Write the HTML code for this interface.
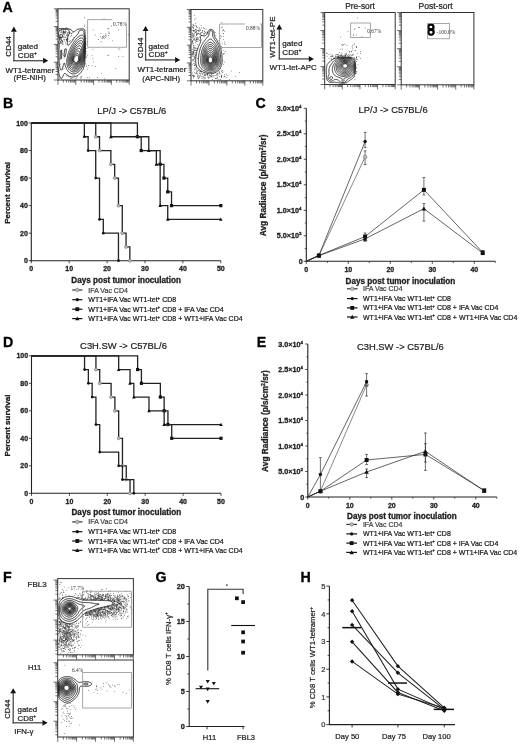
<!DOCTYPE html>
<html><head><meta charset="utf-8"><style>
html,body{margin:0;padding:0;background:#fff;}
svg{display:block;font-family:"Liberation Sans",sans-serif;filter:grayscale(1);}
</style></head><body>
<svg width="520" height="744" viewBox="0 0 520 744">
<rect width="520" height="744" fill="#fff"/>
<text x="2.60" y="12.30" font-size="14.2" font-weight="bold" text-anchor="start" fill="#000" stroke="#000" stroke-width="0.3">A</text>
<text x="3.10" y="108.10" font-size="14.2" font-weight="bold" text-anchor="start" fill="#000" stroke="#000" stroke-width="0.3">B</text>
<text x="255.40" y="108.10" font-size="14.2" font-weight="bold" text-anchor="start" fill="#000" stroke="#000" stroke-width="0.3">C</text>
<text x="2.90" y="346.60" font-size="14.2" font-weight="bold" text-anchor="start" fill="#000" stroke="#000" stroke-width="0.3">D</text>
<text x="256.80" y="347.00" font-size="14.2" font-weight="bold" text-anchor="start" fill="#000" stroke="#000" stroke-width="0.3">E</text>
<text x="3.00" y="582.40" font-size="14.2" font-weight="bold" text-anchor="start" fill="#000" stroke="#000" stroke-width="0.3">F</text>
<text x="155.60" y="581.90" font-size="14.2" font-weight="bold" text-anchor="start" fill="#000" stroke="#000" stroke-width="0.3">G</text>
<text x="300.60" y="582.20" font-size="14.2" font-weight="bold" text-anchor="start" fill="#000" stroke="#000" stroke-width="0.3">H</text>
<line x1="13.90" y1="61.35" x2="13.90" y2="31.40" stroke="#4a4a4a" stroke-width="1.3"/>
<path d="M11.00,31.70 L13.90,26.60 L16.80,31.70 Z" fill="#111"/>
<line x1="13.25" y1="60.70" x2="43.40" y2="60.70" stroke="#4a4a4a" stroke-width="1.3"/>
<path d="M43.10,57.80 L48.20,60.70 L43.10,63.60 Z" fill="#111"/>
<text x="11.00" y="46.40" font-size="8.0" text-anchor="middle" transform="rotate(-90 11.00 46.40)" fill="#1e1e1e" stroke="#1e1e1e" stroke-width="0.22">CD44</text>
<text x="17.80" y="48.80" font-size="8.1" text-anchor="start" fill="#1e1e1e" stroke="#1e1e1e" stroke-width="0.22">gated</text>
<text x="17.80" y="57.80" font-size="8.1" text-anchor="start" fill="#1e1e1e" stroke="#1e1e1e" stroke-width="0.22">CD8<tspan font-size="5" dy="-3">+</tspan></text>
<text x="5.40" y="72.80" font-size="7.95" text-anchor="start" fill="#1e1e1e" stroke="#1e1e1e" stroke-width="0.22">WT1-tetramer</text>
<text x="13.60" y="80.40" font-size="7.95" text-anchor="start" fill="#1e1e1e" stroke="#1e1e1e" stroke-width="0.22">(PE-NIH)</text>
<line x1="145.60" y1="60.55" x2="145.60" y2="30.80" stroke="#4a4a4a" stroke-width="1.3"/>
<path d="M142.70,31.10 L145.60,26.00 L148.50,31.10 Z" fill="#111"/>
<line x1="144.95" y1="59.90" x2="175.40" y2="59.90" stroke="#4a4a4a" stroke-width="1.3"/>
<path d="M175.10,57.00 L180.20,59.90 L175.10,62.80 Z" fill="#111"/>
<text x="143.40" y="47.90" font-size="8.0" text-anchor="middle" transform="rotate(-90 143.40 47.90)" fill="#1e1e1e" stroke="#1e1e1e" stroke-width="0.22">CD44</text>
<text x="148.60" y="48.80" font-size="8.1" text-anchor="start" fill="#1e1e1e" stroke="#1e1e1e" stroke-width="0.22">gated</text>
<text x="148.60" y="57.30" font-size="8.1" text-anchor="start" fill="#1e1e1e" stroke="#1e1e1e" stroke-width="0.22">CD8<tspan font-size="5" dy="-3">+</tspan></text>
<text x="137.40" y="72.40" font-size="7.95" text-anchor="start" fill="#1e1e1e" stroke="#1e1e1e" stroke-width="0.22">WT1-tetramer</text>
<text x="142.30" y="81.00" font-size="7.95" text-anchor="start" fill="#1e1e1e" stroke="#1e1e1e" stroke-width="0.22">(APC-NIH)</text>
<line x1="279.30" y1="59.55" x2="279.30" y2="29.10" stroke="#4a4a4a" stroke-width="1.3"/>
<path d="M276.40,29.40 L279.30,24.30 L282.20,29.40 Z" fill="#111"/>
<line x1="278.65" y1="58.90" x2="309.10" y2="58.90" stroke="#4a4a4a" stroke-width="1.3"/>
<path d="M308.80,56.00 L313.90,58.90 L308.80,61.80 Z" fill="#111"/>
<text x="274.80" y="37.20" font-size="7.9" text-anchor="middle" transform="rotate(-90 274.80 37.20)" fill="#1e1e1e" stroke="#1e1e1e" stroke-width="0.22">WT1-tet-PE</text>
<text x="282.30" y="45.50" font-size="8.1" text-anchor="start" fill="#1e1e1e" stroke="#1e1e1e" stroke-width="0.22">gated</text>
<text x="282.30" y="54.50" font-size="8.1" text-anchor="start" fill="#1e1e1e" stroke="#1e1e1e" stroke-width="0.22">CD8<tspan font-size="5" dy="-3">+</tspan></text>
<text x="269.60" y="70.00" font-size="7.95" text-anchor="start" fill="#1e1e1e" stroke="#1e1e1e" stroke-width="0.22">WT1-tet-APC</text>
<text x="360.00" y="9.00" font-size="8.3" text-anchor="middle" fill="#1e1e1e" stroke="#1e1e1e" stroke-width="0.22">Pre-sort</text>
<text x="435.60" y="9.00" font-size="8.5" text-anchor="middle" fill="#1e1e1e" stroke="#1e1e1e" stroke-width="0.22">Post-sort</text>
<rect x="65.92" y="34.10" width="0.70" height="0.70" fill="#333"/>
<rect x="74.84" y="78.42" width="0.70" height="0.70" fill="#333"/>
<rect x="103.99" y="78.52" width="0.70" height="0.70" fill="#333"/>
<rect x="58.62" y="36.18" width="0.70" height="0.70" fill="#333"/>
<rect x="67.24" y="32.11" width="0.70" height="0.70" fill="#333"/>
<rect x="60.46" y="31.65" width="0.70" height="0.70" fill="#333"/>
<rect x="59.03" y="70.28" width="0.70" height="0.70" fill="#333"/>
<rect x="61.11" y="58.06" width="0.70" height="0.70" fill="#333"/>
<rect x="91.79" y="65.12" width="0.70" height="0.70" fill="#333"/>
<rect x="82.60" y="56.96" width="0.70" height="0.70" fill="#333"/>
<rect x="85.34" y="63.39" width="0.70" height="0.70" fill="#333"/>
<rect x="87.34" y="68.78" width="0.70" height="0.70" fill="#333"/>
<rect x="61.08" y="28.14" width="0.70" height="0.70" fill="#333"/>
<rect x="107.52" y="54.80" width="0.70" height="0.70" fill="#333"/>
<rect x="66.89" y="39.12" width="0.70" height="0.70" fill="#333"/>
<rect x="72.41" y="38.87" width="0.70" height="0.70" fill="#333"/>
<rect x="62.69" y="31.63" width="0.70" height="0.70" fill="#333"/>
<rect x="67.76" y="34.96" width="0.70" height="0.70" fill="#333"/>
<rect x="59.77" y="36.68" width="0.70" height="0.70" fill="#333"/>
<rect x="86.37" y="43.78" width="0.70" height="0.70" fill="#333"/>
<rect x="66.99" y="40.39" width="0.70" height="0.70" fill="#333"/>
<rect x="71.27" y="35.28" width="0.70" height="0.70" fill="#333"/>
<rect x="65.96" y="38.87" width="0.70" height="0.70" fill="#333"/>
<rect x="59.52" y="37.27" width="0.70" height="0.70" fill="#333"/>
<rect x="60.50" y="32.69" width="0.70" height="0.70" fill="#333"/>
<rect x="66.11" y="34.91" width="0.70" height="0.70" fill="#333"/>
<rect x="63.99" y="34.57" width="0.70" height="0.70" fill="#333"/>
<rect x="71.06" y="33.00" width="0.70" height="0.70" fill="#333"/>
<rect x="93.07" y="61.64" width="0.70" height="0.70" fill="#333"/>
<rect x="94.98" y="66.15" width="0.70" height="0.70" fill="#333"/>
<rect x="67.92" y="38.77" width="0.70" height="0.70" fill="#333"/>
<rect x="67.04" y="38.10" width="0.70" height="0.70" fill="#333"/>
<rect x="61.59" y="37.12" width="0.70" height="0.70" fill="#333"/>
<rect x="66.80" y="74.99" width="0.70" height="0.70" fill="#333"/>
<rect x="60.50" y="38.26" width="0.70" height="0.70" fill="#333"/>
<rect x="71.05" y="33.13" width="0.70" height="0.70" fill="#333"/>
<rect x="62.81" y="31.76" width="0.70" height="0.70" fill="#333"/>
<rect x="63.40" y="55.34" width="0.70" height="0.70" fill="#333"/>
<rect x="103.68" y="18.62" width="0.70" height="0.70" fill="#333"/>
<rect x="101.31" y="72.92" width="0.70" height="0.70" fill="#333"/>
<rect x="108.19" y="54.92" width="0.70" height="0.70" fill="#333"/>
<rect x="64.02" y="49.06" width="0.70" height="0.70" fill="#333"/>
<rect x="65.33" y="32.20" width="0.70" height="0.70" fill="#333"/>
<rect x="72.08" y="32.41" width="0.70" height="0.70" fill="#333"/>
<rect x="62.09" y="40.65" width="0.70" height="0.70" fill="#333"/>
<rect x="84.24" y="17.43" width="0.70" height="0.70" fill="#333"/>
<rect x="74.35" y="75.19" width="0.70" height="0.70" fill="#333"/>
<rect x="58.96" y="36.95" width="0.70" height="0.70" fill="#333"/>
<rect x="65.52" y="31.62" width="0.70" height="0.70" fill="#333"/>
<rect x="63.27" y="31.09" width="0.70" height="0.70" fill="#333"/>
<rect x="69.93" y="40.33" width="0.70" height="0.70" fill="#333"/>
<rect x="62.04" y="43.94" width="0.70" height="0.70" fill="#333"/>
<rect x="85.63" y="38.28" width="0.70" height="0.70" fill="#333"/>
<rect x="83.33" y="33.55" width="0.70" height="0.70" fill="#333"/>
<rect x="59.23" y="28.18" width="0.70" height="0.70" fill="#333"/>
<rect x="118.15" y="56.23" width="0.70" height="0.70" fill="#333"/>
<rect x="108.58" y="33.25" width="0.70" height="0.70" fill="#333"/>
<rect x="62.57" y="41.56" width="0.70" height="0.70" fill="#333"/>
<rect x="73.46" y="37.08" width="0.70" height="0.70" fill="#333"/>
<rect x="86.60" y="27.53" width="0.70" height="0.70" fill="#333"/>
<rect x="59.94" y="63.78" width="0.70" height="0.70" fill="#333"/>
<rect x="61.12" y="39.48" width="0.70" height="0.70" fill="#333"/>
<rect x="62.91" y="30.55" width="0.70" height="0.70" fill="#333"/>
<rect x="63.51" y="39.12" width="0.70" height="0.70" fill="#333"/>
<rect x="62.90" y="37.35" width="0.70" height="0.70" fill="#333"/>
<rect x="71.65" y="78.06" width="0.70" height="0.70" fill="#333"/>
<rect x="59.34" y="42.89" width="0.70" height="0.70" fill="#333"/>
<rect x="59.45" y="77.99" width="0.70" height="0.70" fill="#333"/>
<rect x="127.79" y="34.38" width="0.70" height="0.70" fill="#333"/>
<rect x="61.51" y="38.73" width="0.70" height="0.70" fill="#333"/>
<rect x="63.77" y="33.06" width="0.70" height="0.70" fill="#333"/>
<rect x="92.80" y="29.71" width="0.70" height="0.70" fill="#333"/>
<rect x="69.10" y="32.35" width="0.70" height="0.70" fill="#333"/>
<rect x="118.22" y="29.63" width="0.70" height="0.70" fill="#333"/>
<rect x="88.21" y="65.27" width="0.70" height="0.70" fill="#333"/>
<rect x="84.38" y="47.39" width="0.70" height="0.70" fill="#333"/>
<rect x="59.62" y="55.60" width="0.70" height="0.70" fill="#333"/>
<rect x="81.65" y="49.66" width="0.70" height="0.70" fill="#333"/>
<rect x="67.08" y="33.21" width="0.70" height="0.70" fill="#333"/>
<rect x="85.19" y="43.47" width="0.70" height="0.70" fill="#333"/>
<rect x="67.88" y="35.59" width="0.70" height="0.70" fill="#333"/>
<rect x="89.00" y="77.35" width="0.70" height="0.70" fill="#333"/>
<rect x="62.55" y="69.00" width="0.70" height="0.70" fill="#333"/>
<rect x="66.02" y="40.08" width="0.70" height="0.70" fill="#333"/>
<rect x="68.27" y="33.60" width="0.70" height="0.70" fill="#333"/>
<rect x="61.58" y="53.40" width="0.70" height="0.70" fill="#333"/>
<rect x="115.42" y="67.99" width="0.70" height="0.70" fill="#333"/>
<rect x="62.53" y="53.65" width="0.70" height="0.70" fill="#333"/>
<rect x="91.64" y="55.43" width="0.70" height="0.70" fill="#333"/>
<rect x="64.03" y="38.92" width="0.70" height="0.70" fill="#333"/>
<rect x="62.78" y="33.74" width="0.70" height="0.70" fill="#333"/>
<rect x="66.86" y="35.31" width="0.70" height="0.70" fill="#333"/>
<rect x="59.79" y="38.95" width="0.70" height="0.70" fill="#333"/>
<rect x="58.89" y="28.35" width="0.70" height="0.70" fill="#333"/>
<rect x="85.54" y="29.81" width="0.70" height="0.70" fill="#333"/>
<rect x="65.67" y="31.53" width="0.70" height="0.70" fill="#333"/>
<rect x="83.65" y="56.54" width="0.70" height="0.70" fill="#333"/>
<rect x="61.32" y="31.27" width="0.70" height="0.70" fill="#333"/>
<rect x="60.49" y="43.33" width="0.70" height="0.70" fill="#333"/>
<rect x="58.48" y="58.31" width="0.70" height="0.70" fill="#333"/>
<rect x="68.74" y="41.31" width="0.70" height="0.70" fill="#333"/>
<rect x="65.68" y="27.33" width="0.70" height="0.70" fill="#333"/>
<rect x="61.39" y="32.05" width="0.70" height="0.70" fill="#333"/>
<rect x="85.89" y="56.68" width="0.70" height="0.70" fill="#333"/>
<rect x="63.04" y="31.61" width="0.70" height="0.70" fill="#333"/>
<rect x="70.92" y="33.59" width="0.70" height="0.70" fill="#333"/>
<rect x="59.48" y="76.34" width="0.70" height="0.70" fill="#333"/>
<rect x="65.19" y="30.94" width="0.70" height="0.70" fill="#333"/>
<rect x="82.81" y="66.55" width="0.70" height="0.70" fill="#333"/>
<rect x="86.93" y="77.16" width="0.70" height="0.70" fill="#333"/>
<rect x="65.16" y="36.67" width="0.70" height="0.70" fill="#333"/>
<rect x="80.93" y="76.76" width="0.70" height="0.70" fill="#333"/>
<rect x="62.62" y="31.83" width="0.70" height="0.70" fill="#333"/>
<rect x="68.44" y="36.70" width="0.70" height="0.70" fill="#333"/>
<rect x="59.51" y="59.22" width="0.70" height="0.70" fill="#333"/>
<rect x="68.08" y="76.42" width="0.70" height="0.70" fill="#333"/>
<rect x="83.96" y="24.73" width="0.70" height="0.70" fill="#333"/>
<rect x="62.59" y="33.12" width="0.70" height="0.70" fill="#333"/>
<rect x="87.36" y="55.32" width="0.70" height="0.70" fill="#333"/>
<rect x="65.10" y="42.55" width="0.70" height="0.70" fill="#333"/>
<rect x="62.61" y="28.67" width="0.70" height="0.70" fill="#333"/>
<rect x="64.16" y="40.67" width="0.70" height="0.70" fill="#333"/>
<rect x="86.98" y="42.50" width="0.70" height="0.70" fill="#333"/>
<rect x="84.82" y="35.60" width="0.70" height="0.70" fill="#333"/>
<rect x="86.64" y="48.12" width="0.70" height="0.70" fill="#333"/>
<rect x="79.93" y="76.72" width="0.70" height="0.70" fill="#333"/>
<rect x="60.05" y="38.37" width="0.70" height="0.70" fill="#333"/>
<rect x="59.90" y="50.85" width="0.70" height="0.70" fill="#333"/>
<rect x="97.19" y="77.08" width="0.70" height="0.70" fill="#333"/>
<rect x="60.73" y="37.23" width="0.70" height="0.70" fill="#333"/>
<rect x="66.50" y="39.03" width="0.70" height="0.70" fill="#333"/>
<rect x="86.30" y="66.23" width="0.70" height="0.70" fill="#333"/>
<rect x="76.92" y="75.94" width="0.70" height="0.70" fill="#333"/>
<rect x="59.78" y="41.22" width="0.70" height="0.70" fill="#333"/>
<rect x="59.66" y="37.51" width="0.70" height="0.70" fill="#333"/>
<rect x="68.42" y="32.16" width="0.70" height="0.70" fill="#333"/>
<rect x="80.92" y="76.00" width="0.70" height="0.70" fill="#333"/>
<rect x="69.66" y="32.78" width="0.70" height="0.70" fill="#333"/>
<rect x="64.74" y="37.07" width="0.70" height="0.70" fill="#333"/>
<rect x="86.77" y="41.12" width="0.70" height="0.70" fill="#333"/>
<rect x="60.98" y="29.11" width="0.70" height="0.70" fill="#333"/>
<rect x="68.49" y="31.64" width="0.70" height="0.70" fill="#333"/>
<rect x="66.41" y="75.66" width="0.70" height="0.70" fill="#333"/>
<rect x="62.34" y="36.50" width="0.70" height="0.70" fill="#333"/>
<rect x="63.77" y="68.33" width="0.70" height="0.70" fill="#333"/>
<rect x="67.09" y="38.14" width="0.70" height="0.70" fill="#333"/>
<rect x="59.75" y="57.72" width="0.70" height="0.70" fill="#333"/>
<rect x="65.67" y="39.09" width="0.70" height="0.70" fill="#333"/>
<rect x="119.47" y="48.87" width="0.70" height="0.70" fill="#333"/>
<rect x="65.25" y="29.56" width="0.70" height="0.70" fill="#333"/>
<rect x="65.55" y="44.49" width="0.70" height="0.70" fill="#333"/>
<rect x="61.80" y="49.74" width="0.70" height="0.70" fill="#333"/>
<rect x="86.11" y="56.77" width="0.70" height="0.70" fill="#333"/>
<rect x="63.22" y="36.37" width="0.70" height="0.70" fill="#333"/>
<rect x="59.59" y="34.73" width="0.70" height="0.70" fill="#333"/>
<rect x="100.58" y="33.11" width="0.70" height="0.70" fill="#333"/>
<rect x="58.93" y="30.16" width="0.70" height="0.70" fill="#333"/>
<rect x="80.53" y="78.37" width="0.70" height="0.70" fill="#333"/>
<rect x="69.05" y="40.95" width="0.70" height="0.70" fill="#333"/>
<rect x="69.66" y="29.24" width="0.70" height="0.70" fill="#333"/>
<rect x="60.13" y="58.51" width="0.70" height="0.70" fill="#333"/>
<rect x="118.07" y="48.44" width="0.70" height="0.70" fill="#333"/>
<rect x="62.43" y="40.86" width="0.70" height="0.70" fill="#333"/>
<rect x="64.44" y="36.71" width="0.70" height="0.70" fill="#333"/>
<rect x="122.50" y="56.22" width="0.70" height="0.70" fill="#333"/>
<rect x="63.87" y="31.97" width="0.70" height="0.70" fill="#333"/>
<rect x="64.14" y="51.26" width="0.70" height="0.70" fill="#333"/>
<rect x="92.56" y="58.53" width="0.70" height="0.70" fill="#333"/>
<rect x="62.56" y="43.04" width="0.70" height="0.70" fill="#333"/>
<rect x="63.69" y="57.79" width="0.70" height="0.70" fill="#333"/>
<rect x="69.95" y="76.59" width="0.70" height="0.70" fill="#333"/>
<rect x="62.54" y="28.05" width="0.70" height="0.70" fill="#333"/>
<rect x="67.39" y="33.91" width="0.70" height="0.70" fill="#333"/>
<rect x="111.93" y="40.47" width="0.70" height="0.70" fill="#333"/>
<rect x="92.73" y="48.85" width="0.70" height="0.70" fill="#333"/>
<rect x="84.34" y="36.14" width="0.70" height="0.70" fill="#333"/>
<rect x="81.95" y="42.23" width="0.70" height="0.70" fill="#333"/>
<rect x="76.24" y="77.66" width="0.70" height="0.70" fill="#333"/>
<rect x="85.84" y="51.41" width="0.70" height="0.70" fill="#333"/>
<rect x="86.61" y="53.58" width="0.70" height="0.70" fill="#333"/>
<rect x="67.70" y="29.05" width="0.70" height="0.70" fill="#333"/>
<rect x="62.64" y="33.62" width="0.70" height="0.70" fill="#333"/>
<rect x="58.58" y="43.41" width="0.70" height="0.70" fill="#333"/>
<rect x="59.51" y="38.72" width="0.70" height="0.70" fill="#333"/>
<rect x="60.04" y="35.74" width="0.70" height="0.70" fill="#333"/>
<rect x="72.51" y="75.11" width="0.70" height="0.70" fill="#333"/>
<rect x="83.17" y="51.05" width="0.70" height="0.70" fill="#333"/>
<rect x="60.64" y="37.24" width="0.70" height="0.70" fill="#333"/>
<rect x="94.93" y="34.73" width="0.70" height="0.70" fill="#333"/>
<rect x="84.29" y="26.26" width="0.70" height="0.70" fill="#333"/>
<rect x="60.65" y="37.18" width="0.70" height="0.70" fill="#333"/>
<rect x="85.78" y="64.55" width="0.70" height="0.70" fill="#333"/>
<rect x="62.06" y="34.83" width="0.70" height="0.70" fill="#333"/>
<rect x="63.42" y="34.11" width="0.70" height="0.70" fill="#333"/>
<rect x="67.20" y="41.02" width="0.70" height="0.70" fill="#333"/>
<rect x="70.69" y="78.31" width="0.70" height="0.70" fill="#333"/>
<rect x="58.88" y="64.66" width="0.70" height="0.70" fill="#333"/>
<rect x="65.39" y="33.10" width="0.70" height="0.70" fill="#333"/>
<rect x="70.37" y="36.12" width="0.70" height="0.70" fill="#333"/>
<rect x="62.66" y="43.67" width="0.70" height="0.70" fill="#333"/>
<path d="M58.0,29.8 L58.4,29.4 L59.0,29.1 L59.4,29.0 L60.1,28.8 L60.7,28.8 L61.1,28.7 L61.9,28.7 L62.5,28.6 L63.2,28.6 L64.0,28.6 L64.7,28.6 L65.3,28.6 L66.0,28.5 L66.8,28.5 L67.5,28.6 L68.2,28.7 L68.6,28.8 L69.2,28.9 L69.7,29.1 L70.2,29.3 L70.6,29.5 L71.1,29.8 L71.5,30.1 L71.8,30.5 L72.2,30.8 L72.5,31.2 L72.9,31.6 L73.4,31.9 L74.1,31.8 L74.6,31.6 L75.0,31.2 L75.4,30.8 L75.8,30.5 L76.2,30.1 L76.5,29.9 L76.9,29.7 L77.4,29.4 L78.0,29.3 L78.7,29.1 L79.0,29.1 L79.7,29.0 L80.4,28.9 L81.1,28.8 L81.8,28.8 L82.5,28.8 L83.2,28.9 L83.9,29.0 L84.2,29.2 L84.6,29.8 L84.7,30.1 L84.8,30.8 L84.9,31.6 L85.0,32.0 L85.0,32.6 L85.1,33.3 L85.1,34.0 L85.2,34.7 L85.2,35.4 L85.3,36.1 L85.3,36.8 L85.3,37.1 L85.4,37.8 L85.4,38.5 L85.4,39.2 L85.5,40.0 L85.5,40.6 L85.5,41.3 L85.5,42.0 L85.5,42.8 L85.5,43.5 L85.5,44.1 L85.5,44.8 L85.5,45.5 L85.5,46.2 L85.5,47.0 L85.5,47.6 L85.5,48.3 L85.5,49.0 L85.5,49.8 L85.5,50.5 L85.5,51.1 L85.4,51.8 L85.4,52.5 L85.4,53.2 L85.4,54.0 L85.3,54.6 L85.3,55.0 L85.3,55.7 L85.2,56.4 L85.2,57.1 L85.2,57.8 L85.1,58.5 L85.1,59.2 L85.0,59.9 L85.0,60.6 L84.9,61.0 L84.9,61.6 L84.8,62.3 L84.7,63.0 L84.6,63.8 L84.6,64.1 L84.5,64.8 L84.4,65.5 L84.2,66.0 L84.1,66.5 L83.9,67.2 L83.8,67.6 L83.5,68.3 L83.4,68.6 L83.2,69.1 L82.9,69.7 L82.7,70.0 L82.4,70.4 L82.2,70.8 L81.8,71.3 L81.5,71.8 L81.1,72.1 L80.8,72.5 L80.5,72.8 L80.2,73.2 L79.9,73.5 L79.5,73.9 L79.1,74.2 L78.7,74.6 L78.3,74.9 L78.0,75.2 L77.6,75.4 L77.2,75.6 L76.6,76.0 L76.2,76.2 L75.8,76.3 L75.2,76.6 L74.8,76.7 L74.1,76.9 L73.4,77.0 L72.9,77.0 L72.3,77.1 L72.0,77.0 L71.3,77.0 L70.6,76.8 L70.2,76.7 L69.5,76.4 L69.2,76.3 L68.7,76.0 L68.2,75.7 L67.8,75.4 L67.5,75.2 L67.1,74.9 L66.7,74.6 L66.3,74.2 L65.9,73.9 L65.4,73.5 L65.0,73.4 L64.4,73.5 L64.1,73.9 L63.8,74.2 L63.6,74.7 L63.3,75.3 L63.2,75.6 L62.9,76.3 L62.7,76.7 L62.5,77.0 L62.2,77.6 L61.9,78.1 L61.5,78.4 L61.1,78.5 L60.8,78.4 L60.5,78.0 L60.1,77.5 L59.9,77.0 L59.8,76.6 L59.5,76.0 L59.4,75.5 L59.3,74.9 L59.1,74.2 L59.0,73.9 L58.9,73.2 L58.7,72.5 L58.7,72.1 L58.6,71.5 L58.5,70.8 L58.4,70.0 L58.3,69.7 L58.2,69.0 L58.1,68.3 L58.1,67.6 L58.0,66.9" fill="none" stroke="#0a0a0a" stroke-width="0.8"/>
<path d="M73.8,73.9 L73.0,73.9 L72.7,73.9 L72.0,73.7 L71.4,73.5 L71.0,73.4 L70.6,73.2 L70.0,72.8 L69.5,72.6 L69.2,72.3 L68.8,72.0 L68.5,71.7 L68.2,71.3 L67.8,70.9 L67.5,70.4 L67.2,70.0 L67.0,69.7 L66.8,69.2 L66.5,68.6 L66.3,68.3 L66.0,67.7 L65.8,67.2 L65.7,66.8 L65.5,66.2 L65.3,65.8 L65.1,65.1 L65.0,64.7 L64.8,64.1 L64.7,63.5 L64.3,63.0 L64.2,63.0 L64.0,63.4 L63.7,64.1 L63.6,64.5 L63.4,65.1 L63.2,65.7 L63.1,66.2 L62.9,66.9 L62.8,67.2 L62.6,68.0 L62.4,68.3 L62.2,68.9 L62.0,69.3 L61.8,69.7 L61.5,70.1 L60.9,70.0 L60.6,69.7 L60.4,69.3 L60.2,68.6 L60.1,68.3 L59.9,67.6 L59.8,66.9 L59.7,66.5 L59.6,65.8 L59.5,65.1 L59.4,64.5 L59.4,64.1 L59.3,63.4 L59.2,62.7 L59.2,62.0 L59.1,61.3 L59.1,60.6 L59.1,59.9 L59.0,59.5 L59.0,58.8 L59.0,58.1 L59.0,57.5 L59.0,56.8 L59.0,56.0 L58.9,55.3 L58.9,54.6 L59.0,54.0 L59.0,53.2 L59.0,52.5 L59.0,51.8 L59.0,51.1 L59.0,50.5 L59.0,49.9 L59.1,49.4 L59.1,48.7 L59.1,48.0 L59.2,47.3 L59.2,46.6 L59.3,45.9 L59.3,45.2 L59.3,44.5 L59.1,43.8 L59.0,43.5 L58.7,42.9 L58.6,42.4 L58.6,41.7 L58.8,41.3 L59.0,40.9 L59.4,40.4 L59.6,40.0 L59.7,39.2 L59.5,38.5 L59.3,38.2 L59.0,37.8 L58.7,37.1 L58.6,36.8 L58.4,36.1 L58.5,35.4 L58.6,34.7 L58.6,34.0 L58.6,33.3 L58.6,32.6 L58.7,32.0 L58.8,31.6 L59.0,31.2 L59.4,30.8 L59.8,30.5 L60.5,30.2 L60.8,30.1 L61.5,30.0 L62.2,29.9 L62.6,29.8 L63.2,29.7 L64.0,29.7 L64.7,29.6 L65.2,29.4 L65.7,29.4 L66.4,29.3 L67.1,29.3 L67.8,29.4 L68.2,29.7 L68.5,30.0 L68.8,30.5 L69.1,30.8 L69.3,31.2 L69.5,31.6 L69.8,32.2 L69.8,33.0 L69.5,33.6 L69.3,34.0 L69.0,34.3 L68.7,34.7 L68.4,35.0 L68.1,35.4 L67.8,35.8 L67.6,36.5 L67.5,36.9 L67.3,37.5 L67.2,38.2 L67.2,38.9 L67.2,39.6 L67.2,40.3 L67.2,41.0 L67.3,41.7 L67.3,42.4 L67.3,43.1 L67.4,43.8 L67.5,44.2 L67.6,44.8 L67.9,45.2 L68.3,45.2 L68.8,44.9 L69.2,44.6 L69.5,44.2 L69.9,43.9 L70.2,43.5 L70.5,43.1 L70.8,42.8 L71.1,42.4 L71.4,42.0 L71.7,41.7 L72.0,41.2 L72.3,40.7 L72.6,40.3 L72.9,40.0 L73.1,39.6 L73.4,39.2 L73.8,38.8 L74.1,38.3 L74.4,37.8 L74.7,37.5 L75.0,37.1 L75.3,36.8 L75.6,36.5 L75.9,36.1 L76.2,35.8 L76.6,35.4 L76.9,35.0 L77.3,34.7 L77.6,34.3 L78.0,33.9 L78.3,33.4 L78.5,33.0 L78.7,32.4 L78.7,31.9 L79.0,31.2 L79.3,30.8 L79.7,30.6 L80.0,30.4 L80.8,30.2 L81.2,30.1 L81.7,30.1 L82.2,30.2 L82.8,30.4 L83.2,30.7 L83.5,31.1 L83.7,31.6 L83.9,32.2 L84.0,32.6 L84.1,33.3 L84.2,33.9 L84.3,34.3 L84.4,35.0 L84.5,35.8 L84.6,36.2 L84.7,36.8 L84.7,37.5 L84.8,38.2 L84.8,38.9 L84.9,39.6 L84.9,40.3 L84.9,41.0 L85.0,41.3 L85.0,42.0 L85.0,42.8 L85.0,43.5 L85.0,44.1 L85.0,44.8 L85.0,45.5 L85.0,46.2 L85.0,47.0 L85.0,47.6 L85.0,48.3 L85.0,49.0 L85.0,49.8 L85.0,50.5 L85.0,51.1 L85.0,51.5 L84.9,52.2 L84.9,52.9 L84.9,53.6 L84.8,54.3 L84.8,55.0 L84.8,55.7 L84.7,56.4 L84.7,57.1 L84.6,57.8 L84.6,58.1 L84.5,58.8 L84.4,59.5 L84.4,60.2 L84.3,61.0 L84.2,61.3 L84.1,62.0 L84.0,62.7 L83.9,63.1 L83.8,63.8 L83.6,64.5 L83.4,64.8 L83.2,65.4 L83.0,65.8 L82.8,66.2 L82.5,66.9 L82.3,67.2 L82.1,67.6 L81.8,68.1 L81.5,68.6 L81.2,69.0 L80.9,69.3 L80.7,69.7 L80.4,70.0 L80.0,70.4 L79.7,70.8 L79.3,71.1 L79.0,71.5 L78.6,71.8 L78.1,72.1 L77.6,72.5 L77.2,72.8 L76.9,73.0 L76.4,73.2 L75.8,73.4 L75.5,73.6 L74.8,73.8 L74.1,73.9 L73.8,73.9" fill="none" stroke="#0a0a0a" stroke-width="0.8"/>
<path d="M64.7,57.1 L65.0,56.6 L65.2,56.0 L65.3,55.5 L65.5,55.0 L65.7,54.3 L65.7,54.0 L65.9,53.2 L66.0,52.5 L66.1,52.2 L66.2,51.5 L66.2,50.8 L66.3,50.1 L66.3,49.4 L66.1,48.7 L65.7,48.6 L65.3,48.9 L65.0,49.4 L64.9,49.8 L64.7,50.3 L64.5,50.8 L64.4,51.5 L64.3,52.2 L64.3,52.5 L64.2,53.2 L64.2,54.0 L64.2,54.6 L64.2,55.3 L64.3,56.0 L64.3,56.4 L64.6,57.1 L64.7,57.1" fill="none" stroke="#0a0a0a" stroke-width="0.8"/>
<path d="M64.3,32.6 L63.8,32.6 L63.5,32.2 L63.6,31.8 L64.3,31.6 L64.7,31.9 L64.7,32.3 L64.3,32.6" fill="none" stroke="#0a0a0a" stroke-width="0.8"/>
<path d="M61.9,37.6 L61.1,37.8 L60.5,37.6 L60.1,37.3 L59.8,36.8 L59.7,36.5 L59.6,35.8 L59.8,35.4 L60.1,34.8 L60.5,34.5 L61.1,34.5 L61.7,34.7 L62.1,35.0 L62.3,35.4 L62.4,36.1 L62.3,36.8 L62.2,37.1 L61.9,37.6" fill="none" stroke="#0a0a0a" stroke-width="0.8"/>
<path d="M75.2,71.8 L74.5,71.9 L73.8,72.0 L73.0,71.9 L72.6,71.8 L72.0,71.6 L71.6,71.5 L71.0,71.1 L70.6,70.8 L70.2,70.6 L69.9,70.3 L69.5,69.9 L69.2,69.5 L68.8,69.1 L68.6,68.6 L68.4,68.3 L68.2,67.9 L67.8,67.2 L67.7,66.9 L67.5,66.2 L67.3,65.8 L67.1,65.1 L67.1,64.8 L66.9,64.1 L66.8,63.4 L66.8,62.7 L66.8,62.0 L66.7,61.6 L66.8,61.0 L66.8,60.6 L66.8,59.9 L66.9,59.2 L67.0,58.5 L67.1,57.9 L67.2,57.5 L67.3,56.8 L67.5,56.4 L67.6,55.7 L67.8,55.1 L67.9,54.6 L68.1,54.0 L68.2,53.6 L68.5,52.9 L68.6,52.5 L68.8,51.8 L68.9,51.5 L69.2,50.8 L69.3,50.5 L69.5,50.0 L69.8,49.4 L69.9,49.0 L70.2,48.4 L70.4,48.0 L70.6,47.6 L70.9,47.0 L71.1,46.6 L71.3,46.2 L71.7,45.6 L71.9,45.2 L72.1,44.8 L72.3,44.4 L72.7,43.8 L72.9,43.5 L73.1,43.1 L73.4,42.7 L73.8,42.2 L74.1,41.7 L74.3,41.3 L74.5,41.0 L74.8,40.6 L75.2,40.2 L75.5,39.7 L75.8,39.3 L76.2,38.9 L76.5,38.5 L76.8,38.2 L77.2,37.8 L77.5,37.5 L77.9,37.1 L78.3,36.8 L78.7,36.6 L79.0,36.3 L79.3,36.1 L79.9,35.8 L80.4,35.5 L80.8,35.4 L81.5,35.2 L82.2,35.1 L82.8,35.3 L83.2,35.6 L83.5,36.1 L83.7,36.5 L83.9,37.0 L84.0,37.5 L84.2,38.2 L84.2,38.8 L84.3,39.2 L84.4,40.0 L84.4,40.6 L84.5,41.3 L84.5,42.0 L84.6,42.8 L84.6,43.5 L84.6,44.0 L84.6,44.5 L84.6,45.2 L84.6,45.9 L84.6,46.6 L84.6,47.3 L84.6,48.0 L84.6,48.7 L84.6,49.4 L84.6,49.8 L84.6,50.5 L84.6,51.1 L84.5,51.8 L84.5,52.5 L84.5,53.2 L84.4,54.0 L84.4,54.6 L84.3,55.3 L84.3,56.0 L84.2,56.4 L84.1,57.1 L84.1,57.8 L84.0,58.5 L83.9,59.0 L83.8,59.5 L83.7,60.2 L83.6,61.0 L83.5,61.3 L83.3,62.0 L83.2,62.5 L83.0,63.0 L82.8,63.5 L82.6,64.1 L82.5,64.5 L82.2,65.1 L82.0,65.5 L81.8,65.8 L81.5,66.4 L81.2,66.9 L80.9,67.2 L80.7,67.6 L80.4,68.0 L80.0,68.4 L79.7,68.8 L79.3,69.2 L79.0,69.5 L78.7,69.9 L78.3,70.2 L78.0,70.4 L77.5,70.8 L76.9,71.1 L76.5,71.3 L76.2,71.5 L75.5,71.7 L75.2,71.8" fill="none" stroke="#0a0a0a" stroke-width="0.8"/>
<path d="M61.5,42.9 L60.8,42.9 L60.4,42.8 L59.9,42.4 L60.1,41.7 L60.5,41.4 L60.8,41.0 L61.1,40.6 L61.5,40.3 L61.9,40.3 L62.1,40.6 L62.3,41.0 L62.3,41.7 L62.2,42.0 L61.9,42.6 L61.5,42.9" fill="none" stroke="#0a0a0a" stroke-width="0.8"/>
<path d="M61.1,58.6 L61.0,58.1 L60.8,57.5 L60.8,57.1 L60.7,56.4 L60.7,55.7 L60.7,55.0 L60.7,54.3 L60.7,53.6 L60.7,52.9 L60.8,52.2 L60.8,51.8 L60.9,51.1 L61.0,50.5 L61.1,49.9 L61.5,50.2 L61.6,50.8 L61.6,51.5 L61.6,52.2 L61.7,52.9 L61.7,53.6 L61.7,54.3 L61.7,55.0 L61.6,55.7 L61.6,56.4 L61.6,57.1 L61.5,57.7 L61.4,58.1 L61.1,58.6" fill="none" stroke="#0a0a0a" stroke-width="0.8"/>
<path d="M75.8,70.1 L75.2,70.3 L74.5,70.4 L73.8,70.4 L73.0,70.2 L72.5,70.0 L72.0,69.8 L71.7,69.6 L71.3,69.3 L70.8,69.0 L70.5,68.6 L70.2,68.3 L69.9,68.0 L69.5,67.4 L69.2,66.9 L69.1,66.5 L68.8,66.0 L68.6,65.5 L68.5,65.0 L68.3,64.5 L68.2,63.8 L68.2,63.4 L68.1,62.7 L68.0,62.0 L68.0,61.3 L68.0,60.6 L68.1,59.9 L68.2,59.3 L68.2,58.8 L68.3,58.1 L68.5,57.5 L68.6,57.1 L68.8,56.4 L68.9,56.0 L69.1,55.3 L69.2,55.0 L69.4,54.3 L69.5,53.9 L69.8,53.2 L69.9,52.9 L70.2,52.2 L70.3,51.8 L70.6,51.1 L70.7,50.8 L71.0,50.3 L71.2,49.8 L71.3,49.4 L71.7,48.7 L71.8,48.3 L72.0,48.0 L72.3,47.3 L72.6,47.0 L72.7,46.6 L73.0,46.0 L73.3,45.5 L73.5,45.2 L73.8,44.8 L74.1,44.3 L74.4,43.8 L74.7,43.5 L74.9,43.1 L75.2,42.8 L75.5,42.3 L75.8,41.8 L76.2,41.4 L76.5,41.0 L76.9,40.6 L77.2,40.3 L77.6,40.0 L78.0,39.6 L78.3,39.3 L78.7,39.1 L79.0,38.8 L79.5,38.5 L80.0,38.3 L80.4,38.1 L81.1,38.0 L81.8,38.0 L82.4,38.2 L82.8,38.5 L83.1,38.9 L83.3,39.2 L83.5,39.9 L83.7,40.3 L83.8,41.0 L83.9,41.6 L84.0,42.0 L84.0,42.8 L84.1,43.5 L84.1,44.1 L84.2,44.8 L84.2,45.5 L84.2,46.2 L84.2,47.0 L84.2,47.6 L84.2,48.3 L84.2,49.0 L84.2,49.8 L84.1,50.5 L84.1,51.1 L84.1,51.8 L84.0,52.5 L84.0,53.2 L83.9,54.0 L83.9,54.3 L83.8,55.0 L83.7,55.7 L83.7,56.4 L83.5,57.1 L83.5,57.5 L83.4,58.1 L83.2,58.8 L83.2,59.2 L83.0,59.9 L82.9,60.6 L82.8,61.0 L82.6,61.6 L82.5,62.0 L82.2,62.7 L82.1,63.0 L81.8,63.8 L81.6,64.1 L81.5,64.5 L81.1,65.1 L80.9,65.5 L80.7,65.8 L80.4,66.2 L80.0,66.7 L79.7,67.2 L79.3,67.6 L79.0,68.0 L78.7,68.3 L78.3,68.6 L78.0,68.9 L77.6,69.2 L77.2,69.4 L76.7,69.7 L76.2,70.0 L75.8,70.1" fill="none" stroke="#0a0a0a" stroke-width="0.8"/>
<path d="M75.8,68.7 L75.2,68.9 L74.5,69.0 L73.8,68.9 L73.0,68.7 L72.7,68.5 L72.3,68.3 L71.8,68.0 L71.4,67.6 L71.0,67.2 L70.8,66.9 L70.5,66.5 L70.2,66.1 L69.9,65.5 L69.8,65.1 L69.6,64.5 L69.5,64.1 L69.3,63.4 L69.2,62.8 L69.1,62.3 L69.1,61.6 L69.1,61.0 L69.1,60.2 L69.2,59.5 L69.2,59.2 L69.3,58.5 L69.5,57.8 L69.6,57.5 L69.8,56.8 L69.9,56.4 L70.1,55.7 L70.2,55.3 L70.5,54.6 L70.6,54.2 L70.8,53.6 L71.0,53.2 L71.2,52.5 L71.4,52.2 L71.7,51.5 L71.8,51.1 L72.0,50.7 L72.3,50.1 L72.5,49.8 L72.7,49.3 L73.0,48.7 L73.2,48.3 L73.4,47.9 L73.7,47.3 L73.9,47.0 L74.2,46.6 L74.5,46.1 L74.8,45.6 L75.1,45.2 L75.3,44.8 L75.6,44.5 L75.8,44.1 L76.2,43.7 L76.5,43.3 L76.9,42.9 L77.2,42.5 L77.6,42.2 L78.0,41.9 L78.3,41.6 L78.7,41.3 L79.3,41.0 L79.7,40.8 L80.3,40.6 L80.8,40.6 L81.3,40.6 L81.8,40.8 L82.2,41.1 L82.5,41.4 L82.8,42.0 L83.0,42.4 L83.2,43.1 L83.3,43.5 L83.4,44.1 L83.5,44.8 L83.5,45.5 L83.6,45.9 L83.6,46.6 L83.6,47.3 L83.6,48.0 L83.6,48.7 L83.6,49.4 L83.6,50.1 L83.6,50.8 L83.5,51.4 L83.5,51.8 L83.5,52.5 L83.4,53.2 L83.3,54.0 L83.2,54.6 L83.2,55.0 L83.1,55.7 L83.0,56.4 L82.8,57.0 L82.8,57.5 L82.6,58.1 L82.5,58.8 L82.4,59.2 L82.3,59.9 L82.2,60.3 L82.0,61.0 L81.8,61.6 L81.7,62.0 L81.5,62.5 L81.2,63.0 L81.1,63.4 L80.8,64.0 L80.5,64.5 L80.3,64.8 L80.0,65.2 L79.7,65.7 L79.3,66.1 L79.0,66.5 L78.7,66.9 L78.3,67.2 L78.0,67.5 L77.6,67.8 L77.2,68.1 L76.8,68.3 L76.2,68.6 L75.8,68.7" fill="none" stroke="#0a0a0a" stroke-width="0.8"/>
<path d="M75.2,67.6 L74.5,67.6 L74.1,67.6 L73.4,67.4 L73.0,67.2 L72.6,66.9 L72.2,66.5 L71.8,66.2 L71.5,65.8 L71.3,65.5 L71.0,64.9 L70.7,64.5 L70.6,64.1 L70.4,63.4 L70.2,62.8 L70.2,62.3 L70.1,61.6 L70.1,61.0 L70.1,60.2 L70.1,59.5 L70.2,58.8 L70.3,58.5 L70.5,57.8 L70.6,57.3 L70.8,56.8 L71.0,56.2 L71.1,55.7 L71.3,55.2 L71.5,54.6 L71.7,54.2 L71.9,53.6 L72.0,53.2 L72.3,52.5 L72.5,52.2 L72.7,51.7 L73.0,51.1 L73.1,50.8 L73.4,50.3 L73.7,49.8 L73.9,49.4 L74.1,49.0 L74.5,48.4 L74.7,48.0 L74.9,47.6 L75.2,47.3 L75.5,46.8 L75.8,46.3 L76.2,45.9 L76.4,45.5 L76.8,45.2 L77.1,44.8 L77.5,44.5 L77.9,44.1 L78.3,43.8 L78.7,43.6 L79.0,43.4 L79.7,43.2 L80.4,43.1 L81.1,43.3 L81.5,43.6 L81.8,44.0 L82.1,44.5 L82.2,44.8 L82.5,45.5 L82.5,45.9 L82.7,46.6 L82.8,47.3 L82.8,48.0 L82.8,48.7 L82.9,49.0 L82.9,49.8 L82.8,50.2 L82.8,50.8 L82.8,51.5 L82.7,52.2 L82.7,52.9 L82.6,53.6 L82.5,54.3 L82.5,54.6 L82.4,55.3 L82.3,56.0 L82.2,56.6 L82.1,57.1 L81.9,57.8 L81.8,58.5 L81.7,58.8 L81.6,59.5 L81.5,60.1 L81.3,60.6 L81.1,61.3 L81.0,61.6 L80.8,62.3 L80.6,62.7 L80.4,63.1 L80.0,63.7 L79.8,64.1 L79.6,64.5 L79.3,64.8 L79.0,65.2 L78.7,65.6 L78.3,65.9 L78.0,66.3 L77.6,66.5 L77.1,66.9 L76.5,67.2 L76.2,67.4 L75.5,67.6 L75.2,67.6" fill="none" stroke="#0a0a0a" stroke-width="0.8"/>
<path d="M75.8,66.2 L75.2,66.4 L74.5,66.3 L74.1,66.2 L73.4,65.9 L73.0,65.6 L72.7,65.3 L72.3,64.9 L72.0,64.5 L71.8,64.1 L71.6,63.8 L71.4,63.0 L71.3,62.7 L71.1,62.0 L71.0,61.3 L71.0,60.6 L71.0,59.9 L71.1,59.2 L71.2,58.5 L71.3,58.1 L71.5,57.5 L71.7,56.8 L71.8,56.4 L72.0,55.8 L72.2,55.3 L72.3,55.0 L72.6,54.3 L72.8,54.0 L73.0,53.4 L73.3,52.9 L73.4,52.5 L73.8,51.9 L74.0,51.5 L74.2,51.1 L74.5,50.6 L74.8,50.1 L75.0,49.8 L75.2,49.4 L75.5,49.0 L75.8,48.5 L76.2,48.0 L76.5,47.6 L76.8,47.3 L77.2,47.0 L77.6,46.6 L78.0,46.3 L78.3,46.1 L78.7,45.9 L79.3,45.7 L80.0,45.8 L80.4,45.9 L80.8,46.2 L81.1,46.7 L81.4,47.3 L81.5,47.6 L81.6,48.3 L81.8,49.0 L81.8,49.5 L81.8,50.1 L81.9,50.8 L81.9,51.5 L81.8,52.2 L81.8,52.6 L81.8,53.2 L81.7,54.0 L81.6,54.6 L81.5,55.3 L81.5,56.0 L81.4,56.4 L81.3,57.1 L81.2,57.8 L81.1,58.4 L81.0,58.8 L80.9,59.5 L80.8,60.1 L80.6,60.6 L80.4,61.3 L80.3,61.6 L80.0,62.2 L79.8,62.7 L79.6,63.0 L79.3,63.4 L79.0,63.9 L78.7,64.3 L78.3,64.7 L78.0,65.1 L77.6,65.3 L77.2,65.6 L76.8,65.8 L76.2,66.1 L75.8,66.2" fill="none" stroke="#0a0a0a" stroke-width="0.8"/>
<path d="M75.8,65.2 L75.2,65.2 L74.7,65.1 L74.1,64.9 L73.8,64.7 L73.4,64.5 L73.0,64.1 L72.7,63.6 L72.4,63.0 L72.2,62.7 L72.0,62.0 L71.9,61.6 L71.8,61.0 L71.8,60.2 L71.8,59.5 L71.9,58.8 L72.0,58.3 L72.1,57.8 L72.3,57.1 L72.5,56.8 L72.7,56.2 L72.9,55.7 L73.1,55.3 L73.4,54.6 L73.6,54.3 L73.8,54.0 L74.1,53.3 L74.3,52.9 L74.6,52.5 L74.8,52.1 L75.2,51.6 L75.4,51.1 L75.7,50.8 L75.9,50.5 L76.2,50.1 L76.5,49.7 L76.9,49.3 L77.2,49.0 L77.7,48.7 L78.3,48.4 L78.7,48.3 L79.3,48.3 L79.7,48.4 L80.0,48.8 L80.4,49.4 L80.5,49.8 L80.7,50.5 L80.8,51.0 L80.8,51.5 L80.8,52.2 L80.8,52.9 L80.8,53.6 L80.8,54.3 L80.8,55.0 L80.7,55.3 L80.7,56.0 L80.6,56.8 L80.6,57.5 L80.5,58.1 L80.4,58.7 L80.3,59.2 L80.2,59.9 L80.0,60.4 L79.9,61.0 L79.7,61.4 L79.4,62.0 L79.3,62.3 L79.0,62.8 L78.7,63.2 L78.3,63.7 L78.0,64.0 L77.6,64.3 L77.2,64.6 L76.8,64.8 L76.2,65.1 L75.8,65.2" fill="none" stroke="#0a0a0a" stroke-width="0.8"/>
<path d="M76.2,64.1 L75.5,64.2 L74.8,64.1 L74.5,63.9 L74.1,63.7 L73.7,63.4 L73.4,63.0 L73.0,62.5 L72.8,62.0 L72.7,61.6 L72.6,61.0 L72.5,60.2 L72.5,59.5 L72.6,58.8 L72.7,58.3 L72.8,57.8 L73.0,57.2 L73.2,56.8 L73.4,56.3 L73.7,55.7 L73.9,55.3 L74.1,55.0 L74.5,54.5 L74.8,54.0 L75.1,53.6 L75.3,53.2 L75.6,52.9 L75.9,52.5 L76.2,52.2 L76.5,51.8 L76.9,51.5 L77.4,51.1 L78.0,50.9 L78.7,50.9 L79.0,51.1 L79.3,51.6 L79.6,52.2 L79.7,52.8 L79.8,53.2 L79.8,54.0 L79.9,54.6 L79.9,55.3 L79.9,56.0 L79.9,56.8 L79.9,57.5 L79.9,58.1 L79.8,58.8 L79.7,59.4 L79.6,59.9 L79.4,60.6 L79.3,61.0 L79.0,61.6 L78.8,62.0 L78.5,62.3 L78.3,62.7 L78.0,63.1 L77.6,63.4 L77.1,63.8 L76.5,64.0 L76.2,64.1" fill="none" stroke="#0a0a0a" stroke-width="0.8"/>
<path d="M76.5,63.2 L75.8,63.3 L75.2,63.2 L74.7,63.0 L74.3,62.7 L73.9,62.3 L73.7,62.0 L73.4,61.4 L73.3,61.0 L73.2,60.2 L73.1,59.5 L73.2,58.8 L73.4,58.1 L73.5,57.8 L73.8,57.1 L73.9,56.8 L74.1,56.4 L74.5,55.9 L74.8,55.4 L75.1,55.0 L75.5,54.6 L75.8,54.3 L76.2,54.0 L76.5,53.8 L76.9,53.6 L77.6,53.5 L78.0,53.6 L78.4,54.0 L78.7,54.3 L78.9,55.0 L79.0,55.4 L79.1,56.0 L79.2,56.8 L79.3,57.5 L79.3,58.1 L79.2,58.8 L79.1,59.5 L79.0,60.1 L78.8,60.6 L78.7,61.1 L78.3,61.6 L78.1,62.0 L77.8,62.3 L77.4,62.7 L76.9,63.0 L76.5,63.2" fill="none" stroke="#0a0a0a" stroke-width="0.8"/>
<path d="M76.5,62.4 L75.8,62.5 L75.3,62.3 L74.8,62.1 L74.5,61.7 L74.2,61.3 L74.0,61.0 L73.8,60.2 L73.8,59.5 L73.8,58.8 L74.0,58.1 L74.1,57.8 L74.5,57.2 L74.7,56.8 L75.0,56.4 L75.3,56.0 L75.7,55.7 L76.2,55.4 L76.5,55.3 L77.2,55.3 L77.6,55.4 L78.0,55.7 L78.3,56.3 L78.4,56.8 L78.6,57.5 L78.7,57.8 L78.7,58.5 L78.7,58.9 L78.6,59.5 L78.4,60.2 L78.3,60.6 L78.0,61.2 L77.6,61.6 L77.2,62.0 L76.9,62.2 L76.5,62.4" fill="none" stroke="#0a0a0a" stroke-width="0.8"/>
<rect x="100.23" y="36.41" width="0.8" height="0.8" fill="#444"/>
<rect x="105.80" y="35.67" width="0.8" height="0.8" fill="#444"/>
<rect x="108.37" y="28.36" width="0.8" height="0.8" fill="#444"/>
<rect x="103.16" y="37.08" width="0.8" height="0.8" fill="#444"/>
<rect x="108.89" y="32.79" width="0.8" height="0.8" fill="#444"/>
<rect x="101.89" y="37.50" width="0.8" height="0.8" fill="#444"/>
<rect x="112.38" y="22.99" width="0.8" height="0.8" fill="#444"/>
<rect x="108.36" y="31.61" width="0.8" height="0.8" fill="#444"/>
<rect x="107.96" y="35.27" width="0.8" height="0.8" fill="#444"/>
<rect x="105.11" y="37.05" width="0.8" height="0.8" fill="#444"/>
<rect x="101.63" y="38.10" width="0.8" height="0.8" fill="#444"/>
<rect x="105.50" y="33.57" width="0.8" height="0.8" fill="#444"/>
<rect x="103.75" y="38.40" width="0.8" height="0.8" fill="#444"/>
<rect x="102.06" y="36.20" width="0.8" height="0.8" fill="#444"/>
<rect x="113.88" y="24.72" width="0.8" height="0.8" fill="#444"/>
<rect x="107.44" y="28.14" width="0.8" height="0.8" fill="#444"/>
<rect x="97.91" y="39.12" width="0.8" height="0.8" fill="#444"/>
<rect x="103.82" y="36.32" width="0.8" height="0.8" fill="#444"/>
<rect x="103.39" y="35.52" width="0.8" height="0.8" fill="#444"/>
<rect x="105.29" y="34.77" width="0.8" height="0.8" fill="#444"/>
<rect x="100.70" y="41.34" width="0.8" height="0.8" fill="#444"/>
<rect x="110.99" y="25.75" width="0.8" height="0.8" fill="#444"/>
<rect x="192.54" y="35.92" width="0.70" height="0.70" fill="#333"/>
<rect x="195.95" y="25.61" width="0.70" height="0.70" fill="#333"/>
<rect x="215.13" y="78.24" width="0.70" height="0.70" fill="#333"/>
<rect x="225.08" y="51.23" width="0.70" height="0.70" fill="#333"/>
<rect x="202.64" y="76.59" width="0.70" height="0.70" fill="#333"/>
<rect x="193.99" y="76.08" width="0.70" height="0.70" fill="#333"/>
<rect x="220.11" y="79.09" width="0.70" height="0.70" fill="#333"/>
<rect x="224.09" y="41.49" width="0.70" height="0.70" fill="#333"/>
<rect x="195.49" y="49.84" width="0.70" height="0.70" fill="#333"/>
<rect x="203.68" y="78.71" width="0.70" height="0.70" fill="#333"/>
<rect x="212.60" y="76.73" width="0.70" height="0.70" fill="#333"/>
<rect x="216.28" y="78.31" width="0.70" height="0.70" fill="#333"/>
<rect x="193.17" y="45.58" width="0.70" height="0.70" fill="#333"/>
<rect x="213.60" y="75.85" width="0.70" height="0.70" fill="#333"/>
<rect x="218.74" y="73.45" width="0.70" height="0.70" fill="#333"/>
<rect x="199.79" y="36.85" width="0.70" height="0.70" fill="#333"/>
<rect x="210.84" y="76.24" width="0.70" height="0.70" fill="#333"/>
<rect x="193.92" y="50.21" width="0.70" height="0.70" fill="#333"/>
<rect x="204.34" y="77.33" width="0.70" height="0.70" fill="#333"/>
<rect x="205.78" y="29.28" width="0.70" height="0.70" fill="#333"/>
<rect x="197.92" y="32.79" width="0.70" height="0.70" fill="#333"/>
<rect x="193.75" y="34.62" width="0.70" height="0.70" fill="#333"/>
<rect x="193.22" y="31.12" width="0.70" height="0.70" fill="#333"/>
<rect x="221.23" y="46.29" width="0.70" height="0.70" fill="#333"/>
<rect x="193.36" y="48.65" width="0.70" height="0.70" fill="#333"/>
<rect x="219.66" y="45.90" width="0.70" height="0.70" fill="#333"/>
<rect x="193.12" y="33.62" width="0.70" height="0.70" fill="#333"/>
<rect x="221.05" y="71.41" width="0.70" height="0.70" fill="#333"/>
<rect x="191.89" y="26.57" width="0.70" height="0.70" fill="#333"/>
<rect x="194.43" y="69.04" width="0.70" height="0.70" fill="#333"/>
<rect x="200.32" y="71.01" width="0.70" height="0.70" fill="#333"/>
<rect x="211.00" y="73.96" width="0.70" height="0.70" fill="#333"/>
<rect x="193.55" y="54.27" width="0.70" height="0.70" fill="#333"/>
<rect x="194.45" y="55.72" width="0.70" height="0.70" fill="#333"/>
<rect x="223.18" y="35.95" width="0.70" height="0.70" fill="#333"/>
<rect x="195.72" y="29.28" width="0.70" height="0.70" fill="#333"/>
<rect x="191.84" y="64.46" width="0.70" height="0.70" fill="#333"/>
<rect x="212.10" y="79.30" width="0.70" height="0.70" fill="#333"/>
<rect x="218.69" y="70.97" width="0.70" height="0.70" fill="#333"/>
<rect x="193.19" y="52.44" width="0.70" height="0.70" fill="#333"/>
<rect x="194.07" y="65.11" width="0.70" height="0.70" fill="#333"/>
<rect x="203.03" y="72.59" width="0.70" height="0.70" fill="#333"/>
<rect x="196.76" y="74.48" width="0.70" height="0.70" fill="#333"/>
<rect x="192.02" y="54.24" width="0.70" height="0.70" fill="#333"/>
<rect x="197.83" y="75.07" width="0.70" height="0.70" fill="#333"/>
<rect x="239.10" y="72.25" width="0.70" height="0.70" fill="#333"/>
<rect x="226.42" y="77.36" width="0.70" height="0.70" fill="#333"/>
<rect x="217.51" y="74.97" width="0.70" height="0.70" fill="#333"/>
<rect x="193.94" y="30.46" width="0.70" height="0.70" fill="#333"/>
<rect x="194.74" y="57.48" width="0.70" height="0.70" fill="#333"/>
<rect x="195.63" y="17.91" width="0.70" height="0.70" fill="#333"/>
<rect x="193.95" y="15.27" width="0.70" height="0.70" fill="#333"/>
<rect x="191.73" y="43.08" width="0.70" height="0.70" fill="#333"/>
<rect x="221.87" y="43.07" width="0.70" height="0.70" fill="#333"/>
<rect x="196.04" y="34.71" width="0.70" height="0.70" fill="#333"/>
<rect x="203.39" y="27.33" width="0.70" height="0.70" fill="#333"/>
<rect x="221.39" y="47.97" width="0.70" height="0.70" fill="#333"/>
<rect x="220.92" y="76.05" width="0.70" height="0.70" fill="#333"/>
<rect x="197.83" y="77.51" width="0.70" height="0.70" fill="#333"/>
<rect x="196.02" y="65.64" width="0.70" height="0.70" fill="#333"/>
<rect x="211.17" y="74.65" width="0.70" height="0.70" fill="#333"/>
<rect x="219.99" y="43.87" width="0.70" height="0.70" fill="#333"/>
<rect x="194.75" y="31.91" width="0.70" height="0.70" fill="#333"/>
<rect x="196.75" y="33.26" width="0.70" height="0.70" fill="#333"/>
<rect x="196.24" y="26.40" width="0.70" height="0.70" fill="#333"/>
<rect x="191.57" y="44.05" width="0.70" height="0.70" fill="#333"/>
<rect x="192.84" y="52.95" width="0.70" height="0.70" fill="#333"/>
<rect x="222.63" y="60.36" width="0.70" height="0.70" fill="#333"/>
<rect x="193.58" y="52.80" width="0.70" height="0.70" fill="#333"/>
<rect x="195.73" y="67.49" width="0.70" height="0.70" fill="#333"/>
<rect x="191.99" y="41.09" width="0.70" height="0.70" fill="#333"/>
<rect x="194.66" y="57.50" width="0.70" height="0.70" fill="#333"/>
<rect x="199.75" y="29.16" width="0.70" height="0.70" fill="#333"/>
<rect x="213.11" y="73.16" width="0.70" height="0.70" fill="#333"/>
<rect x="199.54" y="72.86" width="0.70" height="0.70" fill="#333"/>
<rect x="204.26" y="31.11" width="0.70" height="0.70" fill="#333"/>
<rect x="195.37" y="47.89" width="0.70" height="0.70" fill="#333"/>
<rect x="193.77" y="37.76" width="0.70" height="0.70" fill="#333"/>
<rect x="197.05" y="38.93" width="0.70" height="0.70" fill="#333"/>
<rect x="207.11" y="74.54" width="0.70" height="0.70" fill="#333"/>
<rect x="192.45" y="30.34" width="0.70" height="0.70" fill="#333"/>
<rect x="192.30" y="37.61" width="0.70" height="0.70" fill="#333"/>
<rect x="196.26" y="35.31" width="0.70" height="0.70" fill="#333"/>
<rect x="195.73" y="47.89" width="0.70" height="0.70" fill="#333"/>
<rect x="204.78" y="74.38" width="0.70" height="0.70" fill="#333"/>
<rect x="227.59" y="75.37" width="0.70" height="0.70" fill="#333"/>
<rect x="197.66" y="38.61" width="0.70" height="0.70" fill="#333"/>
<rect x="194.72" y="60.77" width="0.70" height="0.70" fill="#333"/>
<rect x="208.80" y="77.28" width="0.70" height="0.70" fill="#333"/>
<rect x="199.67" y="72.80" width="0.70" height="0.70" fill="#333"/>
<rect x="200.27" y="33.73" width="0.70" height="0.70" fill="#333"/>
<rect x="222.91" y="53.00" width="0.70" height="0.70" fill="#333"/>
<rect x="218.97" y="72.08" width="0.70" height="0.70" fill="#333"/>
<rect x="192.17" y="60.53" width="0.70" height="0.70" fill="#333"/>
<rect x="198.21" y="29.96" width="0.70" height="0.70" fill="#333"/>
<rect x="194.00" y="58.32" width="0.70" height="0.70" fill="#333"/>
<rect x="201.03" y="34.98" width="0.70" height="0.70" fill="#333"/>
<rect x="201.44" y="35.10" width="0.70" height="0.70" fill="#333"/>
<rect x="192.90" y="25.26" width="0.70" height="0.70" fill="#333"/>
<rect x="196.03" y="72.37" width="0.70" height="0.70" fill="#333"/>
<rect x="197.92" y="76.48" width="0.70" height="0.70" fill="#333"/>
<rect x="199.52" y="71.08" width="0.70" height="0.70" fill="#333"/>
<rect x="201.88" y="74.11" width="0.70" height="0.70" fill="#333"/>
<rect x="193.21" y="36.04" width="0.70" height="0.70" fill="#333"/>
<rect x="198.19" y="78.35" width="0.70" height="0.70" fill="#333"/>
<rect x="192.66" y="75.66" width="0.70" height="0.70" fill="#333"/>
<rect x="193.73" y="47.29" width="0.70" height="0.70" fill="#333"/>
<rect x="215.18" y="78.00" width="0.70" height="0.70" fill="#333"/>
<rect x="192.19" y="51.77" width="0.70" height="0.70" fill="#333"/>
<rect x="206.97" y="32.17" width="0.70" height="0.70" fill="#333"/>
<rect x="192.78" y="40.16" width="0.70" height="0.70" fill="#333"/>
<rect x="223.01" y="54.32" width="0.70" height="0.70" fill="#333"/>
<rect x="220.58" y="73.84" width="0.70" height="0.70" fill="#333"/>
<rect x="194.87" y="25.37" width="0.70" height="0.70" fill="#333"/>
<rect x="223.39" y="39.24" width="0.70" height="0.70" fill="#333"/>
<rect x="219.92" y="67.91" width="0.70" height="0.70" fill="#333"/>
<rect x="211.81" y="75.36" width="0.70" height="0.70" fill="#333"/>
<rect x="192.07" y="52.95" width="0.70" height="0.70" fill="#333"/>
<rect x="196.24" y="71.57" width="0.70" height="0.70" fill="#333"/>
<rect x="218.73" y="40.27" width="0.70" height="0.70" fill="#333"/>
<rect x="204.22" y="73.64" width="0.70" height="0.70" fill="#333"/>
<rect x="195.72" y="50.30" width="0.70" height="0.70" fill="#333"/>
<rect x="192.87" y="56.00" width="0.70" height="0.70" fill="#333"/>
<rect x="192.92" y="45.34" width="0.70" height="0.70" fill="#333"/>
<rect x="199.28" y="33.96" width="0.70" height="0.70" fill="#333"/>
<rect x="223.76" y="76.30" width="0.70" height="0.70" fill="#333"/>
<rect x="201.74" y="32.24" width="0.70" height="0.70" fill="#333"/>
<rect x="204.66" y="75.31" width="0.70" height="0.70" fill="#333"/>
<rect x="201.33" y="32.56" width="0.70" height="0.70" fill="#333"/>
<rect x="194.41" y="50.45" width="0.70" height="0.70" fill="#333"/>
<rect x="196.30" y="73.22" width="0.70" height="0.70" fill="#333"/>
<rect x="229.34" y="78.93" width="0.70" height="0.70" fill="#333"/>
<rect x="219.53" y="69.47" width="0.70" height="0.70" fill="#333"/>
<rect x="220.22" y="35.66" width="0.70" height="0.70" fill="#333"/>
<rect x="192.64" y="36.87" width="0.70" height="0.70" fill="#333"/>
<rect x="194.13" y="19.00" width="0.70" height="0.70" fill="#333"/>
<rect x="221.06" y="75.29" width="0.70" height="0.70" fill="#333"/>
<rect x="193.11" y="55.55" width="0.70" height="0.70" fill="#333"/>
<rect x="221.36" y="75.42" width="0.70" height="0.70" fill="#333"/>
<rect x="214.52" y="75.07" width="0.70" height="0.70" fill="#333"/>
<rect x="193.43" y="50.50" width="0.70" height="0.70" fill="#333"/>
<rect x="195.90" y="37.00" width="0.70" height="0.70" fill="#333"/>
<rect x="208.33" y="76.68" width="0.70" height="0.70" fill="#333"/>
<rect x="192.05" y="32.62" width="0.70" height="0.70" fill="#333"/>
<rect x="200.21" y="29.95" width="0.70" height="0.70" fill="#333"/>
<rect x="201.32" y="27.56" width="0.70" height="0.70" fill="#333"/>
<rect x="207.71" y="75.80" width="0.70" height="0.70" fill="#333"/>
<rect x="198.68" y="29.93" width="0.70" height="0.70" fill="#333"/>
<rect x="204.91" y="74.89" width="0.70" height="0.70" fill="#333"/>
<rect x="200.26" y="73.71" width="0.70" height="0.70" fill="#333"/>
<rect x="197.45" y="47.97" width="0.70" height="0.70" fill="#333"/>
<rect x="224.34" y="76.14" width="0.70" height="0.70" fill="#333"/>
<rect x="191.66" y="51.13" width="0.70" height="0.70" fill="#333"/>
<rect x="194.58" y="40.54" width="0.70" height="0.70" fill="#333"/>
<rect x="222.88" y="33.36" width="0.70" height="0.70" fill="#333"/>
<rect x="209.46" y="32.72" width="0.70" height="0.70" fill="#333"/>
<rect x="224.06" y="74.45" width="0.70" height="0.70" fill="#333"/>
<rect x="193.23" y="42.83" width="0.70" height="0.70" fill="#333"/>
<rect x="198.52" y="31.16" width="0.70" height="0.70" fill="#333"/>
<rect x="192.77" y="24.24" width="0.70" height="0.70" fill="#333"/>
<rect x="197.29" y="27.13" width="0.70" height="0.70" fill="#333"/>
<rect x="195.48" y="73.44" width="0.70" height="0.70" fill="#333"/>
<rect x="222.33" y="26.83" width="0.70" height="0.70" fill="#333"/>
<rect x="214.80" y="72.39" width="0.70" height="0.70" fill="#333"/>
<rect x="218.62" y="71.62" width="0.70" height="0.70" fill="#333"/>
<rect x="223.11" y="63.92" width="0.70" height="0.70" fill="#333"/>
<rect x="191.74" y="59.48" width="0.70" height="0.70" fill="#333"/>
<rect x="197.02" y="33.46" width="0.70" height="0.70" fill="#333"/>
<rect x="193.83" y="38.68" width="0.70" height="0.70" fill="#333"/>
<rect x="192.86" y="27.25" width="0.70" height="0.70" fill="#333"/>
<rect x="201.95" y="30.26" width="0.70" height="0.70" fill="#333"/>
<rect x="196.14" y="69.48" width="0.70" height="0.70" fill="#333"/>
<rect x="203.87" y="75.19" width="0.70" height="0.70" fill="#333"/>
<rect x="198.67" y="33.08" width="0.70" height="0.70" fill="#333"/>
<rect x="199.14" y="76.82" width="0.70" height="0.70" fill="#333"/>
<rect x="196.99" y="72.83" width="0.70" height="0.70" fill="#333"/>
<rect x="192.80" y="24.72" width="0.70" height="0.70" fill="#333"/>
<rect x="206.86" y="73.67" width="0.70" height="0.70" fill="#333"/>
<rect x="204.00" y="30.73" width="0.70" height="0.70" fill="#333"/>
<rect x="199.29" y="28.41" width="0.70" height="0.70" fill="#333"/>
<rect x="191.81" y="41.08" width="0.70" height="0.70" fill="#333"/>
<rect x="195.91" y="54.27" width="0.70" height="0.70" fill="#333"/>
<rect x="222.75" y="50.16" width="0.70" height="0.70" fill="#333"/>
<rect x="191.67" y="52.84" width="0.70" height="0.70" fill="#333"/>
<rect x="197.22" y="37.31" width="0.70" height="0.70" fill="#333"/>
<rect x="224.76" y="76.48" width="0.70" height="0.70" fill="#333"/>
<rect x="191.56" y="28.98" width="0.70" height="0.70" fill="#333"/>
<rect x="198.75" y="70.07" width="0.70" height="0.70" fill="#333"/>
<rect x="194.92" y="28.94" width="0.70" height="0.70" fill="#333"/>
<rect x="198.70" y="39.59" width="0.70" height="0.70" fill="#333"/>
<rect x="193.46" y="46.86" width="0.70" height="0.70" fill="#333"/>
<rect x="204.90" y="32.00" width="0.70" height="0.70" fill="#333"/>
<rect x="198.84" y="72.71" width="0.70" height="0.70" fill="#333"/>
<rect x="196.21" y="27.53" width="0.70" height="0.70" fill="#333"/>
<rect x="193.28" y="59.75" width="0.70" height="0.70" fill="#333"/>
<rect x="194.32" y="48.75" width="0.70" height="0.70" fill="#333"/>
<rect x="196.16" y="30.82" width="0.70" height="0.70" fill="#333"/>
<rect x="196.85" y="38.57" width="0.70" height="0.70" fill="#333"/>
<rect x="209.35" y="75.07" width="0.70" height="0.70" fill="#333"/>
<rect x="209.92" y="75.74" width="0.70" height="0.70" fill="#333"/>
<rect x="206.95" y="74.39" width="0.70" height="0.70" fill="#333"/>
<rect x="216.84" y="78.63" width="0.70" height="0.70" fill="#333"/>
<rect x="217.11" y="74.04" width="0.70" height="0.70" fill="#333"/>
<rect x="205.73" y="33.08" width="0.70" height="0.70" fill="#333"/>
<rect x="200.30" y="33.07" width="0.70" height="0.70" fill="#333"/>
<rect x="207.59" y="76.90" width="0.70" height="0.70" fill="#333"/>
<rect x="198.24" y="29.85" width="0.70" height="0.70" fill="#333"/>
<rect x="194.68" y="67.71" width="0.70" height="0.70" fill="#333"/>
<rect x="221.44" y="69.75" width="0.70" height="0.70" fill="#333"/>
<rect x="194.95" y="55.58" width="0.70" height="0.70" fill="#333"/>
<rect x="194.01" y="33.44" width="0.70" height="0.70" fill="#333"/>
<rect x="194.94" y="68.53" width="0.70" height="0.70" fill="#333"/>
<rect x="217.20" y="72.94" width="0.70" height="0.70" fill="#333"/>
<rect x="200.30" y="75.16" width="0.70" height="0.70" fill="#333"/>
<rect x="196.28" y="39.09" width="0.70" height="0.70" fill="#333"/>
<rect x="210.09" y="75.57" width="0.70" height="0.70" fill="#333"/>
<rect x="193.45" y="51.83" width="0.70" height="0.70" fill="#333"/>
<rect x="195.47" y="39.44" width="0.70" height="0.70" fill="#333"/>
<rect x="193.28" y="30.16" width="0.70" height="0.70" fill="#333"/>
<rect x="194.09" y="63.52" width="0.70" height="0.70" fill="#333"/>
<rect x="203.96" y="33.66" width="0.70" height="0.70" fill="#333"/>
<rect x="196.08" y="30.80" width="0.70" height="0.70" fill="#333"/>
<rect x="207.35" y="73.83" width="0.70" height="0.70" fill="#333"/>
<rect x="196.22" y="39.05" width="0.70" height="0.70" fill="#333"/>
<rect x="197.17" y="75.56" width="0.70" height="0.70" fill="#333"/>
<rect x="192.75" y="59.01" width="0.70" height="0.70" fill="#333"/>
<rect x="222.59" y="71.62" width="0.70" height="0.70" fill="#333"/>
<rect x="220.99" y="76.15" width="0.70" height="0.70" fill="#333"/>
<rect x="215.70" y="75.13" width="0.70" height="0.70" fill="#333"/>
<rect x="193.79" y="30.50" width="0.70" height="0.70" fill="#333"/>
<rect x="198.01" y="78.18" width="0.70" height="0.70" fill="#333"/>
<rect x="202.24" y="30.06" width="0.70" height="0.70" fill="#333"/>
<rect x="223.31" y="28.91" width="0.70" height="0.70" fill="#333"/>
<rect x="220.87" y="36.10" width="0.70" height="0.70" fill="#333"/>
<rect x="205.64" y="31.86" width="0.70" height="0.70" fill="#333"/>
<rect x="191.86" y="41.85" width="0.70" height="0.70" fill="#333"/>
<rect x="195.40" y="55.29" width="0.70" height="0.70" fill="#333"/>
<rect x="223.14" y="30.04" width="0.70" height="0.70" fill="#333"/>
<rect x="193.81" y="47.30" width="0.70" height="0.70" fill="#333"/>
<rect x="201.97" y="31.50" width="0.70" height="0.70" fill="#333"/>
<rect x="205.90" y="73.62" width="0.70" height="0.70" fill="#333"/>
<rect x="197.18" y="58.28" width="0.70" height="0.70" fill="#333"/>
<rect x="194.43" y="64.85" width="0.70" height="0.70" fill="#333"/>
<rect x="192.96" y="39.20" width="0.70" height="0.70" fill="#333"/>
<rect x="191.72" y="55.79" width="0.70" height="0.70" fill="#333"/>
<rect x="199.40" y="40.34" width="0.70" height="0.70" fill="#333"/>
<rect x="193.99" y="72.41" width="0.70" height="0.70" fill="#333"/>
<rect x="194.63" y="29.83" width="0.70" height="0.70" fill="#333"/>
<rect x="192.94" y="74.93" width="0.70" height="0.70" fill="#333"/>
<rect x="218.55" y="79.08" width="0.70" height="0.70" fill="#333"/>
<rect x="192.49" y="74.92" width="0.70" height="0.70" fill="#333"/>
<rect x="201.47" y="75.99" width="0.70" height="0.70" fill="#333"/>
<rect x="206.84" y="74.95" width="0.70" height="0.70" fill="#333"/>
<rect x="221.99" y="72.40" width="0.70" height="0.70" fill="#333"/>
<rect x="221.08" y="76.74" width="0.70" height="0.70" fill="#333"/>
<rect x="192.27" y="42.22" width="0.70" height="0.70" fill="#333"/>
<rect x="210.64" y="77.22" width="0.70" height="0.70" fill="#333"/>
<rect x="194.58" y="36.31" width="0.70" height="0.70" fill="#333"/>
<rect x="204.57" y="77.84" width="0.70" height="0.70" fill="#333"/>
<rect x="193.18" y="34.48" width="0.70" height="0.70" fill="#333"/>
<rect x="196.38" y="40.88" width="0.70" height="0.70" fill="#333"/>
<rect x="192.64" y="50.96" width="0.70" height="0.70" fill="#333"/>
<rect x="191.92" y="33.44" width="0.70" height="0.70" fill="#333"/>
<rect x="193.77" y="25.67" width="0.70" height="0.70" fill="#333"/>
<rect x="193.26" y="30.18" width="0.70" height="0.70" fill="#333"/>
<rect x="196.40" y="34.08" width="0.70" height="0.70" fill="#333"/>
<rect x="197.86" y="69.97" width="0.70" height="0.70" fill="#333"/>
<rect x="205.20" y="74.68" width="0.70" height="0.70" fill="#333"/>
<rect x="192.93" y="51.23" width="0.70" height="0.70" fill="#333"/>
<rect x="224.15" y="52.96" width="0.70" height="0.70" fill="#333"/>
<rect x="219.25" y="76.14" width="0.70" height="0.70" fill="#333"/>
<rect x="214.78" y="32.18" width="0.70" height="0.70" fill="#333"/>
<rect x="193.90" y="58.60" width="0.70" height="0.70" fill="#333"/>
<rect x="203.51" y="32.93" width="0.70" height="0.70" fill="#333"/>
<rect x="192.26" y="34.68" width="0.70" height="0.70" fill="#333"/>
<rect x="194.07" y="49.80" width="0.70" height="0.70" fill="#333"/>
<rect x="192.99" y="48.57" width="0.70" height="0.70" fill="#333"/>
<rect x="199.65" y="76.63" width="0.70" height="0.70" fill="#333"/>
<rect x="195.64" y="39.89" width="0.70" height="0.70" fill="#333"/>
<rect x="221.60" y="76.65" width="0.70" height="0.70" fill="#333"/>
<rect x="194.82" y="47.74" width="0.70" height="0.70" fill="#333"/>
<rect x="193.08" y="27.96" width="0.70" height="0.70" fill="#333"/>
<rect x="191.90" y="26.72" width="0.70" height="0.70" fill="#333"/>
<rect x="194.46" y="61.43" width="0.70" height="0.70" fill="#333"/>
<rect x="194.99" y="42.37" width="0.70" height="0.70" fill="#333"/>
<rect x="193.93" y="65.38" width="0.70" height="0.70" fill="#333"/>
<rect x="224.03" y="43.45" width="0.70" height="0.70" fill="#333"/>
<rect x="191.97" y="72.66" width="0.70" height="0.70" fill="#333"/>
<rect x="216.82" y="76.83" width="0.70" height="0.70" fill="#333"/>
<rect x="193.14" y="77.58" width="0.70" height="0.70" fill="#333"/>
<rect x="197.94" y="33.07" width="0.70" height="0.70" fill="#333"/>
<rect x="196.13" y="33.65" width="0.70" height="0.70" fill="#333"/>
<rect x="193.76" y="38.83" width="0.70" height="0.70" fill="#333"/>
<rect x="223.07" y="33.31" width="0.70" height="0.70" fill="#333"/>
<rect x="216.92" y="77.28" width="0.70" height="0.70" fill="#333"/>
<rect x="195.01" y="32.01" width="0.70" height="0.70" fill="#333"/>
<rect x="192.36" y="53.88" width="0.70" height="0.70" fill="#333"/>
<rect x="193.35" y="75.99" width="0.70" height="0.70" fill="#333"/>
<rect x="196.50" y="32.70" width="0.70" height="0.70" fill="#333"/>
<rect x="195.07" y="64.54" width="0.70" height="0.70" fill="#333"/>
<rect x="192.97" y="52.32" width="0.70" height="0.70" fill="#333"/>
<rect x="211.04" y="75.98" width="0.70" height="0.70" fill="#333"/>
<rect x="203.74" y="28.44" width="0.70" height="0.70" fill="#333"/>
<rect x="208.04" y="77.97" width="0.70" height="0.70" fill="#333"/>
<rect x="205.33" y="77.79" width="0.70" height="0.70" fill="#333"/>
<rect x="221.08" y="77.21" width="0.70" height="0.70" fill="#333"/>
<rect x="193.74" y="75.09" width="0.70" height="0.70" fill="#333"/>
<rect x="212.66" y="75.27" width="0.70" height="0.70" fill="#333"/>
<rect x="191.77" y="54.78" width="0.70" height="0.70" fill="#333"/>
<rect x="203.61" y="76.47" width="0.70" height="0.70" fill="#333"/>
<rect x="224.95" y="44.09" width="0.70" height="0.70" fill="#333"/>
<rect x="226.06" y="73.88" width="0.70" height="0.70" fill="#333"/>
<rect x="203.53" y="34.49" width="0.70" height="0.70" fill="#333"/>
<rect x="193.27" y="52.32" width="0.70" height="0.70" fill="#333"/>
<rect x="199.44" y="27.48" width="0.70" height="0.70" fill="#333"/>
<rect x="197.12" y="30.08" width="0.70" height="0.70" fill="#333"/>
<rect x="201.17" y="71.14" width="0.70" height="0.70" fill="#333"/>
<rect x="195.10" y="52.42" width="0.70" height="0.70" fill="#333"/>
<rect x="195.97" y="37.97" width="0.70" height="0.70" fill="#333"/>
<rect x="215.74" y="72.71" width="0.70" height="0.70" fill="#333"/>
<rect x="196.88" y="48.84" width="0.70" height="0.70" fill="#333"/>
<rect x="196.38" y="31.70" width="0.70" height="0.70" fill="#333"/>
<rect x="198.30" y="38.66" width="0.70" height="0.70" fill="#333"/>
<rect x="195.58" y="50.32" width="0.70" height="0.70" fill="#333"/>
<rect x="231.25" y="70.69" width="0.70" height="0.70" fill="#333"/>
<rect x="191.91" y="35.23" width="0.70" height="0.70" fill="#333"/>
<rect x="221.53" y="22.02" width="0.70" height="0.70" fill="#333"/>
<rect x="193.41" y="53.36" width="0.70" height="0.70" fill="#333"/>
<rect x="203.82" y="74.14" width="0.70" height="0.70" fill="#333"/>
<rect x="219.45" y="73.38" width="0.70" height="0.70" fill="#333"/>
<rect x="201.15" y="72.68" width="0.70" height="0.70" fill="#333"/>
<rect x="195.08" y="31.71" width="0.70" height="0.70" fill="#333"/>
<rect x="197.12" y="44.07" width="0.70" height="0.70" fill="#333"/>
<rect x="197.34" y="71.04" width="0.70" height="0.70" fill="#333"/>
<rect x="223.97" y="61.71" width="0.70" height="0.70" fill="#333"/>
<rect x="192.90" y="62.92" width="0.70" height="0.70" fill="#333"/>
<rect x="199.28" y="75.63" width="0.70" height="0.70" fill="#333"/>
<rect x="194.63" y="53.67" width="0.70" height="0.70" fill="#333"/>
<rect x="191.55" y="54.17" width="0.70" height="0.70" fill="#333"/>
<rect x="217.27" y="72.91" width="0.70" height="0.70" fill="#333"/>
<rect x="235.39" y="76.12" width="0.70" height="0.70" fill="#333"/>
<rect x="200.13" y="34.39" width="0.70" height="0.70" fill="#333"/>
<rect x="196.92" y="76.65" width="0.70" height="0.70" fill="#333"/>
<rect x="193.21" y="35.51" width="0.70" height="0.70" fill="#333"/>
<rect x="220.16" y="55.49" width="0.70" height="0.70" fill="#333"/>
<rect x="199.32" y="30.65" width="0.70" height="0.70" fill="#333"/>
<rect x="194.62" y="30.63" width="0.70" height="0.70" fill="#333"/>
<rect x="193.50" y="76.37" width="0.70" height="0.70" fill="#333"/>
<rect x="194.54" y="45.47" width="0.70" height="0.70" fill="#333"/>
<rect x="192.42" y="74.83" width="0.70" height="0.70" fill="#333"/>
<rect x="201.64" y="78.25" width="0.70" height="0.70" fill="#333"/>
<rect x="196.88" y="34.19" width="0.70" height="0.70" fill="#333"/>
<rect x="192.08" y="49.08" width="0.70" height="0.70" fill="#333"/>
<rect x="197.54" y="41.05" width="0.70" height="0.70" fill="#333"/>
<rect x="193.05" y="27.29" width="0.70" height="0.70" fill="#333"/>
<rect x="222.15" y="30.50" width="0.70" height="0.70" fill="#333"/>
<rect x="200.46" y="71.07" width="0.70" height="0.70" fill="#333"/>
<rect x="221.21" y="27.37" width="0.70" height="0.70" fill="#333"/>
<rect x="194.25" y="38.58" width="0.70" height="0.70" fill="#333"/>
<rect x="224.22" y="30.79" width="0.70" height="0.70" fill="#333"/>
<rect x="209.44" y="74.83" width="0.70" height="0.70" fill="#333"/>
<rect x="215.46" y="35.28" width="0.70" height="0.70" fill="#333"/>
<rect x="193.16" y="59.44" width="0.70" height="0.70" fill="#333"/>
<rect x="200.57" y="32.28" width="0.70" height="0.70" fill="#333"/>
<rect x="196.52" y="69.92" width="0.70" height="0.70" fill="#333"/>
<rect x="195.57" y="40.65" width="0.70" height="0.70" fill="#333"/>
<rect x="202.80" y="76.96" width="0.70" height="0.70" fill="#333"/>
<rect x="222.05" y="70.16" width="0.70" height="0.70" fill="#333"/>
<rect x="216.09" y="74.49" width="0.70" height="0.70" fill="#333"/>
<rect x="219.69" y="38.34" width="0.70" height="0.70" fill="#333"/>
<rect x="195.43" y="29.39" width="0.70" height="0.70" fill="#333"/>
<rect x="196.60" y="40.55" width="0.70" height="0.70" fill="#333"/>
<rect x="192.07" y="40.50" width="0.70" height="0.70" fill="#333"/>
<rect x="202.08" y="73.32" width="0.70" height="0.70" fill="#333"/>
<rect x="195.39" y="23.15" width="0.70" height="0.70" fill="#333"/>
<rect x="200.83" y="24.97" width="0.70" height="0.70" fill="#333"/>
<rect x="204.26" y="32.79" width="0.70" height="0.70" fill="#333"/>
<rect x="194.21" y="56.79" width="0.70" height="0.70" fill="#333"/>
<rect x="203.69" y="28.25" width="0.70" height="0.70" fill="#333"/>
<rect x="197.45" y="37.43" width="0.70" height="0.70" fill="#333"/>
<path d="M211.7,73.6 L210.9,73.6 L210.2,73.7 L209.6,73.7 L208.8,73.6 L208.2,73.6 L207.8,73.5 L207.1,73.4 L206.4,73.2 L206.1,73.1 L205.3,72.9 L205.0,72.8 L204.3,72.5 L203.9,72.4 L203.4,72.2 L202.9,71.9 L202.6,71.8 L202.0,71.4 L201.5,71.2 L201.2,71.0 L200.8,70.8 L200.2,70.4 L199.8,70.1 L199.4,69.8 L199.1,69.5 L198.7,69.2 L198.3,68.8 L198.0,68.5 L197.7,68.0 L197.3,67.6 L197.1,67.2 L196.9,66.9 L196.6,66.3 L196.4,65.8 L196.2,65.4 L196.1,64.8 L195.9,64.1 L195.9,63.8 L195.8,63.0 L195.7,62.3 L195.7,61.6 L195.7,60.9 L195.7,60.2 L195.7,59.5 L195.8,58.8 L195.8,58.1 L195.9,57.4 L195.9,57.1 L196.0,56.4 L196.1,55.7 L196.1,55.0 L196.2,54.4 L196.3,53.9 L196.4,53.2 L196.6,52.5 L196.7,52.2 L196.8,51.5 L196.9,51.0 L197.1,50.4 L197.3,49.8 L197.4,49.4 L197.6,48.7 L197.8,48.3 L198.0,47.7 L198.2,47.3 L198.3,46.9 L198.6,46.2 L198.8,45.9 L199.1,45.3 L199.3,44.8 L199.5,44.5 L199.8,43.9 L200.0,43.4 L200.1,43.1 L200.4,42.4 L200.5,42.0 L200.7,41.3 L200.8,41.0 L200.8,40.3 L200.8,39.8 L200.7,39.2 L200.5,38.5 L200.4,38.2 L200.2,37.5 L200.2,36.8 L200.4,36.1 L200.7,35.8 L201.2,35.5 L201.8,35.4 L202.6,35.6 L203.1,35.8 L203.6,35.9 L204.3,36.0 L205.0,35.9 L205.3,35.7 L205.9,35.4 L206.3,35.0 L206.6,34.7 L206.9,34.3 L207.1,33.9 L207.3,33.3 L207.4,32.9 L207.7,32.2 L207.8,31.9 L208.1,31.2 L208.3,30.8 L208.6,30.5 L209.0,30.1 L209.5,29.8 L209.9,29.6 L210.4,29.4 L210.9,29.4 L211.5,29.4 L212.0,29.6 L212.4,29.8 L212.9,30.1 L213.2,30.5 L213.5,30.8 L213.8,31.4 L213.9,31.9 L214.0,32.6 L214.1,33.3 L214.1,34.0 L214.1,34.3 L214.2,35.0 L214.4,35.8 L214.5,36.1 L214.8,36.7 L215.0,37.1 L215.2,37.5 L215.5,38.0 L215.8,38.5 L216.1,38.9 L216.3,39.2 L216.6,39.7 L216.9,40.2 L217.2,40.6 L217.4,41.0 L217.6,41.3 L217.9,41.9 L218.2,42.4 L218.4,42.8 L218.7,43.2 L218.9,43.8 L219.1,44.1 L219.3,44.7 L219.6,45.2 L219.7,45.6 L220.0,46.2 L220.1,46.6 L220.3,47.3 L220.4,47.7 L220.6,48.3 L220.8,48.9 L220.9,49.4 L221.0,50.1 L221.1,50.4 L221.3,51.1 L221.4,51.8 L221.5,52.2 L221.6,52.9 L221.7,53.6 L221.8,54.3 L221.8,54.6 L221.9,55.3 L222.0,56.0 L222.0,56.8 L222.1,57.4 L222.1,58.1 L222.1,58.8 L222.1,59.5 L222.2,59.9 L222.2,60.6 L222.1,60.9 L222.1,61.6 L222.1,62.3 L222.0,63.0 L221.9,63.8 L221.8,64.1 L221.6,64.8 L221.4,65.4 L221.3,65.8 L221.1,66.4 L220.9,66.9 L220.7,67.2 L220.4,67.8 L220.1,68.3 L219.8,68.7 L219.6,69.0 L219.3,69.3 L219.0,69.7 L218.6,70.0 L218.3,70.4 L217.9,70.8 L217.5,71.1 L217.0,71.4 L216.6,71.7 L216.2,72.0 L215.8,72.2 L215.2,72.5 L214.8,72.7 L214.4,72.8 L213.8,73.1 L213.3,73.2 L212.7,73.4 L212.0,73.5 L211.7,73.6" fill="none" stroke="#0a0a0a" stroke-width="0.8"/>
<path d="M212.3,72.2 L211.7,72.3 L210.9,72.4 L210.2,72.4 L209.6,72.4 L208.8,72.4 L208.2,72.3 L207.6,72.2 L207.1,72.0 L206.4,71.8 L206.1,71.7 L205.5,71.4 L205.0,71.3 L204.7,71.1 L204.0,70.8 L203.6,70.5 L203.2,70.3 L202.9,70.0 L202.4,69.7 L202.0,69.3 L201.6,69.0 L201.2,68.7 L200.8,68.3 L200.5,67.9 L200.3,67.6 L200.0,67.2 L199.8,66.9 L199.4,66.2 L199.2,65.8 L199.1,65.4 L198.8,64.8 L198.7,64.3 L198.6,63.8 L198.5,63.0 L198.4,62.3 L198.4,61.6 L198.4,60.9 L198.4,60.2 L198.4,59.5 L198.5,58.8 L198.5,58.1 L198.6,57.4 L198.6,56.8 L198.7,56.0 L198.7,55.7 L198.8,55.0 L198.9,54.3 L199.0,53.6 L199.1,53.2 L199.2,52.5 L199.4,51.8 L199.4,51.5 L199.6,50.8 L199.8,50.3 L199.9,49.8 L200.1,49.1 L200.2,48.7 L200.4,48.0 L200.6,47.6 L200.8,47.1 L201.0,46.6 L201.2,46.2 L201.5,45.6 L201.7,45.2 L201.9,44.8 L202.2,44.3 L202.5,43.8 L202.7,43.4 L202.9,43.1 L203.2,42.5 L203.6,42.0 L203.8,41.7 L204.1,41.3 L204.3,41.0 L204.7,40.6 L205.0,40.2 L205.3,39.7 L205.7,39.3 L206.1,38.9 L206.3,38.5 L206.6,38.2 L206.9,37.8 L207.2,37.5 L207.5,37.1 L207.8,36.8 L208.2,36.3 L208.5,35.8 L208.7,35.4 L208.8,34.7 L208.9,34.3 L208.9,33.6 L209.0,33.0 L209.1,32.2 L209.2,31.9 L209.6,31.4 L209.9,31.0 L210.2,30.8 L210.9,30.7 L211.7,30.8 L212.0,31.0 L212.3,31.4 L212.6,31.9 L212.7,32.2 L212.8,33.0 L212.7,33.6 L212.6,34.0 L212.5,34.7 L212.5,35.4 L212.7,36.1 L212.8,36.5 L213.1,36.9 L213.4,37.5 L213.6,37.8 L213.8,38.2 L214.1,38.7 L214.4,39.2 L214.6,39.6 L214.9,40.0 L215.2,40.4 L215.5,40.9 L215.8,41.3 L216.0,41.7 L216.3,42.0 L216.6,42.5 L216.9,43.1 L217.1,43.4 L217.3,43.8 L217.6,44.4 L217.8,44.8 L218.0,45.2 L218.3,45.9 L218.4,46.2 L218.7,46.9 L218.8,47.3 L219.0,47.9 L219.1,48.3 L219.3,49.0 L219.4,49.4 L219.6,50.1 L219.7,50.5 L219.8,51.1 L220.0,51.8 L220.1,52.3 L220.2,52.9 L220.3,53.6 L220.4,54.3 L220.4,54.6 L220.5,55.3 L220.6,56.0 L220.6,56.8 L220.7,57.4 L220.7,58.1 L220.7,58.8 L220.8,59.4 L220.8,59.9 L220.8,60.6 L220.8,61.0 L220.7,61.6 L220.6,62.3 L220.5,63.0 L220.4,63.8 L220.3,64.1 L220.1,64.8 L220.0,65.2 L219.8,65.8 L219.6,66.2 L219.3,66.7 L219.1,67.2 L218.8,67.6 L218.6,67.9 L218.3,68.4 L217.9,68.8 L217.6,69.2 L217.2,69.5 L216.9,69.8 L216.6,70.1 L216.2,70.4 L215.7,70.8 L215.2,71.1 L214.8,71.3 L214.4,71.4 L213.8,71.7 L213.4,71.9 L212.7,72.1 L212.3,72.2" fill="none" stroke="#0a0a0a" stroke-width="0.8"/>
<path d="M212.0,70.8 L211.3,70.9 L210.6,71.0 L209.9,71.0 L209.2,70.9 L208.5,70.8 L208.1,70.8 L207.4,70.6 L207.0,70.4 L206.4,70.2 L206.1,70.0 L205.5,69.7 L205.0,69.4 L204.7,69.2 L204.3,68.9 L203.9,68.6 L203.6,68.3 L203.2,67.9 L202.9,67.5 L202.6,67.1 L202.2,66.6 L202.0,66.2 L201.8,65.8 L201.5,65.2 L201.3,64.8 L201.2,64.2 L201.0,63.8 L200.9,63.0 L200.8,62.4 L200.8,62.0 L200.7,61.3 L200.7,60.6 L200.7,59.9 L200.7,59.2 L200.8,58.5 L200.8,58.1 L200.8,57.4 L200.9,56.8 L201.0,56.0 L201.0,55.3 L201.1,54.6 L201.2,54.3 L201.3,53.6 L201.4,52.9 L201.5,52.4 L201.6,51.8 L201.8,51.1 L201.9,50.8 L202.1,50.1 L202.2,49.6 L202.4,49.0 L202.6,48.6 L202.8,48.0 L202.9,47.6 L203.2,46.9 L203.4,46.6 L203.6,46.1 L203.9,45.5 L204.1,45.2 L204.3,44.8 L204.7,44.3 L205.0,43.8 L205.3,43.4 L205.6,43.1 L205.9,42.8 L206.2,42.4 L206.5,42.0 L206.8,41.7 L207.2,41.3 L207.5,41.0 L207.9,40.6 L208.2,40.3 L208.6,40.0 L209.1,39.6 L209.6,39.3 L209.9,39.1 L210.6,39.1 L211.2,39.2 L211.7,39.5 L212.0,39.8 L212.3,40.2 L212.7,40.6 L213.1,40.9 L213.4,41.3 L213.7,41.7 L214.0,42.0 L214.3,42.4 L214.5,42.8 L214.8,43.1 L215.2,43.6 L215.5,44.1 L215.8,44.5 L216.0,44.8 L216.2,45.3 L216.5,45.9 L216.7,46.2 L216.9,46.7 L217.2,47.3 L217.3,47.6 L217.6,48.3 L217.7,48.7 L217.9,49.4 L218.0,49.8 L218.2,50.4 L218.3,50.9 L218.4,51.5 L218.6,52.2 L218.7,52.5 L218.8,53.2 L218.9,53.9 L219.0,54.6 L219.1,55.0 L219.1,55.7 L219.2,56.4 L219.3,57.1 L219.3,57.8 L219.3,58.5 L219.4,58.8 L219.4,59.5 L219.4,60.2 L219.4,60.9 L219.3,61.3 L219.3,62.0 L219.2,62.7 L219.0,63.4 L218.9,63.8 L218.7,64.4 L218.6,64.8 L218.3,65.5 L218.2,65.8 L217.9,66.2 L217.6,66.8 L217.3,67.2 L217.0,67.6 L216.8,67.9 L216.4,68.3 L216.1,68.7 L215.7,69.0 L215.2,69.3 L214.8,69.6 L214.4,69.8 L214.0,70.0 L213.4,70.3 L213.1,70.5 L212.3,70.7 L212.0,70.8" fill="none" stroke="#0a0a0a" stroke-width="0.8"/>
<path d="M210.9,69.7 L210.2,69.8 L209.6,69.8 L209.1,69.7 L208.5,69.6 L207.8,69.4 L207.4,69.3 L206.9,69.0 L206.4,68.7 L206.1,68.5 L205.7,68.3 L205.3,67.9 L204.9,67.6 L204.5,67.2 L204.2,66.9 L203.9,66.5 L203.6,66.0 L203.3,65.5 L203.1,65.2 L202.9,64.6 L202.7,64.1 L202.6,63.6 L202.4,63.0 L202.3,62.3 L202.2,61.6 L202.2,61.3 L202.2,60.6 L202.2,59.9 L202.2,59.2 L202.2,58.8 L202.2,58.1 L202.3,57.4 L202.3,56.8 L202.4,56.0 L202.5,55.3 L202.6,55.0 L202.6,54.3 L202.8,53.6 L202.9,52.9 L203.0,52.5 L203.1,51.8 L203.2,51.4 L203.4,50.8 L203.6,50.2 L203.7,49.8 L203.9,49.1 L204.1,48.7 L204.3,48.3 L204.6,47.6 L204.8,47.3 L205.0,46.8 L205.3,46.3 L205.6,45.9 L205.8,45.5 L206.1,45.2 L206.4,44.8 L206.8,44.4 L207.1,44.1 L207.4,43.7 L207.8,43.4 L208.3,43.1 L208.8,42.8 L209.2,42.6 L209.8,42.4 L210.2,42.3 L210.9,42.4 L211.3,42.5 L211.8,42.8 L212.3,43.1 L212.7,43.4 L213.1,43.7 L213.4,44.0 L213.8,44.4 L214.1,44.8 L214.4,45.2 L214.7,45.5 L214.9,45.9 L215.2,46.3 L215.5,46.9 L215.7,47.3 L215.9,47.6 L216.2,48.3 L216.3,48.7 L216.6,49.2 L216.7,49.8 L216.9,50.3 L217.1,50.8 L217.2,51.5 L217.3,51.8 L217.5,52.5 L217.6,53.0 L217.7,53.6 L217.8,54.3 L217.9,55.0 L218.0,55.3 L218.1,56.0 L218.1,56.8 L218.2,57.4 L218.2,58.1 L218.3,58.8 L218.3,59.5 L218.3,59.9 L218.3,60.6 L218.3,60.9 L218.2,61.6 L218.1,62.3 L218.0,63.0 L217.9,63.4 L217.7,64.1 L217.5,64.4 L217.2,65.1 L217.1,65.5 L216.9,65.8 L216.6,66.3 L216.2,66.8 L215.8,67.2 L215.5,67.6 L215.2,67.9 L214.8,68.2 L214.4,68.4 L214.1,68.7 L213.5,69.0 L213.1,69.2 L212.7,69.3 L212.0,69.6 L211.3,69.7 L210.9,69.7" fill="none" stroke="#0a0a0a" stroke-width="0.8"/>
<path d="M210.9,68.7 L210.2,68.7 L209.6,68.7 L209.2,68.6 L208.5,68.4 L208.1,68.3 L207.4,68.0 L207.1,67.9 L206.7,67.6 L206.2,67.2 L205.8,66.9 L205.5,66.5 L205.2,66.2 L204.9,65.8 L204.7,65.5 L204.3,64.9 L204.1,64.4 L203.9,64.1 L203.7,63.4 L203.6,63.0 L203.4,62.3 L203.3,61.6 L203.3,60.9 L203.3,60.2 L203.3,59.5 L203.3,58.8 L203.3,58.1 L203.4,57.4 L203.5,56.8 L203.5,56.0 L203.6,55.6 L203.7,55.0 L203.8,54.3 L203.9,53.6 L204.0,53.2 L204.2,52.5 L204.3,52.1 L204.5,51.5 L204.7,50.9 L204.8,50.4 L205.0,49.9 L205.2,49.4 L205.4,49.0 L205.7,48.4 L205.9,48.0 L206.1,47.6 L206.4,47.2 L206.8,46.8 L207.1,46.3 L207.4,46.0 L207.8,45.6 L208.2,45.4 L208.5,45.1 L209.1,44.8 L209.6,44.7 L210.2,44.6 L210.9,44.6 L211.6,44.8 L212.0,45.1 L212.3,45.3 L212.7,45.5 L213.1,45.9 L213.4,46.2 L213.8,46.6 L214.1,47.1 L214.4,47.6 L214.7,48.0 L214.9,48.3 L215.2,48.9 L215.4,49.4 L215.5,49.8 L215.8,50.4 L215.9,50.8 L216.2,51.5 L216.3,51.8 L216.5,52.5 L216.6,52.9 L216.7,53.6 L216.8,54.3 L216.9,54.6 L217.0,55.3 L217.1,56.0 L217.2,56.8 L217.2,57.3 L217.3,57.8 L217.3,58.5 L217.4,59.2 L217.4,59.9 L217.4,60.6 L217.3,61.3 L217.2,61.9 L217.2,62.3 L217.0,63.0 L216.9,63.4 L216.6,64.1 L216.5,64.4 L216.2,65.0 L215.9,65.5 L215.7,65.8 L215.4,66.2 L215.1,66.5 L214.7,66.9 L214.3,67.2 L213.8,67.6 L213.4,67.9 L213.1,68.1 L212.5,68.3 L212.0,68.5 L211.3,68.6 L210.9,68.7" fill="none" stroke="#0a0a0a" stroke-width="0.8"/>
<path d="M210.9,67.7 L210.2,67.7 L209.6,67.6 L209.2,67.6 L208.5,67.4 L208.2,67.2 L207.5,66.9 L207.1,66.6 L206.8,66.4 L206.4,66.0 L206.1,65.7 L205.7,65.2 L205.4,64.8 L205.2,64.4 L205.0,64.0 L204.7,63.4 L204.6,63.0 L204.4,62.3 L204.3,61.6 L204.3,61.3 L204.2,60.6 L204.2,59.9 L204.2,59.2 L204.3,58.5 L204.3,58.1 L204.4,57.4 L204.4,56.8 L204.5,56.0 L204.6,55.3 L204.7,55.0 L204.8,54.3 L205.0,53.6 L205.1,53.2 L205.3,52.5 L205.4,52.2 L205.6,51.5 L205.8,51.1 L206.0,50.4 L206.2,50.1 L206.4,49.7 L206.8,49.1 L207.0,48.7 L207.3,48.3 L207.6,48.0 L207.9,47.6 L208.3,47.3 L208.8,46.9 L209.2,46.7 L209.6,46.6 L210.2,46.5 L210.9,46.6 L211.3,46.7 L211.9,46.9 L212.3,47.3 L212.7,47.6 L213.1,47.9 L213.4,48.3 L213.7,48.7 L213.9,49.0 L214.1,49.4 L214.4,50.0 L214.7,50.4 L214.8,50.8 L215.1,51.5 L215.2,51.8 L215.5,52.5 L215.6,52.9 L215.7,53.6 L215.8,54.0 L216.0,54.6 L216.1,55.3 L216.2,55.9 L216.3,56.4 L216.4,57.1 L216.4,57.8 L216.5,58.5 L216.5,59.2 L216.5,59.9 L216.5,60.6 L216.5,61.3 L216.4,62.0 L216.2,62.7 L216.1,63.0 L215.8,63.7 L215.7,64.1 L215.5,64.4 L215.2,65.0 L214.8,65.5 L214.5,65.8 L214.1,66.2 L213.8,66.5 L213.4,66.7 L213.1,67.0 L212.4,67.2 L212.0,67.4 L211.3,67.6 L210.9,67.7" fill="none" stroke="#0a0a0a" stroke-width="0.8"/>
<path d="M211.3,66.6 L210.6,66.7 L209.9,66.7 L209.2,66.6 L208.8,66.5 L208.2,66.2 L207.8,66.0 L207.4,65.7 L207.1,65.4 L206.8,65.1 L206.4,64.6 L206.1,64.1 L205.9,63.8 L205.7,63.4 L205.4,62.7 L205.3,62.3 L205.2,61.6 L205.1,60.9 L205.1,60.2 L205.1,59.5 L205.1,58.8 L205.2,58.1 L205.2,57.4 L205.3,56.8 L205.4,56.4 L205.5,55.7 L205.7,55.0 L205.7,54.6 L205.9,53.9 L206.1,53.5 L206.2,52.9 L206.4,52.5 L206.7,51.8 L206.8,51.5 L207.1,50.9 L207.4,50.4 L207.6,50.1 L207.9,49.8 L208.2,49.4 L208.6,49.0 L209.1,48.7 L209.6,48.5 L210.2,48.4 L210.9,48.4 L211.6,48.7 L212.0,48.9 L212.3,49.2 L212.7,49.6 L213.1,50.0 L213.4,50.4 L213.6,50.8 L213.8,51.1 L214.1,51.8 L214.3,52.2 L214.4,52.6 L214.7,53.2 L214.8,53.7 L215.0,54.3 L215.1,55.0 L215.2,55.3 L215.4,56.0 L215.5,56.8 L215.5,57.1 L215.6,57.8 L215.7,58.5 L215.7,59.2 L215.8,59.9 L215.7,60.6 L215.7,61.3 L215.6,62.0 L215.5,62.3 L215.2,63.0 L215.1,63.4 L214.8,63.9 L214.5,64.4 L214.2,64.8 L213.9,65.2 L213.5,65.5 L213.1,65.8 L212.7,66.1 L212.3,66.3 L211.7,66.5 L211.3,66.6" fill="none" stroke="#0a0a0a" stroke-width="0.8"/>
<path d="M211.7,65.6 L210.9,65.8 L210.2,65.8 L209.6,65.7 L208.9,65.5 L208.5,65.3 L208.2,65.1 L207.8,64.8 L207.4,64.4 L207.1,64.1 L206.8,63.6 L206.5,63.0 L206.3,62.7 L206.1,62.0 L206.0,61.6 L205.9,60.9 L205.9,60.2 L205.9,59.5 L205.9,58.8 L206.0,58.1 L206.1,57.8 L206.2,57.1 L206.3,56.4 L206.4,55.9 L206.5,55.3 L206.7,54.6 L206.9,54.3 L207.1,53.6 L207.3,53.2 L207.4,52.8 L207.8,52.2 L208.0,51.8 L208.3,51.5 L208.6,51.1 L209.0,50.8 L209.5,50.4 L209.9,50.3 L210.6,50.3 L211.2,50.4 L211.7,50.7 L212.0,51.0 L212.3,51.3 L212.7,51.7 L213.0,52.2 L213.2,52.5 L213.4,52.9 L213.7,53.6 L213.8,53.9 L214.1,54.6 L214.2,55.0 L214.4,55.7 L214.5,56.0 L214.6,56.8 L214.8,57.4 L214.8,57.8 L214.9,58.5 L215.0,59.2 L215.0,59.9 L215.0,60.6 L214.9,61.3 L214.8,61.9 L214.7,62.3 L214.4,62.9 L214.2,63.4 L214.0,63.8 L213.7,64.1 L213.4,64.5 L213.0,64.8 L212.5,65.2 L212.0,65.4 L211.7,65.6" fill="none" stroke="#0a0a0a" stroke-width="0.8"/>
<path d="M211.3,64.9 L210.6,65.0 L209.9,64.9 L209.3,64.8 L208.8,64.6 L208.5,64.4 L208.1,64.1 L207.8,63.8 L207.4,63.3 L207.1,62.7 L206.9,62.3 L206.8,61.8 L206.6,61.3 L206.6,60.6 L206.5,59.9 L206.6,59.2 L206.7,58.5 L206.8,58.0 L206.9,57.4 L207.0,56.8 L207.1,56.4 L207.3,55.7 L207.5,55.3 L207.8,54.6 L207.9,54.3 L208.2,53.9 L208.5,53.3 L208.8,52.9 L209.2,52.6 L209.6,52.3 L209.9,52.2 L210.6,52.1 L210.9,52.2 L211.5,52.5 L211.9,52.9 L212.3,53.2 L212.5,53.6 L212.7,53.9 L213.1,54.6 L213.2,55.0 L213.4,55.4 L213.6,56.0 L213.8,56.4 L213.9,57.1 L214.1,57.8 L214.2,58.1 L214.3,58.8 L214.3,59.5 L214.3,60.2 L214.3,60.9 L214.2,61.6 L214.1,62.0 L213.8,62.7 L213.6,63.0 L213.3,63.4 L213.1,63.8 L212.7,64.1 L212.2,64.4 L211.7,64.7 L211.3,64.9" fill="none" stroke="#0a0a0a" stroke-width="0.8"/>
<path d="M210.9,64.2 L210.2,64.2 L209.6,64.1 L209.2,64.0 L208.8,63.8 L208.4,63.4 L208.1,63.0 L207.8,62.6 L207.5,62.0 L207.4,61.6 L207.2,60.9 L207.2,60.2 L207.2,59.5 L207.3,58.8 L207.4,58.1 L207.5,57.8 L207.7,57.1 L207.8,56.8 L208.1,56.0 L208.3,55.7 L208.5,55.3 L208.8,54.9 L209.2,54.5 L209.6,54.2 L210.2,54.0 L210.9,54.0 L211.4,54.3 L211.8,54.6 L212.1,55.0 L212.4,55.3 L212.7,55.9 L212.9,56.4 L213.1,56.8 L213.3,57.4 L213.4,57.8 L213.6,58.5 L213.7,59.2 L213.7,59.9 L213.8,60.2 L213.7,60.6 L213.6,61.3 L213.4,62.0 L213.2,62.3 L213.0,62.7 L212.7,63.2 L212.3,63.5 L212.0,63.8 L211.3,64.1 L210.9,64.2" fill="none" stroke="#0a0a0a" stroke-width="0.8"/>
<path d="M210.9,63.5 L210.2,63.5 L209.7,63.4 L209.2,63.2 L208.8,62.9 L208.5,62.5 L208.2,62.0 L208.0,61.6 L207.8,61.0 L207.8,60.6 L207.7,59.9 L207.8,59.3 L207.9,58.8 L208.1,58.1 L208.2,57.8 L208.5,57.1 L208.7,56.8 L209.0,56.4 L209.3,56.0 L209.8,55.7 L210.2,55.5 L210.9,55.6 L211.3,55.8 L211.7,56.1 L212.0,56.5 L212.3,57.0 L212.6,57.4 L212.7,57.8 L213.0,58.5 L213.1,58.9 L213.2,59.5 L213.2,60.2 L213.1,60.9 L213.0,61.3 L212.8,62.0 L212.5,62.3 L212.3,62.7 L211.9,63.0 L211.3,63.4 L210.9,63.5" fill="none" stroke="#0a0a0a" stroke-width="0.8"/>
<path d="M210.9,62.8 L210.2,62.8 L209.8,62.7 L209.2,62.4 L208.9,62.0 L208.7,61.6 L208.5,61.3 L208.3,60.6 L208.3,59.9 L208.4,59.2 L208.5,58.8 L208.8,58.1 L209.0,57.8 L209.2,57.4 L209.6,57.1 L210.2,56.8 L210.9,56.9 L211.3,57.1 L211.7,57.4 L212.0,57.9 L212.3,58.5 L212.4,58.8 L212.6,59.5 L212.6,60.2 L212.5,60.9 L212.3,61.5 L212.0,62.0 L211.7,62.3 L211.3,62.6 L210.9,62.8" fill="none" stroke="#0a0a0a" stroke-width="0.8"/>
<rect x="335.95" y="54.42" width="0.70" height="0.70" fill="#333"/>
<rect x="348.42" y="56.77" width="0.70" height="0.70" fill="#333"/>
<rect x="345.62" y="54.09" width="0.70" height="0.70" fill="#333"/>
<rect x="332.03" y="55.70" width="0.70" height="0.70" fill="#333"/>
<rect x="337.78" y="57.04" width="0.70" height="0.70" fill="#333"/>
<rect x="359.99" y="52.99" width="0.70" height="0.70" fill="#333"/>
<rect x="339.20" y="55.14" width="0.70" height="0.70" fill="#333"/>
<rect x="342.39" y="56.36" width="0.70" height="0.70" fill="#333"/>
<rect x="348.84" y="55.56" width="0.70" height="0.70" fill="#333"/>
<rect x="358.55" y="56.30" width="0.70" height="0.70" fill="#333"/>
<rect x="338.31" y="57.10" width="0.70" height="0.70" fill="#333"/>
<rect x="338.63" y="55.91" width="0.70" height="0.70" fill="#333"/>
<rect x="355.91" y="66.82" width="0.70" height="0.70" fill="#333"/>
<rect x="334.83" y="56.91" width="0.70" height="0.70" fill="#333"/>
<rect x="338.93" y="51.99" width="0.70" height="0.70" fill="#333"/>
<rect x="354.26" y="29.02" width="0.70" height="0.70" fill="#333"/>
<rect x="337.80" y="54.14" width="0.70" height="0.70" fill="#333"/>
<rect x="344.69" y="54.68" width="0.70" height="0.70" fill="#333"/>
<rect x="344.92" y="54.94" width="0.70" height="0.70" fill="#333"/>
<rect x="342.10" y="55.82" width="0.70" height="0.70" fill="#333"/>
<rect x="356.52" y="67.79" width="0.70" height="0.70" fill="#333"/>
<rect x="340.07" y="58.66" width="0.70" height="0.70" fill="#333"/>
<rect x="340.29" y="36.73" width="0.70" height="0.70" fill="#333"/>
<rect x="347.57" y="55.87" width="0.70" height="0.70" fill="#333"/>
<rect x="341.51" y="52.68" width="0.70" height="0.70" fill="#333"/>
<rect x="341.70" y="56.89" width="0.70" height="0.70" fill="#333"/>
<rect x="326.92" y="53.13" width="0.70" height="0.70" fill="#333"/>
<rect x="356.11" y="34.62" width="0.70" height="0.70" fill="#333"/>
<rect x="344.73" y="53.34" width="0.70" height="0.70" fill="#333"/>
<rect x="355.35" y="72.93" width="0.70" height="0.70" fill="#333"/>
<rect x="337.83" y="55.64" width="0.70" height="0.70" fill="#333"/>
<rect x="352.46" y="47.82" width="0.70" height="0.70" fill="#333"/>
<rect x="345.60" y="55.61" width="0.70" height="0.70" fill="#333"/>
<rect x="340.43" y="48.92" width="0.70" height="0.70" fill="#333"/>
<rect x="355.39" y="70.44" width="0.70" height="0.70" fill="#333"/>
<rect x="337.27" y="54.12" width="0.70" height="0.70" fill="#333"/>
<rect x="347.18" y="55.42" width="0.70" height="0.70" fill="#333"/>
<rect x="330.51" y="53.79" width="0.70" height="0.70" fill="#333"/>
<rect x="358.13" y="27.39" width="0.70" height="0.70" fill="#333"/>
<rect x="351.69" y="54.80" width="0.70" height="0.70" fill="#333"/>
<rect x="357.06" y="59.55" width="0.70" height="0.70" fill="#333"/>
<rect x="355.93" y="46.35" width="0.70" height="0.70" fill="#333"/>
<rect x="335.44" y="60.53" width="0.70" height="0.70" fill="#333"/>
<rect x="331.03" y="56.05" width="0.70" height="0.70" fill="#333"/>
<rect x="340.12" y="55.74" width="0.70" height="0.70" fill="#333"/>
<rect x="353.51" y="53.84" width="0.70" height="0.70" fill="#333"/>
<rect x="349.61" y="57.04" width="0.70" height="0.70" fill="#333"/>
<rect x="342.11" y="58.25" width="0.70" height="0.70" fill="#333"/>
<rect x="355.31" y="49.88" width="0.70" height="0.70" fill="#333"/>
<rect x="348.85" y="55.61" width="0.70" height="0.70" fill="#333"/>
<rect x="355.91" y="71.37" width="0.70" height="0.70" fill="#333"/>
<rect x="344.57" y="55.51" width="0.70" height="0.70" fill="#333"/>
<rect x="349.74" y="53.96" width="0.70" height="0.70" fill="#333"/>
<rect x="330.14" y="55.93" width="0.70" height="0.70" fill="#333"/>
<rect x="336.87" y="54.30" width="0.70" height="0.70" fill="#333"/>
<rect x="347.67" y="31.14" width="0.70" height="0.70" fill="#333"/>
<rect x="340.96" y="55.07" width="0.70" height="0.70" fill="#333"/>
<rect x="353.76" y="57.57" width="0.70" height="0.70" fill="#333"/>
<rect x="350.36" y="55.70" width="0.70" height="0.70" fill="#333"/>
<rect x="352.08" y="53.90" width="0.70" height="0.70" fill="#333"/>
<rect x="341.49" y="44.13" width="0.70" height="0.70" fill="#333"/>
<rect x="337.61" y="55.70" width="0.70" height="0.70" fill="#333"/>
<rect x="336.63" y="57.87" width="0.70" height="0.70" fill="#333"/>
<rect x="343.15" y="55.62" width="0.70" height="0.70" fill="#333"/>
<rect x="341.10" y="61.44" width="0.70" height="0.70" fill="#333"/>
<rect x="354.22" y="57.77" width="0.70" height="0.70" fill="#333"/>
<rect x="352.10" y="45.40" width="0.70" height="0.70" fill="#333"/>
<rect x="351.71" y="46.66" width="0.70" height="0.70" fill="#333"/>
<rect x="354.74" y="50.31" width="0.70" height="0.70" fill="#333"/>
<rect x="350.17" y="58.29" width="0.70" height="0.70" fill="#333"/>
<rect x="333.52" y="57.35" width="0.70" height="0.70" fill="#333"/>
<rect x="355.63" y="58.89" width="0.70" height="0.70" fill="#333"/>
<rect x="334.39" y="57.76" width="0.70" height="0.70" fill="#333"/>
<rect x="354.62" y="79.08" width="0.70" height="0.70" fill="#333"/>
<rect x="348.25" y="54.48" width="0.70" height="0.70" fill="#333"/>
<rect x="354.61" y="27.92" width="0.70" height="0.70" fill="#333"/>
<rect x="332.51" y="54.76" width="0.70" height="0.70" fill="#333"/>
<rect x="351.13" y="50.95" width="0.70" height="0.70" fill="#333"/>
<rect x="352.63" y="55.29" width="0.70" height="0.70" fill="#333"/>
<rect x="357.30" y="17.54" width="0.70" height="0.70" fill="#333"/>
<rect x="343.86" y="60.72" width="0.70" height="0.70" fill="#333"/>
<rect x="335.77" y="56.23" width="0.70" height="0.70" fill="#333"/>
<rect x="349.82" y="57.93" width="0.70" height="0.70" fill="#333"/>
<rect x="369.53" y="33.66" width="0.70" height="0.70" fill="#333"/>
<rect x="346.38" y="52.85" width="0.70" height="0.70" fill="#333"/>
<rect x="342.43" y="45.27" width="0.70" height="0.70" fill="#333"/>
<rect x="356.15" y="56.68" width="0.70" height="0.70" fill="#333"/>
<rect x="331.39" y="59.08" width="0.70" height="0.70" fill="#333"/>
<rect x="353.06" y="35.08" width="0.70" height="0.70" fill="#333"/>
<rect x="335.19" y="56.27" width="0.70" height="0.70" fill="#333"/>
<rect x="334.41" y="58.28" width="0.70" height="0.70" fill="#333"/>
<rect x="355.13" y="71.90" width="0.70" height="0.70" fill="#333"/>
<rect x="340.85" y="54.11" width="0.70" height="0.70" fill="#333"/>
<rect x="332.65" y="55.93" width="0.70" height="0.70" fill="#333"/>
<rect x="347.92" y="56.63" width="0.70" height="0.70" fill="#333"/>
<rect x="337.47" y="56.93" width="0.70" height="0.70" fill="#333"/>
<rect x="331.59" y="56.39" width="0.70" height="0.70" fill="#333"/>
<rect x="340.12" y="55.92" width="0.70" height="0.70" fill="#333"/>
<rect x="349.41" y="51.59" width="0.70" height="0.70" fill="#333"/>
<rect x="355.81" y="71.33" width="0.70" height="0.70" fill="#333"/>
<rect x="344.42" y="55.55" width="0.70" height="0.70" fill="#333"/>
<rect x="335.20" y="54.69" width="0.70" height="0.70" fill="#333"/>
<rect x="348.09" y="55.96" width="0.70" height="0.70" fill="#333"/>
<rect x="355.26" y="72.96" width="0.70" height="0.70" fill="#333"/>
<rect x="340.19" y="55.01" width="0.70" height="0.70" fill="#333"/>
<rect x="356.19" y="57.23" width="0.70" height="0.70" fill="#333"/>
<rect x="352.53" y="75.63" width="0.70" height="0.70" fill="#333"/>
<rect x="356.28" y="57.40" width="0.70" height="0.70" fill="#333"/>
<rect x="345.02" y="55.12" width="0.70" height="0.70" fill="#333"/>
<rect x="328.56" y="54.16" width="0.70" height="0.70" fill="#333"/>
<rect x="343.56" y="60.19" width="0.70" height="0.70" fill="#333"/>
<rect x="356.34" y="47.10" width="0.70" height="0.70" fill="#333"/>
<rect x="326.75" y="55.83" width="0.70" height="0.70" fill="#333"/>
<rect x="338.33" y="55.88" width="0.70" height="0.70" fill="#333"/>
<rect x="354.24" y="43.56" width="0.70" height="0.70" fill="#333"/>
<rect x="349.75" y="56.93" width="0.70" height="0.70" fill="#333"/>
<rect x="339.37" y="57.08" width="0.70" height="0.70" fill="#333"/>
<rect x="342.02" y="48.76" width="0.70" height="0.70" fill="#333"/>
<rect x="355.68" y="45.82" width="0.70" height="0.70" fill="#333"/>
<rect x="345.52" y="55.23" width="0.70" height="0.70" fill="#333"/>
<rect x="360.23" y="51.01" width="0.70" height="0.70" fill="#333"/>
<rect x="326.31" y="52.83" width="0.70" height="0.70" fill="#333"/>
<rect x="331.16" y="58.42" width="0.70" height="0.70" fill="#333"/>
<rect x="356.43" y="59.28" width="0.70" height="0.70" fill="#333"/>
<rect x="340.99" y="57.38" width="0.70" height="0.70" fill="#333"/>
<rect x="360.05" y="57.95" width="0.70" height="0.70" fill="#333"/>
<rect x="338.65" y="56.07" width="0.70" height="0.70" fill="#333"/>
<rect x="353.37" y="33.76" width="0.70" height="0.70" fill="#333"/>
<rect x="357.44" y="52.89" width="0.70" height="0.70" fill="#333"/>
<rect x="333.23" y="58.17" width="0.70" height="0.70" fill="#333"/>
<rect x="331.79" y="55.47" width="0.70" height="0.70" fill="#333"/>
<rect x="356.12" y="56.71" width="0.70" height="0.70" fill="#333"/>
<rect x="341.91" y="54.73" width="0.70" height="0.70" fill="#333"/>
<rect x="351.34" y="56.98" width="0.70" height="0.70" fill="#333"/>
<rect x="343.87" y="56.41" width="0.70" height="0.70" fill="#333"/>
<rect x="351.02" y="55.55" width="0.70" height="0.70" fill="#333"/>
<rect x="355.34" y="68.58" width="0.70" height="0.70" fill="#333"/>
<rect x="361.63" y="36.40" width="0.70" height="0.70" fill="#333"/>
<rect x="346.10" y="54.19" width="0.70" height="0.70" fill="#333"/>
<rect x="359.02" y="27.27" width="0.70" height="0.70" fill="#333"/>
<rect x="348.86" y="51.14" width="0.70" height="0.70" fill="#333"/>
<rect x="365.20" y="27.66" width="0.70" height="0.70" fill="#333"/>
<rect x="343.06" y="57.86" width="0.70" height="0.70" fill="#333"/>
<rect x="356.22" y="47.17" width="0.70" height="0.70" fill="#333"/>
<rect x="357.65" y="64.55" width="0.70" height="0.70" fill="#333"/>
<rect x="337.81" y="56.99" width="0.70" height="0.70" fill="#333"/>
<rect x="337.96" y="57.24" width="0.70" height="0.70" fill="#333"/>
<rect x="331.86" y="61.37" width="0.70" height="0.70" fill="#333"/>
<rect x="344.54" y="43.79" width="0.70" height="0.70" fill="#333"/>
<rect x="337.56" y="56.37" width="0.70" height="0.70" fill="#333"/>
<rect x="338.00" y="56.08" width="0.70" height="0.70" fill="#333"/>
<rect x="340.66" y="54.59" width="0.70" height="0.70" fill="#333"/>
<rect x="351.04" y="51.46" width="0.70" height="0.70" fill="#333"/>
<rect x="342.50" y="44.79" width="0.70" height="0.70" fill="#333"/>
<rect x="344.96" y="56.10" width="0.70" height="0.70" fill="#333"/>
<rect x="336.62" y="56.24" width="0.70" height="0.70" fill="#333"/>
<rect x="349.49" y="51.67" width="0.70" height="0.70" fill="#333"/>
<rect x="346.59" y="45.04" width="0.70" height="0.70" fill="#333"/>
<rect x="343.43" y="55.84" width="0.70" height="0.70" fill="#333"/>
<rect x="328.85" y="58.07" width="0.70" height="0.70" fill="#333"/>
<rect x="355.76" y="58.15" width="0.70" height="0.70" fill="#333"/>
<rect x="341.27" y="55.66" width="0.70" height="0.70" fill="#333"/>
<rect x="353.63" y="44.42" width="0.70" height="0.70" fill="#333"/>
<rect x="355.41" y="64.96" width="0.70" height="0.70" fill="#333"/>
<rect x="345.53" y="56.39" width="0.70" height="0.70" fill="#333"/>
<rect x="341.02" y="55.76" width="0.70" height="0.70" fill="#333"/>
<rect x="356.00" y="72.70" width="0.70" height="0.70" fill="#333"/>
<rect x="356.16" y="61.21" width="0.70" height="0.70" fill="#333"/>
<rect x="343.42" y="44.15" width="0.70" height="0.70" fill="#333"/>
<rect x="352.49" y="49.63" width="0.70" height="0.70" fill="#333"/>
<path d="M343.9,83.2 L343.2,83.3 L342.6,83.3 L341.8,83.2 L341.5,83.2 L340.8,83.1 L340.1,83.0 L339.4,82.9 L339.1,82.8 L338.3,82.7 L337.6,82.5 L337.3,82.5 L336.6,82.4 L335.9,82.3 L335.2,82.2 L334.5,82.2 L333.8,82.2 L333.1,82.3 L332.4,82.4 L331.7,82.4 L331.0,82.4 L330.3,82.3 L329.7,82.1 L329.2,82.0 L328.9,81.8 L328.3,81.4 L327.9,81.1 L327.6,80.8 L327.4,80.4 L327.1,80.0 L326.9,79.3 L326.8,79.0 L326.7,78.3 L326.6,77.6 L326.6,76.9 L326.5,76.2 L326.5,75.5 L326.5,74.8 L326.4,74.4 L326.4,73.8 L326.4,73.0 L326.3,72.3 L326.3,71.7 L326.3,70.9 L326.3,70.2 L326.3,69.5 L326.4,68.8 L326.4,68.2 L326.5,67.8 L326.6,67.1 L326.7,66.4 L326.8,65.8 L327.0,65.3 L327.1,64.9 L327.4,64.3 L327.7,63.9 L327.9,63.6 L328.2,63.2 L328.6,62.9 L328.9,62.5 L329.2,62.2 L329.6,61.8 L330.0,61.5 L330.4,61.1 L330.8,60.8 L331.2,60.4 L331.7,60.1 L332.1,59.9 L332.4,59.6 L332.8,59.4 L333.4,59.0 L333.8,58.9 L334.2,58.7 L334.8,58.5 L335.2,58.3 L335.9,58.2 L336.6,58.0 L336.9,57.9 L337.6,57.8 L338.3,57.7 L338.8,57.6 L339.4,57.6 L340.1,57.5 L340.8,57.4 L341.5,57.4 L342.2,57.3 L342.9,57.3 L343.6,57.3 L343.9,57.3 L344.6,57.3 L345.3,57.3 L345.7,57.3 L346.4,57.3 L347.1,57.3 L347.8,57.4 L348.5,57.4 L349.2,57.5 L349.9,57.5 L350.6,57.6 L350.9,57.7 L351.6,57.8 L352.3,57.9 L352.7,58.0 L353.4,58.3 L353.8,58.5 L354.1,58.7 L354.4,59.2 L354.7,59.8 L354.8,60.1 L355.0,60.8 L355.1,61.4 L355.2,61.8 L355.3,62.5 L355.4,63.2 L355.5,63.9 L355.5,64.7 L355.5,65.0 L355.5,65.7 L355.5,66.4 L355.5,67.1 L355.5,67.4 L355.5,68.2 L355.5,68.8 L355.4,69.5 L355.4,70.2 L355.3,70.9 L355.2,71.7 L355.1,72.3 L355.1,72.7 L355.0,73.4 L354.9,74.1 L354.8,74.4 L354.6,75.2 L354.4,75.7 L354.3,76.2 L354.1,76.6 L353.8,77.2 L353.4,77.6 L353.1,78.0 L352.7,78.3 L352.3,78.6 L352.0,78.9 L351.6,79.1 L351.3,79.3 L350.7,79.7 L350.2,80.0 L349.9,80.2 L349.6,80.4 L349.1,80.8 L348.6,81.1 L348.2,81.4 L347.8,81.8 L347.4,82.0 L347.1,82.3 L346.8,82.5 L346.1,82.8 L345.7,82.9 L345.0,83.1 L344.3,83.2 L343.9,83.2" fill="none" stroke="#0a0a0a" stroke-width="0.75"/>
<path d="M343.6,82.5 L342.9,82.6 L342.2,82.5 L341.8,82.4 L341.1,82.2 L340.8,82.1 L340.3,81.8 L339.9,81.4 L339.5,81.1 L339.1,80.8 L338.7,80.4 L338.3,80.1 L338.0,80.0 L337.3,79.7 L336.9,79.6 L336.2,79.4 L335.6,79.4 L334.8,79.5 L334.4,79.7 L333.8,80.0 L333.4,80.3 L333.1,80.5 L332.5,80.8 L332.1,80.9 L331.3,81.0 L330.6,81.0 L329.9,80.8 L329.6,80.7 L329.2,80.4 L328.8,80.0 L328.5,79.7 L328.2,79.0 L328.1,78.6 L328.0,78.0 L328.1,77.2 L328.2,76.6 L328.3,76.2 L328.6,75.7 L328.8,75.2 L328.9,74.8 L329.1,74.1 L329.1,73.4 L329.0,72.7 L329.0,72.0 L328.9,71.4 L328.9,70.9 L328.9,70.2 L328.9,69.9 L329.0,69.2 L329.2,68.5 L329.3,68.2 L329.5,67.4 L329.7,67.1 L329.9,66.4 L330.1,66.0 L330.3,65.7 L330.6,65.1 L330.9,64.7 L331.2,64.3 L331.4,63.9 L331.7,63.5 L332.1,63.1 L332.4,62.7 L332.8,62.3 L333.1,61.9 L333.4,61.5 L333.8,61.2 L334.1,60.9 L334.5,60.6 L334.8,60.3 L335.2,60.0 L335.6,59.8 L336.2,59.4 L336.6,59.2 L336.9,59.0 L337.6,58.7 L338.0,58.6 L338.7,58.4 L339.1,58.3 L339.8,58.2 L340.4,58.1 L340.9,58.0 L341.5,57.9 L342.2,57.9 L342.9,57.8 L343.6,57.8 L344.3,57.8 L345.0,57.8 L345.7,57.8 L346.4,57.8 L347.1,57.8 L347.8,57.9 L348.5,58.0 L348.8,58.0 L349.6,58.1 L350.2,58.2 L350.8,58.3 L351.3,58.5 L351.9,58.7 L352.3,58.9 L352.7,59.0 L353.3,59.4 L353.7,59.8 L353.9,60.1 L354.2,60.4 L354.4,61.1 L354.6,61.5 L354.8,62.2 L354.8,62.5 L354.9,63.2 L355.0,63.9 L355.1,64.7 L355.1,65.3 L355.1,66.0 L355.1,66.8 L355.1,67.4 L355.0,68.2 L355.0,68.8 L354.9,69.5 L354.9,70.2 L354.8,70.9 L354.7,71.3 L354.6,72.0 L354.5,72.7 L354.4,73.0 L354.2,73.8 L354.0,74.1 L353.8,74.6 L353.4,75.2 L353.1,75.5 L352.8,75.8 L352.4,76.2 L352.0,76.5 L351.6,76.8 L351.3,77.1 L350.9,77.3 L350.5,77.6 L349.9,77.9 L349.6,78.1 L349.2,78.3 L348.6,78.6 L348.1,78.9 L347.8,79.1 L347.4,79.3 L347.1,79.7 L346.8,80.2 L346.4,80.8 L346.2,81.1 L345.9,81.4 L345.6,81.8 L345.0,82.1 L344.6,82.3 L343.9,82.5 L343.6,82.5" fill="none" stroke="#0a0a0a" stroke-width="0.75"/>
<path d="M343.6,81.1 L342.9,81.2 L342.5,81.1 L342.1,80.8 L341.9,80.0 L342.2,79.4 L342.3,79.0 L342.1,78.6 L341.5,78.3 L341.1,78.2 L340.5,78.0 L340.1,77.8 L339.4,77.6 L339.1,77.5 L338.4,77.2 L338.0,77.1 L337.5,76.9 L336.9,76.6 L336.6,76.5 L336.1,76.2 L335.6,75.9 L335.2,75.6 L334.8,75.4 L334.5,75.1 L334.1,74.8 L333.8,74.3 L333.4,73.8 L333.2,73.4 L333.1,73.0 L332.8,72.3 L332.7,72.0 L332.5,71.3 L332.4,70.6 L332.4,70.2 L332.4,69.5 L332.4,68.8 L332.4,68.5 L332.5,67.8 L332.7,67.1 L332.8,66.8 L333.0,66.0 L333.1,65.7 L333.4,65.0 L333.6,64.7 L333.8,64.2 L334.1,63.6 L334.4,63.2 L334.6,62.9 L334.9,62.5 L335.2,62.2 L335.6,61.8 L335.9,61.4 L336.2,61.1 L336.6,60.8 L337.1,60.4 L337.6,60.1 L338.0,59.9 L338.3,59.7 L338.9,59.4 L339.4,59.2 L339.8,59.0 L340.4,58.8 L341.0,58.7 L341.5,58.6 L342.2,58.5 L342.9,58.4 L343.6,58.4 L343.9,58.3 L344.6,58.3 L345.3,58.3 L345.9,58.3 L346.4,58.4 L347.1,58.4 L347.8,58.5 L348.5,58.6 L348.8,58.7 L349.6,58.9 L350.1,59.0 L350.6,59.2 L351.0,59.4 L351.6,59.7 L352.0,59.9 L352.3,60.1 L352.8,60.4 L353.2,60.8 L353.5,61.1 L353.8,61.5 L354.1,62.2 L354.2,62.5 L354.4,63.2 L354.4,63.6 L354.5,64.3 L354.6,65.0 L354.6,65.7 L354.6,66.4 L354.6,67.1 L354.6,67.8 L354.5,68.5 L354.4,69.2 L354.4,69.5 L354.3,70.2 L354.1,70.9 L354.0,71.3 L353.8,72.0 L353.6,72.3 L353.4,72.8 L353.1,73.3 L352.7,73.8 L352.4,74.1 L352.1,74.4 L351.7,74.8 L351.3,75.1 L350.9,75.4 L350.6,75.6 L350.2,75.9 L349.7,76.2 L349.2,76.5 L348.8,76.7 L348.3,76.9 L347.8,77.1 L347.4,77.2 L346.8,77.5 L346.4,77.6 L345.7,77.9 L345.3,78.0 L344.6,78.2 L344.3,78.4 L343.9,78.6 L343.8,79.3 L344.0,79.7 L344.2,80.4 L343.9,80.9 L343.6,81.1" fill="none" stroke="#0a0a0a" stroke-width="0.75"/>
<path d="M331.3,79.4 L330.6,79.4 L330.3,79.2 L329.9,78.9 L329.7,78.3 L329.8,77.6 L330.0,77.2 L330.3,76.9 L331.0,76.6 L331.3,76.5 L331.7,76.6 L332.2,76.9 L332.5,77.2 L332.5,78.0 L332.4,78.4 L332.1,78.9 L331.7,79.2 L331.3,79.4" fill="none" stroke="#0a0a0a" stroke-width="0.75"/>
<path d="M345.7,76.2 L345.0,76.4 L344.3,76.4 L343.6,76.5 L342.9,76.4 L342.2,76.4 L341.5,76.2 L341.1,76.2 L340.4,76.0 L340.1,75.8 L339.4,75.5 L339.1,75.4 L338.6,75.2 L338.1,74.8 L337.6,74.5 L337.3,74.2 L336.9,73.9 L336.6,73.6 L336.2,73.2 L335.9,72.7 L335.7,72.3 L335.5,72.0 L335.2,71.4 L335.0,70.9 L334.8,70.3 L334.8,69.9 L334.7,69.2 L334.6,68.5 L334.7,67.8 L334.7,67.1 L334.8,66.4 L334.9,66.0 L335.1,65.3 L335.2,65.0 L335.5,64.3 L335.7,63.9 L335.9,63.5 L336.2,63.0 L336.6,62.6 L336.9,62.2 L337.2,61.8 L337.6,61.5 L338.0,61.2 L338.3,60.9 L338.7,60.7 L339.1,60.4 L339.7,60.1 L340.1,59.9 L340.5,59.8 L341.1,59.5 L341.6,59.4 L342.2,59.3 L342.9,59.1 L343.5,59.0 L343.9,59.0 L344.6,59.0 L345.3,59.0 L346.1,59.0 L346.4,59.1 L347.1,59.1 L347.8,59.3 L348.4,59.4 L348.8,59.5 L349.5,59.8 L349.9,59.9 L350.3,60.1 L350.9,60.4 L351.3,60.6 L351.6,60.9 L352.0,61.1 L352.4,61.5 L352.8,61.8 L353.1,62.2 L353.4,62.7 L353.6,63.2 L353.8,63.6 L353.9,64.3 L354.0,65.0 L354.1,65.7 L354.1,66.4 L354.0,67.1 L354.0,67.8 L353.9,68.5 L353.8,69.2 L353.7,69.5 L353.5,70.2 L353.3,70.6 L353.1,71.2 L352.8,71.7 L352.5,72.0 L352.3,72.3 L352.0,72.7 L351.6,73.1 L351.3,73.4 L350.9,73.8 L350.5,74.1 L350.0,74.4 L349.6,74.7 L349.2,75.0 L348.8,75.2 L348.1,75.5 L347.8,75.6 L347.2,75.8 L346.8,76.0 L346.1,76.2 L345.7,76.2" fill="none" stroke="#0a0a0a" stroke-width="0.75"/>
<path d="M346.1,74.9 L345.3,75.0 L344.6,75.1 L343.9,75.1 L343.2,75.1 L342.6,75.0 L341.8,74.8 L341.5,74.7 L340.8,74.5 L340.4,74.3 L340.1,74.1 L339.5,73.8 L339.1,73.4 L338.7,73.2 L338.3,72.8 L338.0,72.4 L337.6,72.0 L337.4,71.7 L337.2,71.3 L336.9,70.8 L336.7,70.2 L336.6,69.9 L336.4,69.2 L336.3,68.5 L336.3,67.8 L336.2,67.4 L336.3,67.1 L336.3,66.4 L336.4,65.7 L336.6,65.0 L336.7,64.7 L336.9,64.2 L337.3,63.6 L337.5,63.2 L337.8,62.9 L338.1,62.5 L338.4,62.2 L338.8,61.8 L339.2,61.5 L339.8,61.2 L340.1,60.9 L340.4,60.8 L341.1,60.4 L341.5,60.3 L342.2,60.1 L342.6,60.0 L343.2,59.9 L343.9,59.8 L344.3,59.7 L345.0,59.7 L345.6,59.8 L346.1,59.8 L346.8,59.9 L347.4,60.0 L347.9,60.1 L348.5,60.3 L348.9,60.4 L349.6,60.7 L349.9,60.9 L350.4,61.1 L350.9,61.5 L351.3,61.8 L351.6,62.1 L352.0,62.5 L352.3,62.9 L352.6,63.2 L352.8,63.6 L353.1,64.2 L353.2,64.7 L353.3,65.3 L353.3,66.0 L353.3,66.8 L353.2,67.4 L353.1,68.2 L353.0,68.5 L352.8,69.2 L352.6,69.5 L352.3,70.2 L352.1,70.6 L351.9,70.9 L351.6,71.3 L351.3,71.7 L350.9,72.1 L350.6,72.5 L350.2,72.8 L349.9,73.1 L349.4,73.4 L348.9,73.8 L348.5,74.0 L348.1,74.1 L347.4,74.4 L347.1,74.6 L346.4,74.8 L346.1,74.9" fill="none" stroke="#0a0a0a" stroke-width="0.75"/>
<path d="M345.3,73.8 L344.6,73.9 L343.9,73.8 L343.2,73.8 L342.9,73.7 L342.2,73.5 L341.8,73.4 L341.1,73.1 L340.8,72.9 L340.4,72.7 L340.0,72.3 L339.6,72.0 L339.3,71.7 L339.0,71.3 L338.7,70.9 L338.3,70.3 L338.1,69.9 L338.0,69.5 L337.8,68.8 L337.7,68.2 L337.6,67.8 L337.6,67.1 L337.6,66.4 L337.6,65.9 L337.8,65.3 L338.0,64.7 L338.1,64.3 L338.3,63.9 L338.7,63.4 L339.1,63.0 L339.4,62.6 L339.8,62.3 L340.1,62.0 L340.4,61.8 L340.9,61.5 L341.5,61.2 L341.8,61.1 L342.6,60.8 L342.9,60.7 L343.6,60.6 L344.3,60.5 L345.0,60.5 L345.7,60.5 L346.4,60.6 L347.1,60.7 L347.4,60.8 L348.1,61.0 L348.5,61.2 L349.2,61.5 L349.6,61.7 L349.9,61.9 L350.3,62.2 L350.8,62.5 L351.1,62.9 L351.4,63.2 L351.6,63.6 L352.0,64.3 L352.1,64.7 L352.3,65.3 L352.3,66.0 L352.3,66.8 L352.2,67.4 L352.0,68.2 L351.9,68.5 L351.6,69.1 L351.5,69.5 L351.3,69.9 L350.9,70.4 L350.6,70.8 L350.2,71.2 L349.9,71.6 L349.6,71.9 L349.2,72.2 L348.8,72.4 L348.4,72.7 L347.8,73.0 L347.4,73.2 L346.9,73.4 L346.4,73.6 L345.7,73.7 L345.3,73.8" fill="none" stroke="#0a0a0a" stroke-width="0.75"/>
<path d="M346.1,72.4 L345.3,72.6 L344.6,72.6 L343.9,72.6 L343.2,72.5 L342.7,72.3 L342.2,72.2 L341.8,72.0 L341.3,71.7 L340.8,71.3 L340.5,70.9 L340.1,70.6 L339.9,70.2 L339.6,69.9 L339.4,69.4 L339.1,68.8 L339.0,68.5 L338.9,67.8 L338.8,67.1 L338.8,66.4 L338.9,65.7 L339.0,65.0 L339.2,64.7 L339.4,64.2 L339.8,63.6 L340.1,63.2 L340.4,62.9 L340.8,62.6 L341.1,62.4 L341.5,62.1 L342.1,61.8 L342.6,61.7 L343.0,61.5 L343.6,61.4 L344.3,61.3 L345.0,61.2 L345.7,61.3 L346.4,61.3 L347.1,61.5 L347.4,61.6 L348.1,61.8 L348.5,62.0 L348.8,62.2 L349.3,62.5 L349.8,62.9 L350.1,63.2 L350.4,63.6 L350.7,63.9 L350.9,64.5 L351.1,65.0 L351.3,65.7 L351.2,66.4 L351.2,67.1 L351.0,67.8 L350.9,68.2 L350.6,68.8 L350.4,69.2 L350.2,69.5 L349.9,69.9 L349.6,70.4 L349.2,70.7 L348.8,71.0 L348.5,71.3 L348.0,71.7 L347.4,71.9 L347.1,72.1 L346.4,72.3 L346.1,72.4" fill="none" stroke="#0a0a0a" stroke-width="0.75"/>
<path d="M345.3,71.3 L344.6,71.4 L343.9,71.3 L343.6,71.3 L342.9,71.0 L342.6,70.9 L342.1,70.6 L341.6,70.2 L341.3,69.9 L341.0,69.5 L340.7,69.2 L340.4,68.7 L340.2,68.2 L340.1,67.7 L340.0,67.1 L339.9,66.4 L340.0,65.7 L340.1,65.2 L340.3,64.7 L340.5,64.3 L340.8,63.9 L341.1,63.5 L341.5,63.2 L341.8,62.9 L342.4,62.5 L342.9,62.3 L343.3,62.2 L343.9,62.0 L344.6,61.9 L345.3,61.9 L346.1,62.0 L346.8,62.2 L347.1,62.3 L347.7,62.5 L348.1,62.8 L348.5,63.0 L348.8,63.3 L349.2,63.6 L349.6,64.0 L349.9,64.6 L350.0,65.0 L350.2,65.7 L350.1,66.4 L350.0,67.1 L349.9,67.6 L349.7,68.2 L349.5,68.5 L349.2,69.0 L348.8,69.4 L348.5,69.8 L348.1,70.1 L347.8,70.4 L347.4,70.6 L346.8,70.9 L346.4,71.1 L345.7,71.3 L345.3,71.3" fill="none" stroke="#0a0a0a" stroke-width="0.75"/>
<path d="M346.1,70.0 L345.3,70.1 L344.6,70.2 L343.9,70.1 L343.4,69.9 L342.9,69.7 L342.6,69.4 L342.2,69.1 L341.8,68.7 L341.5,68.2 L341.3,67.8 L341.1,67.3 L341.0,66.8 L341.0,66.0 L341.1,65.3 L341.2,65.0 L341.5,64.4 L341.8,63.9 L342.2,63.6 L342.6,63.3 L342.9,63.1 L343.4,62.9 L343.9,62.7 L344.6,62.6 L345.3,62.6 L346.1,62.7 L346.8,62.9 L347.1,63.0 L347.6,63.2 L348.1,63.6 L348.4,63.9 L348.7,64.3 L348.9,64.7 L349.1,65.3 L349.2,66.0 L349.1,66.8 L348.9,67.4 L348.7,67.8 L348.5,68.2 L348.1,68.6 L347.8,69.0 L347.4,69.3 L347.0,69.5 L346.4,69.9 L346.1,70.0" fill="none" stroke="#0a0a0a" stroke-width="0.75"/>
<path d="M346.1,68.9 L345.3,69.0 L344.6,69.0 L343.9,68.9 L343.6,68.8 L343.2,68.5 L342.8,68.2 L342.5,67.8 L342.2,67.3 L342.0,66.8 L341.9,66.0 L341.9,65.3 L342.2,64.7 L342.5,64.3 L342.9,63.9 L343.2,63.7 L343.6,63.5 L344.3,63.3 L344.6,63.2 L345.3,63.2 L345.9,63.2 L346.4,63.4 L346.9,63.6 L347.4,63.9 L347.7,64.3 L348.0,64.7 L348.2,65.0 L348.3,65.7 L348.2,66.4 L348.1,66.8 L347.8,67.4 L347.6,67.8 L347.2,68.2 L346.8,68.5 L346.4,68.7 L346.1,68.9" fill="none" stroke="#0a0a0a" stroke-width="0.75"/>
<path d="M346.1,67.8 L345.3,68.0 L344.6,68.0 L343.9,67.8 L343.6,67.6 L343.2,67.2 L342.9,66.8 L342.8,66.4 L342.7,65.7 L342.9,65.1 L343.2,64.7 L343.5,64.3 L343.9,64.0 L344.3,63.9 L345.0,63.8 L345.7,63.8 L346.1,63.9 L346.7,64.3 L347.1,64.7 L347.3,65.0 L347.4,65.4 L347.5,66.0 L347.4,66.4 L347.1,67.0 L346.8,67.4 L346.4,67.6 L346.1,67.8" fill="none" stroke="#0a0a0a" stroke-width="0.75"/>
<ellipse cx="430.9" cy="26.9" rx="2.5" ry="2.3" fill="none" stroke="#000" stroke-width="2.1"/>
<ellipse cx="431.0" cy="32.3" rx="2.6" ry="2.4" fill="none" stroke="#000" stroke-width="2.1"/>
<path d="M428.2,25.5 C428.5,23.6 433.5,23.4 433.9,25.6 L434.2,33 C434.1,35.6 428.2,35.7 427.9,33 Z" fill="none" stroke="#111" stroke-width="0.7"/>
<rect x="94.12" y="593.49" width="0.68" height="0.68" fill="#333"/>
<rect x="61.35" y="620.80" width="0.68" height="0.68" fill="#333"/>
<rect x="63.89" y="627.24" width="0.68" height="0.68" fill="#333"/>
<rect x="58.37" y="643.09" width="0.68" height="0.68" fill="#333"/>
<rect x="96.01" y="617.77" width="0.68" height="0.68" fill="#333"/>
<rect x="71.14" y="642.87" width="0.68" height="0.68" fill="#333"/>
<rect x="71.10" y="644.91" width="0.68" height="0.68" fill="#333"/>
<rect x="96.84" y="598.73" width="0.68" height="0.68" fill="#333"/>
<rect x="111.76" y="609.03" width="0.68" height="0.68" fill="#333"/>
<rect x="65.53" y="629.62" width="0.68" height="0.68" fill="#333"/>
<rect x="114.55" y="600.78" width="0.68" height="0.68" fill="#333"/>
<rect x="110.68" y="595.11" width="0.68" height="0.68" fill="#333"/>
<rect x="63.87" y="633.65" width="0.68" height="0.68" fill="#333"/>
<rect x="70.78" y="637.56" width="0.68" height="0.68" fill="#333"/>
<rect x="99.27" y="596.19" width="0.68" height="0.68" fill="#333"/>
<rect x="111.02" y="612.50" width="0.68" height="0.68" fill="#333"/>
<rect x="60.21" y="631.51" width="0.68" height="0.68" fill="#333"/>
<rect x="90.24" y="598.01" width="0.68" height="0.68" fill="#333"/>
<rect x="68.72" y="632.41" width="0.68" height="0.68" fill="#333"/>
<rect x="94.78" y="593.92" width="0.68" height="0.68" fill="#333"/>
<rect x="90.93" y="590.75" width="0.68" height="0.68" fill="#333"/>
<rect x="87.21" y="614.44" width="0.68" height="0.68" fill="#333"/>
<rect x="61.44" y="621.80" width="0.68" height="0.68" fill="#333"/>
<rect x="94.82" y="610.44" width="0.68" height="0.68" fill="#333"/>
<rect x="116.15" y="609.02" width="0.68" height="0.68" fill="#333"/>
<rect x="109.80" y="608.00" width="0.68" height="0.68" fill="#333"/>
<rect x="105.34" y="610.21" width="0.68" height="0.68" fill="#333"/>
<rect x="101.22" y="618.73" width="0.68" height="0.68" fill="#333"/>
<rect x="97.83" y="615.78" width="0.68" height="0.68" fill="#333"/>
<rect x="60.35" y="631.30" width="0.68" height="0.68" fill="#333"/>
<rect x="61.82" y="597.38" width="0.68" height="0.68" fill="#333"/>
<rect x="62.71" y="640.25" width="0.68" height="0.68" fill="#333"/>
<rect x="114.28" y="606.51" width="0.68" height="0.68" fill="#333"/>
<rect x="112.06" y="607.61" width="0.68" height="0.68" fill="#333"/>
<rect x="97.14" y="611.75" width="0.68" height="0.68" fill="#333"/>
<rect x="91.11" y="610.73" width="0.68" height="0.68" fill="#333"/>
<rect x="111.29" y="615.42" width="0.68" height="0.68" fill="#333"/>
<rect x="95.12" y="595.81" width="0.68" height="0.68" fill="#333"/>
<rect x="63.55" y="626.66" width="0.68" height="0.68" fill="#333"/>
<rect x="59.54" y="598.89" width="0.68" height="0.68" fill="#333"/>
<rect x="91.15" y="598.97" width="0.68" height="0.68" fill="#333"/>
<rect x="123.21" y="606.00" width="0.68" height="0.68" fill="#333"/>
<rect x="86.77" y="591.33" width="0.68" height="0.68" fill="#333"/>
<rect x="120.73" y="614.82" width="0.68" height="0.68" fill="#333"/>
<rect x="125.97" y="608.54" width="0.68" height="0.68" fill="#333"/>
<rect x="68.71" y="632.24" width="0.68" height="0.68" fill="#333"/>
<rect x="65.56" y="638.22" width="0.68" height="0.68" fill="#333"/>
<rect x="96.49" y="609.42" width="0.68" height="0.68" fill="#333"/>
<rect x="86.95" y="621.16" width="0.68" height="0.68" fill="#333"/>
<rect x="109.18" y="597.61" width="0.68" height="0.68" fill="#333"/>
<rect x="61.44" y="639.52" width="0.68" height="0.68" fill="#333"/>
<rect x="100.80" y="609.23" width="0.68" height="0.68" fill="#333"/>
<rect x="122.34" y="596.19" width="0.68" height="0.68" fill="#333"/>
<rect x="73.82" y="631.46" width="0.68" height="0.68" fill="#333"/>
<rect x="83.87" y="599.15" width="0.68" height="0.68" fill="#333"/>
<rect x="58.65" y="640.02" width="0.68" height="0.68" fill="#333"/>
<rect x="109.21" y="595.06" width="0.68" height="0.68" fill="#333"/>
<rect x="98.62" y="613.10" width="0.68" height="0.68" fill="#333"/>
<rect x="66.72" y="637.58" width="0.68" height="0.68" fill="#333"/>
<rect x="65.32" y="632.89" width="0.68" height="0.68" fill="#333"/>
<rect x="62.86" y="636.61" width="0.68" height="0.68" fill="#333"/>
<rect x="60.04" y="623.73" width="0.68" height="0.68" fill="#333"/>
<rect x="82.71" y="614.61" width="0.68" height="0.68" fill="#333"/>
<rect x="62.58" y="642.27" width="0.68" height="0.68" fill="#333"/>
<rect x="65.27" y="638.85" width="0.68" height="0.68" fill="#333"/>
<rect x="74.59" y="646.84" width="0.68" height="0.68" fill="#333"/>
<rect x="111.91" y="606.51" width="0.68" height="0.68" fill="#333"/>
<rect x="64.11" y="630.74" width="0.68" height="0.68" fill="#333"/>
<rect x="94.84" y="597.61" width="0.68" height="0.68" fill="#333"/>
<rect x="75.74" y="594.23" width="0.68" height="0.68" fill="#333"/>
<rect x="113.92" y="605.67" width="0.68" height="0.68" fill="#333"/>
<rect x="61.40" y="630.79" width="0.68" height="0.68" fill="#333"/>
<rect x="73.04" y="633.60" width="0.68" height="0.68" fill="#333"/>
<rect x="105.52" y="617.23" width="0.68" height="0.68" fill="#333"/>
<rect x="105.11" y="595.92" width="0.68" height="0.68" fill="#333"/>
<rect x="76.54" y="641.42" width="0.68" height="0.68" fill="#333"/>
<rect x="67.08" y="645.68" width="0.68" height="0.68" fill="#333"/>
<rect x="58.74" y="621.57" width="0.68" height="0.68" fill="#333"/>
<rect x="99.49" y="596.35" width="0.68" height="0.68" fill="#333"/>
<rect x="117.96" y="611.21" width="0.68" height="0.68" fill="#333"/>
<rect x="85.20" y="598.23" width="0.68" height="0.68" fill="#333"/>
<rect x="116.71" y="612.29" width="0.68" height="0.68" fill="#333"/>
<rect x="95.42" y="614.56" width="0.68" height="0.68" fill="#333"/>
<rect x="62.44" y="594.97" width="0.68" height="0.68" fill="#333"/>
<rect x="97.51" y="597.82" width="0.68" height="0.68" fill="#333"/>
<rect x="92.73" y="599.23" width="0.68" height="0.68" fill="#333"/>
<rect x="77.02" y="597.28" width="0.68" height="0.68" fill="#333"/>
<rect x="111.97" y="608.59" width="0.68" height="0.68" fill="#333"/>
<rect x="59.47" y="584.03" width="0.68" height="0.68" fill="#333"/>
<rect x="114.05" y="607.70" width="0.68" height="0.68" fill="#333"/>
<rect x="65.25" y="640.05" width="0.68" height="0.68" fill="#333"/>
<rect x="114.82" y="619.69" width="0.68" height="0.68" fill="#333"/>
<rect x="100.08" y="613.01" width="0.68" height="0.68" fill="#333"/>
<rect x="120.59" y="610.13" width="0.68" height="0.68" fill="#333"/>
<rect x="61.92" y="651.58" width="0.68" height="0.68" fill="#333"/>
<rect x="119.09" y="612.84" width="0.68" height="0.68" fill="#333"/>
<rect x="107.44" y="595.09" width="0.68" height="0.68" fill="#333"/>
<rect x="112.13" y="608.01" width="0.68" height="0.68" fill="#333"/>
<rect x="125.41" y="612.53" width="0.68" height="0.68" fill="#333"/>
<rect x="107.79" y="607.60" width="0.68" height="0.68" fill="#333"/>
<rect x="97.66" y="597.11" width="0.68" height="0.68" fill="#333"/>
<rect x="60.23" y="622.90" width="0.68" height="0.68" fill="#333"/>
<rect x="89.97" y="614.67" width="0.68" height="0.68" fill="#333"/>
<rect x="72.14" y="634.41" width="0.68" height="0.68" fill="#333"/>
<rect x="112.20" y="608.41" width="0.68" height="0.68" fill="#333"/>
<rect x="110.45" y="607.95" width="0.68" height="0.68" fill="#333"/>
<rect x="89.36" y="611.62" width="0.68" height="0.68" fill="#333"/>
<rect x="65.01" y="644.11" width="0.68" height="0.68" fill="#333"/>
<rect x="117.52" y="596.13" width="0.68" height="0.68" fill="#333"/>
<rect x="129.79" y="606.29" width="0.68" height="0.68" fill="#333"/>
<rect x="60.92" y="598.79" width="0.68" height="0.68" fill="#333"/>
<rect x="107.79" y="605.74" width="0.68" height="0.68" fill="#333"/>
<rect x="62.31" y="639.23" width="0.68" height="0.68" fill="#333"/>
<rect x="98.32" y="595.20" width="0.68" height="0.68" fill="#333"/>
<rect x="67.41" y="635.95" width="0.68" height="0.68" fill="#333"/>
<rect x="101.27" y="609.12" width="0.68" height="0.68" fill="#333"/>
<rect x="68.65" y="636.02" width="0.68" height="0.68" fill="#333"/>
<rect x="106.91" y="606.88" width="0.68" height="0.68" fill="#333"/>
<rect x="118.99" y="597.43" width="0.68" height="0.68" fill="#333"/>
<rect x="74.11" y="634.81" width="0.68" height="0.68" fill="#333"/>
<rect x="101.43" y="597.12" width="0.68" height="0.68" fill="#333"/>
<rect x="83.32" y="599.46" width="0.68" height="0.68" fill="#333"/>
<rect x="95.80" y="596.58" width="0.68" height="0.68" fill="#333"/>
<rect x="119.44" y="611.55" width="0.68" height="0.68" fill="#333"/>
<rect x="67.32" y="625.78" width="0.68" height="0.68" fill="#333"/>
<rect x="122.73" y="607.72" width="0.68" height="0.68" fill="#333"/>
<rect x="61.87" y="633.72" width="0.68" height="0.68" fill="#333"/>
<rect x="117.92" y="611.38" width="0.68" height="0.68" fill="#333"/>
<rect x="108.15" y="616.90" width="0.68" height="0.68" fill="#333"/>
<rect x="84.85" y="618.98" width="0.68" height="0.68" fill="#333"/>
<rect x="58.30" y="618.51" width="0.68" height="0.68" fill="#333"/>
<rect x="101.04" y="609.62" width="0.68" height="0.68" fill="#333"/>
<rect x="104.42" y="598.11" width="0.68" height="0.68" fill="#333"/>
<rect x="76.79" y="632.53" width="0.68" height="0.68" fill="#333"/>
<rect x="113.06" y="605.32" width="0.68" height="0.68" fill="#333"/>
<rect x="94.38" y="598.58" width="0.68" height="0.68" fill="#333"/>
<rect x="60.99" y="631.57" width="0.68" height="0.68" fill="#333"/>
<rect x="62.89" y="651.02" width="0.68" height="0.68" fill="#333"/>
<rect x="61.06" y="624.95" width="0.68" height="0.68" fill="#333"/>
<rect x="82.81" y="616.68" width="0.68" height="0.68" fill="#333"/>
<rect x="120.29" y="601.93" width="0.68" height="0.68" fill="#333"/>
<rect x="109.32" y="595.76" width="0.68" height="0.68" fill="#333"/>
<rect x="103.38" y="609.08" width="0.68" height="0.68" fill="#333"/>
<rect x="68.45" y="651.62" width="0.68" height="0.68" fill="#333"/>
<rect x="110.36" y="612.88" width="0.68" height="0.68" fill="#333"/>
<rect x="92.85" y="615.14" width="0.68" height="0.68" fill="#333"/>
<rect x="77.32" y="595.58" width="0.68" height="0.68" fill="#333"/>
<rect x="66.40" y="643.95" width="0.68" height="0.68" fill="#333"/>
<rect x="81.99" y="592.26" width="0.68" height="0.68" fill="#333"/>
<rect x="88.82" y="615.84" width="0.68" height="0.68" fill="#333"/>
<rect x="95.32" y="615.85" width="0.68" height="0.68" fill="#333"/>
<rect x="102.27" y="612.26" width="0.68" height="0.68" fill="#333"/>
<rect x="103.96" y="607.43" width="0.68" height="0.68" fill="#333"/>
<rect x="61.91" y="632.24" width="0.68" height="0.68" fill="#333"/>
<rect x="100.49" y="607.78" width="0.68" height="0.68" fill="#333"/>
<rect x="114.26" y="602.92" width="0.68" height="0.68" fill="#333"/>
<rect x="104.50" y="613.67" width="0.68" height="0.68" fill="#333"/>
<rect x="78.23" y="595.44" width="0.68" height="0.68" fill="#333"/>
<rect x="70.83" y="630.85" width="0.68" height="0.68" fill="#333"/>
<rect x="60.68" y="644.74" width="0.68" height="0.68" fill="#333"/>
<rect x="114.84" y="611.85" width="0.68" height="0.68" fill="#333"/>
<rect x="92.86" y="597.89" width="0.68" height="0.68" fill="#333"/>
<rect x="96.43" y="593.79" width="0.68" height="0.68" fill="#333"/>
<rect x="68.47" y="629.94" width="0.68" height="0.68" fill="#333"/>
<rect x="68.12" y="643.64" width="0.68" height="0.68" fill="#333"/>
<rect x="115.30" y="608.29" width="0.68" height="0.68" fill="#333"/>
<rect x="63.84" y="635.09" width="0.68" height="0.68" fill="#333"/>
<rect x="98.58" y="613.84" width="0.68" height="0.68" fill="#333"/>
<rect x="103.08" y="609.33" width="0.68" height="0.68" fill="#333"/>
<rect x="116.02" y="598.17" width="0.68" height="0.68" fill="#333"/>
<rect x="108.26" y="593.65" width="0.68" height="0.68" fill="#333"/>
<rect x="113.75" y="609.57" width="0.68" height="0.68" fill="#333"/>
<rect x="96.91" y="595.25" width="0.68" height="0.68" fill="#333"/>
<rect x="63.16" y="591.87" width="0.68" height="0.68" fill="#333"/>
<rect x="102.78" y="597.94" width="0.68" height="0.68" fill="#333"/>
<rect x="105.26" y="610.20" width="0.68" height="0.68" fill="#333"/>
<rect x="114.21" y="597.53" width="0.68" height="0.68" fill="#333"/>
<rect x="104.32" y="612.61" width="0.68" height="0.68" fill="#333"/>
<rect x="108.21" y="591.15" width="0.68" height="0.68" fill="#333"/>
<rect x="73.95" y="639.29" width="0.68" height="0.68" fill="#333"/>
<rect x="58.43" y="643.27" width="0.68" height="0.68" fill="#333"/>
<rect x="78.37" y="597.09" width="0.68" height="0.68" fill="#333"/>
<rect x="127.74" y="616.71" width="0.68" height="0.68" fill="#333"/>
<rect x="64.59" y="647.88" width="0.68" height="0.68" fill="#333"/>
<rect x="104.95" y="610.78" width="0.68" height="0.68" fill="#333"/>
<rect x="100.53" y="596.59" width="0.68" height="0.68" fill="#333"/>
<rect x="116.96" y="604.80" width="0.68" height="0.68" fill="#333"/>
<rect x="106.59" y="596.26" width="0.68" height="0.68" fill="#333"/>
<rect x="102.82" y="612.95" width="0.68" height="0.68" fill="#333"/>
<rect x="98.04" y="596.30" width="0.68" height="0.68" fill="#333"/>
<rect x="71.16" y="631.01" width="0.68" height="0.68" fill="#333"/>
<rect x="99.81" y="608.62" width="0.68" height="0.68" fill="#333"/>
<rect x="99.98" y="599.03" width="0.68" height="0.68" fill="#333"/>
<rect x="96.31" y="614.58" width="0.68" height="0.68" fill="#333"/>
<rect x="75.28" y="625.92" width="0.68" height="0.68" fill="#333"/>
<rect x="105.48" y="597.12" width="0.68" height="0.68" fill="#333"/>
<rect x="125.37" y="597.96" width="0.68" height="0.68" fill="#333"/>
<rect x="82.60" y="598.40" width="0.68" height="0.68" fill="#333"/>
<rect x="116.54" y="609.45" width="0.68" height="0.68" fill="#333"/>
<rect x="93.60" y="598.73" width="0.68" height="0.68" fill="#333"/>
<rect x="67.88" y="646.81" width="0.68" height="0.68" fill="#333"/>
<rect x="67.75" y="629.92" width="0.68" height="0.68" fill="#333"/>
<rect x="118.66" y="607.23" width="0.68" height="0.68" fill="#333"/>
<rect x="95.73" y="609.84" width="0.68" height="0.68" fill="#333"/>
<rect x="78.07" y="640.19" width="0.68" height="0.68" fill="#333"/>
<rect x="119.03" y="604.03" width="0.68" height="0.68" fill="#333"/>
<rect x="92.60" y="614.73" width="0.68" height="0.68" fill="#333"/>
<rect x="117.75" y="608.79" width="0.68" height="0.68" fill="#333"/>
<rect x="93.74" y="595.42" width="0.68" height="0.68" fill="#333"/>
<rect x="110.71" y="615.33" width="0.68" height="0.68" fill="#333"/>
<rect x="64.53" y="626.87" width="0.68" height="0.68" fill="#333"/>
<rect x="104.85" y="612.13" width="0.68" height="0.68" fill="#333"/>
<rect x="119.92" y="596.61" width="0.68" height="0.68" fill="#333"/>
<rect x="97.47" y="614.90" width="0.68" height="0.68" fill="#333"/>
<rect x="90.38" y="611.86" width="0.68" height="0.68" fill="#333"/>
<rect x="114.53" y="600.32" width="0.68" height="0.68" fill="#333"/>
<rect x="100.89" y="588.95" width="0.68" height="0.68" fill="#333"/>
<rect x="69.07" y="636.51" width="0.68" height="0.68" fill="#333"/>
<rect x="66.76" y="625.96" width="0.68" height="0.68" fill="#333"/>
<rect x="91.95" y="596.54" width="0.68" height="0.68" fill="#333"/>
<rect x="102.05" y="597.26" width="0.68" height="0.68" fill="#333"/>
<rect x="108.01" y="596.63" width="0.68" height="0.68" fill="#333"/>
<rect x="104.37" y="607.95" width="0.68" height="0.68" fill="#333"/>
<rect x="78.16" y="632.21" width="0.68" height="0.68" fill="#333"/>
<rect x="95.13" y="598.54" width="0.68" height="0.68" fill="#333"/>
<rect x="91.01" y="611.22" width="0.68" height="0.68" fill="#333"/>
<rect x="102.66" y="611.17" width="0.68" height="0.68" fill="#333"/>
<rect x="66.24" y="645.13" width="0.68" height="0.68" fill="#333"/>
<rect x="83.32" y="599.26" width="0.68" height="0.68" fill="#333"/>
<rect x="107.79" y="611.27" width="0.68" height="0.68" fill="#333"/>
<rect x="100.04" y="608.78" width="0.68" height="0.68" fill="#333"/>
<rect x="85.38" y="596.96" width="0.68" height="0.68" fill="#333"/>
<rect x="62.40" y="625.99" width="0.68" height="0.68" fill="#333"/>
<rect x="125.50" y="602.13" width="0.68" height="0.68" fill="#333"/>
<rect x="66.46" y="623.03" width="0.68" height="0.68" fill="#333"/>
<rect x="67.24" y="639.33" width="0.68" height="0.68" fill="#333"/>
<rect x="96.06" y="614.16" width="0.68" height="0.68" fill="#333"/>
<rect x="96.07" y="613.82" width="0.68" height="0.68" fill="#333"/>
<rect x="68.04" y="627.12" width="0.68" height="0.68" fill="#333"/>
<rect x="122.16" y="606.17" width="0.68" height="0.68" fill="#333"/>
<rect x="120.77" y="609.61" width="0.68" height="0.68" fill="#333"/>
<rect x="120.52" y="602.00" width="0.68" height="0.68" fill="#333"/>
<rect x="89.53" y="610.65" width="0.68" height="0.68" fill="#333"/>
<rect x="108.53" y="609.23" width="0.68" height="0.68" fill="#333"/>
<rect x="125.15" y="599.78" width="0.68" height="0.68" fill="#333"/>
<rect x="77.99" y="622.97" width="0.68" height="0.68" fill="#333"/>
<rect x="69.45" y="633.43" width="0.68" height="0.68" fill="#333"/>
<rect x="68.39" y="625.69" width="0.68" height="0.68" fill="#333"/>
<rect x="60.48" y="648.54" width="0.68" height="0.68" fill="#333"/>
<rect x="98.41" y="593.87" width="0.68" height="0.68" fill="#333"/>
<rect x="60.89" y="622.31" width="0.68" height="0.68" fill="#333"/>
<rect x="93.27" y="610.15" width="0.68" height="0.68" fill="#333"/>
<rect x="69.38" y="626.82" width="0.68" height="0.68" fill="#333"/>
<rect x="123.76" y="607.93" width="0.68" height="0.68" fill="#333"/>
<rect x="64.79" y="624.90" width="0.68" height="0.68" fill="#333"/>
<rect x="97.43" y="611.39" width="0.68" height="0.68" fill="#333"/>
<rect x="121.27" y="604.73" width="0.68" height="0.68" fill="#333"/>
<rect x="64.06" y="644.11" width="0.68" height="0.68" fill="#333"/>
<rect x="103.30" y="614.55" width="0.68" height="0.68" fill="#333"/>
<rect x="102.31" y="612.25" width="0.68" height="0.68" fill="#333"/>
<rect x="58.98" y="631.31" width="0.68" height="0.68" fill="#333"/>
<rect x="58.42" y="630.81" width="0.68" height="0.68" fill="#333"/>
<rect x="118.40" y="598.88" width="0.68" height="0.68" fill="#333"/>
<rect x="99.61" y="614.97" width="0.68" height="0.68" fill="#333"/>
<rect x="59.56" y="637.70" width="0.68" height="0.68" fill="#333"/>
<rect x="72.63" y="639.55" width="0.68" height="0.68" fill="#333"/>
<rect x="101.59" y="599.14" width="0.68" height="0.68" fill="#333"/>
<rect x="100.04" y="609.25" width="0.68" height="0.68" fill="#333"/>
<rect x="99.46" y="609.96" width="0.68" height="0.68" fill="#333"/>
<rect x="62.73" y="622.92" width="0.68" height="0.68" fill="#333"/>
<rect x="71.77" y="633.71" width="0.68" height="0.68" fill="#333"/>
<rect x="114.58" y="601.04" width="0.68" height="0.68" fill="#333"/>
<rect x="100.08" y="608.94" width="0.68" height="0.68" fill="#333"/>
<rect x="110.86" y="609.01" width="0.68" height="0.68" fill="#333"/>
<rect x="58.76" y="633.52" width="0.68" height="0.68" fill="#333"/>
<rect x="70.85" y="637.96" width="0.68" height="0.68" fill="#333"/>
<rect x="96.91" y="599.19" width="0.68" height="0.68" fill="#333"/>
<rect x="70.52" y="641.70" width="0.68" height="0.68" fill="#333"/>
<rect x="91.69" y="599.08" width="0.68" height="0.68" fill="#333"/>
<rect x="96.78" y="612.79" width="0.68" height="0.68" fill="#333"/>
<rect x="60.16" y="634.12" width="0.68" height="0.68" fill="#333"/>
<rect x="89.63" y="594.05" width="0.68" height="0.68" fill="#333"/>
<rect x="104.23" y="612.43" width="0.68" height="0.68" fill="#333"/>
<rect x="73.52" y="640.14" width="0.68" height="0.68" fill="#333"/>
<rect x="66.64" y="624.99" width="0.68" height="0.68" fill="#333"/>
<rect x="67.80" y="640.62" width="0.68" height="0.68" fill="#333"/>
<rect x="72.16" y="640.61" width="0.68" height="0.68" fill="#333"/>
<rect x="68.42" y="634.33" width="0.68" height="0.68" fill="#333"/>
<rect x="108.85" y="594.41" width="0.68" height="0.68" fill="#333"/>
<rect x="118.69" y="606.10" width="0.68" height="0.68" fill="#333"/>
<rect x="119.30" y="610.52" width="0.68" height="0.68" fill="#333"/>
<rect x="119.03" y="600.41" width="0.68" height="0.68" fill="#333"/>
<rect x="71.88" y="639.44" width="0.68" height="0.68" fill="#333"/>
<rect x="89.14" y="613.82" width="0.68" height="0.68" fill="#333"/>
<rect x="89.27" y="613.85" width="0.68" height="0.68" fill="#333"/>
<rect x="67.75" y="638.86" width="0.68" height="0.68" fill="#333"/>
<rect x="94.87" y="612.83" width="0.68" height="0.68" fill="#333"/>
<rect x="91.68" y="595.00" width="0.68" height="0.68" fill="#333"/>
<rect x="79.54" y="597.15" width="0.68" height="0.68" fill="#333"/>
<rect x="66.04" y="630.20" width="0.68" height="0.68" fill="#333"/>
<rect x="114.81" y="614.26" width="0.68" height="0.68" fill="#333"/>
<rect x="67.54" y="645.53" width="0.68" height="0.68" fill="#333"/>
<rect x="91.58" y="611.80" width="0.68" height="0.68" fill="#333"/>
<rect x="99.03" y="610.28" width="0.68" height="0.68" fill="#333"/>
<rect x="63.08" y="634.84" width="0.68" height="0.68" fill="#333"/>
<rect x="113.29" y="613.17" width="0.68" height="0.68" fill="#333"/>
<rect x="96.00" y="608.73" width="0.68" height="0.68" fill="#333"/>
<rect x="66.72" y="639.01" width="0.68" height="0.68" fill="#333"/>
<rect x="102.09" y="617.44" width="0.68" height="0.68" fill="#333"/>
<rect x="59.52" y="636.65" width="0.68" height="0.68" fill="#333"/>
<rect x="63.03" y="625.88" width="0.68" height="0.68" fill="#333"/>
<rect x="105.45" y="598.29" width="0.68" height="0.68" fill="#333"/>
<rect x="59.21" y="621.69" width="0.68" height="0.68" fill="#333"/>
<rect x="68.46" y="643.72" width="0.68" height="0.68" fill="#333"/>
<rect x="60.25" y="636.37" width="0.68" height="0.68" fill="#333"/>
<rect x="86.02" y="612.09" width="0.68" height="0.68" fill="#333"/>
<rect x="122.97" y="610.48" width="0.68" height="0.68" fill="#333"/>
<rect x="66.79" y="646.39" width="0.68" height="0.68" fill="#333"/>
<rect x="93.51" y="611.22" width="0.68" height="0.68" fill="#333"/>
<rect x="97.91" y="616.48" width="0.68" height="0.68" fill="#333"/>
<rect x="64.80" y="595.66" width="0.68" height="0.68" fill="#333"/>
<rect x="62.43" y="638.11" width="0.68" height="0.68" fill="#333"/>
<rect x="76.11" y="631.67" width="0.68" height="0.68" fill="#333"/>
<rect x="116.12" y="612.11" width="0.68" height="0.68" fill="#333"/>
<rect x="104.56" y="596.14" width="0.68" height="0.68" fill="#333"/>
<rect x="116.42" y="614.62" width="0.68" height="0.68" fill="#333"/>
<rect x="104.03" y="613.37" width="0.68" height="0.68" fill="#333"/>
<rect x="125.87" y="600.51" width="0.68" height="0.68" fill="#333"/>
<rect x="97.74" y="612.45" width="0.68" height="0.68" fill="#333"/>
<rect x="73.70" y="635.77" width="0.68" height="0.68" fill="#333"/>
<rect x="76.18" y="638.72" width="0.68" height="0.68" fill="#333"/>
<rect x="105.33" y="598.12" width="0.68" height="0.68" fill="#333"/>
<rect x="114.84" y="615.72" width="0.68" height="0.68" fill="#333"/>
<rect x="64.28" y="648.48" width="0.68" height="0.68" fill="#333"/>
<rect x="117.07" y="606.71" width="0.68" height="0.68" fill="#333"/>
<rect x="108.38" y="611.18" width="0.68" height="0.68" fill="#333"/>
<rect x="97.96" y="595.49" width="0.68" height="0.68" fill="#333"/>
<rect x="93.72" y="615.75" width="0.68" height="0.68" fill="#333"/>
<rect x="62.71" y="640.17" width="0.68" height="0.68" fill="#333"/>
<rect x="81.51" y="598.35" width="0.68" height="0.68" fill="#333"/>
<rect x="112.45" y="598.90" width="0.68" height="0.68" fill="#333"/>
<rect x="71.32" y="625.71" width="0.68" height="0.68" fill="#333"/>
<rect x="68.60" y="638.55" width="0.68" height="0.68" fill="#333"/>
<rect x="63.98" y="641.42" width="0.68" height="0.68" fill="#333"/>
<rect x="81.24" y="595.44" width="0.68" height="0.68" fill="#333"/>
<rect x="98.61" y="598.59" width="0.68" height="0.68" fill="#333"/>
<rect x="99.91" y="615.61" width="0.68" height="0.68" fill="#333"/>
<rect x="60.44" y="638.44" width="0.68" height="0.68" fill="#333"/>
<rect x="65.64" y="630.96" width="0.68" height="0.68" fill="#333"/>
<rect x="64.22" y="633.79" width="0.68" height="0.68" fill="#333"/>
<rect x="100.76" y="597.54" width="0.68" height="0.68" fill="#333"/>
<rect x="110.24" y="598.76" width="0.68" height="0.68" fill="#333"/>
<rect x="116.59" y="608.56" width="0.68" height="0.68" fill="#333"/>
<rect x="123.27" y="607.88" width="0.68" height="0.68" fill="#333"/>
<rect x="91.74" y="611.86" width="0.68" height="0.68" fill="#333"/>
<rect x="124.51" y="596.83" width="0.68" height="0.68" fill="#333"/>
<rect x="67.71" y="623.92" width="0.68" height="0.68" fill="#333"/>
<rect x="86.75" y="599.17" width="0.68" height="0.68" fill="#333"/>
<rect x="101.17" y="614.23" width="0.68" height="0.68" fill="#333"/>
<rect x="64.98" y="642.50" width="0.68" height="0.68" fill="#333"/>
<rect x="90.57" y="597.88" width="0.68" height="0.68" fill="#333"/>
<rect x="72.90" y="635.66" width="0.68" height="0.68" fill="#333"/>
<rect x="62.21" y="623.89" width="0.68" height="0.68" fill="#333"/>
<rect x="63.29" y="625.26" width="0.68" height="0.68" fill="#333"/>
<rect x="94.17" y="615.99" width="0.68" height="0.68" fill="#333"/>
<rect x="114.71" y="603.44" width="0.68" height="0.68" fill="#333"/>
<rect x="65.35" y="645.36" width="0.68" height="0.68" fill="#333"/>
<rect x="63.28" y="650.19" width="0.68" height="0.68" fill="#333"/>
<rect x="96.67" y="593.74" width="0.68" height="0.68" fill="#333"/>
<rect x="66.48" y="632.27" width="0.68" height="0.68" fill="#333"/>
<rect x="74.55" y="629.91" width="0.68" height="0.68" fill="#333"/>
<rect x="114.25" y="607.92" width="0.68" height="0.68" fill="#333"/>
<rect x="97.71" y="610.47" width="0.68" height="0.68" fill="#333"/>
<rect x="69.87" y="639.09" width="0.68" height="0.68" fill="#333"/>
<rect x="107.00" y="599.50" width="0.68" height="0.68" fill="#333"/>
<rect x="59.80" y="621.79" width="0.68" height="0.68" fill="#333"/>
<rect x="123.50" y="608.00" width="0.68" height="0.68" fill="#333"/>
<rect x="113.13" y="608.42" width="0.68" height="0.68" fill="#333"/>
<rect x="72.54" y="652.22" width="0.68" height="0.68" fill="#333"/>
<rect x="62.93" y="630.48" width="0.68" height="0.68" fill="#333"/>
<rect x="69.11" y="624.55" width="0.68" height="0.68" fill="#333"/>
<rect x="67.21" y="632.60" width="0.68" height="0.68" fill="#333"/>
<rect x="65.92" y="641.04" width="0.68" height="0.68" fill="#333"/>
<rect x="60.81" y="638.34" width="0.68" height="0.68" fill="#333"/>
<rect x="96.47" y="614.12" width="0.68" height="0.68" fill="#333"/>
<rect x="113.17" y="604.53" width="0.68" height="0.68" fill="#333"/>
<rect x="101.19" y="614.86" width="0.68" height="0.68" fill="#333"/>
<rect x="92.03" y="611.36" width="0.68" height="0.68" fill="#333"/>
<rect x="65.82" y="644.41" width="0.68" height="0.68" fill="#333"/>
<rect x="61.68" y="628.92" width="0.68" height="0.68" fill="#333"/>
<rect x="71.16" y="625.32" width="0.68" height="0.68" fill="#333"/>
<rect x="63.71" y="630.83" width="0.68" height="0.68" fill="#333"/>
<rect x="108.69" y="599.73" width="0.68" height="0.68" fill="#333"/>
<rect x="114.94" y="597.09" width="0.68" height="0.68" fill="#333"/>
<rect x="68.71" y="644.35" width="0.68" height="0.68" fill="#333"/>
<rect x="127.17" y="594.47" width="0.68" height="0.68" fill="#333"/>
<rect x="98.63" y="596.37" width="0.68" height="0.68" fill="#333"/>
<rect x="73.20" y="631.74" width="0.68" height="0.68" fill="#333"/>
<rect x="85.93" y="613.95" width="0.68" height="0.68" fill="#333"/>
<rect x="94.61" y="611.92" width="0.68" height="0.68" fill="#333"/>
<rect x="69.45" y="634.91" width="0.68" height="0.68" fill="#333"/>
<rect x="95.21" y="597.06" width="0.68" height="0.68" fill="#333"/>
<rect x="58.64" y="629.93" width="0.68" height="0.68" fill="#333"/>
<rect x="123.02" y="611.47" width="0.68" height="0.68" fill="#333"/>
<rect x="92.04" y="595.59" width="0.68" height="0.68" fill="#333"/>
<rect x="123.79" y="613.67" width="0.68" height="0.68" fill="#333"/>
<rect x="66.07" y="641.17" width="0.68" height="0.68" fill="#333"/>
<rect x="89.90" y="595.65" width="0.68" height="0.68" fill="#333"/>
<rect x="117.17" y="596.31" width="0.68" height="0.68" fill="#333"/>
<rect x="105.41" y="595.81" width="0.68" height="0.68" fill="#333"/>
<rect x="63.47" y="630.09" width="0.68" height="0.68" fill="#333"/>
<rect x="76.40" y="626.51" width="0.68" height="0.68" fill="#333"/>
<rect x="63.35" y="630.80" width="0.68" height="0.68" fill="#333"/>
<rect x="116.02" y="604.94" width="0.68" height="0.68" fill="#333"/>
<rect x="65.78" y="628.70" width="0.68" height="0.68" fill="#333"/>
<rect x="63.20" y="644.79" width="0.68" height="0.68" fill="#333"/>
<rect x="68.33" y="635.57" width="0.68" height="0.68" fill="#333"/>
<rect x="91.01" y="597.89" width="0.68" height="0.68" fill="#333"/>
<rect x="116.94" y="599.89" width="0.68" height="0.68" fill="#333"/>
<rect x="101.87" y="607.63" width="0.68" height="0.68" fill="#333"/>
<rect x="98.39" y="608.29" width="0.68" height="0.68" fill="#333"/>
<rect x="114.26" y="611.89" width="0.68" height="0.68" fill="#333"/>
<rect x="96.35" y="597.87" width="0.68" height="0.68" fill="#333"/>
<rect x="117.28" y="599.56" width="0.68" height="0.68" fill="#333"/>
<rect x="107.52" y="612.58" width="0.68" height="0.68" fill="#333"/>
<rect x="60.23" y="623.48" width="0.68" height="0.68" fill="#333"/>
<rect x="116.31" y="612.86" width="0.68" height="0.68" fill="#333"/>
<rect x="105.29" y="609.07" width="0.68" height="0.68" fill="#333"/>
<rect x="105.16" y="613.69" width="0.68" height="0.68" fill="#333"/>
<rect x="92.86" y="599.10" width="0.68" height="0.68" fill="#333"/>
<rect x="95.06" y="599.73" width="0.68" height="0.68" fill="#333"/>
<rect x="113.80" y="610.48" width="0.68" height="0.68" fill="#333"/>
<rect x="115.97" y="604.95" width="0.68" height="0.68" fill="#333"/>
<rect x="87.92" y="593.43" width="0.68" height="0.68" fill="#333"/>
<rect x="90.20" y="591.84" width="0.68" height="0.68" fill="#333"/>
<rect x="130.22" y="607.53" width="0.68" height="0.68" fill="#333"/>
<rect x="66.89" y="636.96" width="0.68" height="0.68" fill="#333"/>
<rect x="122.81" y="615.87" width="0.68" height="0.68" fill="#333"/>
<rect x="107.08" y="593.18" width="0.68" height="0.68" fill="#333"/>
<rect x="111.51" y="608.74" width="0.68" height="0.68" fill="#333"/>
<rect x="121.24" y="614.81" width="0.68" height="0.68" fill="#333"/>
<rect x="116.78" y="603.75" width="0.68" height="0.68" fill="#333"/>
<rect x="65.05" y="638.72" width="0.68" height="0.68" fill="#333"/>
<rect x="77.89" y="629.43" width="0.68" height="0.68" fill="#333"/>
<rect x="97.51" y="611.47" width="0.68" height="0.68" fill="#333"/>
<rect x="115.23" y="604.65" width="0.68" height="0.68" fill="#333"/>
<rect x="117.12" y="602.04" width="0.68" height="0.68" fill="#333"/>
<rect x="128.62" y="600.68" width="0.68" height="0.68" fill="#333"/>
<rect x="70.53" y="632.04" width="0.68" height="0.68" fill="#333"/>
<rect x="70.67" y="635.47" width="0.68" height="0.68" fill="#333"/>
<rect x="118.63" y="600.88" width="0.68" height="0.68" fill="#333"/>
<rect x="68.76" y="627.94" width="0.68" height="0.68" fill="#333"/>
<rect x="104.75" y="610.97" width="0.68" height="0.68" fill="#333"/>
<rect x="97.30" y="609.40" width="0.68" height="0.68" fill="#333"/>
<rect x="72.23" y="648.02" width="0.68" height="0.68" fill="#333"/>
<rect x="127.98" y="596.22" width="0.68" height="0.68" fill="#333"/>
<rect x="58.52" y="620.94" width="0.68" height="0.68" fill="#333"/>
<rect x="85.61" y="613.45" width="0.68" height="0.68" fill="#333"/>
<rect x="62.59" y="643.17" width="0.68" height="0.68" fill="#333"/>
<rect x="118.26" y="610.53" width="0.68" height="0.68" fill="#333"/>
<rect x="69.75" y="633.96" width="0.68" height="0.68" fill="#333"/>
<rect x="95.49" y="594.25" width="0.68" height="0.68" fill="#333"/>
<rect x="110.21" y="596.40" width="0.68" height="0.68" fill="#333"/>
<rect x="86.88" y="598.92" width="0.68" height="0.68" fill="#333"/>
<rect x="114.83" y="617.19" width="0.68" height="0.68" fill="#333"/>
<rect x="68.72" y="626.17" width="0.68" height="0.68" fill="#333"/>
<rect x="91.22" y="617.77" width="0.68" height="0.68" fill="#333"/>
<rect x="103.60" y="609.03" width="0.68" height="0.68" fill="#333"/>
<rect x="114.81" y="610.00" width="0.68" height="0.68" fill="#333"/>
<rect x="61.28" y="636.70" width="0.68" height="0.68" fill="#333"/>
<rect x="104.43" y="609.11" width="0.68" height="0.68" fill="#333"/>
<rect x="63.89" y="640.08" width="0.68" height="0.68" fill="#333"/>
<rect x="123.36" y="606.99" width="0.68" height="0.68" fill="#333"/>
<rect x="109.07" y="610.98" width="0.68" height="0.68" fill="#333"/>
<rect x="119.00" y="603.23" width="0.68" height="0.68" fill="#333"/>
<rect x="67.18" y="633.05" width="0.68" height="0.68" fill="#333"/>
<rect x="102.88" y="594.30" width="0.68" height="0.68" fill="#333"/>
<rect x="115.72" y="611.22" width="0.68" height="0.68" fill="#333"/>
<rect x="98.32" y="610.62" width="0.68" height="0.68" fill="#333"/>
<rect x="116.78" y="598.59" width="0.68" height="0.68" fill="#333"/>
<rect x="108.17" y="606.65" width="0.68" height="0.68" fill="#333"/>
<rect x="69.29" y="640.25" width="0.68" height="0.68" fill="#333"/>
<rect x="76.78" y="627.30" width="0.68" height="0.68" fill="#333"/>
<rect x="91.05" y="595.58" width="0.68" height="0.68" fill="#333"/>
<rect x="81.62" y="594.70" width="0.68" height="0.68" fill="#333"/>
<rect x="87.86" y="614.73" width="0.68" height="0.68" fill="#333"/>
<rect x="92.82" y="616.82" width="0.68" height="0.68" fill="#333"/>
<rect x="61.94" y="646.72" width="0.68" height="0.68" fill="#333"/>
<rect x="97.09" y="613.63" width="0.68" height="0.68" fill="#333"/>
<rect x="111.90" y="606.97" width="0.68" height="0.68" fill="#333"/>
<rect x="107.03" y="609.92" width="0.68" height="0.68" fill="#333"/>
<rect x="86.35" y="591.50" width="0.68" height="0.68" fill="#333"/>
<rect x="99.71" y="608.58" width="0.68" height="0.68" fill="#333"/>
<rect x="115.74" y="605.30" width="0.68" height="0.68" fill="#333"/>
<rect x="64.35" y="645.87" width="0.68" height="0.68" fill="#333"/>
<rect x="126.03" y="598.51" width="0.68" height="0.68" fill="#333"/>
<rect x="69.83" y="648.69" width="0.68" height="0.68" fill="#333"/>
<rect x="115.71" y="600.81" width="0.68" height="0.68" fill="#333"/>
<rect x="122.12" y="601.13" width="0.68" height="0.68" fill="#333"/>
<rect x="66.51" y="641.18" width="0.68" height="0.68" fill="#333"/>
<rect x="105.11" y="621.60" width="0.68" height="0.68" fill="#333"/>
<rect x="111.57" y="612.66" width="0.68" height="0.68" fill="#333"/>
<rect x="95.95" y="598.74" width="0.68" height="0.68" fill="#333"/>
<rect x="107.03" y="615.53" width="0.68" height="0.68" fill="#333"/>
<rect x="73.65" y="631.46" width="0.68" height="0.68" fill="#333"/>
<rect x="66.13" y="632.51" width="0.68" height="0.68" fill="#333"/>
<rect x="110.71" y="611.98" width="0.68" height="0.68" fill="#333"/>
<rect x="95.72" y="616.46" width="0.68" height="0.68" fill="#333"/>
<rect x="85.47" y="615.23" width="0.68" height="0.68" fill="#333"/>
<rect x="62.32" y="634.08" width="0.68" height="0.68" fill="#333"/>
<rect x="112.61" y="605.02" width="0.68" height="0.68" fill="#333"/>
<rect x="108.74" y="613.92" width="0.68" height="0.68" fill="#333"/>
<rect x="64.10" y="640.33" width="0.68" height="0.68" fill="#333"/>
<rect x="102.75" y="613.19" width="0.68" height="0.68" fill="#333"/>
<rect x="118.91" y="605.87" width="0.68" height="0.68" fill="#333"/>
<rect x="71.00" y="628.78" width="0.68" height="0.68" fill="#333"/>
<rect x="112.04" y="608.06" width="0.68" height="0.68" fill="#333"/>
<rect x="90.22" y="594.65" width="0.68" height="0.68" fill="#333"/>
<rect x="97.70" y="597.55" width="0.68" height="0.68" fill="#333"/>
<rect x="109.46" y="610.85" width="0.68" height="0.68" fill="#333"/>
<rect x="77.52" y="634.85" width="0.68" height="0.68" fill="#333"/>
<rect x="89.05" y="613.00" width="0.68" height="0.68" fill="#333"/>
<rect x="118.52" y="598.87" width="0.68" height="0.68" fill="#333"/>
<rect x="86.79" y="598.58" width="0.68" height="0.68" fill="#333"/>
<rect x="109.67" y="598.69" width="0.68" height="0.68" fill="#333"/>
<rect x="95.19" y="612.08" width="0.68" height="0.68" fill="#333"/>
<rect x="113.03" y="602.37" width="0.68" height="0.68" fill="#333"/>
<rect x="59.17" y="624.45" width="0.68" height="0.68" fill="#333"/>
<rect x="65.69" y="627.91" width="0.68" height="0.68" fill="#333"/>
<rect x="99.15" y="594.83" width="0.68" height="0.68" fill="#333"/>
<rect x="109.92" y="597.94" width="0.68" height="0.68" fill="#333"/>
<rect x="113.57" y="605.03" width="0.68" height="0.68" fill="#333"/>
<rect x="89.52" y="594.52" width="0.68" height="0.68" fill="#333"/>
<rect x="69.60" y="624.28" width="0.68" height="0.68" fill="#333"/>
<rect x="66.33" y="643.29" width="0.68" height="0.68" fill="#333"/>
<rect x="112.91" y="595.01" width="0.68" height="0.68" fill="#333"/>
<rect x="108.56" y="600.42" width="0.68" height="0.68" fill="#333"/>
<rect x="123.67" y="598.26" width="0.68" height="0.68" fill="#333"/>
<rect x="76.03" y="623.05" width="0.68" height="0.68" fill="#333"/>
<rect x="74.67" y="633.41" width="0.68" height="0.68" fill="#333"/>
<rect x="104.75" y="595.00" width="0.68" height="0.68" fill="#333"/>
<rect x="111.19" y="595.40" width="0.68" height="0.68" fill="#333"/>
<rect x="62.34" y="627.75" width="0.68" height="0.68" fill="#333"/>
<rect x="90.30" y="610.82" width="0.68" height="0.68" fill="#333"/>
<rect x="79.07" y="640.32" width="0.68" height="0.68" fill="#333"/>
<rect x="114.09" y="596.41" width="0.68" height="0.68" fill="#333"/>
<rect x="109.11" y="607.72" width="0.68" height="0.68" fill="#333"/>
<rect x="107.27" y="593.92" width="0.68" height="0.68" fill="#333"/>
<rect x="71.93" y="640.80" width="0.68" height="0.68" fill="#333"/>
<rect x="74.45" y="642.67" width="0.68" height="0.68" fill="#333"/>
<rect x="112.46" y="614.24" width="0.68" height="0.68" fill="#333"/>
<rect x="103.36" y="593.81" width="0.68" height="0.68" fill="#333"/>
<rect x="65.77" y="636.08" width="0.68" height="0.68" fill="#333"/>
<rect x="70.33" y="645.56" width="0.68" height="0.68" fill="#333"/>
<rect x="116.40" y="603.89" width="0.68" height="0.68" fill="#333"/>
<rect x="65.56" y="642.16" width="0.68" height="0.68" fill="#333"/>
<rect x="112.81" y="613.51" width="0.68" height="0.68" fill="#333"/>
<rect x="131.05" y="612.54" width="0.68" height="0.68" fill="#333"/>
<rect x="117.31" y="611.89" width="0.68" height="0.68" fill="#333"/>
<rect x="85.55" y="615.03" width="0.68" height="0.68" fill="#333"/>
<rect x="116.81" y="601.14" width="0.68" height="0.68" fill="#333"/>
<rect x="82.82" y="594.17" width="0.68" height="0.68" fill="#333"/>
<rect x="58.82" y="626.61" width="0.68" height="0.68" fill="#333"/>
<rect x="114.67" y="600.88" width="0.68" height="0.68" fill="#333"/>
<rect x="66.04" y="626.49" width="0.68" height="0.68" fill="#333"/>
<rect x="111.39" y="606.81" width="0.68" height="0.68" fill="#333"/>
<rect x="97.24" y="615.96" width="0.68" height="0.68" fill="#333"/>
<rect x="63.70" y="632.21" width="0.68" height="0.68" fill="#333"/>
<rect x="116.35" y="604.63" width="0.68" height="0.68" fill="#333"/>
<rect x="101.92" y="595.85" width="0.68" height="0.68" fill="#333"/>
<rect x="104.84" y="612.73" width="0.68" height="0.68" fill="#333"/>
<rect x="126.71" y="609.48" width="0.68" height="0.68" fill="#333"/>
<rect x="88.23" y="612.86" width="0.68" height="0.68" fill="#333"/>
<rect x="120.96" y="602.96" width="0.68" height="0.68" fill="#333"/>
<rect x="93.96" y="614.97" width="0.68" height="0.68" fill="#333"/>
<rect x="60.19" y="619.63" width="0.68" height="0.68" fill="#333"/>
<rect x="65.68" y="594.03" width="0.68" height="0.68" fill="#333"/>
<rect x="98.36" y="612.53" width="0.68" height="0.68" fill="#333"/>
<rect x="102.89" y="609.34" width="0.68" height="0.68" fill="#333"/>
<rect x="74.49" y="627.68" width="0.68" height="0.68" fill="#333"/>
<rect x="62.54" y="627.23" width="0.68" height="0.68" fill="#333"/>
<rect x="61.53" y="640.03" width="0.68" height="0.68" fill="#333"/>
<rect x="61.63" y="635.88" width="0.68" height="0.68" fill="#333"/>
<rect x="103.98" y="598.71" width="0.68" height="0.68" fill="#333"/>
<rect x="94.67" y="619.18" width="0.68" height="0.68" fill="#333"/>
<rect x="61.24" y="640.51" width="0.68" height="0.68" fill="#333"/>
<rect x="59.95" y="634.89" width="0.68" height="0.68" fill="#333"/>
<rect x="77.80" y="632.59" width="0.68" height="0.68" fill="#333"/>
<rect x="121.38" y="618.56" width="0.68" height="0.68" fill="#333"/>
<rect x="85.89" y="623.60" width="0.68" height="0.68" fill="#333"/>
<rect x="71.59" y="635.13" width="0.68" height="0.68" fill="#333"/>
<rect x="63.32" y="636.77" width="0.68" height="0.68" fill="#333"/>
<rect x="111.43" y="615.23" width="0.68" height="0.68" fill="#333"/>
<rect x="122.31" y="595.01" width="0.68" height="0.68" fill="#333"/>
<rect x="58.26" y="633.16" width="0.68" height="0.68" fill="#333"/>
<rect x="100.28" y="591.30" width="0.68" height="0.68" fill="#333"/>
<rect x="59.42" y="622.75" width="0.68" height="0.68" fill="#333"/>
<rect x="87.46" y="597.58" width="0.68" height="0.68" fill="#333"/>
<rect x="89.83" y="599.37" width="0.68" height="0.68" fill="#333"/>
<rect x="110.27" y="593.40" width="0.68" height="0.68" fill="#333"/>
<rect x="91.34" y="599.76" width="0.68" height="0.68" fill="#333"/>
<rect x="111.71" y="614.56" width="0.68" height="0.68" fill="#333"/>
<rect x="129.57" y="593.30" width="0.68" height="0.68" fill="#333"/>
<rect x="102.04" y="598.73" width="0.68" height="0.68" fill="#333"/>
<rect x="60.30" y="630.11" width="0.68" height="0.68" fill="#333"/>
<rect x="118.50" y="602.86" width="0.68" height="0.68" fill="#333"/>
<rect x="120.31" y="600.80" width="0.68" height="0.68" fill="#333"/>
<rect x="63.13" y="622.11" width="0.68" height="0.68" fill="#333"/>
<rect x="88.62" y="613.08" width="0.68" height="0.68" fill="#333"/>
<rect x="76.03" y="638.27" width="0.68" height="0.68" fill="#333"/>
<rect x="123.98" y="606.89" width="0.68" height="0.68" fill="#333"/>
<rect x="90.14" y="596.85" width="0.68" height="0.68" fill="#333"/>
<rect x="107.30" y="612.79" width="0.68" height="0.68" fill="#333"/>
<rect x="113.77" y="599.78" width="0.68" height="0.68" fill="#333"/>
<rect x="119.28" y="607.08" width="0.68" height="0.68" fill="#333"/>
<rect x="77.59" y="643.61" width="0.68" height="0.68" fill="#333"/>
<rect x="59.62" y="621.16" width="0.68" height="0.68" fill="#333"/>
<rect x="63.19" y="642.25" width="0.68" height="0.68" fill="#333"/>
<rect x="96.25" y="612.42" width="0.68" height="0.68" fill="#333"/>
<rect x="98.04" y="598.45" width="0.68" height="0.68" fill="#333"/>
<rect x="121.18" y="595.57" width="0.68" height="0.68" fill="#333"/>
<rect x="111.90" y="599.58" width="0.68" height="0.68" fill="#333"/>
<rect x="117.97" y="609.03" width="0.68" height="0.68" fill="#333"/>
<rect x="117.28" y="594.73" width="0.68" height="0.68" fill="#333"/>
<rect x="106.99" y="606.10" width="0.68" height="0.68" fill="#333"/>
<rect x="117.89" y="607.67" width="0.68" height="0.68" fill="#333"/>
<rect x="106.36" y="609.95" width="0.68" height="0.68" fill="#333"/>
<rect x="96.71" y="614.77" width="0.68" height="0.68" fill="#333"/>
<rect x="77.30" y="640.96" width="0.68" height="0.68" fill="#333"/>
<rect x="95.91" y="616.02" width="0.68" height="0.68" fill="#333"/>
<rect x="92.77" y="611.39" width="0.68" height="0.68" fill="#333"/>
<rect x="104.62" y="616.59" width="0.68" height="0.68" fill="#333"/>
<rect x="111.39" y="609.17" width="0.68" height="0.68" fill="#333"/>
<rect x="103.81" y="613.39" width="0.68" height="0.68" fill="#333"/>
<rect x="76.86" y="633.43" width="0.68" height="0.68" fill="#333"/>
<rect x="98.49" y="608.36" width="0.68" height="0.68" fill="#333"/>
<rect x="109.17" y="618.33" width="0.68" height="0.68" fill="#333"/>
<rect x="76.55" y="625.69" width="0.68" height="0.68" fill="#333"/>
<rect x="108.22" y="597.15" width="0.68" height="0.68" fill="#333"/>
<rect x="119.35" y="600.71" width="0.68" height="0.68" fill="#333"/>
<rect x="60.26" y="652.89" width="0.68" height="0.68" fill="#333"/>
<rect x="84.14" y="599.25" width="0.68" height="0.68" fill="#333"/>
<rect x="97.09" y="613.80" width="0.68" height="0.68" fill="#333"/>
<rect x="94.68" y="595.69" width="0.68" height="0.68" fill="#333"/>
<rect x="104.13" y="607.44" width="0.68" height="0.68" fill="#333"/>
<rect x="96.26" y="610.68" width="0.68" height="0.68" fill="#333"/>
<rect x="68.77" y="642.00" width="0.68" height="0.68" fill="#333"/>
<rect x="65.49" y="646.80" width="0.68" height="0.68" fill="#333"/>
<rect x="78.24" y="645.16" width="0.68" height="0.68" fill="#333"/>
<rect x="116.82" y="599.71" width="0.68" height="0.68" fill="#333"/>
<rect x="64.42" y="643.77" width="0.68" height="0.68" fill="#333"/>
<rect x="68.41" y="633.45" width="0.68" height="0.68" fill="#333"/>
<rect x="71.13" y="634.85" width="0.68" height="0.68" fill="#333"/>
<rect x="59.92" y="639.36" width="0.68" height="0.68" fill="#333"/>
<rect x="91.30" y="611.73" width="0.68" height="0.68" fill="#333"/>
<rect x="107.48" y="596.66" width="0.68" height="0.68" fill="#333"/>
<rect x="110.75" y="613.56" width="0.68" height="0.68" fill="#333"/>
<rect x="97.13" y="614.67" width="0.68" height="0.68" fill="#333"/>
<rect x="83.51" y="594.58" width="0.68" height="0.68" fill="#333"/>
<rect x="124.26" y="598.50" width="0.68" height="0.68" fill="#333"/>
<rect x="126.01" y="606.32" width="0.68" height="0.68" fill="#333"/>
<rect x="109.09" y="600.30" width="0.68" height="0.68" fill="#333"/>
<rect x="76.97" y="630.63" width="0.68" height="0.68" fill="#333"/>
<rect x="118.70" y="603.23" width="0.68" height="0.68" fill="#333"/>
<rect x="78.53" y="636.73" width="0.68" height="0.68" fill="#333"/>
<rect x="77.53" y="641.61" width="0.68" height="0.68" fill="#333"/>
<rect x="97.72" y="613.37" width="0.68" height="0.68" fill="#333"/>
<rect x="117.92" y="609.15" width="0.68" height="0.68" fill="#333"/>
<rect x="70.25" y="636.35" width="0.68" height="0.68" fill="#333"/>
<rect x="102.14" y="616.57" width="0.68" height="0.68" fill="#333"/>
<rect x="92.50" y="614.40" width="0.68" height="0.68" fill="#333"/>
<rect x="63.54" y="631.94" width="0.68" height="0.68" fill="#333"/>
<rect x="68.13" y="629.54" width="0.68" height="0.68" fill="#333"/>
<rect x="63.60" y="639.99" width="0.68" height="0.68" fill="#333"/>
<rect x="59.46" y="621.75" width="0.68" height="0.68" fill="#333"/>
<rect x="65.08" y="638.30" width="0.68" height="0.68" fill="#333"/>
<rect x="123.72" y="598.38" width="0.68" height="0.68" fill="#333"/>
<rect x="63.53" y="638.22" width="0.68" height="0.68" fill="#333"/>
<rect x="108.22" y="607.30" width="0.68" height="0.68" fill="#333"/>
<rect x="59.70" y="632.72" width="0.68" height="0.68" fill="#333"/>
<rect x="70.49" y="623.82" width="0.68" height="0.68" fill="#333"/>
<rect x="70.70" y="624.04" width="0.68" height="0.68" fill="#333"/>
<rect x="67.04" y="640.15" width="0.68" height="0.68" fill="#333"/>
<rect x="58.54" y="581.65" width="0.68" height="0.68" fill="#333"/>
<rect x="61.70" y="650.68" width="0.68" height="0.68" fill="#333"/>
<rect x="60.53" y="645.76" width="0.68" height="0.68" fill="#333"/>
<rect x="78.04" y="624.89" width="0.68" height="0.68" fill="#333"/>
<rect x="122.77" y="600.90" width="0.68" height="0.68" fill="#333"/>
<rect x="108.31" y="615.90" width="0.68" height="0.68" fill="#333"/>
<rect x="98.01" y="594.68" width="0.68" height="0.68" fill="#333"/>
<rect x="65.45" y="631.96" width="0.68" height="0.68" fill="#333"/>
<rect x="123.01" y="606.37" width="0.68" height="0.68" fill="#333"/>
<rect x="59.93" y="625.73" width="0.68" height="0.68" fill="#333"/>
<rect x="70.17" y="633.21" width="0.68" height="0.68" fill="#333"/>
<rect x="106.04" y="594.05" width="0.68" height="0.68" fill="#333"/>
<rect x="87.58" y="614.82" width="0.68" height="0.68" fill="#333"/>
<rect x="108.29" y="596.72" width="0.68" height="0.68" fill="#333"/>
<rect x="109.66" y="595.41" width="0.68" height="0.68" fill="#333"/>
<rect x="112.57" y="600.09" width="0.68" height="0.68" fill="#333"/>
<rect x="121.42" y="607.84" width="0.68" height="0.68" fill="#333"/>
<rect x="68.17" y="649.25" width="0.68" height="0.68" fill="#333"/>
<rect x="95.91" y="617.66" width="0.68" height="0.68" fill="#333"/>
<rect x="113.74" y="604.73" width="0.68" height="0.68" fill="#333"/>
<rect x="58.89" y="625.26" width="0.68" height="0.68" fill="#333"/>
<rect x="62.45" y="597.31" width="0.68" height="0.68" fill="#333"/>
<rect x="66.57" y="628.80" width="0.68" height="0.68" fill="#333"/>
<rect x="78.24" y="636.31" width="0.68" height="0.68" fill="#333"/>
<rect x="65.27" y="638.67" width="0.68" height="0.68" fill="#333"/>
<rect x="120.83" y="612.68" width="0.68" height="0.68" fill="#333"/>
<rect x="109.04" y="594.81" width="0.68" height="0.68" fill="#333"/>
<rect x="101.90" y="608.37" width="0.68" height="0.68" fill="#333"/>
<rect x="120.96" y="592.90" width="0.68" height="0.68" fill="#333"/>
<rect x="59.48" y="637.87" width="0.68" height="0.68" fill="#333"/>
<rect x="60.90" y="649.79" width="0.68" height="0.68" fill="#333"/>
<rect x="87.68" y="594.72" width="0.68" height="0.68" fill="#333"/>
<rect x="94.84" y="598.83" width="0.68" height="0.68" fill="#333"/>
<rect x="113.44" y="603.84" width="0.68" height="0.68" fill="#333"/>
<rect x="59.96" y="581.89" width="0.68" height="0.68" fill="#333"/>
<rect x="68.76" y="637.81" width="0.68" height="0.68" fill="#333"/>
<rect x="67.87" y="631.47" width="0.68" height="0.68" fill="#333"/>
<rect x="65.82" y="631.68" width="0.68" height="0.68" fill="#333"/>
<rect x="86.59" y="590.18" width="0.68" height="0.68" fill="#333"/>
<rect x="117.04" y="599.53" width="0.68" height="0.68" fill="#333"/>
<rect x="67.85" y="629.59" width="0.68" height="0.68" fill="#333"/>
<rect x="98.03" y="608.65" width="0.68" height="0.68" fill="#333"/>
<rect x="125.80" y="598.90" width="0.68" height="0.68" fill="#333"/>
<rect x="58.26" y="598.77" width="0.68" height="0.68" fill="#333"/>
<rect x="61.67" y="628.03" width="0.68" height="0.68" fill="#333"/>
<rect x="114.31" y="600.45" width="0.68" height="0.68" fill="#333"/>
<rect x="82.48" y="634.70" width="0.68" height="0.68" fill="#333"/>
<rect x="98.06" y="610.16" width="0.68" height="0.68" fill="#333"/>
<rect x="112.73" y="606.65" width="0.68" height="0.68" fill="#333"/>
<rect x="99.96" y="599.77" width="0.68" height="0.68" fill="#333"/>
<rect x="93.20" y="599.49" width="0.68" height="0.68" fill="#333"/>
<rect x="58.90" y="647.31" width="0.68" height="0.68" fill="#333"/>
<rect x="105.24" y="607.79" width="0.68" height="0.68" fill="#333"/>
<rect x="66.63" y="625.34" width="0.68" height="0.68" fill="#333"/>
<rect x="97.26" y="614.99" width="0.68" height="0.68" fill="#333"/>
<rect x="115.03" y="595.61" width="0.68" height="0.68" fill="#333"/>
<rect x="123.24" y="601.47" width="0.68" height="0.68" fill="#333"/>
<rect x="114.45" y="598.96" width="0.68" height="0.68" fill="#333"/>
<rect x="92.97" y="619.50" width="0.68" height="0.68" fill="#333"/>
<rect x="96.65" y="598.00" width="0.68" height="0.68" fill="#333"/>
<rect x="126.62" y="603.67" width="0.68" height="0.68" fill="#333"/>
<rect x="102.00" y="597.45" width="0.68" height="0.68" fill="#333"/>
<rect x="100.22" y="594.49" width="0.68" height="0.68" fill="#333"/>
<rect x="58.47" y="633.50" width="0.68" height="0.68" fill="#333"/>
<rect x="67.24" y="626.98" width="0.68" height="0.68" fill="#333"/>
<rect x="94.83" y="610.42" width="0.68" height="0.68" fill="#333"/>
<rect x="66.86" y="624.43" width="0.68" height="0.68" fill="#333"/>
<rect x="123.75" y="596.95" width="0.68" height="0.68" fill="#333"/>
<rect x="62.77" y="640.50" width="0.68" height="0.68" fill="#333"/>
<rect x="68.29" y="632.95" width="0.68" height="0.68" fill="#333"/>
<rect x="74.96" y="626.91" width="0.68" height="0.68" fill="#333"/>
<rect x="94.00" y="609.51" width="0.68" height="0.68" fill="#333"/>
<rect x="102.56" y="595.34" width="0.68" height="0.68" fill="#333"/>
<rect x="105.17" y="596.26" width="0.68" height="0.68" fill="#333"/>
<rect x="120.84" y="600.73" width="0.68" height="0.68" fill="#333"/>
<rect x="98.13" y="595.63" width="0.68" height="0.68" fill="#333"/>
<rect x="67.95" y="637.60" width="0.68" height="0.68" fill="#333"/>
<rect x="59.46" y="597.51" width="0.68" height="0.68" fill="#333"/>
<rect x="76.11" y="637.56" width="0.68" height="0.68" fill="#333"/>
<rect x="89.63" y="612.44" width="0.68" height="0.68" fill="#333"/>
<rect x="72.05" y="647.72" width="0.68" height="0.68" fill="#333"/>
<rect x="61.47" y="645.39" width="0.68" height="0.68" fill="#333"/>
<rect x="62.87" y="645.15" width="0.68" height="0.68" fill="#333"/>
<rect x="110.77" y="607.28" width="0.68" height="0.68" fill="#333"/>
<rect x="106.01" y="588.37" width="0.68" height="0.68" fill="#333"/>
<rect x="70.28" y="643.65" width="0.68" height="0.68" fill="#333"/>
<rect x="112.88" y="618.91" width="0.68" height="0.68" fill="#333"/>
<rect x="117.20" y="602.35" width="0.68" height="0.68" fill="#333"/>
<rect x="65.75" y="634.10" width="0.68" height="0.68" fill="#333"/>
<rect x="115.55" y="599.08" width="0.68" height="0.68" fill="#333"/>
<rect x="105.71" y="619.62" width="0.68" height="0.68" fill="#333"/>
<rect x="108.68" y="612.25" width="0.68" height="0.68" fill="#333"/>
<rect x="94.49" y="610.01" width="0.68" height="0.68" fill="#333"/>
<rect x="60.45" y="628.46" width="0.68" height="0.68" fill="#333"/>
<rect x="72.08" y="630.62" width="0.68" height="0.68" fill="#333"/>
<rect x="108.03" y="611.36" width="0.68" height="0.68" fill="#333"/>
<rect x="71.67" y="640.46" width="0.68" height="0.68" fill="#333"/>
<rect x="100.02" y="600.00" width="0.68" height="0.68" fill="#333"/>
<rect x="96.62" y="610.53" width="0.68" height="0.68" fill="#333"/>
<rect x="102.19" y="599.18" width="0.68" height="0.68" fill="#333"/>
<rect x="121.19" y="608.03" width="0.68" height="0.68" fill="#333"/>
<rect x="107.53" y="599.48" width="0.68" height="0.68" fill="#333"/>
<rect x="81.09" y="597.72" width="0.68" height="0.68" fill="#333"/>
<rect x="100.42" y="599.41" width="0.68" height="0.68" fill="#333"/>
<rect x="92.39" y="612.11" width="0.68" height="0.68" fill="#333"/>
<rect x="59.42" y="640.25" width="0.68" height="0.68" fill="#333"/>
<rect x="111.61" y="606.39" width="0.68" height="0.68" fill="#333"/>
<rect x="126.43" y="605.59" width="0.68" height="0.68" fill="#333"/>
<rect x="104.78" y="610.99" width="0.68" height="0.68" fill="#333"/>
<rect x="65.73" y="631.32" width="0.68" height="0.68" fill="#333"/>
<rect x="127.87" y="600.42" width="0.68" height="0.68" fill="#333"/>
<rect x="63.59" y="623.77" width="0.68" height="0.68" fill="#333"/>
<rect x="123.54" y="596.67" width="0.68" height="0.68" fill="#333"/>
<rect x="112.57" y="613.71" width="0.68" height="0.68" fill="#333"/>
<rect x="62.12" y="636.65" width="0.68" height="0.68" fill="#333"/>
<rect x="86.74" y="615.14" width="0.68" height="0.68" fill="#333"/>
<rect x="64.77" y="628.09" width="0.68" height="0.68" fill="#333"/>
<rect x="67.57" y="637.80" width="0.68" height="0.68" fill="#333"/>
<rect x="91.64" y="596.63" width="0.68" height="0.68" fill="#333"/>
<rect x="113.57" y="597.78" width="0.68" height="0.68" fill="#333"/>
<rect x="69.89" y="639.30" width="0.68" height="0.68" fill="#333"/>
<rect x="97.27" y="610.51" width="0.68" height="0.68" fill="#333"/>
<rect x="73.80" y="622.51" width="0.68" height="0.68" fill="#333"/>
<rect x="123.99" y="604.29" width="0.68" height="0.68" fill="#333"/>
<rect x="112.90" y="609.10" width="0.68" height="0.68" fill="#333"/>
<rect x="102.64" y="610.27" width="0.68" height="0.68" fill="#333"/>
<rect x="125.46" y="604.72" width="0.68" height="0.68" fill="#333"/>
<rect x="72.38" y="632.30" width="0.68" height="0.68" fill="#333"/>
<rect x="88.70" y="596.91" width="0.68" height="0.68" fill="#333"/>
<rect x="119.40" y="607.56" width="0.68" height="0.68" fill="#333"/>
<rect x="99.42" y="614.12" width="0.68" height="0.68" fill="#333"/>
<rect x="102.04" y="611.07" width="0.68" height="0.68" fill="#333"/>
<rect x="65.13" y="638.70" width="0.68" height="0.68" fill="#333"/>
<rect x="125.09" y="606.56" width="0.68" height="0.68" fill="#333"/>
<rect x="68.97" y="624.12" width="0.68" height="0.68" fill="#333"/>
<rect x="59.92" y="624.67" width="0.68" height="0.68" fill="#333"/>
<rect x="119.23" y="598.71" width="0.68" height="0.68" fill="#333"/>
<rect x="102.89" y="616.74" width="0.68" height="0.68" fill="#333"/>
<rect x="110.81" y="610.19" width="0.68" height="0.68" fill="#333"/>
<rect x="121.45" y="600.92" width="0.68" height="0.68" fill="#333"/>
<rect x="107.73" y="610.93" width="0.68" height="0.68" fill="#333"/>
<rect x="69.02" y="633.29" width="0.68" height="0.68" fill="#333"/>
<rect x="63.77" y="628.09" width="0.68" height="0.68" fill="#333"/>
<rect x="69.02" y="638.51" width="0.68" height="0.68" fill="#333"/>
<rect x="65.77" y="645.56" width="0.68" height="0.68" fill="#333"/>
<rect x="108.12" y="596.30" width="0.68" height="0.68" fill="#333"/>
<rect x="90.12" y="614.89" width="0.68" height="0.68" fill="#333"/>
<rect x="59.85" y="597.93" width="0.68" height="0.68" fill="#333"/>
<rect x="81.89" y="596.66" width="0.68" height="0.68" fill="#333"/>
<rect x="66.45" y="637.81" width="0.68" height="0.68" fill="#333"/>
<rect x="63.00" y="630.65" width="0.68" height="0.68" fill="#333"/>
<rect x="123.78" y="608.58" width="0.68" height="0.68" fill="#333"/>
<rect x="105.37" y="613.58" width="0.68" height="0.68" fill="#333"/>
<rect x="111.94" y="599.30" width="0.68" height="0.68" fill="#333"/>
<rect x="65.84" y="639.00" width="0.68" height="0.68" fill="#333"/>
<rect x="102.20" y="594.39" width="0.68" height="0.68" fill="#333"/>
<rect x="84.91" y="614.58" width="0.68" height="0.68" fill="#333"/>
<rect x="62.19" y="632.66" width="0.68" height="0.68" fill="#333"/>
<rect x="113.87" y="606.67" width="0.68" height="0.68" fill="#333"/>
<rect x="63.96" y="635.24" width="0.68" height="0.68" fill="#333"/>
<rect x="83.81" y="592.56" width="0.68" height="0.68" fill="#333"/>
<rect x="73.03" y="640.01" width="0.68" height="0.68" fill="#333"/>
<rect x="111.06" y="606.38" width="0.68" height="0.68" fill="#333"/>
<rect x="66.12" y="639.33" width="0.68" height="0.68" fill="#333"/>
<rect x="120.44" y="603.25" width="0.68" height="0.68" fill="#333"/>
<rect x="63.53" y="592.11" width="0.68" height="0.68" fill="#333"/>
<rect x="99.91" y="615.76" width="0.68" height="0.68" fill="#333"/>
<rect x="61.06" y="620.65" width="0.68" height="0.68" fill="#333"/>
<rect x="103.16" y="614.66" width="0.68" height="0.68" fill="#333"/>
<rect x="80.04" y="647.04" width="0.68" height="0.68" fill="#333"/>
<rect x="74.31" y="650.76" width="0.68" height="0.68" fill="#333"/>
<rect x="103.19" y="612.23" width="0.68" height="0.68" fill="#333"/>
<rect x="81.51" y="645.40" width="0.68" height="0.68" fill="#333"/>
<rect x="67.23" y="629.53" width="0.68" height="0.68" fill="#333"/>
<rect x="106.17" y="594.90" width="0.68" height="0.68" fill="#333"/>
<rect x="112.91" y="598.99" width="0.68" height="0.68" fill="#333"/>
<rect x="119.73" y="611.65" width="0.68" height="0.68" fill="#333"/>
<rect x="70.89" y="634.61" width="0.68" height="0.68" fill="#333"/>
<rect x="112.02" y="604.38" width="0.68" height="0.68" fill="#333"/>
<rect x="60.84" y="649.14" width="0.68" height="0.68" fill="#333"/>
<rect x="102.49" y="599.36" width="0.68" height="0.68" fill="#333"/>
<rect x="66.30" y="637.31" width="0.68" height="0.68" fill="#333"/>
<rect x="64.95" y="624.15" width="0.68" height="0.68" fill="#333"/>
<rect x="69.46" y="650.33" width="0.68" height="0.68" fill="#333"/>
<rect x="107.98" y="606.41" width="0.68" height="0.68" fill="#333"/>
<rect x="96.35" y="612.70" width="0.68" height="0.68" fill="#333"/>
<rect x="115.50" y="597.60" width="0.68" height="0.68" fill="#333"/>
<rect x="64.57" y="633.06" width="0.68" height="0.68" fill="#333"/>
<rect x="104.23" y="615.27" width="0.68" height="0.68" fill="#333"/>
<rect x="68.76" y="637.54" width="0.68" height="0.68" fill="#333"/>
<rect x="85.37" y="635.62" width="0.68" height="0.68" fill="#333"/>
<rect x="116.92" y="604.73" width="0.68" height="0.68" fill="#333"/>
<rect x="60.05" y="628.66" width="0.68" height="0.68" fill="#333"/>
<rect x="100.71" y="595.10" width="0.68" height="0.68" fill="#333"/>
<rect x="118.56" y="608.14" width="0.68" height="0.68" fill="#333"/>
<rect x="111.80" y="597.51" width="0.68" height="0.68" fill="#333"/>
<rect x="109.26" y="608.06" width="0.68" height="0.68" fill="#333"/>
<rect x="102.27" y="598.45" width="0.68" height="0.68" fill="#333"/>
<rect x="62.78" y="648.12" width="0.68" height="0.68" fill="#333"/>
<rect x="61.44" y="648.33" width="0.68" height="0.68" fill="#333"/>
<rect x="64.74" y="634.49" width="0.68" height="0.68" fill="#333"/>
<rect x="104.18" y="617.84" width="0.68" height="0.68" fill="#333"/>
<rect x="68.93" y="626.65" width="0.68" height="0.68" fill="#333"/>
<rect x="111.59" y="598.15" width="0.68" height="0.68" fill="#333"/>
<rect x="61.23" y="623.32" width="0.68" height="0.68" fill="#333"/>
<rect x="91.13" y="596.09" width="0.68" height="0.68" fill="#333"/>
<rect x="90.91" y="614.48" width="0.68" height="0.68" fill="#333"/>
<rect x="101.54" y="611.15" width="0.68" height="0.68" fill="#333"/>
<rect x="61.97" y="593.90" width="0.68" height="0.68" fill="#333"/>
<rect x="68.08" y="638.13" width="0.68" height="0.68" fill="#333"/>
<rect x="109.63" y="600.13" width="0.68" height="0.68" fill="#333"/>
<rect x="64.70" y="633.03" width="0.68" height="0.68" fill="#333"/>
<rect x="110.16" y="609.25" width="0.68" height="0.68" fill="#333"/>
<rect x="117.96" y="600.69" width="0.68" height="0.68" fill="#333"/>
<rect x="63.41" y="633.60" width="0.68" height="0.68" fill="#333"/>
<rect x="60.50" y="624.23" width="0.68" height="0.68" fill="#333"/>
<rect x="119.84" y="603.22" width="0.68" height="0.68" fill="#333"/>
<rect x="70.66" y="633.96" width="0.68" height="0.68" fill="#333"/>
<rect x="111.24" y="612.27" width="0.68" height="0.68" fill="#333"/>
<rect x="69.48" y="644.39" width="0.68" height="0.68" fill="#333"/>
<rect x="94.39" y="613.89" width="0.68" height="0.68" fill="#333"/>
<rect x="114.57" y="615.52" width="0.68" height="0.68" fill="#333"/>
<rect x="116.33" y="606.74" width="0.68" height="0.68" fill="#333"/>
<rect x="67.25" y="635.77" width="0.68" height="0.68" fill="#333"/>
<rect x="77.71" y="637.04" width="0.68" height="0.68" fill="#333"/>
<rect x="91.03" y="612.18" width="0.68" height="0.68" fill="#333"/>
<rect x="67.23" y="631.01" width="0.68" height="0.68" fill="#333"/>
<rect x="100.14" y="610.63" width="0.68" height="0.68" fill="#333"/>
<rect x="118.61" y="602.40" width="0.68" height="0.68" fill="#333"/>
<rect x="77.64" y="630.06" width="0.68" height="0.68" fill="#333"/>
<rect x="90.19" y="595.89" width="0.68" height="0.68" fill="#333"/>
<rect x="61.00" y="639.05" width="0.68" height="0.68" fill="#333"/>
<rect x="88.08" y="624.19" width="0.68" height="0.68" fill="#333"/>
<rect x="108.04" y="600.09" width="0.68" height="0.68" fill="#333"/>
<rect x="116.12" y="606.67" width="0.68" height="0.68" fill="#333"/>
<rect x="60.29" y="629.43" width="0.68" height="0.68" fill="#333"/>
<rect x="63.37" y="636.92" width="0.68" height="0.68" fill="#333"/>
<rect x="62.51" y="640.11" width="0.68" height="0.68" fill="#333"/>
<rect x="96.63" y="615.72" width="0.68" height="0.68" fill="#333"/>
<rect x="101.25" y="599.19" width="0.68" height="0.68" fill="#333"/>
<rect x="119.48" y="595.33" width="0.68" height="0.68" fill="#333"/>
<rect x="74.41" y="635.69" width="0.68" height="0.68" fill="#333"/>
<rect x="65.04" y="649.11" width="0.68" height="0.68" fill="#333"/>
<rect x="118.17" y="591.82" width="0.68" height="0.68" fill="#333"/>
<rect x="112.82" y="604.05" width="0.68" height="0.68" fill="#333"/>
<rect x="118.88" y="603.03" width="0.68" height="0.68" fill="#333"/>
<rect x="106.97" y="606.56" width="0.68" height="0.68" fill="#333"/>
<rect x="68.63" y="626.01" width="0.68" height="0.68" fill="#333"/>
<rect x="105.53" y="609.76" width="0.68" height="0.68" fill="#333"/>
<rect x="92.01" y="595.41" width="0.68" height="0.68" fill="#333"/>
<rect x="66.64" y="640.17" width="0.68" height="0.68" fill="#333"/>
<rect x="89.86" y="589.89" width="0.68" height="0.68" fill="#333"/>
<rect x="115.67" y="617.81" width="0.68" height="0.68" fill="#333"/>
<rect x="65.47" y="632.61" width="0.68" height="0.68" fill="#333"/>
<rect x="74.00" y="633.86" width="0.68" height="0.68" fill="#333"/>
<rect x="72.85" y="630.29" width="0.68" height="0.68" fill="#333"/>
<rect x="118.30" y="614.12" width="0.68" height="0.68" fill="#333"/>
<rect x="59.47" y="629.42" width="0.68" height="0.68" fill="#333"/>
<rect x="61.40" y="581.88" width="0.68" height="0.68" fill="#333"/>
<rect x="67.09" y="641.27" width="0.68" height="0.68" fill="#333"/>
<rect x="116.25" y="608.61" width="0.68" height="0.68" fill="#333"/>
<rect x="64.77" y="624.06" width="0.68" height="0.68" fill="#333"/>
<rect x="61.28" y="641.10" width="0.68" height="0.68" fill="#333"/>
<rect x="125.10" y="611.15" width="0.68" height="0.68" fill="#333"/>
<rect x="118.33" y="602.85" width="0.68" height="0.68" fill="#333"/>
<rect x="105.72" y="612.17" width="0.68" height="0.68" fill="#333"/>
<rect x="58.46" y="624.62" width="0.68" height="0.68" fill="#333"/>
<rect x="124.54" y="609.02" width="0.68" height="0.68" fill="#333"/>
<rect x="62.99" y="632.43" width="0.68" height="0.68" fill="#333"/>
<rect x="101.06" y="608.52" width="0.68" height="0.68" fill="#333"/>
<rect x="112.74" y="615.44" width="0.68" height="0.68" fill="#333"/>
<rect x="90.48" y="613.95" width="0.68" height="0.68" fill="#333"/>
<rect x="94.80" y="597.57" width="0.68" height="0.68" fill="#333"/>
<rect x="123.63" y="606.39" width="0.68" height="0.68" fill="#333"/>
<rect x="66.26" y="624.50" width="0.68" height="0.68" fill="#333"/>
<rect x="63.20" y="637.64" width="0.68" height="0.68" fill="#333"/>
<rect x="109.33" y="613.25" width="0.68" height="0.68" fill="#333"/>
<rect x="127.99" y="595.77" width="0.68" height="0.68" fill="#333"/>
<rect x="107.70" y="607.15" width="0.68" height="0.68" fill="#333"/>
<rect x="73.83" y="647.50" width="0.68" height="0.68" fill="#333"/>
<rect x="120.80" y="595.89" width="0.68" height="0.68" fill="#333"/>
<rect x="59.09" y="640.00" width="0.68" height="0.68" fill="#333"/>
<rect x="105.51" y="597.13" width="0.68" height="0.68" fill="#333"/>
<rect x="76.63" y="597.78" width="0.68" height="0.68" fill="#333"/>
<rect x="68.01" y="649.04" width="0.68" height="0.68" fill="#333"/>
<rect x="68.26" y="643.41" width="0.68" height="0.68" fill="#333"/>
<rect x="112.67" y="614.25" width="0.68" height="0.68" fill="#333"/>
<rect x="65.24" y="622.87" width="0.68" height="0.68" fill="#333"/>
<rect x="58.20" y="614.90" width="0.68" height="0.68" fill="#333"/>
<rect x="60.96" y="621.03" width="0.68" height="0.68" fill="#333"/>
<rect x="108.97" y="608.64" width="0.68" height="0.68" fill="#333"/>
<rect x="108.38" y="611.94" width="0.68" height="0.68" fill="#333"/>
<rect x="95.46" y="598.12" width="0.68" height="0.68" fill="#333"/>
<rect x="80.02" y="634.50" width="0.68" height="0.68" fill="#333"/>
<rect x="75.18" y="631.53" width="0.68" height="0.68" fill="#333"/>
<rect x="70.34" y="626.27" width="0.68" height="0.68" fill="#333"/>
<rect x="131.42" y="613.41" width="0.68" height="0.68" fill="#333"/>
<rect x="114.30" y="607.89" width="0.68" height="0.68" fill="#333"/>
<rect x="106.53" y="606.19" width="0.68" height="0.68" fill="#333"/>
<rect x="119.16" y="609.01" width="0.68" height="0.68" fill="#333"/>
<rect x="110.05" y="600.51" width="0.68" height="0.68" fill="#333"/>
<rect x="71.26" y="646.06" width="0.68" height="0.68" fill="#333"/>
<rect x="106.70" y="614.89" width="0.68" height="0.68" fill="#333"/>
<rect x="100.80" y="598.00" width="0.68" height="0.68" fill="#333"/>
<rect x="59.69" y="624.16" width="0.68" height="0.68" fill="#333"/>
<rect x="101.42" y="612.28" width="0.68" height="0.68" fill="#333"/>
<rect x="62.50" y="641.91" width="0.68" height="0.68" fill="#333"/>
<rect x="102.43" y="611.00" width="0.68" height="0.68" fill="#333"/>
<rect x="69.60" y="634.98" width="0.68" height="0.68" fill="#333"/>
<rect x="113.51" y="600.20" width="0.68" height="0.68" fill="#333"/>
<rect x="122.06" y="605.53" width="0.68" height="0.68" fill="#333"/>
<rect x="65.53" y="639.01" width="0.68" height="0.68" fill="#333"/>
<rect x="65.21" y="634.05" width="0.68" height="0.68" fill="#333"/>
<rect x="118.35" y="602.60" width="0.68" height="0.68" fill="#333"/>
<rect x="119.84" y="602.16" width="0.68" height="0.68" fill="#333"/>
<rect x="83.66" y="598.38" width="0.68" height="0.68" fill="#333"/>
<rect x="107.38" y="610.97" width="0.68" height="0.68" fill="#333"/>
<rect x="58.97" y="626.63" width="0.68" height="0.68" fill="#333"/>
<rect x="104.08" y="607.35" width="0.68" height="0.68" fill="#333"/>
<rect x="101.71" y="612.36" width="0.68" height="0.68" fill="#333"/>
<rect x="64.44" y="630.83" width="0.68" height="0.68" fill="#333"/>
<rect x="64.26" y="627.74" width="0.68" height="0.68" fill="#333"/>
<rect x="100.88" y="595.94" width="0.68" height="0.68" fill="#333"/>
<rect x="100.07" y="611.99" width="0.68" height="0.68" fill="#333"/>
<rect x="59.25" y="620.90" width="0.68" height="0.68" fill="#333"/>
<rect x="75.51" y="621.02" width="0.68" height="0.68" fill="#333"/>
<rect x="68.23" y="632.51" width="0.68" height="0.68" fill="#333"/>
<rect x="82.08" y="596.98" width="0.68" height="0.68" fill="#333"/>
<rect x="65.15" y="637.77" width="0.68" height="0.68" fill="#333"/>
<rect x="79.53" y="636.96" width="0.68" height="0.68" fill="#333"/>
<rect x="98.11" y="597.65" width="0.68" height="0.68" fill="#333"/>
<rect x="101.10" y="597.01" width="0.68" height="0.68" fill="#333"/>
<rect x="76.20" y="636.55" width="0.68" height="0.68" fill="#333"/>
<rect x="63.57" y="641.22" width="0.68" height="0.68" fill="#333"/>
<rect x="70.96" y="645.07" width="0.68" height="0.68" fill="#333"/>
<rect x="68.62" y="629.75" width="0.68" height="0.68" fill="#333"/>
<rect x="115.81" y="613.54" width="0.68" height="0.68" fill="#333"/>
<rect x="69.95" y="641.23" width="0.68" height="0.68" fill="#333"/>
<rect x="92.90" y="612.50" width="0.68" height="0.68" fill="#333"/>
<rect x="69.59" y="629.07" width="0.68" height="0.68" fill="#333"/>
<rect x="59.10" y="631.64" width="0.68" height="0.68" fill="#333"/>
<rect x="61.39" y="632.69" width="0.68" height="0.68" fill="#333"/>
<rect x="95.27" y="611.49" width="0.68" height="0.68" fill="#333"/>
<rect x="121.26" y="603.75" width="0.68" height="0.68" fill="#333"/>
<rect x="94.96" y="597.08" width="0.68" height="0.68" fill="#333"/>
<rect x="111.06" y="605.82" width="0.68" height="0.68" fill="#333"/>
<rect x="98.55" y="618.71" width="0.68" height="0.68" fill="#333"/>
<rect x="67.60" y="625.78" width="0.68" height="0.68" fill="#333"/>
<rect x="91.41" y="613.51" width="0.68" height="0.68" fill="#333"/>
<rect x="117.98" y="600.47" width="0.68" height="0.68" fill="#333"/>
<rect x="87.67" y="598.47" width="0.68" height="0.68" fill="#333"/>
<rect x="99.85" y="611.79" width="0.68" height="0.68" fill="#333"/>
<rect x="77.96" y="634.92" width="0.68" height="0.68" fill="#333"/>
<rect x="98.36" y="611.62" width="0.68" height="0.68" fill="#333"/>
<rect x="99.70" y="598.89" width="0.68" height="0.68" fill="#333"/>
<rect x="67.39" y="631.89" width="0.68" height="0.68" fill="#333"/>
<rect x="122.42" y="595.91" width="0.68" height="0.68" fill="#333"/>
<rect x="66.11" y="623.58" width="0.68" height="0.68" fill="#333"/>
<rect x="60.40" y="625.66" width="0.68" height="0.68" fill="#333"/>
<rect x="115.39" y="606.24" width="0.68" height="0.68" fill="#333"/>
<rect x="89.95" y="593.93" width="0.68" height="0.68" fill="#333"/>
<rect x="64.81" y="627.78" width="0.68" height="0.68" fill="#333"/>
<rect x="91.51" y="616.35" width="0.68" height="0.68" fill="#333"/>
<rect x="59.86" y="623.62" width="0.68" height="0.68" fill="#333"/>
<rect x="68.87" y="624.57" width="0.68" height="0.68" fill="#333"/>
<rect x="73.48" y="636.62" width="0.68" height="0.68" fill="#333"/>
<rect x="127.19" y="604.46" width="0.68" height="0.68" fill="#333"/>
<rect x="107.08" y="593.54" width="0.68" height="0.68" fill="#333"/>
<rect x="85.97" y="613.06" width="0.68" height="0.68" fill="#333"/>
<rect x="98.01" y="618.71" width="0.68" height="0.68" fill="#333"/>
<rect x="131.70" y="609.60" width="0.68" height="0.68" fill="#333"/>
<rect x="71.60" y="630.78" width="0.68" height="0.68" fill="#333"/>
<rect x="103.59" y="607.71" width="0.68" height="0.68" fill="#333"/>
<rect x="103.05" y="594.76" width="0.68" height="0.68" fill="#333"/>
<rect x="98.70" y="609.67" width="0.68" height="0.68" fill="#333"/>
<rect x="66.27" y="638.04" width="0.68" height="0.68" fill="#333"/>
<rect x="117.04" y="604.85" width="0.68" height="0.68" fill="#333"/>
<rect x="85.40" y="613.47" width="0.68" height="0.68" fill="#333"/>
<rect x="119.47" y="599.42" width="0.68" height="0.68" fill="#333"/>
<rect x="104.82" y="614.32" width="0.68" height="0.68" fill="#333"/>
<rect x="110.12" y="607.85" width="0.68" height="0.68" fill="#333"/>
<rect x="62.29" y="641.21" width="0.68" height="0.68" fill="#333"/>
<rect x="70.37" y="648.62" width="0.68" height="0.68" fill="#333"/>
<rect x="97.73" y="593.19" width="0.68" height="0.68" fill="#333"/>
<rect x="109.04" y="612.14" width="0.68" height="0.68" fill="#333"/>
<rect x="86.36" y="592.32" width="0.68" height="0.68" fill="#333"/>
<rect x="64.68" y="629.27" width="0.68" height="0.68" fill="#333"/>
<rect x="99.92" y="595.89" width="0.68" height="0.68" fill="#333"/>
<rect x="119.82" y="607.35" width="0.68" height="0.68" fill="#333"/>
<rect x="111.55" y="600.12" width="0.68" height="0.68" fill="#333"/>
<rect x="74.76" y="637.35" width="0.68" height="0.68" fill="#333"/>
<rect x="59.38" y="629.84" width="0.68" height="0.68" fill="#333"/>
<rect x="73.38" y="629.02" width="0.68" height="0.68" fill="#333"/>
<rect x="120.38" y="599.35" width="0.68" height="0.68" fill="#333"/>
<rect x="108.50" y="599.06" width="0.68" height="0.68" fill="#333"/>
<rect x="106.42" y="598.65" width="0.68" height="0.68" fill="#333"/>
<rect x="63.64" y="643.36" width="0.68" height="0.68" fill="#333"/>
<rect x="98.97" y="593.92" width="0.68" height="0.68" fill="#333"/>
<rect x="107.51" y="605.76" width="0.68" height="0.68" fill="#333"/>
<rect x="71.12" y="638.10" width="0.68" height="0.68" fill="#333"/>
<rect x="112.39" y="616.31" width="0.68" height="0.68" fill="#333"/>
<rect x="127.85" y="615.57" width="0.68" height="0.68" fill="#333"/>
<rect x="89.17" y="597.42" width="0.68" height="0.68" fill="#333"/>
<rect x="58.76" y="635.42" width="0.68" height="0.68" fill="#333"/>
<rect x="98.27" y="592.34" width="0.68" height="0.68" fill="#333"/>
<rect x="126.85" y="604.23" width="0.68" height="0.68" fill="#333"/>
<rect x="66.29" y="634.99" width="0.68" height="0.68" fill="#333"/>
<rect x="121.64" y="612.84" width="0.68" height="0.68" fill="#333"/>
<rect x="99.22" y="609.64" width="0.68" height="0.68" fill="#333"/>
<rect x="64.80" y="642.20" width="0.68" height="0.68" fill="#333"/>
<rect x="90.44" y="596.67" width="0.68" height="0.68" fill="#333"/>
<rect x="85.07" y="613.48" width="0.68" height="0.68" fill="#333"/>
<rect x="97.98" y="610.84" width="0.68" height="0.68" fill="#333"/>
<rect x="67.04" y="626.75" width="0.68" height="0.68" fill="#333"/>
<rect x="79.89" y="622.38" width="0.68" height="0.68" fill="#333"/>
<rect x="111.32" y="598.51" width="0.68" height="0.68" fill="#333"/>
<rect x="76.44" y="636.26" width="0.68" height="0.68" fill="#333"/>
<rect x="101.32" y="607.65" width="0.68" height="0.68" fill="#333"/>
<rect x="105.17" y="614.54" width="0.68" height="0.68" fill="#333"/>
<rect x="118.14" y="608.74" width="0.68" height="0.68" fill="#333"/>
<rect x="92.86" y="611.11" width="0.68" height="0.68" fill="#333"/>
<rect x="86.01" y="612.20" width="0.68" height="0.68" fill="#333"/>
<rect x="77.94" y="632.20" width="0.68" height="0.68" fill="#333"/>
<rect x="107.31" y="611.32" width="0.68" height="0.68" fill="#333"/>
<rect x="76.92" y="625.39" width="0.68" height="0.68" fill="#333"/>
<rect x="125.03" y="607.61" width="0.68" height="0.68" fill="#333"/>
<rect x="116.39" y="598.83" width="0.68" height="0.68" fill="#333"/>
<rect x="104.73" y="613.04" width="0.68" height="0.68" fill="#333"/>
<rect x="115.41" y="609.35" width="0.68" height="0.68" fill="#333"/>
<rect x="58.65" y="617.92" width="0.68" height="0.68" fill="#333"/>
<rect x="86.95" y="613.14" width="0.68" height="0.68" fill="#333"/>
<rect x="122.53" y="612.79" width="0.68" height="0.68" fill="#333"/>
<rect x="108.49" y="608.10" width="0.68" height="0.68" fill="#333"/>
<rect x="114.66" y="604.17" width="0.68" height="0.68" fill="#333"/>
<rect x="94.72" y="609.37" width="0.68" height="0.68" fill="#333"/>
<rect x="99.23" y="611.56" width="0.68" height="0.68" fill="#333"/>
<rect x="89.09" y="612.04" width="0.68" height="0.68" fill="#333"/>
<rect x="109.92" y="605.89" width="0.68" height="0.68" fill="#333"/>
<rect x="118.03" y="599.65" width="0.68" height="0.68" fill="#333"/>
<rect x="102.28" y="611.26" width="0.68" height="0.68" fill="#333"/>
<rect x="82.67" y="615.87" width="0.68" height="0.68" fill="#333"/>
<rect x="100.28" y="613.04" width="0.68" height="0.68" fill="#333"/>
<rect x="88.98" y="613.17" width="0.68" height="0.68" fill="#333"/>
<rect x="66.07" y="635.66" width="0.68" height="0.68" fill="#333"/>
<rect x="93.61" y="614.52" width="0.68" height="0.68" fill="#333"/>
<rect x="66.10" y="589.77" width="0.68" height="0.68" fill="#333"/>
<rect x="93.14" y="616.59" width="0.68" height="0.68" fill="#333"/>
<rect x="106.97" y="610.26" width="0.68" height="0.68" fill="#333"/>
<rect x="100.83" y="616.13" width="0.68" height="0.68" fill="#333"/>
<rect x="79.82" y="633.38" width="0.68" height="0.68" fill="#333"/>
<rect x="91.81" y="622.01" width="0.68" height="0.68" fill="#333"/>
<rect x="106.93" y="613.26" width="0.68" height="0.68" fill="#333"/>
<rect x="97.35" y="614.68" width="0.68" height="0.68" fill="#333"/>
<rect x="114.18" y="612.95" width="0.68" height="0.68" fill="#333"/>
<rect x="86.98" y="612.56" width="0.68" height="0.68" fill="#333"/>
<rect x="65.77" y="627.83" width="0.68" height="0.68" fill="#333"/>
<rect x="108.42" y="613.59" width="0.68" height="0.68" fill="#333"/>
<rect x="115.51" y="601.56" width="0.68" height="0.68" fill="#333"/>
<rect x="77.64" y="633.81" width="0.68" height="0.68" fill="#333"/>
<rect x="80.00" y="621.32" width="0.68" height="0.68" fill="#333"/>
<rect x="65.80" y="633.12" width="0.68" height="0.68" fill="#333"/>
<rect x="88.72" y="612.42" width="0.68" height="0.68" fill="#333"/>
<rect x="108.11" y="607.98" width="0.68" height="0.68" fill="#333"/>
<rect x="122.50" y="598.70" width="0.68" height="0.68" fill="#333"/>
<rect x="87.59" y="612.47" width="0.68" height="0.68" fill="#333"/>
<rect x="69.97" y="632.88" width="0.68" height="0.68" fill="#333"/>
<rect x="65.59" y="635.04" width="0.68" height="0.68" fill="#333"/>
<rect x="130.34" y="597.28" width="0.68" height="0.68" fill="#333"/>
<rect x="116.15" y="601.30" width="0.68" height="0.68" fill="#333"/>
<rect x="76.20" y="597.57" width="0.68" height="0.68" fill="#333"/>
<rect x="107.54" y="616.34" width="0.68" height="0.68" fill="#333"/>
<rect x="79.32" y="593.54" width="0.68" height="0.68" fill="#333"/>
<rect x="88.05" y="594.82" width="0.68" height="0.68" fill="#333"/>
<rect x="72.54" y="639.07" width="0.68" height="0.68" fill="#333"/>
<rect x="72.96" y="634.47" width="0.68" height="0.68" fill="#333"/>
<rect x="99.27" y="598.08" width="0.68" height="0.68" fill="#333"/>
<rect x="112.98" y="592.99" width="0.68" height="0.68" fill="#333"/>
<rect x="90.63" y="592.39" width="0.68" height="0.68" fill="#333"/>
<rect x="63.03" y="622.31" width="0.68" height="0.68" fill="#333"/>
<rect x="64.80" y="640.66" width="0.68" height="0.68" fill="#333"/>
<rect x="86.30" y="599.62" width="0.68" height="0.68" fill="#333"/>
<rect x="86.67" y="614.66" width="0.68" height="0.68" fill="#333"/>
<rect x="69.83" y="636.03" width="0.68" height="0.68" fill="#333"/>
<rect x="112.07" y="612.89" width="0.68" height="0.68" fill="#333"/>
<rect x="100.47" y="607.52" width="0.68" height="0.68" fill="#333"/>
<rect x="68.54" y="587.21" width="0.68" height="0.68" fill="#333"/>
<rect x="126.52" y="617.96" width="0.68" height="0.68" fill="#333"/>
<rect x="109.97" y="597.49" width="0.68" height="0.68" fill="#333"/>
<rect x="107.19" y="613.94" width="0.68" height="0.68" fill="#333"/>
<rect x="81.25" y="630.17" width="0.68" height="0.68" fill="#333"/>
<rect x="63.93" y="586.67" width="0.68" height="0.68" fill="#333"/>
<rect x="108.26" y="599.00" width="0.68" height="0.68" fill="#333"/>
<rect x="102.01" y="589.31" width="0.68" height="0.68" fill="#333"/>
<rect x="63.16" y="648.28" width="0.68" height="0.68" fill="#333"/>
<rect x="65.30" y="623.83" width="0.68" height="0.68" fill="#333"/>
<rect x="64.28" y="632.47" width="0.68" height="0.68" fill="#333"/>
<rect x="94.63" y="610.79" width="0.68" height="0.68" fill="#333"/>
<rect x="64.56" y="637.36" width="0.68" height="0.68" fill="#333"/>
<rect x="58.48" y="646.19" width="0.68" height="0.68" fill="#333"/>
<rect x="93.04" y="614.35" width="0.68" height="0.68" fill="#333"/>
<rect x="97.05" y="613.73" width="0.68" height="0.68" fill="#333"/>
<rect x="93.84" y="596.41" width="0.68" height="0.68" fill="#333"/>
<rect x="69.55" y="629.94" width="0.68" height="0.68" fill="#333"/>
<rect x="89.83" y="612.20" width="0.68" height="0.68" fill="#333"/>
<rect x="95.01" y="615.53" width="0.68" height="0.68" fill="#333"/>
<rect x="116.42" y="596.84" width="0.68" height="0.68" fill="#333"/>
<rect x="106.84" y="612.47" width="0.68" height="0.68" fill="#333"/>
<rect x="99.40" y="595.95" width="0.68" height="0.68" fill="#333"/>
<rect x="59.00" y="629.23" width="0.68" height="0.68" fill="#333"/>
<rect x="110.21" y="611.34" width="0.68" height="0.68" fill="#333"/>
<rect x="60.32" y="622.62" width="0.68" height="0.68" fill="#333"/>
<rect x="117.43" y="602.02" width="0.68" height="0.68" fill="#333"/>
<rect x="91.42" y="594.80" width="0.68" height="0.68" fill="#333"/>
<rect x="125.42" y="591.22" width="0.68" height="0.68" fill="#333"/>
<rect x="105.79" y="607.09" width="0.68" height="0.68" fill="#333"/>
<rect x="67.03" y="636.62" width="0.68" height="0.68" fill="#333"/>
<rect x="116.27" y="606.29" width="0.68" height="0.68" fill="#333"/>
<rect x="88.01" y="597.26" width="0.68" height="0.68" fill="#333"/>
<rect x="104.07" y="608.88" width="0.68" height="0.68" fill="#333"/>
<rect x="68.26" y="645.63" width="0.68" height="0.68" fill="#333"/>
<rect x="91.95" y="613.33" width="0.68" height="0.68" fill="#333"/>
<rect x="72.10" y="625.93" width="0.68" height="0.68" fill="#333"/>
<rect x="100.30" y="612.01" width="0.68" height="0.68" fill="#333"/>
<rect x="71.19" y="637.27" width="0.68" height="0.68" fill="#333"/>
<rect x="101.73" y="615.31" width="0.68" height="0.68" fill="#333"/>
<rect x="74.67" y="647.05" width="0.68" height="0.68" fill="#333"/>
<rect x="113.78" y="601.28" width="0.68" height="0.68" fill="#333"/>
<rect x="101.52" y="607.85" width="0.68" height="0.68" fill="#333"/>
<rect x="79.77" y="593.20" width="0.68" height="0.68" fill="#333"/>
<rect x="116.96" y="601.68" width="0.68" height="0.68" fill="#333"/>
<rect x="86.07" y="618.50" width="0.68" height="0.68" fill="#333"/>
<rect x="63.83" y="644.56" width="0.68" height="0.68" fill="#333"/>
<rect x="63.71" y="635.16" width="0.68" height="0.68" fill="#333"/>
<rect x="67.73" y="644.07" width="0.68" height="0.68" fill="#333"/>
<rect x="68.44" y="628.37" width="0.68" height="0.68" fill="#333"/>
<rect x="62.60" y="631.06" width="0.68" height="0.68" fill="#333"/>
<rect x="67.04" y="624.67" width="0.68" height="0.68" fill="#333"/>
<rect x="65.15" y="625.00" width="0.68" height="0.68" fill="#333"/>
<rect x="71.04" y="637.16" width="0.68" height="0.68" fill="#333"/>
<rect x="112.53" y="606.88" width="0.68" height="0.68" fill="#333"/>
<rect x="107.01" y="593.90" width="0.68" height="0.68" fill="#333"/>
<rect x="101.26" y="598.70" width="0.68" height="0.68" fill="#333"/>
<rect x="61.10" y="625.97" width="0.68" height="0.68" fill="#333"/>
<rect x="61.66" y="639.36" width="0.68" height="0.68" fill="#333"/>
<rect x="94.32" y="598.40" width="0.68" height="0.68" fill="#333"/>
<rect x="58.50" y="631.31" width="0.68" height="0.68" fill="#333"/>
<rect x="118.60" y="602.72" width="0.68" height="0.68" fill="#333"/>
<rect x="97.71" y="598.93" width="0.68" height="0.68" fill="#333"/>
<rect x="117.91" y="609.99" width="0.68" height="0.68" fill="#333"/>
<rect x="100.55" y="613.76" width="0.68" height="0.68" fill="#333"/>
<rect x="105.27" y="614.76" width="0.68" height="0.68" fill="#333"/>
<rect x="75.04" y="633.31" width="0.68" height="0.68" fill="#333"/>
<rect x="61.38" y="592.37" width="0.68" height="0.68" fill="#333"/>
<rect x="79.14" y="645.27" width="0.68" height="0.68" fill="#333"/>
<rect x="105.38" y="596.57" width="0.68" height="0.68" fill="#333"/>
<rect x="66.05" y="634.13" width="0.68" height="0.68" fill="#333"/>
<rect x="105.13" y="607.19" width="0.68" height="0.68" fill="#333"/>
<rect x="82.90" y="599.57" width="0.68" height="0.68" fill="#333"/>
<rect x="68.19" y="627.61" width="0.68" height="0.68" fill="#333"/>
<rect x="72.75" y="623.94" width="0.68" height="0.68" fill="#333"/>
<rect x="68.58" y="639.11" width="0.68" height="0.68" fill="#333"/>
<rect x="88.12" y="612.18" width="0.68" height="0.68" fill="#333"/>
<rect x="101.70" y="615.85" width="0.68" height="0.68" fill="#333"/>
<rect x="92.96" y="617.65" width="0.68" height="0.68" fill="#333"/>
<rect x="59.40" y="641.03" width="0.68" height="0.68" fill="#333"/>
<rect x="58.49" y="647.31" width="0.68" height="0.68" fill="#333"/>
<rect x="117.04" y="598.25" width="0.68" height="0.68" fill="#333"/>
<rect x="93.17" y="596.01" width="0.68" height="0.68" fill="#333"/>
<rect x="93.28" y="596.78" width="0.68" height="0.68" fill="#333"/>
<rect x="121.61" y="604.64" width="0.68" height="0.68" fill="#333"/>
<rect x="65.78" y="633.23" width="0.68" height="0.68" fill="#333"/>
<rect x="95.63" y="611.49" width="0.68" height="0.68" fill="#333"/>
<rect x="70.13" y="630.98" width="0.68" height="0.68" fill="#333"/>
<rect x="100.72" y="597.86" width="0.68" height="0.68" fill="#333"/>
<rect x="103.62" y="607.48" width="0.68" height="0.68" fill="#333"/>
<rect x="61.22" y="643.57" width="0.68" height="0.68" fill="#333"/>
<rect x="80.11" y="594.86" width="0.68" height="0.68" fill="#333"/>
<rect x="117.07" y="608.17" width="0.68" height="0.68" fill="#333"/>
<rect x="117.09" y="597.24" width="0.68" height="0.68" fill="#333"/>
<rect x="66.02" y="632.98" width="0.68" height="0.68" fill="#333"/>
<rect x="64.98" y="636.12" width="0.68" height="0.68" fill="#333"/>
<rect x="70.01" y="629.40" width="0.68" height="0.68" fill="#333"/>
<rect x="108.39" y="597.67" width="0.68" height="0.68" fill="#333"/>
<rect x="122.25" y="601.29" width="0.68" height="0.68" fill="#333"/>
<rect x="62.12" y="635.88" width="0.68" height="0.68" fill="#333"/>
<rect x="105.72" y="610.50" width="0.68" height="0.68" fill="#333"/>
<rect x="94.63" y="611.49" width="0.68" height="0.68" fill="#333"/>
<rect x="67.43" y="653.65" width="0.68" height="0.68" fill="#333"/>
<rect x="91.25" y="610.02" width="0.68" height="0.68" fill="#333"/>
<rect x="103.11" y="615.71" width="0.68" height="0.68" fill="#333"/>
<rect x="72.07" y="644.89" width="0.68" height="0.68" fill="#333"/>
<rect x="110.12" y="606.79" width="0.68" height="0.68" fill="#333"/>
<rect x="64.23" y="622.36" width="0.68" height="0.68" fill="#333"/>
<rect x="112.80" y="607.02" width="0.68" height="0.68" fill="#333"/>
<rect x="95.76" y="599.05" width="0.68" height="0.68" fill="#333"/>
<rect x="60.87" y="642.01" width="0.68" height="0.68" fill="#333"/>
<rect x="64.03" y="627.95" width="0.68" height="0.68" fill="#333"/>
<rect x="73.81" y="640.62" width="0.68" height="0.68" fill="#333"/>
<rect x="100.89" y="595.96" width="0.68" height="0.68" fill="#333"/>
<rect x="59.06" y="598.54" width="0.68" height="0.68" fill="#333"/>
<rect x="65.43" y="629.11" width="0.68" height="0.68" fill="#333"/>
<rect x="95.90" y="613.77" width="0.68" height="0.68" fill="#333"/>
<rect x="77.57" y="647.81" width="0.68" height="0.68" fill="#333"/>
<rect x="85.07" y="598.08" width="0.68" height="0.68" fill="#333"/>
<rect x="58.94" y="639.04" width="0.68" height="0.68" fill="#333"/>
<rect x="93.02" y="597.01" width="0.68" height="0.68" fill="#333"/>
<rect x="74.26" y="634.13" width="0.68" height="0.68" fill="#333"/>
<rect x="108.94" y="609.88" width="0.68" height="0.68" fill="#333"/>
<rect x="70.68" y="631.16" width="0.68" height="0.68" fill="#333"/>
<rect x="121.54" y="609.49" width="0.68" height="0.68" fill="#333"/>
<rect x="69.27" y="629.07" width="0.68" height="0.68" fill="#333"/>
<rect x="74.89" y="624.80" width="0.68" height="0.68" fill="#333"/>
<rect x="66.90" y="632.72" width="0.68" height="0.68" fill="#333"/>
<rect x="71.16" y="638.31" width="0.68" height="0.68" fill="#333"/>
<rect x="113.66" y="612.30" width="0.68" height="0.68" fill="#333"/>
<rect x="63.09" y="635.50" width="0.68" height="0.68" fill="#333"/>
<rect x="98.73" y="613.49" width="0.68" height="0.68" fill="#333"/>
<rect x="59.12" y="644.38" width="0.68" height="0.68" fill="#333"/>
<rect x="69.17" y="648.65" width="0.68" height="0.68" fill="#333"/>
<rect x="97.01" y="608.60" width="0.68" height="0.68" fill="#333"/>
<rect x="99.21" y="612.17" width="0.68" height="0.68" fill="#333"/>
<rect x="105.39" y="593.88" width="0.68" height="0.68" fill="#333"/>
<rect x="66.11" y="624.79" width="0.68" height="0.68" fill="#333"/>
<rect x="123.62" y="599.36" width="0.68" height="0.68" fill="#333"/>
<rect x="99.27" y="596.93" width="0.68" height="0.68" fill="#333"/>
<rect x="104.61" y="609.15" width="0.68" height="0.68" fill="#333"/>
<rect x="126.49" y="599.28" width="0.68" height="0.68" fill="#333"/>
<rect x="100.46" y="594.35" width="0.68" height="0.68" fill="#333"/>
<rect x="75.10" y="646.70" width="0.68" height="0.68" fill="#333"/>
<rect x="113.51" y="607.98" width="0.68" height="0.68" fill="#333"/>
<rect x="113.75" y="604.81" width="0.68" height="0.68" fill="#333"/>
<rect x="86.17" y="612.74" width="0.68" height="0.68" fill="#333"/>
<rect x="75.25" y="630.75" width="0.68" height="0.68" fill="#333"/>
<rect x="118.16" y="603.74" width="0.68" height="0.68" fill="#333"/>
<rect x="69.07" y="634.04" width="0.68" height="0.68" fill="#333"/>
<rect x="70.65" y="640.97" width="0.68" height="0.68" fill="#333"/>
<rect x="113.97" y="601.23" width="0.68" height="0.68" fill="#333"/>
<rect x="115.42" y="605.56" width="0.68" height="0.68" fill="#333"/>
<rect x="96.59" y="592.68" width="0.68" height="0.68" fill="#333"/>
<rect x="61.37" y="624.56" width="0.68" height="0.68" fill="#333"/>
<rect x="122.77" y="617.53" width="0.68" height="0.68" fill="#333"/>
<rect x="73.29" y="640.71" width="0.68" height="0.68" fill="#333"/>
<rect x="123.26" y="611.13" width="0.68" height="0.68" fill="#333"/>
<rect x="74.74" y="635.41" width="0.68" height="0.68" fill="#333"/>
<rect x="65.21" y="628.01" width="0.68" height="0.68" fill="#333"/>
<rect x="68.25" y="637.59" width="0.68" height="0.68" fill="#333"/>
<rect x="118.80" y="608.80" width="0.68" height="0.68" fill="#333"/>
<rect x="111.56" y="601.14" width="0.68" height="0.68" fill="#333"/>
<rect x="87.36" y="625.28" width="0.68" height="0.68" fill="#333"/>
<rect x="64.29" y="646.71" width="0.68" height="0.68" fill="#333"/>
<rect x="73.70" y="650.03" width="0.68" height="0.68" fill="#333"/>
<rect x="120.09" y="605.60" width="0.68" height="0.68" fill="#333"/>
<rect x="70.72" y="652.07" width="0.68" height="0.68" fill="#333"/>
<rect x="117.84" y="598.86" width="0.68" height="0.68" fill="#333"/>
<rect x="61.35" y="641.00" width="0.68" height="0.68" fill="#333"/>
<rect x="99.87" y="597.67" width="0.68" height="0.68" fill="#333"/>
<rect x="59.70" y="631.12" width="0.68" height="0.68" fill="#333"/>
<rect x="90.90" y="614.05" width="0.68" height="0.68" fill="#333"/>
<rect x="90.20" y="614.24" width="0.68" height="0.68" fill="#333"/>
<rect x="102.55" y="599.37" width="0.68" height="0.68" fill="#333"/>
<rect x="95.10" y="613.82" width="0.68" height="0.68" fill="#333"/>
<rect x="90.08" y="598.85" width="0.68" height="0.68" fill="#333"/>
<rect x="123.53" y="600.58" width="0.68" height="0.68" fill="#333"/>
<rect x="69.17" y="623.87" width="0.68" height="0.68" fill="#333"/>
<rect x="127.15" y="616.21" width="0.68" height="0.68" fill="#333"/>
<rect x="101.94" y="609.33" width="0.68" height="0.68" fill="#333"/>
<rect x="106.87" y="596.18" width="0.68" height="0.68" fill="#333"/>
<rect x="104.33" y="598.89" width="0.68" height="0.68" fill="#333"/>
<rect x="97.03" y="614.65" width="0.68" height="0.68" fill="#333"/>
<rect x="103.10" y="595.81" width="0.68" height="0.68" fill="#333"/>
<rect x="113.47" y="598.51" width="0.68" height="0.68" fill="#333"/>
<rect x="63.92" y="636.74" width="0.68" height="0.68" fill="#333"/>
<rect x="59.86" y="618.95" width="0.68" height="0.68" fill="#333"/>
<rect x="58.96" y="639.67" width="0.68" height="0.68" fill="#333"/>
<rect x="99.98" y="616.80" width="0.68" height="0.68" fill="#333"/>
<rect x="66.08" y="635.18" width="0.68" height="0.68" fill="#333"/>
<rect x="101.74" y="599.19" width="0.68" height="0.68" fill="#333"/>
<rect x="104.81" y="606.27" width="0.68" height="0.68" fill="#333"/>
<rect x="69.78" y="652.15" width="0.68" height="0.68" fill="#333"/>
<rect x="118.51" y="600.63" width="0.68" height="0.68" fill="#333"/>
<rect x="63.92" y="651.32" width="0.68" height="0.68" fill="#333"/>
<rect x="94.37" y="599.44" width="0.68" height="0.68" fill="#333"/>
<rect x="109.32" y="605.76" width="0.68" height="0.68" fill="#333"/>
<rect x="127.44" y="596.45" width="0.68" height="0.68" fill="#333"/>
<rect x="87.74" y="614.46" width="0.68" height="0.68" fill="#333"/>
<rect x="93.85" y="597.11" width="0.68" height="0.68" fill="#333"/>
<rect x="100.35" y="614.17" width="0.68" height="0.68" fill="#333"/>
<rect x="67.71" y="623.26" width="0.68" height="0.68" fill="#333"/>
<rect x="119.76" y="596.97" width="0.68" height="0.68" fill="#333"/>
<rect x="58.85" y="627.98" width="0.68" height="0.68" fill="#333"/>
<rect x="80.59" y="630.25" width="0.68" height="0.68" fill="#333"/>
<rect x="126.48" y="609.11" width="0.68" height="0.68" fill="#333"/>
<rect x="119.72" y="604.24" width="0.68" height="0.68" fill="#333"/>
<rect x="64.74" y="644.51" width="0.68" height="0.68" fill="#333"/>
<rect x="61.32" y="644.88" width="0.68" height="0.68" fill="#333"/>
<rect x="119.04" y="602.95" width="0.68" height="0.68" fill="#333"/>
<rect x="107.21" y="610.84" width="0.68" height="0.68" fill="#333"/>
<rect x="110.91" y="608.35" width="0.68" height="0.68" fill="#333"/>
<rect x="91.31" y="615.46" width="0.68" height="0.68" fill="#333"/>
<rect x="118.84" y="600.54" width="0.68" height="0.68" fill="#333"/>
<rect x="106.66" y="596.76" width="0.68" height="0.68" fill="#333"/>
<rect x="63.98" y="632.80" width="0.68" height="0.68" fill="#333"/>
<rect x="112.73" y="601.24" width="0.68" height="0.68" fill="#333"/>
<rect x="62.85" y="641.75" width="0.68" height="0.68" fill="#333"/>
<rect x="87.36" y="593.26" width="0.68" height="0.68" fill="#333"/>
<rect x="116.04" y="606.02" width="0.68" height="0.68" fill="#333"/>
<rect x="106.87" y="597.99" width="0.68" height="0.68" fill="#333"/>
<rect x="115.79" y="609.51" width="0.68" height="0.68" fill="#333"/>
<rect x="95.22" y="611.18" width="0.68" height="0.68" fill="#333"/>
<rect x="63.18" y="590.55" width="0.68" height="0.68" fill="#333"/>
<rect x="99.61" y="610.28" width="0.68" height="0.68" fill="#333"/>
<rect x="120.43" y="615.65" width="0.68" height="0.68" fill="#333"/>
<rect x="123.36" y="611.11" width="0.68" height="0.68" fill="#333"/>
<rect x="89.58" y="613.28" width="0.68" height="0.68" fill="#333"/>
<rect x="67.62" y="632.27" width="0.68" height="0.68" fill="#333"/>
<rect x="94.14" y="611.13" width="0.68" height="0.68" fill="#333"/>
<rect x="61.52" y="631.88" width="0.68" height="0.68" fill="#333"/>
<rect x="58.72" y="621.75" width="0.68" height="0.68" fill="#333"/>
<rect x="77.68" y="636.76" width="0.68" height="0.68" fill="#333"/>
<rect x="103.78" y="599.13" width="0.68" height="0.68" fill="#333"/>
<rect x="116.21" y="606.84" width="0.68" height="0.68" fill="#333"/>
<rect x="107.85" y="598.44" width="0.68" height="0.68" fill="#333"/>
<rect x="66.21" y="646.72" width="0.68" height="0.68" fill="#333"/>
<rect x="60.59" y="638.03" width="0.68" height="0.68" fill="#333"/>
<rect x="119.03" y="595.14" width="0.68" height="0.68" fill="#333"/>
<rect x="74.30" y="647.93" width="0.68" height="0.68" fill="#333"/>
<rect x="59.81" y="640.91" width="0.68" height="0.68" fill="#333"/>
<rect x="89.55" y="611.88" width="0.68" height="0.68" fill="#333"/>
<rect x="117.00" y="604.76" width="0.68" height="0.68" fill="#333"/>
<rect x="113.97" y="603.22" width="0.68" height="0.68" fill="#333"/>
<rect x="90.10" y="613.25" width="0.68" height="0.68" fill="#333"/>
<rect x="67.72" y="630.87" width="0.68" height="0.68" fill="#333"/>
<rect x="119.64" y="595.65" width="0.68" height="0.68" fill="#333"/>
<rect x="62.06" y="598.34" width="0.68" height="0.68" fill="#333"/>
<rect x="74.92" y="593.32" width="0.68" height="0.68" fill="#333"/>
<rect x="59.72" y="646.74" width="0.68" height="0.68" fill="#333"/>
<rect x="96.09" y="609.06" width="0.68" height="0.68" fill="#333"/>
<rect x="72.26" y="624.58" width="0.68" height="0.68" fill="#333"/>
<rect x="114.90" y="611.38" width="0.68" height="0.68" fill="#333"/>
<rect x="63.68" y="630.46" width="0.68" height="0.68" fill="#333"/>
<rect x="59.96" y="592.94" width="0.68" height="0.68" fill="#333"/>
<rect x="97.93" y="595.77" width="0.68" height="0.68" fill="#333"/>
<rect x="68.77" y="639.74" width="0.68" height="0.68" fill="#333"/>
<rect x="58.88" y="638.63" width="0.68" height="0.68" fill="#333"/>
<rect x="70.85" y="639.41" width="0.68" height="0.68" fill="#333"/>
<rect x="77.91" y="626.19" width="0.68" height="0.68" fill="#333"/>
<rect x="66.89" y="635.19" width="0.68" height="0.68" fill="#333"/>
<rect x="120.17" y="607.43" width="0.68" height="0.68" fill="#333"/>
<rect x="59.12" y="632.15" width="0.68" height="0.68" fill="#333"/>
<rect x="110.25" y="608.67" width="0.68" height="0.68" fill="#333"/>
<rect x="88.71" y="614.56" width="0.68" height="0.68" fill="#333"/>
<rect x="111.42" y="612.08" width="0.68" height="0.68" fill="#333"/>
<rect x="105.48" y="596.63" width="0.68" height="0.68" fill="#333"/>
<rect x="116.98" y="597.56" width="0.68" height="0.68" fill="#333"/>
<rect x="122.90" y="602.49" width="0.68" height="0.68" fill="#333"/>
<rect x="109.86" y="590.35" width="0.68" height="0.68" fill="#333"/>
<rect x="73.18" y="637.64" width="0.68" height="0.68" fill="#333"/>
<rect x="98.07" y="611.51" width="0.68" height="0.68" fill="#333"/>
<rect x="63.72" y="621.88" width="0.68" height="0.68" fill="#333"/>
<rect x="98.12" y="614.82" width="0.68" height="0.68" fill="#333"/>
<rect x="117.18" y="600.45" width="0.68" height="0.68" fill="#333"/>
<rect x="72.19" y="629.88" width="0.68" height="0.68" fill="#333"/>
<rect x="59.27" y="594.37" width="0.68" height="0.68" fill="#333"/>
<rect x="92.50" y="609.74" width="0.68" height="0.68" fill="#333"/>
<rect x="121.25" y="614.84" width="0.68" height="0.68" fill="#333"/>
<rect x="65.16" y="627.11" width="0.68" height="0.68" fill="#333"/>
<rect x="66.33" y="636.61" width="0.68" height="0.68" fill="#333"/>
<rect x="85.50" y="612.87" width="0.68" height="0.68" fill="#333"/>
<rect x="87.87" y="596.18" width="0.68" height="0.68" fill="#333"/>
<rect x="97.64" y="595.69" width="0.68" height="0.68" fill="#333"/>
<rect x="116.15" y="609.80" width="0.68" height="0.68" fill="#333"/>
<rect x="117.00" y="618.96" width="0.68" height="0.68" fill="#333"/>
<rect x="68.34" y="635.53" width="0.68" height="0.68" fill="#333"/>
<rect x="59.59" y="619.00" width="0.68" height="0.68" fill="#333"/>
<rect x="103.30" y="599.97" width="0.68" height="0.68" fill="#333"/>
<rect x="116.50" y="603.96" width="0.68" height="0.68" fill="#333"/>
<rect x="69.36" y="645.03" width="0.68" height="0.68" fill="#333"/>
<rect x="96.32" y="598.68" width="0.68" height="0.68" fill="#333"/>
<rect x="117.55" y="604.00" width="0.68" height="0.68" fill="#333"/>
<rect x="62.89" y="627.52" width="0.68" height="0.68" fill="#333"/>
<rect x="112.56" y="599.92" width="0.68" height="0.68" fill="#333"/>
<rect x="76.10" y="628.25" width="0.68" height="0.68" fill="#333"/>
<rect x="68.03" y="626.14" width="0.68" height="0.68" fill="#333"/>
<rect x="70.23" y="641.32" width="0.68" height="0.68" fill="#333"/>
<rect x="103.47" y="610.89" width="0.68" height="0.68" fill="#333"/>
<rect x="119.59" y="593.97" width="0.68" height="0.68" fill="#333"/>
<rect x="85.42" y="599.47" width="0.68" height="0.68" fill="#333"/>
<rect x="68.15" y="630.60" width="0.68" height="0.68" fill="#333"/>
<rect x="118.37" y="600.22" width="0.68" height="0.68" fill="#333"/>
<rect x="61.63" y="638.98" width="0.68" height="0.68" fill="#333"/>
<rect x="114.72" y="604.76" width="0.68" height="0.68" fill="#333"/>
<rect x="60.02" y="637.11" width="0.68" height="0.68" fill="#333"/>
<rect x="68.99" y="632.29" width="0.68" height="0.68" fill="#333"/>
<rect x="64.57" y="646.86" width="0.68" height="0.68" fill="#333"/>
<rect x="103.57" y="613.33" width="0.68" height="0.68" fill="#333"/>
<rect x="117.83" y="610.45" width="0.68" height="0.68" fill="#333"/>
<rect x="122.92" y="607.06" width="0.68" height="0.68" fill="#333"/>
<rect x="108.60" y="605.68" width="0.68" height="0.68" fill="#333"/>
<rect x="111.43" y="600.95" width="0.68" height="0.68" fill="#333"/>
<rect x="65.78" y="639.34" width="0.68" height="0.68" fill="#333"/>
<rect x="98.84" y="614.91" width="0.68" height="0.68" fill="#333"/>
<rect x="59.84" y="641.52" width="0.68" height="0.68" fill="#333"/>
<rect x="103.92" y="607.41" width="0.68" height="0.68" fill="#333"/>
<rect x="119.82" y="607.55" width="0.68" height="0.68" fill="#333"/>
<rect x="71.72" y="629.52" width="0.68" height="0.68" fill="#333"/>
<rect x="99.35" y="608.91" width="0.68" height="0.68" fill="#333"/>
<rect x="63.99" y="635.95" width="0.68" height="0.68" fill="#333"/>
<rect x="86.74" y="617.07" width="0.68" height="0.68" fill="#333"/>
<rect x="112.89" y="598.36" width="0.68" height="0.68" fill="#333"/>
<rect x="61.64" y="636.52" width="0.68" height="0.68" fill="#333"/>
<rect x="78.49" y="622.88" width="0.68" height="0.68" fill="#333"/>
<rect x="102.65" y="594.78" width="0.68" height="0.68" fill="#333"/>
<rect x="93.35" y="609.43" width="0.68" height="0.68" fill="#333"/>
<rect x="90.33" y="610.82" width="0.68" height="0.68" fill="#333"/>
<rect x="69.83" y="650.48" width="0.68" height="0.68" fill="#333"/>
<rect x="121.31" y="602.85" width="0.68" height="0.68" fill="#333"/>
<rect x="110.22" y="609.12" width="0.68" height="0.68" fill="#333"/>
<rect x="63.06" y="626.68" width="0.68" height="0.68" fill="#333"/>
<rect x="58.30" y="624.24" width="0.68" height="0.68" fill="#333"/>
<rect x="72.27" y="623.59" width="0.68" height="0.68" fill="#333"/>
<rect x="106.05" y="607.62" width="0.68" height="0.68" fill="#333"/>
<rect x="81.54" y="597.82" width="0.68" height="0.68" fill="#333"/>
<rect x="98.15" y="609.90" width="0.68" height="0.68" fill="#333"/>
<rect x="70.25" y="635.52" width="0.68" height="0.68" fill="#333"/>
<rect x="69.09" y="627.25" width="0.68" height="0.68" fill="#333"/>
<rect x="73.11" y="639.86" width="0.68" height="0.68" fill="#333"/>
<rect x="113.56" y="602.20" width="0.68" height="0.68" fill="#333"/>
<rect x="110.58" y="609.99" width="0.68" height="0.68" fill="#333"/>
<rect x="120.57" y="605.06" width="0.68" height="0.68" fill="#333"/>
<rect x="77.23" y="626.77" width="0.68" height="0.68" fill="#333"/>
<rect x="102.00" y="614.51" width="0.68" height="0.68" fill="#333"/>
<rect x="86.77" y="612.61" width="0.68" height="0.68" fill="#333"/>
<rect x="120.22" y="598.87" width="0.68" height="0.68" fill="#333"/>
<rect x="60.31" y="620.62" width="0.68" height="0.68" fill="#333"/>
<rect x="119.32" y="603.09" width="0.68" height="0.68" fill="#333"/>
<rect x="68.81" y="595.14" width="0.68" height="0.68" fill="#333"/>
<rect x="126.73" y="611.79" width="0.68" height="0.68" fill="#333"/>
<rect x="128.54" y="598.16" width="0.68" height="0.68" fill="#333"/>
<rect x="70.47" y="636.80" width="0.68" height="0.68" fill="#333"/>
<rect x="88.92" y="599.59" width="0.68" height="0.68" fill="#333"/>
<rect x="63.05" y="633.55" width="0.68" height="0.68" fill="#333"/>
<rect x="109.85" y="612.89" width="0.68" height="0.68" fill="#333"/>
<rect x="106.63" y="611.21" width="0.68" height="0.68" fill="#333"/>
<rect x="91.64" y="613.17" width="0.68" height="0.68" fill="#333"/>
<rect x="117.91" y="596.21" width="0.68" height="0.68" fill="#333"/>
<rect x="85.14" y="614.13" width="0.68" height="0.68" fill="#333"/>
<rect x="90.53" y="595.50" width="0.68" height="0.68" fill="#333"/>
<rect x="61.44" y="621.85" width="0.68" height="0.68" fill="#333"/>
<rect x="99.26" y="609.10" width="0.68" height="0.68" fill="#333"/>
<rect x="107.37" y="607.75" width="0.68" height="0.68" fill="#333"/>
<rect x="123.03" y="610.90" width="0.68" height="0.68" fill="#333"/>
<rect x="67.20" y="640.17" width="0.68" height="0.68" fill="#333"/>
<rect x="64.99" y="626.07" width="0.68" height="0.68" fill="#333"/>
<rect x="65.83" y="641.71" width="0.68" height="0.68" fill="#333"/>
<rect x="63.01" y="640.25" width="0.68" height="0.68" fill="#333"/>
<rect x="67.53" y="640.34" width="0.68" height="0.68" fill="#333"/>
<rect x="103.78" y="598.47" width="0.68" height="0.68" fill="#333"/>
<rect x="74.38" y="624.65" width="0.68" height="0.68" fill="#333"/>
<rect x="121.23" y="602.84" width="0.68" height="0.68" fill="#333"/>
<rect x="114.32" y="602.94" width="0.68" height="0.68" fill="#333"/>
<rect x="58.93" y="629.69" width="0.68" height="0.68" fill="#333"/>
<rect x="112.62" y="610.12" width="0.68" height="0.68" fill="#333"/>
<rect x="69.90" y="634.09" width="0.68" height="0.68" fill="#333"/>
<rect x="96.79" y="611.61" width="0.68" height="0.68" fill="#333"/>
<rect x="124.06" y="597.29" width="0.68" height="0.68" fill="#333"/>
<rect x="110.06" y="597.31" width="0.68" height="0.68" fill="#333"/>
<rect x="82.17" y="594.06" width="0.68" height="0.68" fill="#333"/>
<rect x="81.60" y="595.76" width="0.68" height="0.68" fill="#333"/>
<rect x="120.91" y="598.45" width="0.68" height="0.68" fill="#333"/>
<rect x="66.54" y="634.02" width="0.68" height="0.68" fill="#333"/>
<rect x="65.38" y="637.54" width="0.68" height="0.68" fill="#333"/>
<rect x="108.25" y="598.95" width="0.68" height="0.68" fill="#333"/>
<rect x="64.45" y="627.02" width="0.68" height="0.68" fill="#333"/>
<rect x="94.85" y="610.16" width="0.68" height="0.68" fill="#333"/>
<rect x="114.51" y="600.90" width="0.68" height="0.68" fill="#333"/>
<rect x="94.67" y="610.24" width="0.68" height="0.68" fill="#333"/>
<rect x="119.27" y="603.05" width="0.68" height="0.68" fill="#333"/>
<rect x="59.11" y="642.12" width="0.68" height="0.68" fill="#333"/>
<rect x="121.46" y="606.71" width="0.68" height="0.68" fill="#333"/>
<rect x="120.63" y="604.15" width="0.68" height="0.68" fill="#333"/>
<rect x="85.82" y="615.25" width="0.68" height="0.68" fill="#333"/>
<rect x="115.87" y="601.52" width="0.68" height="0.68" fill="#333"/>
<rect x="102.76" y="608.86" width="0.68" height="0.68" fill="#333"/>
<rect x="95.09" y="609.46" width="0.68" height="0.68" fill="#333"/>
<rect x="109.90" y="607.73" width="0.68" height="0.68" fill="#333"/>
<rect x="98.58" y="598.07" width="0.68" height="0.68" fill="#333"/>
<rect x="120.02" y="613.41" width="0.68" height="0.68" fill="#333"/>
<rect x="89.49" y="614.13" width="0.68" height="0.68" fill="#333"/>
<rect x="89.17" y="617.34" width="0.68" height="0.68" fill="#333"/>
<rect x="116.72" y="606.87" width="0.68" height="0.68" fill="#333"/>
<rect x="124.31" y="601.46" width="0.68" height="0.68" fill="#333"/>
<rect x="94.73" y="591.80" width="0.68" height="0.68" fill="#333"/>
<rect x="67.59" y="626.46" width="0.68" height="0.68" fill="#333"/>
<rect x="97.94" y="609.22" width="0.68" height="0.68" fill="#333"/>
<rect x="126.45" y="601.45" width="0.68" height="0.68" fill="#333"/>
<rect x="67.78" y="647.48" width="0.68" height="0.68" fill="#333"/>
<rect x="90.67" y="613.74" width="0.68" height="0.68" fill="#333"/>
<rect x="112.82" y="600.64" width="0.68" height="0.68" fill="#333"/>
<rect x="114.38" y="613.78" width="0.68" height="0.68" fill="#333"/>
<rect x="119.89" y="604.39" width="0.68" height="0.68" fill="#333"/>
<rect x="66.66" y="637.91" width="0.68" height="0.68" fill="#333"/>
<rect x="102.04" y="597.16" width="0.68" height="0.68" fill="#333"/>
<rect x="81.74" y="615.68" width="0.68" height="0.68" fill="#333"/>
<rect x="111.44" y="600.44" width="0.68" height="0.68" fill="#333"/>
<rect x="64.18" y="635.91" width="0.68" height="0.68" fill="#333"/>
<rect x="63.20" y="648.24" width="0.68" height="0.68" fill="#333"/>
<rect x="64.69" y="623.18" width="0.68" height="0.68" fill="#333"/>
<rect x="59.14" y="640.40" width="0.68" height="0.68" fill="#333"/>
<rect x="65.95" y="642.53" width="0.68" height="0.68" fill="#333"/>
<rect x="92.67" y="613.35" width="0.68" height="0.68" fill="#333"/>
<rect x="117.24" y="595.70" width="0.68" height="0.68" fill="#333"/>
<rect x="95.90" y="618.10" width="0.68" height="0.68" fill="#333"/>
<rect x="105.38" y="595.25" width="0.68" height="0.68" fill="#333"/>
<rect x="60.72" y="592.24" width="0.68" height="0.68" fill="#333"/>
<rect x="97.89" y="616.79" width="0.68" height="0.68" fill="#333"/>
<rect x="99.34" y="609.89" width="0.68" height="0.68" fill="#333"/>
<rect x="80.65" y="598.48" width="0.68" height="0.68" fill="#333"/>
<rect x="96.52" y="614.99" width="0.68" height="0.68" fill="#333"/>
<rect x="121.19" y="617.81" width="0.68" height="0.68" fill="#333"/>
<rect x="74.29" y="633.41" width="0.68" height="0.68" fill="#333"/>
<rect x="80.85" y="596.68" width="0.68" height="0.68" fill="#333"/>
<rect x="100.94" y="614.93" width="0.68" height="0.68" fill="#333"/>
<rect x="65.58" y="630.79" width="0.68" height="0.68" fill="#333"/>
<rect x="93.57" y="615.45" width="0.68" height="0.68" fill="#333"/>
<rect x="69.76" y="632.11" width="0.68" height="0.68" fill="#333"/>
<rect x="58.43" y="627.84" width="0.68" height="0.68" fill="#333"/>
<rect x="124.59" y="598.17" width="0.68" height="0.68" fill="#333"/>
<rect x="71.87" y="628.91" width="0.68" height="0.68" fill="#333"/>
<rect x="71.50" y="626.36" width="0.68" height="0.68" fill="#333"/>
<rect x="125.25" y="604.72" width="0.68" height="0.68" fill="#333"/>
<rect x="123.91" y="615.22" width="0.68" height="0.68" fill="#333"/>
<rect x="93.86" y="614.10" width="0.68" height="0.68" fill="#333"/>
<rect x="118.51" y="597.64" width="0.68" height="0.68" fill="#333"/>
<rect x="60.24" y="636.89" width="0.68" height="0.68" fill="#333"/>
<rect x="100.35" y="615.28" width="0.68" height="0.68" fill="#333"/>
<rect x="82.60" y="598.70" width="0.68" height="0.68" fill="#333"/>
<rect x="84.53" y="598.11" width="0.68" height="0.68" fill="#333"/>
<rect x="101.38" y="607.65" width="0.68" height="0.68" fill="#333"/>
<rect x="118.57" y="598.44" width="0.68" height="0.68" fill="#333"/>
<rect x="69.98" y="636.36" width="0.68" height="0.68" fill="#333"/>
<rect x="65.27" y="626.64" width="0.68" height="0.68" fill="#333"/>
<rect x="115.22" y="614.20" width="0.68" height="0.68" fill="#333"/>
<rect x="107.69" y="613.38" width="0.68" height="0.68" fill="#333"/>
<rect x="113.70" y="594.86" width="0.68" height="0.68" fill="#333"/>
<rect x="74.23" y="595.37" width="0.68" height="0.68" fill="#333"/>
<rect x="118.10" y="608.88" width="0.68" height="0.68" fill="#333"/>
<rect x="71.61" y="632.62" width="0.68" height="0.68" fill="#333"/>
<rect x="92.85" y="595.65" width="0.68" height="0.68" fill="#333"/>
<rect x="61.44" y="644.61" width="0.68" height="0.68" fill="#333"/>
<rect x="126.69" y="602.79" width="0.68" height="0.68" fill="#333"/>
<rect x="91.85" y="619.33" width="0.68" height="0.68" fill="#333"/>
<rect x="111.88" y="604.56" width="0.68" height="0.68" fill="#333"/>
<rect x="113.67" y="601.05" width="0.68" height="0.68" fill="#333"/>
<rect x="97.95" y="613.08" width="0.68" height="0.68" fill="#333"/>
<rect x="101.44" y="599.62" width="0.68" height="0.68" fill="#333"/>
<rect x="67.38" y="632.12" width="0.68" height="0.68" fill="#333"/>
<rect x="110.34" y="599.28" width="0.68" height="0.68" fill="#333"/>
<rect x="67.26" y="633.72" width="0.68" height="0.68" fill="#333"/>
<rect x="112.43" y="604.84" width="0.68" height="0.68" fill="#333"/>
<rect x="118.64" y="606.60" width="0.68" height="0.68" fill="#333"/>
<rect x="61.28" y="641.75" width="0.68" height="0.68" fill="#333"/>
<rect x="67.57" y="640.47" width="0.68" height="0.68" fill="#333"/>
<rect x="66.69" y="633.56" width="0.68" height="0.68" fill="#333"/>
<rect x="72.53" y="627.00" width="0.68" height="0.68" fill="#333"/>
<rect x="61.99" y="589.04" width="0.68" height="0.68" fill="#333"/>
<rect x="81.26" y="639.71" width="0.68" height="0.68" fill="#333"/>
<rect x="61.96" y="629.74" width="0.68" height="0.68" fill="#333"/>
<rect x="64.61" y="639.74" width="0.68" height="0.68" fill="#333"/>
<rect x="119.59" y="614.73" width="0.68" height="0.68" fill="#333"/>
<rect x="112.75" y="603.57" width="0.68" height="0.68" fill="#333"/>
<rect x="97.63" y="608.08" width="0.68" height="0.68" fill="#333"/>
<rect x="100.37" y="618.13" width="0.68" height="0.68" fill="#333"/>
<rect x="121.25" y="604.62" width="0.68" height="0.68" fill="#333"/>
<rect x="112.87" y="616.73" width="0.68" height="0.68" fill="#333"/>
<rect x="98.52" y="609.12" width="0.68" height="0.68" fill="#333"/>
<rect x="72.68" y="633.51" width="0.68" height="0.68" fill="#333"/>
<rect x="116.58" y="616.09" width="0.68" height="0.68" fill="#333"/>
<rect x="116.30" y="607.71" width="0.68" height="0.68" fill="#333"/>
<rect x="63.82" y="636.34" width="0.68" height="0.68" fill="#333"/>
<rect x="66.25" y="630.70" width="0.68" height="0.68" fill="#333"/>
<rect x="97.34" y="598.19" width="0.68" height="0.68" fill="#333"/>
<rect x="73.25" y="644.58" width="0.68" height="0.68" fill="#333"/>
<rect x="58.41" y="643.89" width="0.68" height="0.68" fill="#333"/>
<rect x="59.84" y="644.90" width="0.68" height="0.68" fill="#333"/>
<rect x="58.57" y="649.20" width="0.68" height="0.68" fill="#333"/>
<rect x="116.72" y="603.80" width="0.68" height="0.68" fill="#333"/>
<rect x="101.79" y="594.83" width="0.68" height="0.68" fill="#333"/>
<rect x="98.75" y="598.42" width="0.68" height="0.68" fill="#333"/>
<rect x="71.52" y="631.01" width="0.68" height="0.68" fill="#333"/>
<rect x="68.64" y="629.33" width="0.68" height="0.68" fill="#333"/>
<rect x="105.65" y="614.64" width="0.68" height="0.68" fill="#333"/>
<rect x="62.23" y="621.86" width="0.68" height="0.68" fill="#333"/>
<rect x="60.56" y="629.75" width="0.68" height="0.68" fill="#333"/>
<rect x="61.05" y="637.89" width="0.68" height="0.68" fill="#333"/>
<rect x="90.51" y="610.48" width="0.68" height="0.68" fill="#333"/>
<rect x="63.03" y="597.25" width="0.68" height="0.68" fill="#333"/>
<rect x="69.11" y="631.72" width="0.68" height="0.68" fill="#333"/>
<rect x="126.47" y="610.67" width="0.68" height="0.68" fill="#333"/>
<rect x="117.37" y="609.03" width="0.68" height="0.68" fill="#333"/>
<rect x="93.56" y="610.80" width="0.68" height="0.68" fill="#333"/>
<rect x="120.51" y="607.50" width="0.68" height="0.68" fill="#333"/>
<rect x="58.85" y="643.37" width="0.68" height="0.68" fill="#333"/>
<rect x="113.07" y="610.82" width="0.68" height="0.68" fill="#333"/>
<rect x="78.68" y="597.21" width="0.68" height="0.68" fill="#333"/>
<rect x="87.24" y="615.31" width="0.68" height="0.68" fill="#333"/>
<rect x="69.55" y="642.56" width="0.68" height="0.68" fill="#333"/>
<rect x="114.03" y="599.97" width="0.68" height="0.68" fill="#333"/>
<rect x="124.56" y="602.71" width="0.68" height="0.68" fill="#333"/>
<rect x="105.69" y="616.30" width="0.68" height="0.68" fill="#333"/>
<rect x="66.99" y="637.18" width="0.68" height="0.68" fill="#333"/>
<rect x="112.95" y="612.01" width="0.68" height="0.68" fill="#333"/>
<rect x="95.62" y="598.83" width="0.68" height="0.68" fill="#333"/>
<rect x="62.66" y="625.74" width="0.68" height="0.68" fill="#333"/>
<rect x="97.36" y="597.58" width="0.68" height="0.68" fill="#333"/>
<rect x="95.47" y="617.32" width="0.68" height="0.68" fill="#333"/>
<rect x="69.92" y="624.57" width="0.68" height="0.68" fill="#333"/>
<rect x="76.33" y="634.42" width="0.68" height="0.68" fill="#333"/>
<path d="M70.3,623.4 L69.6,623.5 L68.9,623.5 L68.2,623.5 L67.5,623.4 L67.2,623.4 L66.5,623.2 L65.9,623.1 L65.4,622.9 L64.9,622.7 L64.4,622.5 L64.0,622.3 L63.5,622.0 L63.0,621.7 L62.6,621.5 L62.2,621.2 L61.9,620.9 L61.5,620.6 L61.2,620.2 L60.8,619.9 L60.5,619.5 L60.2,619.1 L59.8,618.5 L59.6,618.1 L59.5,617.6 L59.3,617.1 L59.1,616.4 L59.1,616.1 L59.0,615.4 L58.9,614.6 L58.8,614.0 L58.8,613.2 L58.8,612.6 L58.7,612.2 L58.7,611.5 L58.7,610.8 L58.7,610.1 L58.7,609.4 L58.7,608.7 L58.7,608.0 L58.8,607.4 L58.8,607.0 L58.8,606.2 L58.9,605.6 L59.0,604.9 L59.0,604.1 L59.1,603.8 L59.2,603.1 L59.4,602.4 L59.6,602.1 L59.8,601.5 L60.1,601.0 L60.3,600.6 L60.6,600.3 L61.0,600.0 L61.3,599.6 L61.7,599.2 L62.1,598.9 L62.6,598.6 L63.0,598.3 L63.3,598.1 L63.7,597.9 L64.4,597.5 L64.7,597.4 L65.2,597.1 L65.8,597.0 L66.4,596.8 L66.8,596.7 L67.5,596.6 L68.2,596.5 L68.5,596.4 L69.2,596.4 L70.0,596.4 L70.3,596.5 L71.0,596.5 L71.7,596.6 L72.4,596.8 L72.8,596.9 L73.5,597.0 L73.8,597.1 L74.5,597.4 L74.9,597.5 L75.5,597.7 L75.9,597.9 L76.6,598.1 L77.0,598.2 L77.7,598.5 L78.0,598.6 L78.7,598.9 L79.0,599.0 L79.8,599.2 L80.1,599.3 L80.8,599.5 L81.2,599.6 L81.8,599.8 L82.5,599.9 L82.9,600.0 L83.6,600.0 L84.3,600.1 L85.0,600.1 L85.7,600.2 L86.4,600.2 L87.1,600.2 L87.8,600.2 L88.5,600.1 L89.2,600.1 L89.9,600.1 L90.6,600.2 L91.3,600.2 L92.0,600.2 L92.7,600.2 L93.4,600.3 L94.1,600.3 L94.8,600.3 L95.5,600.3 L96.2,600.3 L96.9,600.3 L97.6,600.3 L98.3,600.3 L99.0,600.3 L99.3,600.3 L100.0,600.3 L100.8,600.4 L101.5,600.4 L102.2,600.4 L102.8,600.5 L103.5,600.5 L104.2,600.5 L105.0,600.6 L105.7,600.6 L106.3,600.6 L107.0,600.6 L107.8,600.6 L108.1,600.7 L108.8,600.7 L109.5,600.8 L110.1,601.0 L110.5,601.1 L111.1,601.4 L111.6,601.6 L112.0,601.8 L112.3,602.1 L112.7,602.7 L112.8,603.1 L112.7,603.8 L112.4,604.1 L112.1,604.5 L111.7,604.9 L111.2,605.1 L110.9,605.3 L110.2,605.5 L109.8,605.6 L109.2,605.8 L108.7,605.9 L108.1,606.0 L107.4,606.1 L106.8,606.2 L106.3,606.3 L105.7,606.5 L105.0,606.6 L104.6,606.7 L103.9,606.9 L103.5,607.0 L102.8,607.1 L102.3,607.3 L101.8,607.4 L101.1,607.6 L100.8,607.7 L100.0,607.8 L99.3,608.0 L99.0,608.0 L98.3,608.2 L97.6,608.4 L97.2,608.4 L96.5,608.6 L96.2,608.7 L95.5,609.0 L95.2,609.1 L94.5,609.4 L94.1,609.5 L93.5,609.8 L93.0,609.9 L92.6,610.1 L92.0,610.3 L91.6,610.5 L91.0,610.7 L90.5,610.8 L89.9,611.0 L89.3,611.1 L88.8,611.3 L88.2,611.5 L87.8,611.6 L87.2,611.9 L86.8,612.0 L86.4,612.2 L85.8,612.6 L85.3,612.8 L85.0,613.0 L84.7,613.3 L84.3,613.6 L83.8,614.0 L83.4,614.3 L83.1,614.6 L82.7,615.0 L82.4,615.4 L82.0,615.7 L81.7,616.1 L81.3,616.4 L81.0,616.8 L80.6,617.1 L80.3,617.5 L79.9,617.8 L79.6,618.1 L79.2,618.5 L78.9,618.9 L78.5,619.2 L78.1,619.6 L77.7,619.9 L77.3,620.2 L77.0,620.5 L76.6,620.8 L76.2,621.0 L75.9,621.3 L75.3,621.6 L74.8,621.9 L74.5,622.1 L74.0,622.4 L73.5,622.6 L73.1,622.8 L72.4,623.0 L72.0,623.1 L71.3,623.3 L70.7,623.4 L70.3,623.4" fill="none" stroke="#0a0a0a" stroke-width="0.8"/>
<path d="M71.0,621.0 L70.3,621.1 L69.6,621.2 L68.9,621.2 L68.2,621.2 L67.5,621.1 L66.9,621.0 L66.5,620.8 L65.8,620.6 L65.4,620.5 L65.0,620.2 L64.4,619.9 L64.0,619.7 L63.7,619.5 L63.3,619.2 L62.9,618.9 L62.5,618.5 L62.1,618.1 L61.8,617.8 L61.5,617.5 L61.2,617.0 L60.9,616.5 L60.6,616.1 L60.4,615.7 L60.2,615.1 L60.0,614.6 L59.8,614.0 L59.7,613.6 L59.6,612.9 L59.5,612.2 L59.5,611.5 L59.4,611.1 L59.4,610.5 L59.4,609.8 L59.4,609.1 L59.4,608.4 L59.5,608.0 L59.6,607.3 L59.7,606.6 L59.8,605.9 L59.9,605.6 L60.1,604.9 L60.3,604.5 L60.5,604.1 L60.8,603.5 L61.1,603.1 L61.3,602.8 L61.6,602.4 L61.9,602.0 L62.2,601.7 L62.6,601.3 L63.0,601.0 L63.4,600.6 L63.9,600.3 L64.4,600.0 L64.7,599.8 L65.2,599.6 L65.8,599.3 L66.1,599.2 L66.8,599.0 L67.3,598.9 L67.8,598.8 L68.5,598.7 L69.2,598.7 L70.0,598.7 L70.7,598.8 L71.3,598.9 L71.7,598.9 L72.4,599.1 L73.0,599.2 L73.5,599.4 L74.0,599.6 L74.5,599.8 L74.9,600.0 L75.5,600.2 L75.9,600.4 L76.6,600.6 L77.0,600.8 L77.4,601.0 L78.0,601.3 L78.3,601.4 L79.0,601.6 L79.4,601.7 L80.1,601.9 L80.6,602.1 L81.2,602.2 L81.8,602.3 L82.5,602.4 L82.9,602.4 L83.6,602.5 L84.3,602.5 L85.0,602.5 L85.7,602.5 L86.4,602.6 L87.1,602.6 L87.8,602.6 L88.5,602.6 L89.2,602.7 L89.9,602.7 L90.2,602.8 L91.0,602.9 L91.7,603.0 L92.3,603.1 L92.7,603.2 L93.4,603.3 L94.1,603.4 L94.5,603.5 L95.2,603.6 L95.8,603.7 L96.5,603.7 L97.2,603.7 L98.0,603.8 L98.7,603.8 L99.0,603.9 L99.0,604.3 L98.5,604.5 L98.0,604.6 L97.2,604.8 L96.9,604.9 L96.2,605.1 L95.8,605.2 L95.2,605.6 L94.8,605.7 L94.5,605.9 L93.9,606.2 L93.4,606.5 L93.0,606.7 L92.6,607.0 L92.0,607.3 L91.7,607.5 L91.3,607.6 L90.6,608.0 L90.2,608.1 L89.6,608.4 L89.2,608.5 L88.6,608.7 L88.2,608.8 L87.5,609.1 L87.1,609.2 L86.4,609.4 L86.0,609.5 L85.5,609.8 L85.0,609.9 L84.7,610.1 L84.0,610.5 L83.6,610.7 L83.2,610.9 L82.9,611.2 L82.5,611.5 L82.1,611.9 L81.8,612.2 L81.4,612.6 L81.1,612.9 L80.8,613.3 L80.5,613.7 L80.1,614.1 L79.8,614.5 L79.4,615.0 L79.1,615.4 L78.8,615.7 L78.4,616.1 L78.1,616.4 L77.8,616.8 L77.5,617.1 L77.1,617.5 L76.7,617.8 L76.3,618.1 L75.9,618.5 L75.5,618.8 L75.2,619.1 L74.8,619.3 L74.5,619.6 L73.9,619.9 L73.5,620.1 L73.1,620.3 L72.4,620.6 L72.0,620.7 L71.3,620.9 L71.0,621.0" fill="none" stroke="#0a0a0a" stroke-width="0.8"/>
<path d="M71.0,618.9 L70.3,619.1 L69.6,619.2 L68.9,619.2 L68.2,619.1 L67.5,619.0 L66.8,618.9 L66.5,618.7 L65.9,618.5 L65.4,618.2 L65.0,618.0 L64.7,617.8 L64.2,617.5 L63.8,617.1 L63.4,616.8 L63.1,616.4 L62.8,616.1 L62.6,615.7 L62.2,615.2 L61.9,614.6 L61.7,614.3 L61.6,613.9 L61.3,613.2 L61.2,612.9 L61.0,612.2 L60.9,611.7 L60.8,611.1 L60.7,610.5 L60.7,609.8 L60.7,609.1 L60.7,608.4 L60.9,607.7 L60.9,607.3 L61.1,606.6 L61.2,606.2 L61.5,605.6 L61.7,605.2 L61.9,604.9 L62.2,604.3 L62.6,603.8 L62.9,603.5 L63.2,603.1 L63.6,602.8 L64.0,602.4 L64.4,602.1 L64.7,601.9 L65.0,601.6 L65.6,601.4 L66.1,601.1 L66.5,601.0 L67.2,600.7 L67.6,600.6 L68.2,600.5 L68.9,600.5 L69.6,600.4 L70.3,600.5 L71.0,600.6 L71.4,600.6 L72.0,600.8 L72.7,601.0 L73.1,601.1 L73.6,601.4 L74.2,601.6 L74.5,601.8 L75.1,602.1 L75.5,602.3 L75.9,602.5 L76.3,602.8 L76.9,603.1 L77.3,603.3 L77.7,603.5 L78.3,603.8 L78.7,604.0 L79.1,604.1 L79.8,604.4 L80.2,604.5 L80.8,604.7 L81.5,604.8 L81.8,604.9 L82.5,605.1 L83.0,605.2 L83.6,605.4 L84.0,605.6 L84.5,605.9 L84.3,606.6 L84.0,607.0 L83.6,607.2 L83.2,607.5 L82.9,607.7 L82.4,608.0 L82.0,608.4 L81.5,608.7 L81.2,609.0 L80.8,609.4 L80.5,609.7 L80.2,610.1 L79.9,610.5 L79.7,610.8 L79.4,611.2 L79.0,611.7 L78.8,612.2 L78.5,612.6 L78.3,612.9 L78.0,613.4 L77.7,613.8 L77.3,614.3 L77.0,614.6 L76.8,615.0 L76.5,615.4 L76.1,615.7 L75.8,616.1 L75.4,616.4 L75.0,616.8 L74.6,617.1 L74.2,617.4 L73.8,617.7 L73.5,617.9 L73.0,618.1 L72.4,618.5 L72.0,618.6 L71.3,618.8 L71.0,618.9" fill="none" stroke="#0a0a0a" stroke-width="0.8"/>
<path d="M71.0,616.8 L70.3,616.9 L69.6,617.0 L68.9,617.0 L68.2,617.0 L67.5,616.8 L67.2,616.7 L66.5,616.4 L66.1,616.2 L65.8,616.0 L65.3,615.7 L64.8,615.4 L64.5,615.0 L64.1,614.6 L63.9,614.3 L63.6,614.0 L63.3,613.5 L63.0,612.9 L62.8,612.6 L62.6,612.0 L62.4,611.5 L62.3,610.8 L62.2,610.5 L62.1,609.8 L62.1,609.1 L62.2,608.4 L62.2,607.9 L62.4,607.3 L62.6,606.6 L62.7,606.2 L63.0,605.8 L63.3,605.2 L63.5,604.9 L63.8,604.5 L64.1,604.1 L64.5,603.8 L64.9,603.5 L65.4,603.1 L65.8,602.9 L66.1,602.7 L66.7,602.4 L67.2,602.2 L67.8,602.1 L68.2,602.0 L68.9,601.9 L69.6,601.9 L70.3,601.9 L71.0,602.0 L71.3,602.1 L72.0,602.3 L72.4,602.4 L73.1,602.7 L73.5,602.9 L73.9,603.1 L74.4,603.5 L74.8,603.8 L75.2,604.0 L75.5,604.3 L75.9,604.7 L76.2,605.0 L76.6,605.4 L77.0,605.9 L77.2,606.2 L77.4,606.6 L77.6,607.3 L77.7,607.6 L77.7,608.4 L77.7,608.9 L77.6,609.4 L77.4,610.1 L77.3,610.5 L77.0,611.1 L76.8,611.5 L76.6,612.0 L76.3,612.6 L76.0,612.9 L75.8,613.2 L75.5,613.6 L75.2,614.0 L74.8,614.4 L74.5,614.7 L74.2,615.0 L73.7,615.4 L73.3,615.7 L72.8,616.0 L72.4,616.2 L72.0,616.4 L71.3,616.7 L71.0,616.8" fill="none" stroke="#0a0a0a" stroke-width="0.8"/>
<path d="M69.6,615.4 L69.1,615.4 L68.5,615.3 L67.8,615.2 L67.3,615.0 L66.8,614.8 L66.5,614.6 L66.0,614.3 L65.5,614.0 L65.1,613.6 L64.8,613.2 L64.5,612.9 L64.3,612.6 L64.0,612.1 L63.7,611.5 L63.6,611.1 L63.4,610.5 L63.3,610.1 L63.2,609.4 L63.2,608.7 L63.3,608.0 L63.3,607.6 L63.5,607.0 L63.7,606.6 L64.0,606.0 L64.3,605.6 L64.5,605.2 L64.8,604.9 L65.2,604.5 L65.6,604.1 L66.1,603.8 L66.5,603.6 L66.8,603.4 L67.5,603.1 L67.8,603.0 L68.5,602.9 L69.2,602.8 L70.0,602.8 L70.7,602.9 L71.3,603.1 L71.7,603.2 L72.4,603.5 L72.8,603.6 L73.1,603.8 L73.6,604.1 L74.1,604.5 L74.4,604.9 L74.8,605.2 L75.1,605.6 L75.3,605.9 L75.5,606.3 L75.9,607.0 L76.0,607.3 L76.1,608.0 L76.2,608.7 L76.1,609.4 L76.0,610.1 L75.9,610.5 L75.6,611.1 L75.4,611.5 L75.2,611.9 L74.8,612.4 L74.5,612.8 L74.2,613.2 L73.8,613.6 L73.5,613.9 L73.1,614.1 L72.8,614.3 L72.2,614.6 L71.7,614.9 L71.3,615.0 L70.7,615.2 L70.0,615.3 L69.6,615.4" fill="none" stroke="#0a0a0a" stroke-width="0.8"/>
<path d="M71.0,614.0 L70.3,614.2 L69.6,614.2 L68.9,614.2 L68.2,614.1 L67.7,614.0 L67.2,613.7 L66.8,613.6 L66.3,613.2 L65.9,612.9 L65.5,612.6 L65.2,612.2 L64.9,611.9 L64.7,611.5 L64.4,610.8 L64.3,610.5 L64.1,609.8 L64.0,609.1 L64.1,608.4 L64.2,607.6 L64.4,607.1 L64.6,606.6 L64.7,606.2 L65.0,605.8 L65.4,605.4 L65.8,605.0 L66.1,604.7 L66.5,604.5 L67.0,604.1 L67.5,603.9 L68.0,603.8 L68.5,603.7 L69.2,603.6 L70.0,603.6 L70.7,603.7 L71.2,603.8 L71.7,604.0 L72.1,604.1 L72.7,604.5 L73.1,604.7 L73.5,605.0 L73.8,605.4 L74.2,605.8 L74.5,606.2 L74.7,606.6 L74.9,607.0 L75.1,607.6 L75.2,608.4 L75.2,609.1 L75.1,609.8 L74.9,610.5 L74.7,610.8 L74.5,611.3 L74.2,611.8 L73.8,612.2 L73.5,612.6 L73.1,612.9 L72.8,613.2 L72.4,613.4 L72.0,613.6 L71.3,613.9 L71.0,614.0" fill="none" stroke="#0a0a0a" stroke-width="0.8"/>
<path d="M70.7,613.3 L70.0,613.4 L69.2,613.4 L68.5,613.3 L68.2,613.2 L67.5,613.0 L67.2,612.8 L66.7,612.6 L66.3,612.2 L65.9,611.9 L65.6,611.5 L65.4,611.1 L65.1,610.5 L64.9,610.1 L64.8,609.4 L64.7,608.7 L64.8,608.0 L65.0,607.3 L65.1,607.0 L65.4,606.5 L65.8,606.0 L66.1,605.6 L66.5,605.3 L66.8,605.0 L67.2,604.8 L67.8,604.5 L68.2,604.4 L68.9,604.3 L69.6,604.2 L70.3,604.3 L71.0,604.4 L71.3,604.5 L72.0,604.8 L72.4,605.1 L72.8,605.3 L73.1,605.6 L73.5,606.0 L73.8,606.5 L74.1,607.0 L74.2,607.3 L74.4,608.0 L74.5,608.7 L74.4,609.4 L74.2,610.1 L74.1,610.5 L73.8,611.0 L73.5,611.5 L73.1,611.9 L72.8,612.2 L72.4,612.5 L72.0,612.7 L71.7,612.9 L71.0,613.2 L70.7,613.3" fill="none" stroke="#0a0a0a" stroke-width="0.8"/>
<path d="M70.7,612.6 L70.0,612.7 L69.2,612.7 L68.5,612.6 L68.2,612.5 L67.5,612.2 L67.2,612.0 L66.8,611.7 L66.5,611.4 L66.1,611.0 L65.8,610.5 L65.6,610.1 L65.4,609.4 L65.4,609.1 L65.4,608.4 L65.5,608.0 L65.7,607.3 L65.8,607.0 L66.1,606.5 L66.5,606.1 L66.8,605.8 L67.2,605.5 L67.7,605.2 L68.2,605.0 L68.9,604.9 L69.2,604.8 L70.0,604.8 L70.3,604.9 L71.0,605.0 L71.4,605.2 L72.0,605.5 L72.4,605.8 L72.8,606.1 L73.1,606.6 L73.3,607.0 L73.5,607.3 L73.7,608.0 L73.8,608.7 L73.7,609.4 L73.5,610.1 L73.4,610.5 L73.1,610.9 L72.8,611.3 L72.4,611.7 L72.0,611.9 L71.6,612.2 L71.0,612.5 L70.7,612.6" fill="none" stroke="#0a0a0a" stroke-width="0.8"/>
<path d="M70.7,611.9 L70.0,612.1 L69.2,612.1 L68.5,612.0 L68.2,611.8 L67.5,611.5 L67.2,611.2 L66.8,610.9 L66.5,610.5 L66.3,610.1 L66.1,609.5 L66.0,609.1 L66.0,608.4 L66.1,607.9 L66.3,607.3 L66.5,607.0 L66.8,606.6 L67.2,606.2 L67.6,605.9 L68.2,605.6 L68.5,605.5 L69.2,605.4 L70.0,605.4 L70.7,605.5 L71.0,605.6 L71.5,605.9 L72.0,606.2 L72.4,606.6 L72.6,607.0 L72.8,607.3 L73.1,608.0 L73.2,608.4 L73.1,609.1 L73.1,609.4 L72.8,610.1 L72.6,610.5 L72.4,610.8 L72.0,611.1 L71.6,611.5 L71.0,611.8 L70.7,611.9" fill="none" stroke="#0a0a0a" stroke-width="0.8"/>
<path d="M70.7,611.3 L70.0,611.5 L69.2,611.5 L68.5,611.3 L68.2,611.1 L67.6,610.8 L67.3,610.5 L67.0,610.1 L66.8,609.7 L66.6,609.1 L66.6,608.4 L66.8,607.8 L67.0,607.3 L67.3,607.0 L67.6,606.6 L68.2,606.2 L68.5,606.1 L69.2,605.9 L70.0,605.9 L70.7,606.1 L71.0,606.3 L71.5,606.6 L71.9,607.0 L72.1,607.3 L72.4,607.8 L72.5,608.4 L72.5,609.1 L72.4,609.5 L72.1,610.1 L71.9,610.5 L71.5,610.8 L71.0,611.1 L70.7,611.3" fill="none" stroke="#0a0a0a" stroke-width="0.8"/>
<path d="M69.6,610.8 L69.2,610.8 L68.5,610.6 L68.2,610.4 L67.8,610.1 L67.5,609.6 L67.3,609.1 L67.3,608.4 L67.5,607.8 L67.8,607.3 L68.2,607.0 L68.5,606.8 L69.1,606.6 L69.6,606.5 L70.1,606.6 L70.7,606.8 L71.0,607.0 L71.3,607.3 L71.7,607.9 L71.8,608.4 L71.8,609.1 L71.7,609.5 L71.3,610.0 L71.0,610.3 L70.7,610.6 L70.0,610.8 L69.6,610.8" fill="none" stroke="#0a0a0a" stroke-width="0.8"/>
<path d="M70.3,609.8 L69.6,610.0 L68.9,609.9 L68.5,609.6 L68.2,609.1 L68.1,608.7 L68.2,608.3 L68.5,607.7 L68.9,607.5 L69.6,607.3 L70.3,607.5 L70.7,607.8 L71.0,608.4 L71.0,608.7 L71.0,609.1 L70.7,609.6 L70.3,609.8" fill="none" stroke="#0a0a0a" stroke-width="0.8"/>
<rect x="63.53" y="712.79" width="0.70" height="0.70" fill="#333"/>
<rect x="62.71" y="718.75" width="0.70" height="0.70" fill="#333"/>
<rect x="67.27" y="710.69" width="0.70" height="0.70" fill="#333"/>
<rect x="66.52" y="715.94" width="0.70" height="0.70" fill="#333"/>
<rect x="96.84" y="693.21" width="0.70" height="0.70" fill="#333"/>
<rect x="61.51" y="708.81" width="0.70" height="0.70" fill="#333"/>
<rect x="103.25" y="685.83" width="0.70" height="0.70" fill="#333"/>
<rect x="65.31" y="706.26" width="0.70" height="0.70" fill="#333"/>
<rect x="66.52" y="718.12" width="0.70" height="0.70" fill="#333"/>
<rect x="97.39" y="690.08" width="0.70" height="0.70" fill="#333"/>
<rect x="114.12" y="685.59" width="0.70" height="0.70" fill="#333"/>
<rect x="75.11" y="708.87" width="0.70" height="0.70" fill="#333"/>
<rect x="95.97" y="686.22" width="0.70" height="0.70" fill="#333"/>
<rect x="66.16" y="721.08" width="0.70" height="0.70" fill="#333"/>
<rect x="70.20" y="702.90" width="0.70" height="0.70" fill="#333"/>
<rect x="64.08" y="704.75" width="0.70" height="0.70" fill="#333"/>
<rect x="69.45" y="716.79" width="0.70" height="0.70" fill="#333"/>
<rect x="64.26" y="719.85" width="0.70" height="0.70" fill="#333"/>
<rect x="96.13" y="688.71" width="0.70" height="0.70" fill="#333"/>
<rect x="74.33" y="707.05" width="0.70" height="0.70" fill="#333"/>
<rect x="108.18" y="684.02" width="0.70" height="0.70" fill="#333"/>
<rect x="69.35" y="714.18" width="0.70" height="0.70" fill="#333"/>
<rect x="114.43" y="691.33" width="0.70" height="0.70" fill="#333"/>
<rect x="67.91" y="712.86" width="0.70" height="0.70" fill="#333"/>
<rect x="109.56" y="685.74" width="0.70" height="0.70" fill="#333"/>
<rect x="66.79" y="713.28" width="0.70" height="0.70" fill="#333"/>
<rect x="70.26" y="712.78" width="0.70" height="0.70" fill="#333"/>
<rect x="117.29" y="684.50" width="0.70" height="0.70" fill="#333"/>
<rect x="68.53" y="720.77" width="0.70" height="0.70" fill="#333"/>
<rect x="70.84" y="718.04" width="0.70" height="0.70" fill="#333"/>
<rect x="62.14" y="708.30" width="0.70" height="0.70" fill="#333"/>
<rect x="66.52" y="718.74" width="0.70" height="0.70" fill="#333"/>
<rect x="78.87" y="724.76" width="0.70" height="0.70" fill="#333"/>
<rect x="62.70" y="711.72" width="0.70" height="0.70" fill="#333"/>
<rect x="63.65" y="705.98" width="0.70" height="0.70" fill="#333"/>
<rect x="72.62" y="717.75" width="0.70" height="0.70" fill="#333"/>
<rect x="102.96" y="683.23" width="0.70" height="0.70" fill="#333"/>
<rect x="66.40" y="716.40" width="0.70" height="0.70" fill="#333"/>
<rect x="94.87" y="688.94" width="0.70" height="0.70" fill="#333"/>
<rect x="61.54" y="715.72" width="0.70" height="0.70" fill="#333"/>
<rect x="106.78" y="690.60" width="0.70" height="0.70" fill="#333"/>
<rect x="128.98" y="689.60" width="0.70" height="0.70" fill="#333"/>
<rect x="66.05" y="708.06" width="0.70" height="0.70" fill="#333"/>
<rect x="91.91" y="681.61" width="0.70" height="0.70" fill="#333"/>
<rect x="96.24" y="686.46" width="0.70" height="0.70" fill="#333"/>
<rect x="93.55" y="691.79" width="0.70" height="0.70" fill="#333"/>
<rect x="109.44" y="685.59" width="0.70" height="0.70" fill="#333"/>
<rect x="73.53" y="705.55" width="0.70" height="0.70" fill="#333"/>
<rect x="64.55" y="664.85" width="0.70" height="0.70" fill="#333"/>
<rect x="69.81" y="723.06" width="0.70" height="0.70" fill="#333"/>
<rect x="126.24" y="693.20" width="0.70" height="0.70" fill="#333"/>
<rect x="68.88" y="720.88" width="0.70" height="0.70" fill="#333"/>
<rect x="69.02" y="713.60" width="0.70" height="0.70" fill="#333"/>
<rect x="71.18" y="722.66" width="0.70" height="0.70" fill="#333"/>
<rect x="106.43" y="682.53" width="0.70" height="0.70" fill="#333"/>
<rect x="122.64" y="691.95" width="0.70" height="0.70" fill="#333"/>
<rect x="70.47" y="717.82" width="0.70" height="0.70" fill="#333"/>
<rect x="67.48" y="702.94" width="0.70" height="0.70" fill="#333"/>
<rect x="68.23" y="715.09" width="0.70" height="0.70" fill="#333"/>
<rect x="88.05" y="690.05" width="0.70" height="0.70" fill="#333"/>
<rect x="65.24" y="704.03" width="0.70" height="0.70" fill="#333"/>
<rect x="61.36" y="721.91" width="0.70" height="0.70" fill="#333"/>
<rect x="69.67" y="709.56" width="0.70" height="0.70" fill="#333"/>
<rect x="64.73" y="705.69" width="0.70" height="0.70" fill="#333"/>
<rect x="62.85" y="705.50" width="0.70" height="0.70" fill="#333"/>
<rect x="71.55" y="705.21" width="0.70" height="0.70" fill="#333"/>
<rect x="114.87" y="685.98" width="0.70" height="0.70" fill="#333"/>
<rect x="95.93" y="684.89" width="0.70" height="0.70" fill="#333"/>
<rect x="64.70" y="714.81" width="0.70" height="0.70" fill="#333"/>
<rect x="100.48" y="687.55" width="0.70" height="0.70" fill="#333"/>
<rect x="119.40" y="684.10" width="0.70" height="0.70" fill="#333"/>
<rect x="64.35" y="733.04" width="0.70" height="0.70" fill="#333"/>
<rect x="67.40" y="708.15" width="0.70" height="0.70" fill="#333"/>
<rect x="111.97" y="684.72" width="0.70" height="0.70" fill="#333"/>
<rect x="110.52" y="686.92" width="0.70" height="0.70" fill="#333"/>
<rect x="69.08" y="706.22" width="0.70" height="0.70" fill="#333"/>
<rect x="71.27" y="716.29" width="0.70" height="0.70" fill="#333"/>
<rect x="101.64" y="688.87" width="0.70" height="0.70" fill="#333"/>
<rect x="65.96" y="726.20" width="0.70" height="0.70" fill="#333"/>
<rect x="69.55" y="725.59" width="0.70" height="0.70" fill="#333"/>
<path d="M67.8,703.1 L67.2,703.1 L66.8,703.0 L66.1,702.9 L65.4,702.7 L65.0,702.6 L64.5,702.4 L64.0,702.1 L63.7,701.9 L63.2,701.6 L62.6,701.3 L62.2,701.0 L61.9,700.8 L61.6,700.6 L61.1,700.2 L60.7,699.9 L60.3,699.5 L59.9,699.2 L59.6,698.9 L59.4,698.5 L59.1,697.8 L59.0,697.5 L58.8,696.8 L58.8,696.4 L58.6,695.7 L58.5,695.0 L58.5,694.3 L58.4,693.7 L58.3,693.2 L58.3,692.5 L58.2,691.9 L58.2,691.1 L58.2,690.5 L58.2,689.8 L58.1,689.0 L58.1,688.4 L58.1,687.6 L58.2,687.0 L58.2,686.2 L58.2,685.5 L58.3,684.9 L58.4,684.1 L58.4,683.8 L58.5,683.1 L58.6,682.4 L58.7,681.7 L58.8,681.4 L58.9,680.6 L59.1,680.2 L59.4,679.6 L59.6,679.2 L59.9,678.9 L60.3,678.5 L60.8,678.2 L61.2,678.0 L61.6,677.8 L62.2,677.5 L62.6,677.4 L63.2,677.1 L63.7,677.0 L64.4,676.8 L64.7,676.8 L65.4,676.7 L66.1,676.6 L66.8,676.6 L67.5,676.6 L68.2,676.6 L68.9,676.7 L69.3,676.8 L70.0,676.9 L70.7,677.1 L71.0,677.2 L71.7,677.5 L72.0,677.7 L72.4,677.9 L73.1,678.2 L73.5,678.4 L73.8,678.6 L74.2,678.9 L74.7,679.2 L75.1,679.6 L75.5,680.0 L75.9,680.3 L76.2,680.6 L76.6,680.9 L77.0,681.2 L77.3,681.5 L77.7,681.8 L78.1,682.0 L78.7,682.3 L79.2,682.4 L79.8,682.4 L80.3,682.4 L80.8,682.3 L81.5,682.2 L82.2,682.1 L82.5,682.0 L83.2,681.9 L84.0,681.8 L84.7,681.7 L85.3,681.7 L86.0,681.7 L86.8,681.7 L87.5,681.8 L88.2,681.9 L88.8,682.0 L89.2,682.1 L89.9,682.3 L90.2,682.5 L90.8,682.8 L91.2,683.1 L91.5,683.5 L91.7,683.8 L91.7,684.2 L91.3,684.8 L91.0,685.1 L90.6,685.3 L90.2,685.5 L89.5,685.8 L89.1,685.9 L88.5,686.1 L87.8,686.2 L87.1,686.2 L86.8,686.3 L86.0,686.3 L85.3,686.3 L84.7,686.3 L84.0,686.3 L83.6,686.2 L82.9,686.2 L82.2,686.2 L81.5,686.1 L80.8,686.2 L80.5,686.4 L80.1,686.6 L79.8,687.1 L79.6,687.6 L79.5,688.4 L79.4,689.0 L79.4,689.4 L79.3,690.1 L79.2,690.8 L79.1,691.5 L79.0,691.9 L78.9,692.5 L78.7,693.0 L78.5,693.6 L78.3,694.0 L78.0,694.6 L77.8,695.0 L77.6,695.4 L77.3,695.9 L77.0,696.4 L76.7,696.8 L76.4,697.1 L76.1,697.5 L75.8,697.8 L75.5,698.1 L75.1,698.5 L74.8,698.9 L74.4,699.2 L74.1,699.5 L73.7,699.9 L73.3,700.2 L72.8,700.6 L72.4,700.9 L72.0,701.2 L71.7,701.5 L71.3,701.7 L70.9,702.0 L70.3,702.3 L70.0,702.5 L69.4,702.7 L68.9,702.9 L68.2,703.0 L67.8,703.1" fill="none" stroke="#0a0a0a" stroke-width="0.8"/>
<path d="M68.9,701.0 L68.2,701.2 L67.5,701.2 L66.8,701.2 L66.1,701.1 L65.7,701.0 L65.0,700.7 L64.7,700.5 L64.2,700.2 L63.7,699.9 L63.3,699.7 L63.0,699.5 L62.6,699.2 L62.1,698.9 L61.7,698.5 L61.2,698.1 L60.9,697.8 L60.5,697.5 L60.2,697.1 L59.9,696.8 L59.6,696.4 L59.5,696.0 L59.2,695.4 L59.1,695.0 L59.0,694.3 L58.8,693.6 L58.8,692.9 L58.7,692.5 L58.6,691.9 L58.6,691.1 L58.5,690.5 L58.5,689.8 L58.5,689.0 L58.5,688.4 L58.5,687.6 L58.5,687.0 L58.6,686.2 L58.6,685.5 L58.7,684.9 L58.8,684.4 L58.8,683.8 L59.0,683.1 L59.1,682.6 L59.3,682.0 L59.5,681.7 L59.8,681.1 L60.2,680.7 L60.5,680.4 L60.9,680.1 L61.2,679.9 L61.6,679.6 L62.2,679.3 L62.6,679.1 L63.1,678.9 L63.7,678.7 L64.2,678.5 L64.7,678.4 L65.4,678.3 L66.1,678.2 L66.8,678.2 L66.9,678.2 L67.5,678.2 L68.2,678.3 L68.9,678.4 L69.6,678.5 L70.0,678.7 L70.7,678.9 L71.0,679.0 L71.5,679.2 L72.0,679.5 L72.4,679.7 L72.8,680.0 L73.2,680.3 L73.7,680.6 L74.1,681.0 L74.5,681.4 L74.8,681.7 L75.2,682.0 L75.5,682.4 L75.8,682.8 L76.1,683.1 L76.4,683.5 L76.7,683.8 L77.0,684.3 L77.2,684.9 L77.3,685.2 L77.4,685.9 L77.5,686.6 L77.5,687.3 L77.6,688.0 L77.6,688.7 L77.6,689.4 L77.5,690.1 L77.4,690.8 L77.3,691.3 L77.2,691.9 L77.0,692.5 L76.8,692.9 L76.6,693.4 L76.3,694.0 L76.2,694.3 L75.9,694.7 L75.5,695.3 L75.3,695.7 L75.0,696.0 L74.7,696.4 L74.4,696.8 L74.1,697.1 L73.8,697.5 L73.4,697.8 L73.1,698.1 L72.7,698.5 L72.3,698.9 L71.9,699.2 L71.5,699.5 L71.0,699.9 L70.7,700.1 L70.3,700.4 L69.9,700.6 L69.2,700.9 L68.9,701.0" fill="none" stroke="#0a0a0a" stroke-width="0.8"/>
<path d="M86.0,684.9 L85.3,684.9 L85.0,684.8 L84.3,684.6 L83.9,684.5 L83.5,684.1 L83.6,683.8 L84.1,683.5 L84.7,683.3 L85.3,683.2 L86.0,683.1 L86.8,683.2 L87.5,683.4 L87.8,683.6 L88.1,684.1 L87.7,684.5 L87.1,684.7 L86.4,684.8 L86.0,684.9" fill="none" stroke="#0a0a0a" stroke-width="0.8"/>
<path d="M67.8,699.3 L67.2,699.3 L66.5,699.2 L66.1,699.1 L65.4,698.9 L65.0,698.7 L64.7,698.5 L64.1,698.1 L63.7,697.9 L63.3,697.6 L63.0,697.4 L62.6,697.1 L62.2,696.8 L61.8,696.4 L61.4,696.0 L61.0,695.7 L60.7,695.4 L60.4,695.0 L60.2,694.6 L59.8,694.0 L59.6,693.6 L59.5,693.2 L59.3,692.5 L59.2,691.9 L59.1,691.5 L59.0,690.8 L59.0,690.1 L58.9,689.4 L58.9,688.7 L58.9,688.0 L58.9,687.3 L59.0,686.6 L59.0,685.9 L59.1,685.5 L59.2,684.9 L59.4,684.1 L59.5,683.8 L59.8,683.2 L60.1,682.8 L60.4,682.4 L60.7,682.0 L61.0,681.7 L61.5,681.4 L61.9,681.1 L62.2,680.8 L62.6,680.6 L63.3,680.3 L63.7,680.1 L64.3,680.0 L64.7,679.8 L65.4,679.7 L66.1,679.6 L66.5,679.6 L67.2,679.6 L67.5,679.6 L68.2,679.7 L68.9,679.8 L69.3,680.0 L70.0,680.2 L70.3,680.3 L71.0,680.6 L71.3,680.8 L71.7,681.1 L72.1,681.4 L72.6,681.7 L73.0,682.0 L73.3,682.4 L73.7,682.8 L74.0,683.1 L74.2,683.5 L74.5,683.8 L74.8,684.4 L75.1,684.9 L75.2,685.2 L75.5,685.9 L75.6,686.2 L75.7,687.0 L75.8,687.6 L75.9,688.4 L75.9,689.0 L75.8,689.8 L75.7,690.5 L75.6,691.1 L75.5,691.5 L75.2,692.2 L75.1,692.5 L74.8,693.1 L74.6,693.6 L74.4,694.0 L74.1,694.3 L73.8,694.8 L73.5,695.2 L73.1,695.7 L72.8,696.0 L72.4,696.4 L72.1,696.8 L71.7,697.1 L71.3,697.4 L71.0,697.7 L70.7,698.0 L70.3,698.2 L69.9,698.5 L69.2,698.8 L68.9,699.0 L68.2,699.2 L67.8,699.3" fill="none" stroke="#0a0a0a" stroke-width="0.8"/>
<path d="M67.5,697.5 L66.9,697.5 L66.5,697.4 L65.8,697.2 L65.4,697.1 L64.7,696.8 L64.4,696.5 L64.0,696.3 L63.6,696.0 L63.1,695.7 L62.7,695.4 L62.3,695.0 L61.9,694.7 L61.6,694.3 L61.2,694.0 L60.9,693.6 L60.7,693.2 L60.4,692.9 L60.2,692.3 L59.9,691.9 L59.8,691.5 L59.6,690.8 L59.5,690.1 L59.5,689.6 L59.4,689.0 L59.4,688.4 L59.4,687.6 L59.5,687.0 L59.5,686.6 L59.6,685.9 L59.8,685.3 L60.0,684.9 L60.2,684.4 L60.5,683.8 L60.8,683.5 L61.1,683.1 L61.4,682.8 L61.8,682.4 L62.2,682.0 L62.6,681.8 L63.0,681.6 L63.4,681.4 L64.0,681.1 L64.4,681.0 L65.0,680.8 L65.8,680.7 L66.1,680.6 L66.8,680.6 L67.5,680.6 L67.8,680.7 L68.5,680.8 L69.1,681.0 L69.6,681.2 L70.0,681.4 L70.7,681.7 L71.0,681.9 L71.3,682.2 L71.7,682.4 L72.1,682.8 L72.4,683.1 L72.8,683.5 L73.1,683.9 L73.5,684.5 L73.7,684.9 L73.8,685.2 L74.1,685.9 L74.2,686.2 L74.4,687.0 L74.5,687.6 L74.5,688.0 L74.6,688.7 L74.5,689.4 L74.5,689.8 L74.3,690.5 L74.2,691.1 L74.0,691.5 L73.8,692.0 L73.5,692.5 L73.4,692.9 L73.1,693.3 L72.8,693.8 L72.4,694.3 L72.1,694.6 L71.8,695.0 L71.4,695.4 L71.0,695.7 L70.7,696.0 L70.3,696.3 L70.0,696.5 L69.6,696.8 L68.9,697.1 L68.5,697.3 L67.8,697.4 L67.5,697.5" fill="none" stroke="#0a0a0a" stroke-width="0.8"/>
<path d="M68.2,695.7 L67.5,695.8 L66.8,695.9 L66.1,695.7 L65.8,695.7 L65.0,695.4 L64.7,695.2 L64.3,695.0 L63.7,694.6 L63.3,694.4 L63.0,694.1 L62.6,693.8 L62.2,693.5 L61.9,693.1 L61.6,692.7 L61.2,692.2 L61.0,691.9 L60.8,691.5 L60.5,690.9 L60.4,690.5 L60.2,689.8 L60.1,689.4 L60.0,688.7 L60.0,688.0 L60.1,687.3 L60.2,686.8 L60.3,686.2 L60.5,685.6 L60.7,685.2 L60.9,684.8 L61.2,684.3 L61.6,683.8 L61.9,683.5 L62.2,683.1 L62.6,682.8 L63.0,682.6 L63.3,682.3 L63.9,682.0 L64.4,681.8 L64.8,681.7 L65.4,681.6 L66.1,681.5 L66.8,681.4 L67.5,681.5 L68.2,681.6 L68.5,681.7 L69.2,682.0 L69.6,682.1 L70.1,682.4 L70.7,682.7 L71.0,683.0 L71.3,683.3 L71.7,683.7 L72.0,684.1 L72.3,684.5 L72.6,684.9 L72.8,685.2 L73.0,685.9 L73.2,686.2 L73.4,687.0 L73.5,687.6 L73.5,688.0 L73.5,688.7 L73.5,689.2 L73.4,689.8 L73.2,690.5 L73.1,690.8 L72.8,691.5 L72.6,691.9 L72.4,692.2 L72.0,692.8 L71.7,693.2 L71.4,693.6 L71.0,694.0 L70.7,694.3 L70.3,694.6 L70.0,694.9 L69.6,695.1 L69.1,695.4 L68.5,695.6 L68.2,695.7" fill="none" stroke="#0a0a0a" stroke-width="0.8"/>
<path d="M68.2,694.4 L67.5,694.6 L66.8,694.6 L66.1,694.5 L65.4,694.3 L65.0,694.2 L64.5,694.0 L64.0,693.7 L63.7,693.5 L63.3,693.2 L63.0,692.9 L62.6,692.5 L62.2,692.2 L61.9,691.7 L61.6,691.2 L61.4,690.8 L61.2,690.4 L61.0,689.8 L60.9,689.2 L60.8,688.7 L60.7,688.0 L60.8,687.3 L60.9,687.0 L61.0,686.2 L61.2,685.8 L61.5,685.2 L61.7,684.9 L61.9,684.5 L62.2,684.1 L62.6,683.8 L63.0,683.5 L63.4,683.1 L64.0,682.8 L64.4,682.6 L65.0,682.4 L65.4,682.3 L66.1,682.2 L66.8,682.2 L67.5,682.2 L68.2,682.4 L68.5,682.5 L69.2,682.8 L69.6,683.0 L70.0,683.2 L70.3,683.5 L70.7,683.8 L71.1,684.1 L71.4,684.5 L71.7,685.0 L72.0,685.5 L72.2,685.9 L72.4,686.6 L72.5,687.0 L72.6,687.6 L72.6,688.4 L72.6,689.0 L72.4,689.8 L72.3,690.1 L72.1,690.8 L71.9,691.1 L71.7,691.5 L71.3,692.1 L71.0,692.5 L70.7,692.9 L70.3,693.2 L70.0,693.5 L69.6,693.7 L69.2,694.0 L68.5,694.3 L68.2,694.4" fill="none" stroke="#0a0a0a" stroke-width="0.8"/>
<path d="M68.2,693.4 L67.5,693.5 L66.8,693.6 L66.1,693.5 L65.4,693.4 L65.0,693.2 L64.4,692.9 L64.0,692.7 L63.7,692.4 L63.3,692.2 L63.0,691.8 L62.6,691.4 L62.2,690.9 L62.0,690.5 L61.8,690.1 L61.6,689.4 L61.5,689.0 L61.4,688.4 L61.4,687.6 L61.5,687.0 L61.6,686.6 L61.9,685.9 L62.0,685.5 L62.3,685.2 L62.6,684.7 L63.0,684.3 L63.3,684.0 L63.7,683.7 L64.1,683.5 L64.7,683.2 L65.0,683.1 L65.8,682.9 L66.5,682.8 L67.2,682.8 L67.8,683.0 L68.3,683.1 L68.9,683.3 L69.2,683.5 L69.7,683.8 L70.1,684.1 L70.4,684.5 L70.7,684.9 L71.0,685.2 L71.3,685.9 L71.5,686.2 L71.7,686.8 L71.8,687.3 L71.9,688.0 L71.8,688.7 L71.7,689.4 L71.6,689.8 L71.3,690.4 L71.2,690.8 L71.0,691.1 L70.7,691.6 L70.3,692.0 L70.0,692.3 L69.6,692.6 L69.2,692.9 L68.5,693.2 L68.2,693.4" fill="none" stroke="#0a0a0a" stroke-width="0.8"/>
<path d="M67.8,692.6 L67.2,692.7 L66.5,692.7 L65.8,692.6 L65.4,692.5 L64.7,692.2 L64.4,692.0 L64.0,691.8 L63.7,691.5 L63.3,691.1 L63.0,690.7 L62.6,690.1 L62.4,689.8 L62.2,689.2 L62.1,688.7 L62.1,688.0 L62.1,687.3 L62.2,686.8 L62.4,686.2 L62.6,685.9 L63.0,685.3 L63.3,684.9 L63.7,684.5 L64.0,684.3 L64.4,684.0 L64.8,683.8 L65.4,683.6 L66.1,683.5 L66.5,683.4 L66.9,683.5 L67.5,683.5 L68.2,683.7 L68.5,683.9 L69.0,684.1 L69.5,684.5 L69.9,684.9 L70.2,685.2 L70.4,685.5 L70.7,685.9 L70.9,686.6 L71.0,687.0 L71.1,687.6 L71.1,688.4 L71.1,689.0 L71.0,689.4 L70.7,690.1 L70.5,690.5 L70.3,690.8 L70.0,691.2 L69.6,691.6 L69.2,691.9 L68.7,692.2 L68.2,692.5 L67.8,692.6" fill="none" stroke="#0a0a0a" stroke-width="0.8"/>
<path d="M67.5,691.9 L66.8,692.0 L66.1,691.9 L65.7,691.9 L65.0,691.6 L64.7,691.4 L64.3,691.1 L63.9,690.8 L63.6,690.5 L63.3,690.0 L63.0,689.4 L62.9,689.0 L62.7,688.4 L62.7,687.6 L62.8,687.0 L63.0,686.6 L63.3,685.9 L63.5,685.5 L63.8,685.2 L64.2,684.9 L64.7,684.5 L65.0,684.4 L65.7,684.1 L66.1,684.1 L66.8,684.1 L67.4,684.1 L67.8,684.3 L68.4,684.5 L68.9,684.8 L69.2,685.1 L69.6,685.5 L69.9,685.9 L70.1,686.2 L70.3,686.8 L70.4,687.3 L70.5,688.0 L70.4,688.7 L70.3,689.2 L70.1,689.8 L69.9,690.1 L69.6,690.5 L69.2,690.9 L68.9,691.2 L68.4,691.5 L67.8,691.8 L67.5,691.9" fill="none" stroke="#0a0a0a" stroke-width="0.8"/>
<path d="M67.2,691.2 L66.5,691.2 L66.0,691.1 L65.4,691.0 L65.0,690.8 L64.6,690.5 L64.2,690.1 L63.9,689.8 L63.7,689.2 L63.5,688.7 L63.4,688.0 L63.4,687.3 L63.6,686.6 L63.8,686.2 L64.1,685.9 L64.4,685.5 L64.9,685.2 L65.4,684.9 L65.8,684.8 L66.5,684.7 L67.2,684.7 L67.6,684.9 L68.2,685.1 L68.5,685.4 L68.9,685.7 L69.2,686.1 L69.5,686.6 L69.6,687.0 L69.8,687.6 L69.8,688.4 L69.6,689.0 L69.5,689.4 L69.2,689.8 L68.9,690.2 L68.5,690.5 L68.2,690.8 L67.5,691.1 L67.2,691.2" fill="none" stroke="#0a0a0a" stroke-width="0.8"/>
<path d="M66.8,690.5 L66.1,690.5 L65.8,690.3 L65.3,690.1 L64.8,689.8 L64.5,689.4 L64.3,689.0 L64.1,688.4 L64.0,687.6 L64.2,687.0 L64.4,686.6 L64.7,686.2 L65.0,685.8 L65.6,685.5 L66.1,685.4 L66.8,685.4 L67.5,685.5 L67.8,685.7 L68.2,685.9 L68.5,686.3 L68.9,686.9 L69.0,687.3 L69.1,688.0 L69.0,688.7 L68.9,689.0 L68.5,689.5 L68.2,689.9 L67.8,690.2 L67.2,690.4 L66.8,690.5" fill="none" stroke="#0a0a0a" stroke-width="0.8"/>
<rect x="58.00" y="8.80" width="71.20" height="71.20" stroke="#333" stroke-width="1.0" fill="none"/>
<line x1="53.80" y1="80.00" x2="58.00" y2="80.00" stroke="#333" stroke-width="0.7"/>
<line x1="55.60" y1="74.64" x2="58.00" y2="74.64" stroke="#333" stroke-width="0.7"/>
<line x1="55.60" y1="71.51" x2="58.00" y2="71.51" stroke="#333" stroke-width="0.7"/>
<line x1="55.60" y1="69.28" x2="58.00" y2="69.28" stroke="#333" stroke-width="0.7"/>
<line x1="55.60" y1="67.56" x2="58.00" y2="67.56" stroke="#333" stroke-width="0.7"/>
<line x1="55.60" y1="66.15" x2="58.00" y2="66.15" stroke="#333" stroke-width="0.7"/>
<line x1="55.60" y1="64.96" x2="58.00" y2="64.96" stroke="#333" stroke-width="0.7"/>
<line x1="55.60" y1="63.92" x2="58.00" y2="63.92" stroke="#333" stroke-width="0.7"/>
<line x1="55.60" y1="63.01" x2="58.00" y2="63.01" stroke="#333" stroke-width="0.7"/>
<line x1="53.80" y1="62.20" x2="58.00" y2="62.20" stroke="#333" stroke-width="0.7"/>
<line x1="55.60" y1="56.84" x2="58.00" y2="56.84" stroke="#333" stroke-width="0.7"/>
<line x1="55.60" y1="53.71" x2="58.00" y2="53.71" stroke="#333" stroke-width="0.7"/>
<line x1="55.60" y1="51.48" x2="58.00" y2="51.48" stroke="#333" stroke-width="0.7"/>
<line x1="55.60" y1="49.76" x2="58.00" y2="49.76" stroke="#333" stroke-width="0.7"/>
<line x1="55.60" y1="48.35" x2="58.00" y2="48.35" stroke="#333" stroke-width="0.7"/>
<line x1="55.60" y1="47.16" x2="58.00" y2="47.16" stroke="#333" stroke-width="0.7"/>
<line x1="55.60" y1="46.12" x2="58.00" y2="46.12" stroke="#333" stroke-width="0.7"/>
<line x1="55.60" y1="45.21" x2="58.00" y2="45.21" stroke="#333" stroke-width="0.7"/>
<line x1="53.80" y1="44.40" x2="58.00" y2="44.40" stroke="#333" stroke-width="0.7"/>
<line x1="55.60" y1="39.04" x2="58.00" y2="39.04" stroke="#333" stroke-width="0.7"/>
<line x1="55.60" y1="35.91" x2="58.00" y2="35.91" stroke="#333" stroke-width="0.7"/>
<line x1="55.60" y1="33.68" x2="58.00" y2="33.68" stroke="#333" stroke-width="0.7"/>
<line x1="55.60" y1="31.96" x2="58.00" y2="31.96" stroke="#333" stroke-width="0.7"/>
<line x1="55.60" y1="30.55" x2="58.00" y2="30.55" stroke="#333" stroke-width="0.7"/>
<line x1="55.60" y1="29.36" x2="58.00" y2="29.36" stroke="#333" stroke-width="0.7"/>
<line x1="55.60" y1="28.32" x2="58.00" y2="28.32" stroke="#333" stroke-width="0.7"/>
<line x1="55.60" y1="27.41" x2="58.00" y2="27.41" stroke="#333" stroke-width="0.7"/>
<line x1="53.80" y1="26.60" x2="58.00" y2="26.60" stroke="#333" stroke-width="0.7"/>
<line x1="55.60" y1="21.24" x2="58.00" y2="21.24" stroke="#333" stroke-width="0.7"/>
<line x1="55.60" y1="18.11" x2="58.00" y2="18.11" stroke="#333" stroke-width="0.7"/>
<line x1="55.60" y1="15.88" x2="58.00" y2="15.88" stroke="#333" stroke-width="0.7"/>
<line x1="55.60" y1="14.16" x2="58.00" y2="14.16" stroke="#333" stroke-width="0.7"/>
<line x1="55.60" y1="12.75" x2="58.00" y2="12.75" stroke="#333" stroke-width="0.7"/>
<line x1="55.60" y1="11.56" x2="58.00" y2="11.56" stroke="#333" stroke-width="0.7"/>
<line x1="55.60" y1="10.52" x2="58.00" y2="10.52" stroke="#333" stroke-width="0.7"/>
<line x1="55.60" y1="9.61" x2="58.00" y2="9.61" stroke="#333" stroke-width="0.7"/>
<line x1="53.80" y1="8.80" x2="58.00" y2="8.80" stroke="#333" stroke-width="0.7"/>
<line x1="58.00" y1="80.00" x2="58.00" y2="84.80" stroke="#333" stroke-width="0.7"/>
<line x1="63.36" y1="80.00" x2="63.36" y2="82.60" stroke="#333" stroke-width="0.7"/>
<line x1="66.49" y1="80.00" x2="66.49" y2="82.60" stroke="#333" stroke-width="0.7"/>
<line x1="68.72" y1="80.00" x2="68.72" y2="82.60" stroke="#333" stroke-width="0.7"/>
<line x1="70.44" y1="80.00" x2="70.44" y2="82.60" stroke="#333" stroke-width="0.7"/>
<line x1="71.85" y1="80.00" x2="71.85" y2="82.60" stroke="#333" stroke-width="0.7"/>
<line x1="73.04" y1="80.00" x2="73.04" y2="82.60" stroke="#333" stroke-width="0.7"/>
<line x1="74.08" y1="80.00" x2="74.08" y2="82.60" stroke="#333" stroke-width="0.7"/>
<line x1="74.99" y1="80.00" x2="74.99" y2="82.60" stroke="#333" stroke-width="0.7"/>
<line x1="75.80" y1="80.00" x2="75.80" y2="84.80" stroke="#333" stroke-width="0.7"/>
<line x1="81.16" y1="80.00" x2="81.16" y2="82.60" stroke="#333" stroke-width="0.7"/>
<line x1="84.29" y1="80.00" x2="84.29" y2="82.60" stroke="#333" stroke-width="0.7"/>
<line x1="86.52" y1="80.00" x2="86.52" y2="82.60" stroke="#333" stroke-width="0.7"/>
<line x1="88.24" y1="80.00" x2="88.24" y2="82.60" stroke="#333" stroke-width="0.7"/>
<line x1="89.65" y1="80.00" x2="89.65" y2="82.60" stroke="#333" stroke-width="0.7"/>
<line x1="90.84" y1="80.00" x2="90.84" y2="82.60" stroke="#333" stroke-width="0.7"/>
<line x1="91.88" y1="80.00" x2="91.88" y2="82.60" stroke="#333" stroke-width="0.7"/>
<line x1="92.79" y1="80.00" x2="92.79" y2="82.60" stroke="#333" stroke-width="0.7"/>
<line x1="93.60" y1="80.00" x2="93.60" y2="84.80" stroke="#333" stroke-width="0.7"/>
<line x1="98.96" y1="80.00" x2="98.96" y2="82.60" stroke="#333" stroke-width="0.7"/>
<line x1="102.09" y1="80.00" x2="102.09" y2="82.60" stroke="#333" stroke-width="0.7"/>
<line x1="104.32" y1="80.00" x2="104.32" y2="82.60" stroke="#333" stroke-width="0.7"/>
<line x1="106.04" y1="80.00" x2="106.04" y2="82.60" stroke="#333" stroke-width="0.7"/>
<line x1="107.45" y1="80.00" x2="107.45" y2="82.60" stroke="#333" stroke-width="0.7"/>
<line x1="108.64" y1="80.00" x2="108.64" y2="82.60" stroke="#333" stroke-width="0.7"/>
<line x1="109.68" y1="80.00" x2="109.68" y2="82.60" stroke="#333" stroke-width="0.7"/>
<line x1="110.59" y1="80.00" x2="110.59" y2="82.60" stroke="#333" stroke-width="0.7"/>
<line x1="111.40" y1="80.00" x2="111.40" y2="84.80" stroke="#333" stroke-width="0.7"/>
<line x1="116.76" y1="80.00" x2="116.76" y2="82.60" stroke="#333" stroke-width="0.7"/>
<line x1="119.89" y1="80.00" x2="119.89" y2="82.60" stroke="#333" stroke-width="0.7"/>
<line x1="122.12" y1="80.00" x2="122.12" y2="82.60" stroke="#333" stroke-width="0.7"/>
<line x1="123.84" y1="80.00" x2="123.84" y2="82.60" stroke="#333" stroke-width="0.7"/>
<line x1="125.25" y1="80.00" x2="125.25" y2="82.60" stroke="#333" stroke-width="0.7"/>
<line x1="126.44" y1="80.00" x2="126.44" y2="82.60" stroke="#333" stroke-width="0.7"/>
<line x1="127.48" y1="80.00" x2="127.48" y2="82.60" stroke="#333" stroke-width="0.7"/>
<line x1="128.39" y1="80.00" x2="128.39" y2="82.60" stroke="#333" stroke-width="0.7"/>
<line x1="129.20" y1="80.00" x2="129.20" y2="84.80" stroke="#333" stroke-width="0.7"/>
<rect x="191.00" y="9.50" width="71.80" height="71.30" stroke="#333" stroke-width="1.0" fill="none"/>
<line x1="186.80" y1="80.80" x2="191.00" y2="80.80" stroke="#333" stroke-width="0.7"/>
<line x1="188.60" y1="75.43" x2="191.00" y2="75.43" stroke="#333" stroke-width="0.7"/>
<line x1="188.60" y1="72.30" x2="191.00" y2="72.30" stroke="#333" stroke-width="0.7"/>
<line x1="188.60" y1="70.07" x2="191.00" y2="70.07" stroke="#333" stroke-width="0.7"/>
<line x1="188.60" y1="68.34" x2="191.00" y2="68.34" stroke="#333" stroke-width="0.7"/>
<line x1="188.60" y1="66.93" x2="191.00" y2="66.93" stroke="#333" stroke-width="0.7"/>
<line x1="188.60" y1="65.74" x2="191.00" y2="65.74" stroke="#333" stroke-width="0.7"/>
<line x1="188.60" y1="64.70" x2="191.00" y2="64.70" stroke="#333" stroke-width="0.7"/>
<line x1="188.60" y1="63.79" x2="191.00" y2="63.79" stroke="#333" stroke-width="0.7"/>
<line x1="186.80" y1="62.97" x2="191.00" y2="62.97" stroke="#333" stroke-width="0.7"/>
<line x1="188.60" y1="57.61" x2="191.00" y2="57.61" stroke="#333" stroke-width="0.7"/>
<line x1="188.60" y1="54.47" x2="191.00" y2="54.47" stroke="#333" stroke-width="0.7"/>
<line x1="188.60" y1="52.24" x2="191.00" y2="52.24" stroke="#333" stroke-width="0.7"/>
<line x1="188.60" y1="50.52" x2="191.00" y2="50.52" stroke="#333" stroke-width="0.7"/>
<line x1="188.60" y1="49.10" x2="191.00" y2="49.10" stroke="#333" stroke-width="0.7"/>
<line x1="188.60" y1="47.91" x2="191.00" y2="47.91" stroke="#333" stroke-width="0.7"/>
<line x1="188.60" y1="46.88" x2="191.00" y2="46.88" stroke="#333" stroke-width="0.7"/>
<line x1="188.60" y1="45.97" x2="191.00" y2="45.97" stroke="#333" stroke-width="0.7"/>
<line x1="186.80" y1="45.15" x2="191.00" y2="45.15" stroke="#333" stroke-width="0.7"/>
<line x1="188.60" y1="39.78" x2="191.00" y2="39.78" stroke="#333" stroke-width="0.7"/>
<line x1="188.60" y1="36.65" x2="191.00" y2="36.65" stroke="#333" stroke-width="0.7"/>
<line x1="188.60" y1="34.42" x2="191.00" y2="34.42" stroke="#333" stroke-width="0.7"/>
<line x1="188.60" y1="32.69" x2="191.00" y2="32.69" stroke="#333" stroke-width="0.7"/>
<line x1="188.60" y1="31.28" x2="191.00" y2="31.28" stroke="#333" stroke-width="0.7"/>
<line x1="188.60" y1="30.09" x2="191.00" y2="30.09" stroke="#333" stroke-width="0.7"/>
<line x1="188.60" y1="29.05" x2="191.00" y2="29.05" stroke="#333" stroke-width="0.7"/>
<line x1="188.60" y1="28.14" x2="191.00" y2="28.14" stroke="#333" stroke-width="0.7"/>
<line x1="186.80" y1="27.33" x2="191.00" y2="27.33" stroke="#333" stroke-width="0.7"/>
<line x1="188.60" y1="21.96" x2="191.00" y2="21.96" stroke="#333" stroke-width="0.7"/>
<line x1="188.60" y1="18.82" x2="191.00" y2="18.82" stroke="#333" stroke-width="0.7"/>
<line x1="188.60" y1="16.59" x2="191.00" y2="16.59" stroke="#333" stroke-width="0.7"/>
<line x1="188.60" y1="14.87" x2="191.00" y2="14.87" stroke="#333" stroke-width="0.7"/>
<line x1="188.60" y1="13.45" x2="191.00" y2="13.45" stroke="#333" stroke-width="0.7"/>
<line x1="188.60" y1="12.26" x2="191.00" y2="12.26" stroke="#333" stroke-width="0.7"/>
<line x1="188.60" y1="11.23" x2="191.00" y2="11.23" stroke="#333" stroke-width="0.7"/>
<line x1="188.60" y1="10.32" x2="191.00" y2="10.32" stroke="#333" stroke-width="0.7"/>
<line x1="186.80" y1="9.50" x2="191.00" y2="9.50" stroke="#333" stroke-width="0.7"/>
<line x1="191.00" y1="80.80" x2="191.00" y2="85.60" stroke="#333" stroke-width="0.7"/>
<line x1="196.40" y1="80.80" x2="196.40" y2="83.40" stroke="#333" stroke-width="0.7"/>
<line x1="199.56" y1="80.80" x2="199.56" y2="83.40" stroke="#333" stroke-width="0.7"/>
<line x1="201.81" y1="80.80" x2="201.81" y2="83.40" stroke="#333" stroke-width="0.7"/>
<line x1="203.55" y1="80.80" x2="203.55" y2="83.40" stroke="#333" stroke-width="0.7"/>
<line x1="204.97" y1="80.80" x2="204.97" y2="83.40" stroke="#333" stroke-width="0.7"/>
<line x1="206.17" y1="80.80" x2="206.17" y2="83.40" stroke="#333" stroke-width="0.7"/>
<line x1="207.21" y1="80.80" x2="207.21" y2="83.40" stroke="#333" stroke-width="0.7"/>
<line x1="208.13" y1="80.80" x2="208.13" y2="83.40" stroke="#333" stroke-width="0.7"/>
<line x1="208.95" y1="80.80" x2="208.95" y2="85.60" stroke="#333" stroke-width="0.7"/>
<line x1="214.35" y1="80.80" x2="214.35" y2="83.40" stroke="#333" stroke-width="0.7"/>
<line x1="217.51" y1="80.80" x2="217.51" y2="83.40" stroke="#333" stroke-width="0.7"/>
<line x1="219.76" y1="80.80" x2="219.76" y2="83.40" stroke="#333" stroke-width="0.7"/>
<line x1="221.50" y1="80.80" x2="221.50" y2="83.40" stroke="#333" stroke-width="0.7"/>
<line x1="222.92" y1="80.80" x2="222.92" y2="83.40" stroke="#333" stroke-width="0.7"/>
<line x1="224.12" y1="80.80" x2="224.12" y2="83.40" stroke="#333" stroke-width="0.7"/>
<line x1="225.16" y1="80.80" x2="225.16" y2="83.40" stroke="#333" stroke-width="0.7"/>
<line x1="226.08" y1="80.80" x2="226.08" y2="83.40" stroke="#333" stroke-width="0.7"/>
<line x1="226.90" y1="80.80" x2="226.90" y2="85.60" stroke="#333" stroke-width="0.7"/>
<line x1="232.30" y1="80.80" x2="232.30" y2="83.40" stroke="#333" stroke-width="0.7"/>
<line x1="235.46" y1="80.80" x2="235.46" y2="83.40" stroke="#333" stroke-width="0.7"/>
<line x1="237.71" y1="80.80" x2="237.71" y2="83.40" stroke="#333" stroke-width="0.7"/>
<line x1="239.45" y1="80.80" x2="239.45" y2="83.40" stroke="#333" stroke-width="0.7"/>
<line x1="240.87" y1="80.80" x2="240.87" y2="83.40" stroke="#333" stroke-width="0.7"/>
<line x1="242.07" y1="80.80" x2="242.07" y2="83.40" stroke="#333" stroke-width="0.7"/>
<line x1="243.11" y1="80.80" x2="243.11" y2="83.40" stroke="#333" stroke-width="0.7"/>
<line x1="244.03" y1="80.80" x2="244.03" y2="83.40" stroke="#333" stroke-width="0.7"/>
<line x1="244.85" y1="80.80" x2="244.85" y2="85.60" stroke="#333" stroke-width="0.7"/>
<line x1="250.25" y1="80.80" x2="250.25" y2="83.40" stroke="#333" stroke-width="0.7"/>
<line x1="253.41" y1="80.80" x2="253.41" y2="83.40" stroke="#333" stroke-width="0.7"/>
<line x1="255.66" y1="80.80" x2="255.66" y2="83.40" stroke="#333" stroke-width="0.7"/>
<line x1="257.40" y1="80.80" x2="257.40" y2="83.40" stroke="#333" stroke-width="0.7"/>
<line x1="258.82" y1="80.80" x2="258.82" y2="83.40" stroke="#333" stroke-width="0.7"/>
<line x1="260.02" y1="80.80" x2="260.02" y2="83.40" stroke="#333" stroke-width="0.7"/>
<line x1="261.06" y1="80.80" x2="261.06" y2="83.40" stroke="#333" stroke-width="0.7"/>
<line x1="261.98" y1="80.80" x2="261.98" y2="83.40" stroke="#333" stroke-width="0.7"/>
<line x1="262.80" y1="80.80" x2="262.80" y2="85.60" stroke="#333" stroke-width="0.7"/>
<rect x="324.70" y="12.50" width="70.50" height="72.00" stroke="#333" stroke-width="1.0" fill="none"/>
<line x1="320.50" y1="84.50" x2="324.70" y2="84.50" stroke="#333" stroke-width="0.7"/>
<line x1="322.30" y1="79.08" x2="324.70" y2="79.08" stroke="#333" stroke-width="0.7"/>
<line x1="322.30" y1="75.91" x2="324.70" y2="75.91" stroke="#333" stroke-width="0.7"/>
<line x1="322.30" y1="73.66" x2="324.70" y2="73.66" stroke="#333" stroke-width="0.7"/>
<line x1="322.30" y1="71.92" x2="324.70" y2="71.92" stroke="#333" stroke-width="0.7"/>
<line x1="322.30" y1="70.49" x2="324.70" y2="70.49" stroke="#333" stroke-width="0.7"/>
<line x1="322.30" y1="69.29" x2="324.70" y2="69.29" stroke="#333" stroke-width="0.7"/>
<line x1="322.30" y1="68.24" x2="324.70" y2="68.24" stroke="#333" stroke-width="0.7"/>
<line x1="322.30" y1="67.32" x2="324.70" y2="67.32" stroke="#333" stroke-width="0.7"/>
<line x1="320.50" y1="66.50" x2="324.70" y2="66.50" stroke="#333" stroke-width="0.7"/>
<line x1="322.30" y1="61.08" x2="324.70" y2="61.08" stroke="#333" stroke-width="0.7"/>
<line x1="322.30" y1="57.91" x2="324.70" y2="57.91" stroke="#333" stroke-width="0.7"/>
<line x1="322.30" y1="55.66" x2="324.70" y2="55.66" stroke="#333" stroke-width="0.7"/>
<line x1="322.30" y1="53.92" x2="324.70" y2="53.92" stroke="#333" stroke-width="0.7"/>
<line x1="322.30" y1="52.49" x2="324.70" y2="52.49" stroke="#333" stroke-width="0.7"/>
<line x1="322.30" y1="51.29" x2="324.70" y2="51.29" stroke="#333" stroke-width="0.7"/>
<line x1="322.30" y1="50.24" x2="324.70" y2="50.24" stroke="#333" stroke-width="0.7"/>
<line x1="322.30" y1="49.32" x2="324.70" y2="49.32" stroke="#333" stroke-width="0.7"/>
<line x1="320.50" y1="48.50" x2="324.70" y2="48.50" stroke="#333" stroke-width="0.7"/>
<line x1="322.30" y1="43.08" x2="324.70" y2="43.08" stroke="#333" stroke-width="0.7"/>
<line x1="322.30" y1="39.91" x2="324.70" y2="39.91" stroke="#333" stroke-width="0.7"/>
<line x1="322.30" y1="37.66" x2="324.70" y2="37.66" stroke="#333" stroke-width="0.7"/>
<line x1="322.30" y1="35.92" x2="324.70" y2="35.92" stroke="#333" stroke-width="0.7"/>
<line x1="322.30" y1="34.49" x2="324.70" y2="34.49" stroke="#333" stroke-width="0.7"/>
<line x1="322.30" y1="33.29" x2="324.70" y2="33.29" stroke="#333" stroke-width="0.7"/>
<line x1="322.30" y1="32.24" x2="324.70" y2="32.24" stroke="#333" stroke-width="0.7"/>
<line x1="322.30" y1="31.32" x2="324.70" y2="31.32" stroke="#333" stroke-width="0.7"/>
<line x1="320.50" y1="30.50" x2="324.70" y2="30.50" stroke="#333" stroke-width="0.7"/>
<line x1="322.30" y1="25.08" x2="324.70" y2="25.08" stroke="#333" stroke-width="0.7"/>
<line x1="322.30" y1="21.91" x2="324.70" y2="21.91" stroke="#333" stroke-width="0.7"/>
<line x1="322.30" y1="19.66" x2="324.70" y2="19.66" stroke="#333" stroke-width="0.7"/>
<line x1="322.30" y1="17.92" x2="324.70" y2="17.92" stroke="#333" stroke-width="0.7"/>
<line x1="322.30" y1="16.49" x2="324.70" y2="16.49" stroke="#333" stroke-width="0.7"/>
<line x1="322.30" y1="15.29" x2="324.70" y2="15.29" stroke="#333" stroke-width="0.7"/>
<line x1="322.30" y1="14.24" x2="324.70" y2="14.24" stroke="#333" stroke-width="0.7"/>
<line x1="322.30" y1="13.32" x2="324.70" y2="13.32" stroke="#333" stroke-width="0.7"/>
<line x1="320.50" y1="12.50" x2="324.70" y2="12.50" stroke="#333" stroke-width="0.7"/>
<line x1="324.70" y1="84.50" x2="324.70" y2="89.30" stroke="#333" stroke-width="0.7"/>
<line x1="330.01" y1="84.50" x2="330.01" y2="87.10" stroke="#333" stroke-width="0.7"/>
<line x1="333.11" y1="84.50" x2="333.11" y2="87.10" stroke="#333" stroke-width="0.7"/>
<line x1="335.31" y1="84.50" x2="335.31" y2="87.10" stroke="#333" stroke-width="0.7"/>
<line x1="337.02" y1="84.50" x2="337.02" y2="87.10" stroke="#333" stroke-width="0.7"/>
<line x1="338.41" y1="84.50" x2="338.41" y2="87.10" stroke="#333" stroke-width="0.7"/>
<line x1="339.59" y1="84.50" x2="339.59" y2="87.10" stroke="#333" stroke-width="0.7"/>
<line x1="340.62" y1="84.50" x2="340.62" y2="87.10" stroke="#333" stroke-width="0.7"/>
<line x1="341.52" y1="84.50" x2="341.52" y2="87.10" stroke="#333" stroke-width="0.7"/>
<line x1="342.32" y1="84.50" x2="342.32" y2="89.30" stroke="#333" stroke-width="0.7"/>
<line x1="347.63" y1="84.50" x2="347.63" y2="87.10" stroke="#333" stroke-width="0.7"/>
<line x1="350.73" y1="84.50" x2="350.73" y2="87.10" stroke="#333" stroke-width="0.7"/>
<line x1="352.94" y1="84.50" x2="352.94" y2="87.10" stroke="#333" stroke-width="0.7"/>
<line x1="354.64" y1="84.50" x2="354.64" y2="87.10" stroke="#333" stroke-width="0.7"/>
<line x1="356.04" y1="84.50" x2="356.04" y2="87.10" stroke="#333" stroke-width="0.7"/>
<line x1="357.22" y1="84.50" x2="357.22" y2="87.10" stroke="#333" stroke-width="0.7"/>
<line x1="358.24" y1="84.50" x2="358.24" y2="87.10" stroke="#333" stroke-width="0.7"/>
<line x1="359.14" y1="84.50" x2="359.14" y2="87.10" stroke="#333" stroke-width="0.7"/>
<line x1="359.95" y1="84.50" x2="359.95" y2="89.30" stroke="#333" stroke-width="0.7"/>
<line x1="365.26" y1="84.50" x2="365.26" y2="87.10" stroke="#333" stroke-width="0.7"/>
<line x1="368.36" y1="84.50" x2="368.36" y2="87.10" stroke="#333" stroke-width="0.7"/>
<line x1="370.56" y1="84.50" x2="370.56" y2="87.10" stroke="#333" stroke-width="0.7"/>
<line x1="372.27" y1="84.50" x2="372.27" y2="87.10" stroke="#333" stroke-width="0.7"/>
<line x1="373.66" y1="84.50" x2="373.66" y2="87.10" stroke="#333" stroke-width="0.7"/>
<line x1="374.84" y1="84.50" x2="374.84" y2="87.10" stroke="#333" stroke-width="0.7"/>
<line x1="375.87" y1="84.50" x2="375.87" y2="87.10" stroke="#333" stroke-width="0.7"/>
<line x1="376.77" y1="84.50" x2="376.77" y2="87.10" stroke="#333" stroke-width="0.7"/>
<line x1="377.57" y1="84.50" x2="377.57" y2="89.30" stroke="#333" stroke-width="0.7"/>
<line x1="382.88" y1="84.50" x2="382.88" y2="87.10" stroke="#333" stroke-width="0.7"/>
<line x1="385.98" y1="84.50" x2="385.98" y2="87.10" stroke="#333" stroke-width="0.7"/>
<line x1="388.19" y1="84.50" x2="388.19" y2="87.10" stroke="#333" stroke-width="0.7"/>
<line x1="389.89" y1="84.50" x2="389.89" y2="87.10" stroke="#333" stroke-width="0.7"/>
<line x1="391.29" y1="84.50" x2="391.29" y2="87.10" stroke="#333" stroke-width="0.7"/>
<line x1="392.47" y1="84.50" x2="392.47" y2="87.10" stroke="#333" stroke-width="0.7"/>
<line x1="393.49" y1="84.50" x2="393.49" y2="87.10" stroke="#333" stroke-width="0.7"/>
<line x1="394.39" y1="84.50" x2="394.39" y2="87.10" stroke="#333" stroke-width="0.7"/>
<line x1="395.20" y1="84.50" x2="395.20" y2="89.30" stroke="#333" stroke-width="0.7"/>
<rect x="401.20" y="12.50" width="72.70" height="72.30" stroke="#333" stroke-width="1.0" fill="none"/>
<line x1="397.00" y1="84.80" x2="401.20" y2="84.80" stroke="#333" stroke-width="0.7"/>
<line x1="398.80" y1="79.36" x2="401.20" y2="79.36" stroke="#333" stroke-width="0.7"/>
<line x1="398.80" y1="76.18" x2="401.20" y2="76.18" stroke="#333" stroke-width="0.7"/>
<line x1="398.80" y1="73.92" x2="401.20" y2="73.92" stroke="#333" stroke-width="0.7"/>
<line x1="398.80" y1="72.17" x2="401.20" y2="72.17" stroke="#333" stroke-width="0.7"/>
<line x1="398.80" y1="70.73" x2="401.20" y2="70.73" stroke="#333" stroke-width="0.7"/>
<line x1="398.80" y1="69.52" x2="401.20" y2="69.52" stroke="#333" stroke-width="0.7"/>
<line x1="398.80" y1="68.48" x2="401.20" y2="68.48" stroke="#333" stroke-width="0.7"/>
<line x1="398.80" y1="67.55" x2="401.20" y2="67.55" stroke="#333" stroke-width="0.7"/>
<line x1="397.00" y1="66.72" x2="401.20" y2="66.72" stroke="#333" stroke-width="0.7"/>
<line x1="398.80" y1="61.28" x2="401.20" y2="61.28" stroke="#333" stroke-width="0.7"/>
<line x1="398.80" y1="58.10" x2="401.20" y2="58.10" stroke="#333" stroke-width="0.7"/>
<line x1="398.80" y1="55.84" x2="401.20" y2="55.84" stroke="#333" stroke-width="0.7"/>
<line x1="398.80" y1="54.09" x2="401.20" y2="54.09" stroke="#333" stroke-width="0.7"/>
<line x1="398.80" y1="52.66" x2="401.20" y2="52.66" stroke="#333" stroke-width="0.7"/>
<line x1="398.80" y1="51.45" x2="401.20" y2="51.45" stroke="#333" stroke-width="0.7"/>
<line x1="398.80" y1="50.40" x2="401.20" y2="50.40" stroke="#333" stroke-width="0.7"/>
<line x1="398.80" y1="49.48" x2="401.20" y2="49.48" stroke="#333" stroke-width="0.7"/>
<line x1="397.00" y1="48.65" x2="401.20" y2="48.65" stroke="#333" stroke-width="0.7"/>
<line x1="398.80" y1="43.21" x2="401.20" y2="43.21" stroke="#333" stroke-width="0.7"/>
<line x1="398.80" y1="40.03" x2="401.20" y2="40.03" stroke="#333" stroke-width="0.7"/>
<line x1="398.80" y1="37.77" x2="401.20" y2="37.77" stroke="#333" stroke-width="0.7"/>
<line x1="398.80" y1="36.02" x2="401.20" y2="36.02" stroke="#333" stroke-width="0.7"/>
<line x1="398.80" y1="34.58" x2="401.20" y2="34.58" stroke="#333" stroke-width="0.7"/>
<line x1="398.80" y1="33.37" x2="401.20" y2="33.37" stroke="#333" stroke-width="0.7"/>
<line x1="398.80" y1="32.33" x2="401.20" y2="32.33" stroke="#333" stroke-width="0.7"/>
<line x1="398.80" y1="31.40" x2="401.20" y2="31.40" stroke="#333" stroke-width="0.7"/>
<line x1="397.00" y1="30.58" x2="401.20" y2="30.58" stroke="#333" stroke-width="0.7"/>
<line x1="398.80" y1="25.13" x2="401.20" y2="25.13" stroke="#333" stroke-width="0.7"/>
<line x1="398.80" y1="21.95" x2="401.20" y2="21.95" stroke="#333" stroke-width="0.7"/>
<line x1="398.80" y1="19.69" x2="401.20" y2="19.69" stroke="#333" stroke-width="0.7"/>
<line x1="398.80" y1="17.94" x2="401.20" y2="17.94" stroke="#333" stroke-width="0.7"/>
<line x1="398.80" y1="16.51" x2="401.20" y2="16.51" stroke="#333" stroke-width="0.7"/>
<line x1="398.80" y1="15.30" x2="401.20" y2="15.30" stroke="#333" stroke-width="0.7"/>
<line x1="398.80" y1="14.25" x2="401.20" y2="14.25" stroke="#333" stroke-width="0.7"/>
<line x1="398.80" y1="13.33" x2="401.20" y2="13.33" stroke="#333" stroke-width="0.7"/>
<line x1="397.00" y1="12.50" x2="401.20" y2="12.50" stroke="#333" stroke-width="0.7"/>
<line x1="401.20" y1="84.80" x2="401.20" y2="89.60" stroke="#333" stroke-width="0.7"/>
<line x1="406.67" y1="84.80" x2="406.67" y2="87.40" stroke="#333" stroke-width="0.7"/>
<line x1="409.87" y1="84.80" x2="409.87" y2="87.40" stroke="#333" stroke-width="0.7"/>
<line x1="412.14" y1="84.80" x2="412.14" y2="87.40" stroke="#333" stroke-width="0.7"/>
<line x1="413.90" y1="84.80" x2="413.90" y2="87.40" stroke="#333" stroke-width="0.7"/>
<line x1="415.34" y1="84.80" x2="415.34" y2="87.40" stroke="#333" stroke-width="0.7"/>
<line x1="416.56" y1="84.80" x2="416.56" y2="87.40" stroke="#333" stroke-width="0.7"/>
<line x1="417.61" y1="84.80" x2="417.61" y2="87.40" stroke="#333" stroke-width="0.7"/>
<line x1="418.54" y1="84.80" x2="418.54" y2="87.40" stroke="#333" stroke-width="0.7"/>
<line x1="419.38" y1="84.80" x2="419.38" y2="89.60" stroke="#333" stroke-width="0.7"/>
<line x1="424.85" y1="84.80" x2="424.85" y2="87.40" stroke="#333" stroke-width="0.7"/>
<line x1="428.05" y1="84.80" x2="428.05" y2="87.40" stroke="#333" stroke-width="0.7"/>
<line x1="430.32" y1="84.80" x2="430.32" y2="87.40" stroke="#333" stroke-width="0.7"/>
<line x1="432.08" y1="84.80" x2="432.08" y2="87.40" stroke="#333" stroke-width="0.7"/>
<line x1="433.52" y1="84.80" x2="433.52" y2="87.40" stroke="#333" stroke-width="0.7"/>
<line x1="434.73" y1="84.80" x2="434.73" y2="87.40" stroke="#333" stroke-width="0.7"/>
<line x1="435.79" y1="84.80" x2="435.79" y2="87.40" stroke="#333" stroke-width="0.7"/>
<line x1="436.72" y1="84.80" x2="436.72" y2="87.40" stroke="#333" stroke-width="0.7"/>
<line x1="437.55" y1="84.80" x2="437.55" y2="89.60" stroke="#333" stroke-width="0.7"/>
<line x1="443.02" y1="84.80" x2="443.02" y2="87.40" stroke="#333" stroke-width="0.7"/>
<line x1="446.22" y1="84.80" x2="446.22" y2="87.40" stroke="#333" stroke-width="0.7"/>
<line x1="448.49" y1="84.80" x2="448.49" y2="87.40" stroke="#333" stroke-width="0.7"/>
<line x1="450.25" y1="84.80" x2="450.25" y2="87.40" stroke="#333" stroke-width="0.7"/>
<line x1="451.69" y1="84.80" x2="451.69" y2="87.40" stroke="#333" stroke-width="0.7"/>
<line x1="452.91" y1="84.80" x2="452.91" y2="87.40" stroke="#333" stroke-width="0.7"/>
<line x1="453.96" y1="84.80" x2="453.96" y2="87.40" stroke="#333" stroke-width="0.7"/>
<line x1="454.89" y1="84.80" x2="454.89" y2="87.40" stroke="#333" stroke-width="0.7"/>
<line x1="455.72" y1="84.80" x2="455.72" y2="89.60" stroke="#333" stroke-width="0.7"/>
<line x1="461.20" y1="84.80" x2="461.20" y2="87.40" stroke="#333" stroke-width="0.7"/>
<line x1="464.40" y1="84.80" x2="464.40" y2="87.40" stroke="#333" stroke-width="0.7"/>
<line x1="466.67" y1="84.80" x2="466.67" y2="87.40" stroke="#333" stroke-width="0.7"/>
<line x1="468.43" y1="84.80" x2="468.43" y2="87.40" stroke="#333" stroke-width="0.7"/>
<line x1="469.87" y1="84.80" x2="469.87" y2="87.40" stroke="#333" stroke-width="0.7"/>
<line x1="471.08" y1="84.80" x2="471.08" y2="87.40" stroke="#333" stroke-width="0.7"/>
<line x1="472.14" y1="84.80" x2="472.14" y2="87.40" stroke="#333" stroke-width="0.7"/>
<line x1="473.07" y1="84.80" x2="473.07" y2="87.40" stroke="#333" stroke-width="0.7"/>
<line x1="473.90" y1="84.80" x2="473.90" y2="89.60" stroke="#333" stroke-width="0.7"/>
<rect x="57.70" y="578.60" width="75.70" height="76.20" stroke="#333" stroke-width="1.0" fill="none"/>
<line x1="55.30" y1="654.08" x2="57.70" y2="654.08" stroke="#333" stroke-width="0.7"/>
<line x1="55.30" y1="650.56" x2="57.70" y2="650.56" stroke="#333" stroke-width="0.7"/>
<line x1="55.30" y1="648.06" x2="57.70" y2="648.06" stroke="#333" stroke-width="0.7"/>
<line x1="55.30" y1="646.12" x2="57.70" y2="646.12" stroke="#333" stroke-width="0.7"/>
<line x1="55.30" y1="644.54" x2="57.70" y2="644.54" stroke="#333" stroke-width="0.7"/>
<line x1="55.30" y1="643.20" x2="57.70" y2="643.20" stroke="#333" stroke-width="0.7"/>
<line x1="55.30" y1="642.04" x2="57.70" y2="642.04" stroke="#333" stroke-width="0.7"/>
<line x1="55.30" y1="641.02" x2="57.70" y2="641.02" stroke="#333" stroke-width="0.7"/>
<line x1="53.50" y1="640.10" x2="57.70" y2="640.10" stroke="#333" stroke-width="0.7"/>
<line x1="55.30" y1="634.08" x2="57.70" y2="634.08" stroke="#333" stroke-width="0.7"/>
<line x1="55.30" y1="630.56" x2="57.70" y2="630.56" stroke="#333" stroke-width="0.7"/>
<line x1="55.30" y1="628.06" x2="57.70" y2="628.06" stroke="#333" stroke-width="0.7"/>
<line x1="55.30" y1="626.12" x2="57.70" y2="626.12" stroke="#333" stroke-width="0.7"/>
<line x1="55.30" y1="624.54" x2="57.70" y2="624.54" stroke="#333" stroke-width="0.7"/>
<line x1="55.30" y1="623.20" x2="57.70" y2="623.20" stroke="#333" stroke-width="0.7"/>
<line x1="55.30" y1="622.04" x2="57.70" y2="622.04" stroke="#333" stroke-width="0.7"/>
<line x1="55.30" y1="621.02" x2="57.70" y2="621.02" stroke="#333" stroke-width="0.7"/>
<line x1="53.50" y1="620.10" x2="57.70" y2="620.10" stroke="#333" stroke-width="0.7"/>
<line x1="55.30" y1="614.08" x2="57.70" y2="614.08" stroke="#333" stroke-width="0.7"/>
<line x1="55.30" y1="610.56" x2="57.70" y2="610.56" stroke="#333" stroke-width="0.7"/>
<line x1="55.30" y1="608.06" x2="57.70" y2="608.06" stroke="#333" stroke-width="0.7"/>
<line x1="55.30" y1="606.12" x2="57.70" y2="606.12" stroke="#333" stroke-width="0.7"/>
<line x1="55.30" y1="604.54" x2="57.70" y2="604.54" stroke="#333" stroke-width="0.7"/>
<line x1="55.30" y1="603.20" x2="57.70" y2="603.20" stroke="#333" stroke-width="0.7"/>
<line x1="55.30" y1="602.04" x2="57.70" y2="602.04" stroke="#333" stroke-width="0.7"/>
<line x1="55.30" y1="601.02" x2="57.70" y2="601.02" stroke="#333" stroke-width="0.7"/>
<line x1="53.50" y1="600.10" x2="57.70" y2="600.10" stroke="#333" stroke-width="0.7"/>
<line x1="55.30" y1="594.08" x2="57.70" y2="594.08" stroke="#333" stroke-width="0.7"/>
<line x1="55.30" y1="590.56" x2="57.70" y2="590.56" stroke="#333" stroke-width="0.7"/>
<line x1="55.30" y1="588.06" x2="57.70" y2="588.06" stroke="#333" stroke-width="0.7"/>
<line x1="55.30" y1="586.12" x2="57.70" y2="586.12" stroke="#333" stroke-width="0.7"/>
<line x1="55.30" y1="584.54" x2="57.70" y2="584.54" stroke="#333" stroke-width="0.7"/>
<line x1="55.30" y1="583.20" x2="57.70" y2="583.20" stroke="#333" stroke-width="0.7"/>
<line x1="55.30" y1="582.04" x2="57.70" y2="582.04" stroke="#333" stroke-width="0.7"/>
<line x1="55.30" y1="581.02" x2="57.70" y2="581.02" stroke="#333" stroke-width="0.7"/>
<line x1="53.50" y1="580.10" x2="57.70" y2="580.10" stroke="#333" stroke-width="0.7"/>
<line x1="57.70" y1="654.80" x2="57.70" y2="659.60" stroke="#333" stroke-width="0.7"/>
<line x1="63.40" y1="654.80" x2="63.40" y2="657.40" stroke="#333" stroke-width="0.7"/>
<line x1="66.73" y1="654.80" x2="66.73" y2="657.40" stroke="#333" stroke-width="0.7"/>
<line x1="69.09" y1="654.80" x2="69.09" y2="657.40" stroke="#333" stroke-width="0.7"/>
<line x1="70.93" y1="654.80" x2="70.93" y2="657.40" stroke="#333" stroke-width="0.7"/>
<line x1="72.43" y1="654.80" x2="72.43" y2="657.40" stroke="#333" stroke-width="0.7"/>
<line x1="73.69" y1="654.80" x2="73.69" y2="657.40" stroke="#333" stroke-width="0.7"/>
<line x1="74.79" y1="654.80" x2="74.79" y2="657.40" stroke="#333" stroke-width="0.7"/>
<line x1="75.76" y1="654.80" x2="75.76" y2="657.40" stroke="#333" stroke-width="0.7"/>
<line x1="76.62" y1="654.80" x2="76.62" y2="659.60" stroke="#333" stroke-width="0.7"/>
<line x1="82.32" y1="654.80" x2="82.32" y2="657.40" stroke="#333" stroke-width="0.7"/>
<line x1="85.65" y1="654.80" x2="85.65" y2="657.40" stroke="#333" stroke-width="0.7"/>
<line x1="88.02" y1="654.80" x2="88.02" y2="657.40" stroke="#333" stroke-width="0.7"/>
<line x1="89.85" y1="654.80" x2="89.85" y2="657.40" stroke="#333" stroke-width="0.7"/>
<line x1="91.35" y1="654.80" x2="91.35" y2="657.40" stroke="#333" stroke-width="0.7"/>
<line x1="92.62" y1="654.80" x2="92.62" y2="657.40" stroke="#333" stroke-width="0.7"/>
<line x1="93.72" y1="654.80" x2="93.72" y2="657.40" stroke="#333" stroke-width="0.7"/>
<line x1="94.68" y1="654.80" x2="94.68" y2="657.40" stroke="#333" stroke-width="0.7"/>
<line x1="95.55" y1="654.80" x2="95.55" y2="659.60" stroke="#333" stroke-width="0.7"/>
<line x1="101.25" y1="654.80" x2="101.25" y2="657.40" stroke="#333" stroke-width="0.7"/>
<line x1="104.58" y1="654.80" x2="104.58" y2="657.40" stroke="#333" stroke-width="0.7"/>
<line x1="106.94" y1="654.80" x2="106.94" y2="657.40" stroke="#333" stroke-width="0.7"/>
<line x1="108.78" y1="654.80" x2="108.78" y2="657.40" stroke="#333" stroke-width="0.7"/>
<line x1="110.28" y1="654.80" x2="110.28" y2="657.40" stroke="#333" stroke-width="0.7"/>
<line x1="111.54" y1="654.80" x2="111.54" y2="657.40" stroke="#333" stroke-width="0.7"/>
<line x1="112.64" y1="654.80" x2="112.64" y2="657.40" stroke="#333" stroke-width="0.7"/>
<line x1="113.61" y1="654.80" x2="113.61" y2="657.40" stroke="#333" stroke-width="0.7"/>
<line x1="114.48" y1="654.80" x2="114.48" y2="659.60" stroke="#333" stroke-width="0.7"/>
<line x1="120.17" y1="654.80" x2="120.17" y2="657.40" stroke="#333" stroke-width="0.7"/>
<line x1="123.50" y1="654.80" x2="123.50" y2="657.40" stroke="#333" stroke-width="0.7"/>
<line x1="125.87" y1="654.80" x2="125.87" y2="657.40" stroke="#333" stroke-width="0.7"/>
<line x1="127.70" y1="654.80" x2="127.70" y2="657.40" stroke="#333" stroke-width="0.7"/>
<line x1="129.20" y1="654.80" x2="129.20" y2="657.40" stroke="#333" stroke-width="0.7"/>
<line x1="130.47" y1="654.80" x2="130.47" y2="657.40" stroke="#333" stroke-width="0.7"/>
<line x1="131.57" y1="654.80" x2="131.57" y2="657.40" stroke="#333" stroke-width="0.7"/>
<line x1="132.53" y1="654.80" x2="132.53" y2="657.40" stroke="#333" stroke-width="0.7"/>
<line x1="133.40" y1="654.80" x2="133.40" y2="659.60" stroke="#333" stroke-width="0.7"/>
<rect x="57.70" y="660.00" width="75.70" height="77.00" stroke="#333" stroke-width="1.0" fill="none"/>
<line x1="55.30" y1="734.83" x2="57.70" y2="734.83" stroke="#333" stroke-width="0.7"/>
<line x1="55.30" y1="731.40" x2="57.70" y2="731.40" stroke="#333" stroke-width="0.7"/>
<line x1="55.30" y1="728.96" x2="57.70" y2="728.96" stroke="#333" stroke-width="0.7"/>
<line x1="55.30" y1="727.07" x2="57.70" y2="727.07" stroke="#333" stroke-width="0.7"/>
<line x1="55.30" y1="725.53" x2="57.70" y2="725.53" stroke="#333" stroke-width="0.7"/>
<line x1="55.30" y1="724.22" x2="57.70" y2="724.22" stroke="#333" stroke-width="0.7"/>
<line x1="55.30" y1="723.09" x2="57.70" y2="723.09" stroke="#333" stroke-width="0.7"/>
<line x1="55.30" y1="722.09" x2="57.70" y2="722.09" stroke="#333" stroke-width="0.7"/>
<line x1="53.50" y1="721.20" x2="57.70" y2="721.20" stroke="#333" stroke-width="0.7"/>
<line x1="55.30" y1="715.33" x2="57.70" y2="715.33" stroke="#333" stroke-width="0.7"/>
<line x1="55.30" y1="711.90" x2="57.70" y2="711.90" stroke="#333" stroke-width="0.7"/>
<line x1="55.30" y1="709.46" x2="57.70" y2="709.46" stroke="#333" stroke-width="0.7"/>
<line x1="55.30" y1="707.57" x2="57.70" y2="707.57" stroke="#333" stroke-width="0.7"/>
<line x1="55.30" y1="706.03" x2="57.70" y2="706.03" stroke="#333" stroke-width="0.7"/>
<line x1="55.30" y1="704.72" x2="57.70" y2="704.72" stroke="#333" stroke-width="0.7"/>
<line x1="55.30" y1="703.59" x2="57.70" y2="703.59" stroke="#333" stroke-width="0.7"/>
<line x1="55.30" y1="702.59" x2="57.70" y2="702.59" stroke="#333" stroke-width="0.7"/>
<line x1="53.50" y1="701.70" x2="57.70" y2="701.70" stroke="#333" stroke-width="0.7"/>
<line x1="55.30" y1="695.83" x2="57.70" y2="695.83" stroke="#333" stroke-width="0.7"/>
<line x1="55.30" y1="692.40" x2="57.70" y2="692.40" stroke="#333" stroke-width="0.7"/>
<line x1="55.30" y1="689.96" x2="57.70" y2="689.96" stroke="#333" stroke-width="0.7"/>
<line x1="55.30" y1="688.07" x2="57.70" y2="688.07" stroke="#333" stroke-width="0.7"/>
<line x1="55.30" y1="686.53" x2="57.70" y2="686.53" stroke="#333" stroke-width="0.7"/>
<line x1="55.30" y1="685.22" x2="57.70" y2="685.22" stroke="#333" stroke-width="0.7"/>
<line x1="55.30" y1="684.09" x2="57.70" y2="684.09" stroke="#333" stroke-width="0.7"/>
<line x1="55.30" y1="683.09" x2="57.70" y2="683.09" stroke="#333" stroke-width="0.7"/>
<line x1="53.50" y1="682.20" x2="57.70" y2="682.20" stroke="#333" stroke-width="0.7"/>
<line x1="55.30" y1="676.33" x2="57.70" y2="676.33" stroke="#333" stroke-width="0.7"/>
<line x1="55.30" y1="672.90" x2="57.70" y2="672.90" stroke="#333" stroke-width="0.7"/>
<line x1="55.30" y1="670.46" x2="57.70" y2="670.46" stroke="#333" stroke-width="0.7"/>
<line x1="55.30" y1="668.57" x2="57.70" y2="668.57" stroke="#333" stroke-width="0.7"/>
<line x1="55.30" y1="667.03" x2="57.70" y2="667.03" stroke="#333" stroke-width="0.7"/>
<line x1="55.30" y1="665.72" x2="57.70" y2="665.72" stroke="#333" stroke-width="0.7"/>
<line x1="55.30" y1="664.59" x2="57.70" y2="664.59" stroke="#333" stroke-width="0.7"/>
<line x1="55.30" y1="663.59" x2="57.70" y2="663.59" stroke="#333" stroke-width="0.7"/>
<line x1="53.50" y1="662.70" x2="57.70" y2="662.70" stroke="#333" stroke-width="0.7"/>
<line x1="57.70" y1="737.00" x2="57.70" y2="741.80" stroke="#333" stroke-width="0.7"/>
<line x1="63.40" y1="737.00" x2="63.40" y2="739.60" stroke="#333" stroke-width="0.7"/>
<line x1="66.73" y1="737.00" x2="66.73" y2="739.60" stroke="#333" stroke-width="0.7"/>
<line x1="69.09" y1="737.00" x2="69.09" y2="739.60" stroke="#333" stroke-width="0.7"/>
<line x1="70.93" y1="737.00" x2="70.93" y2="739.60" stroke="#333" stroke-width="0.7"/>
<line x1="72.43" y1="737.00" x2="72.43" y2="739.60" stroke="#333" stroke-width="0.7"/>
<line x1="73.69" y1="737.00" x2="73.69" y2="739.60" stroke="#333" stroke-width="0.7"/>
<line x1="74.79" y1="737.00" x2="74.79" y2="739.60" stroke="#333" stroke-width="0.7"/>
<line x1="75.76" y1="737.00" x2="75.76" y2="739.60" stroke="#333" stroke-width="0.7"/>
<line x1="76.62" y1="737.00" x2="76.62" y2="741.80" stroke="#333" stroke-width="0.7"/>
<line x1="82.32" y1="737.00" x2="82.32" y2="739.60" stroke="#333" stroke-width="0.7"/>
<line x1="85.65" y1="737.00" x2="85.65" y2="739.60" stroke="#333" stroke-width="0.7"/>
<line x1="88.02" y1="737.00" x2="88.02" y2="739.60" stroke="#333" stroke-width="0.7"/>
<line x1="89.85" y1="737.00" x2="89.85" y2="739.60" stroke="#333" stroke-width="0.7"/>
<line x1="91.35" y1="737.00" x2="91.35" y2="739.60" stroke="#333" stroke-width="0.7"/>
<line x1="92.62" y1="737.00" x2="92.62" y2="739.60" stroke="#333" stroke-width="0.7"/>
<line x1="93.72" y1="737.00" x2="93.72" y2="739.60" stroke="#333" stroke-width="0.7"/>
<line x1="94.68" y1="737.00" x2="94.68" y2="739.60" stroke="#333" stroke-width="0.7"/>
<line x1="95.55" y1="737.00" x2="95.55" y2="741.80" stroke="#333" stroke-width="0.7"/>
<line x1="101.25" y1="737.00" x2="101.25" y2="739.60" stroke="#333" stroke-width="0.7"/>
<line x1="104.58" y1="737.00" x2="104.58" y2="739.60" stroke="#333" stroke-width="0.7"/>
<line x1="106.94" y1="737.00" x2="106.94" y2="739.60" stroke="#333" stroke-width="0.7"/>
<line x1="108.78" y1="737.00" x2="108.78" y2="739.60" stroke="#333" stroke-width="0.7"/>
<line x1="110.28" y1="737.00" x2="110.28" y2="739.60" stroke="#333" stroke-width="0.7"/>
<line x1="111.54" y1="737.00" x2="111.54" y2="739.60" stroke="#333" stroke-width="0.7"/>
<line x1="112.64" y1="737.00" x2="112.64" y2="739.60" stroke="#333" stroke-width="0.7"/>
<line x1="113.61" y1="737.00" x2="113.61" y2="739.60" stroke="#333" stroke-width="0.7"/>
<line x1="114.48" y1="737.00" x2="114.48" y2="741.80" stroke="#333" stroke-width="0.7"/>
<line x1="120.17" y1="737.00" x2="120.17" y2="739.60" stroke="#333" stroke-width="0.7"/>
<line x1="123.50" y1="737.00" x2="123.50" y2="739.60" stroke="#333" stroke-width="0.7"/>
<line x1="125.87" y1="737.00" x2="125.87" y2="739.60" stroke="#333" stroke-width="0.7"/>
<line x1="127.70" y1="737.00" x2="127.70" y2="739.60" stroke="#333" stroke-width="0.7"/>
<line x1="129.20" y1="737.00" x2="129.20" y2="739.60" stroke="#333" stroke-width="0.7"/>
<line x1="130.47" y1="737.00" x2="130.47" y2="739.60" stroke="#333" stroke-width="0.7"/>
<line x1="131.57" y1="737.00" x2="131.57" y2="739.60" stroke="#333" stroke-width="0.7"/>
<line x1="132.53" y1="737.00" x2="132.53" y2="739.60" stroke="#333" stroke-width="0.7"/>
<line x1="133.40" y1="737.00" x2="133.40" y2="741.80" stroke="#333" stroke-width="0.7"/>
<rect x="87.70" y="19.70" width="38.80" height="27.50" stroke="#8a8a8a" stroke-width="0.75" fill="none"/>
<rect x="112.10" y="18.50" width="14.70" height="8.00" fill="#fff"/>
<text x="113.00" y="25.50" font-size="5.4" fill="#333" font-family="Liberation Serif">0.78%</text>
<rect x="219.70" y="24.00" width="41.80" height="23.40" stroke="#8a8a8a" stroke-width="0.75" fill="none"/>
<rect x="245.10" y="22.80" width="14.70" height="7.70" fill="#fff"/>
<text x="246.00" y="29.50" font-size="5.4" fill="#333" font-family="Liberation Serif">0.88%</text>
<rect x="350.70" y="23.00" width="19.90" height="14.60" stroke="#8a8a8a" stroke-width="0.75" fill="none"/>
<text x="367.30" y="32.50" font-size="5.4" fill="#333" font-family="Liberation Serif">0.67%</text>
<rect x="427.70" y="23.40" width="21.90" height="15.40" stroke="#8a8a8a" stroke-width="0.75" fill="none"/>
<text x="436.60" y="34.00" font-size="5.5" fill="#333" font-family="Liberation Serif">-100.0%</text>
<rect x="82.70" y="591.20" width="48.90" height="36.00" stroke="#8a8a8a" stroke-width="0.75" fill="none"/>
<text x="70.40" y="590.30" font-size="5.4" fill="#333" font-family="Liberation Serif">17.7%</text>
<rect x="82.70" y="672.60" width="48.80" height="35.40" stroke="#8a8a8a" stroke-width="0.75" fill="none"/>
<text x="71.90" y="671.60" font-size="5.4" fill="#333" font-family="Liberation Serif">6.4%</text>
<text x="27.50" y="587.00" font-size="8.1" text-anchor="start" fill="#1e1e1e" stroke="#1e1e1e" stroke-width="0.22">FBL3</text>
<text x="27.90" y="670.20" font-size="7.6" text-anchor="start" fill="#1e1e1e" stroke="#1e1e1e" stroke-width="0.22">H11</text>
<line x1="13.20" y1="723.45" x2="13.20" y2="693.00" stroke="#4a4a4a" stroke-width="1.3"/>
<path d="M10.30,693.30 L13.20,688.20 L16.10,693.30 Z" fill="#111"/>
<line x1="12.55" y1="722.80" x2="42.80" y2="722.80" stroke="#4a4a4a" stroke-width="1.3"/>
<path d="M42.50,719.90 L47.60,722.80 L42.50,725.70 Z" fill="#111"/>
<text x="10.40" y="709.10" font-size="7.5" text-anchor="middle" transform="rotate(-90 10.40 709.10)" fill="#1e1e1e" stroke="#1e1e1e" stroke-width="0.22">CD44</text>
<text x="17.50" y="711.70" font-size="7.9" text-anchor="start" fill="#1e1e1e" stroke="#1e1e1e" stroke-width="0.22">gated</text>
<text x="17.50" y="720.70" font-size="7.9" text-anchor="start" fill="#1e1e1e" stroke="#1e1e1e" stroke-width="0.22">CD8<tspan font-size="5" dy="-3">+</tspan></text>
<text x="14.20" y="734.00" font-size="7.9" text-anchor="start" fill="#1e1e1e" stroke="#1e1e1e" stroke-width="0.22">IFN-γ</text>
<line x1="31.30" y1="123.00" x2="31.30" y2="261.20" stroke="#222" stroke-width="1.1"/>
<line x1="30.80" y1="260.70" x2="220.80" y2="260.70" stroke="#222" stroke-width="1.1"/>
<line x1="28.70" y1="260.70" x2="31.30" y2="260.70" stroke="#222" stroke-width="0.8"/>
<text x="27.90" y="263.20" font-size="7.0" font-weight="bold" text-anchor="end" fill="#1e1e1e" stroke="#1e1e1e" stroke-width="0.3">0</text>
<line x1="28.70" y1="233.16" x2="31.30" y2="233.16" stroke="#222" stroke-width="0.8"/>
<text x="27.90" y="235.66" font-size="7.0" font-weight="bold" text-anchor="end" fill="#1e1e1e" stroke="#1e1e1e" stroke-width="0.3">20</text>
<line x1="28.70" y1="205.62" x2="31.30" y2="205.62" stroke="#222" stroke-width="0.8"/>
<text x="27.90" y="208.12" font-size="7.0" font-weight="bold" text-anchor="end" fill="#1e1e1e" stroke="#1e1e1e" stroke-width="0.3">40</text>
<line x1="28.70" y1="178.08" x2="31.30" y2="178.08" stroke="#222" stroke-width="0.8"/>
<text x="27.90" y="180.58" font-size="7.0" font-weight="bold" text-anchor="end" fill="#1e1e1e" stroke="#1e1e1e" stroke-width="0.3">60</text>
<line x1="28.70" y1="150.54" x2="31.30" y2="150.54" stroke="#222" stroke-width="0.8"/>
<text x="27.90" y="153.04" font-size="7.0" font-weight="bold" text-anchor="end" fill="#1e1e1e" stroke="#1e1e1e" stroke-width="0.3">80</text>
<line x1="28.70" y1="123.00" x2="31.30" y2="123.00" stroke="#222" stroke-width="0.8"/>
<text x="27.90" y="125.50" font-size="7.0" font-weight="bold" text-anchor="end" fill="#1e1e1e" stroke="#1e1e1e" stroke-width="0.3">100</text>
<line x1="31.30" y1="260.70" x2="31.30" y2="263.30" stroke="#222" stroke-width="0.8"/>
<text x="31.30" y="271.30" font-size="7.0" font-weight="bold" text-anchor="middle" fill="#1e1e1e" stroke="#1e1e1e" stroke-width="0.3">0</text>
<line x1="69.20" y1="260.70" x2="69.20" y2="263.30" stroke="#222" stroke-width="0.8"/>
<text x="69.20" y="271.30" font-size="7.0" font-weight="bold" text-anchor="middle" fill="#1e1e1e" stroke="#1e1e1e" stroke-width="0.3">10</text>
<line x1="107.10" y1="260.70" x2="107.10" y2="263.30" stroke="#222" stroke-width="0.8"/>
<text x="107.10" y="271.30" font-size="7.0" font-weight="bold" text-anchor="middle" fill="#1e1e1e" stroke="#1e1e1e" stroke-width="0.3">20</text>
<line x1="145.00" y1="260.70" x2="145.00" y2="263.30" stroke="#222" stroke-width="0.8"/>
<text x="145.00" y="271.30" font-size="7.0" font-weight="bold" text-anchor="middle" fill="#1e1e1e" stroke="#1e1e1e" stroke-width="0.3">30</text>
<line x1="182.90" y1="260.70" x2="182.90" y2="263.30" stroke="#222" stroke-width="0.8"/>
<text x="182.90" y="271.30" font-size="7.0" font-weight="bold" text-anchor="middle" fill="#1e1e1e" stroke="#1e1e1e" stroke-width="0.3">40</text>
<line x1="220.80" y1="260.70" x2="220.80" y2="263.30" stroke="#222" stroke-width="0.8"/>
<text x="220.80" y="271.30" font-size="7.0" font-weight="bold" text-anchor="middle" fill="#1e1e1e" stroke="#1e1e1e" stroke-width="0.3">50</text>
<text x="9.60" y="192.85" font-size="8.0" font-weight="bold" text-anchor="middle" transform="rotate(-90 9.60 192.85)" fill="#1e1e1e" stroke="#1e1e1e" stroke-width="0.3">Percent survival</text>
<text x="131.80" y="113.60" font-size="9.4" text-anchor="middle" fill="#1e1e1e" stroke="#1e1e1e" stroke-width="0.22">LP/J -&gt; C57BL/6</text>
<text x="71.30" y="282.80" font-size="8.15" font-weight="bold" text-anchor="start" fill="#1e1e1e" stroke="#1e1e1e" stroke-width="0.3">Days post tumor inoculation</text>
<path d="M31.30,123.00 L95.73,123.00 L95.73,136.77 L99.52,136.77 L99.52,150.54 L110.89,150.54 L110.89,164.31 L114.68,164.31 L114.68,178.08 L118.47,178.08 L118.47,205.62 L122.26,205.62 L122.26,233.16 L126.05,233.16 L126.05,246.93 L129.84,246.93 L129.84,260.70" stroke="#222" stroke-width="1.3" fill="none"/>
<circle cx="95.73" cy="136.77" r="1.50" fill="#bbb" stroke="#777" stroke-width="0.6"/>
<circle cx="99.52" cy="150.54" r="1.50" fill="#bbb" stroke="#777" stroke-width="0.6"/>
<circle cx="110.89" cy="164.31" r="1.50" fill="#bbb" stroke="#777" stroke-width="0.6"/>
<circle cx="114.68" cy="178.08" r="1.50" fill="#bbb" stroke="#777" stroke-width="0.6"/>
<circle cx="118.47" cy="205.62" r="1.50" fill="#bbb" stroke="#777" stroke-width="0.6"/>
<circle cx="122.26" cy="233.16" r="1.50" fill="#bbb" stroke="#777" stroke-width="0.6"/>
<circle cx="126.05" cy="246.93" r="1.50" fill="#bbb" stroke="#777" stroke-width="0.6"/>
<circle cx="129.84" cy="260.70" r="1.50" fill="#bbb" stroke="#777" stroke-width="0.6"/>
<path d="M31.30,123.00 L84.36,123.00 L84.36,136.77 L88.15,136.77 L88.15,150.54 L95.73,150.54 L95.73,178.08 L99.52,178.08 L99.52,219.39 L103.31,219.39 L103.31,233.16 L118.47,233.16 L118.47,260.70" stroke="#222" stroke-width="1.3" fill="none"/>
<circle cx="84.36" cy="136.77" r="1.35" fill="#111"/>
<circle cx="88.15" cy="150.54" r="1.35" fill="#111"/>
<circle cx="95.73" cy="178.08" r="1.35" fill="#111"/>
<circle cx="99.52" cy="219.39" r="1.35" fill="#111"/>
<circle cx="103.31" cy="233.16" r="1.35" fill="#111"/>
<circle cx="118.47" cy="260.70" r="1.35" fill="#111"/>
<path d="M31.30,123.00 L137.42,123.00 L137.42,136.77 L141.21,136.77 L141.21,150.54 L160.16,150.54 L160.16,164.31 L163.95,164.31 L163.95,178.08 L167.74,178.08 L167.74,191.85 L171.53,191.85 L171.53,205.62 L220.80,205.62" stroke="#222" stroke-width="1.3" fill="none"/>
<rect x="135.82" y="135.17" width="3.20" height="3.20" fill="#111"/>
<rect x="139.61" y="148.94" width="3.20" height="3.20" fill="#111"/>
<rect x="158.56" y="162.71" width="3.20" height="3.20" fill="#111"/>
<rect x="162.35" y="176.48" width="3.20" height="3.20" fill="#111"/>
<rect x="166.14" y="190.25" width="3.20" height="3.20" fill="#111"/>
<rect x="169.93" y="204.02" width="3.20" height="3.20" fill="#111"/>
<rect x="219.20" y="204.02" width="3.20" height="3.20" fill="#111"/>
<path d="M31.30,123.00 L110.89,123.00 L110.89,136.77 L148.79,136.77 L148.79,150.54 L156.37,150.54 L156.37,164.31 L160.16,164.31 L160.16,205.62 L167.74,205.62 L167.74,219.39 L220.80,219.39" stroke="#222" stroke-width="1.3" fill="none"/>
<path d="M109.09,138.21 L110.89,134.97 L112.69,138.21 Z" fill="#111"/>
<path d="M146.99,151.98 L148.79,148.74 L150.59,151.98 Z" fill="#111"/>
<path d="M154.57,165.75 L156.37,162.51 L158.17,165.75 Z" fill="#111"/>
<path d="M158.36,207.06 L160.16,203.82 L161.96,207.06 Z" fill="#111"/>
<path d="M165.94,220.83 L167.74,217.59 L169.54,220.83 Z" fill="#111"/>
<path d="M219.00,220.83 L220.80,217.59 L222.60,220.83 Z" fill="#111"/>
<line x1="72.20" y1="290.00" x2="82.40" y2="290.00" stroke="#333" stroke-width="1.2"/>
<circle cx="77.30" cy="290.00" r="1.80" fill="#bbb" stroke="#777" stroke-width="0.6"/>
<text x="88.30" y="292.50" font-size="7.0" text-anchor="start" fill="#444" stroke="#444" stroke-width="0.22">IFA Vac CD4</text>
<line x1="72.20" y1="299.70" x2="82.40" y2="299.70" stroke="#111" stroke-width="1.2"/>
<circle cx="77.30" cy="299.70" r="1.62" fill="#111"/>
<text x="88.30" y="302.20" font-size="7.0" text-anchor="start" fill="#1a1a1a" stroke="#1a1a1a" stroke-width="0.22">WT1+IFA Vac WT1-tet<tspan font-size="4.5" dy="-2.6">+</tspan><tspan dy="2.6"> CD8</tspan></text>
<line x1="72.20" y1="309.20" x2="82.40" y2="309.20" stroke="#111" stroke-width="1.2"/>
<rect x="75.38" y="307.28" width="3.84" height="3.84" fill="#111"/>
<text x="88.30" y="311.70" font-size="7.0" text-anchor="start" fill="#1a1a1a" stroke="#1a1a1a" stroke-width="0.22">WT1+IFA Vac WT1-tet<tspan font-size="4.5" dy="-2.6">+</tspan><tspan dy="2.6"> CD8 + IFA Vac CD4</tspan></text>
<line x1="72.20" y1="318.60" x2="82.40" y2="318.60" stroke="#111" stroke-width="1.2"/>
<path d="M75.14,320.33 L77.30,316.44 L79.46,320.33 Z" fill="#111"/>
<text x="88.30" y="321.10" font-size="7.0" text-anchor="start" fill="#1a1a1a" stroke="#1a1a1a" stroke-width="0.22">WT1+IFA Vac WT1-tet<tspan font-size="4.5" dy="-2.6">+</tspan><tspan dy="2.6"> CD8 + WT1+IFA Vac CD4</tspan></text>
<line x1="31.50" y1="355.80" x2="31.50" y2="493.80" stroke="#222" stroke-width="1.1"/>
<line x1="31.00" y1="493.30" x2="221.00" y2="493.30" stroke="#222" stroke-width="1.1"/>
<line x1="28.90" y1="493.30" x2="31.50" y2="493.30" stroke="#222" stroke-width="0.8"/>
<text x="28.10" y="495.80" font-size="7.0" font-weight="bold" text-anchor="end" fill="#1e1e1e" stroke="#1e1e1e" stroke-width="0.3">0</text>
<line x1="28.90" y1="465.80" x2="31.50" y2="465.80" stroke="#222" stroke-width="0.8"/>
<text x="28.10" y="468.30" font-size="7.0" font-weight="bold" text-anchor="end" fill="#1e1e1e" stroke="#1e1e1e" stroke-width="0.3">20</text>
<line x1="28.90" y1="438.30" x2="31.50" y2="438.30" stroke="#222" stroke-width="0.8"/>
<text x="28.10" y="440.80" font-size="7.0" font-weight="bold" text-anchor="end" fill="#1e1e1e" stroke="#1e1e1e" stroke-width="0.3">40</text>
<line x1="28.90" y1="410.80" x2="31.50" y2="410.80" stroke="#222" stroke-width="0.8"/>
<text x="28.10" y="413.30" font-size="7.0" font-weight="bold" text-anchor="end" fill="#1e1e1e" stroke="#1e1e1e" stroke-width="0.3">60</text>
<line x1="28.90" y1="383.30" x2="31.50" y2="383.30" stroke="#222" stroke-width="0.8"/>
<text x="28.10" y="385.80" font-size="7.0" font-weight="bold" text-anchor="end" fill="#1e1e1e" stroke="#1e1e1e" stroke-width="0.3">80</text>
<line x1="28.90" y1="355.80" x2="31.50" y2="355.80" stroke="#222" stroke-width="0.8"/>
<text x="28.10" y="358.30" font-size="7.0" font-weight="bold" text-anchor="end" fill="#1e1e1e" stroke="#1e1e1e" stroke-width="0.3">100</text>
<line x1="31.50" y1="493.30" x2="31.50" y2="495.90" stroke="#222" stroke-width="0.8"/>
<text x="31.50" y="503.90" font-size="7.0" font-weight="bold" text-anchor="middle" fill="#1e1e1e" stroke="#1e1e1e" stroke-width="0.3">0</text>
<line x1="69.40" y1="493.30" x2="69.40" y2="495.90" stroke="#222" stroke-width="0.8"/>
<text x="69.40" y="503.90" font-size="7.0" font-weight="bold" text-anchor="middle" fill="#1e1e1e" stroke="#1e1e1e" stroke-width="0.3">10</text>
<line x1="107.30" y1="493.30" x2="107.30" y2="495.90" stroke="#222" stroke-width="0.8"/>
<text x="107.30" y="503.90" font-size="7.0" font-weight="bold" text-anchor="middle" fill="#1e1e1e" stroke="#1e1e1e" stroke-width="0.3">20</text>
<line x1="145.20" y1="493.30" x2="145.20" y2="495.90" stroke="#222" stroke-width="0.8"/>
<text x="145.20" y="503.90" font-size="7.0" font-weight="bold" text-anchor="middle" fill="#1e1e1e" stroke="#1e1e1e" stroke-width="0.3">30</text>
<line x1="183.10" y1="493.30" x2="183.10" y2="495.90" stroke="#222" stroke-width="0.8"/>
<text x="183.10" y="503.90" font-size="7.0" font-weight="bold" text-anchor="middle" fill="#1e1e1e" stroke="#1e1e1e" stroke-width="0.3">40</text>
<line x1="221.00" y1="493.30" x2="221.00" y2="495.90" stroke="#222" stroke-width="0.8"/>
<text x="221.00" y="503.90" font-size="7.0" font-weight="bold" text-anchor="middle" fill="#1e1e1e" stroke="#1e1e1e" stroke-width="0.3">50</text>
<text x="9.60" y="425.55" font-size="8.0" font-weight="bold" text-anchor="middle" transform="rotate(-90 9.60 425.55)" fill="#1e1e1e" stroke="#1e1e1e" stroke-width="0.3">Percent survival</text>
<text x="123.50" y="348.90" font-size="9.4" text-anchor="middle" fill="#1e1e1e" stroke="#1e1e1e" stroke-width="0.22">C3H.SW -&gt; C57BL/6</text>
<text x="71.50" y="515.40" font-size="8.15" font-weight="bold" text-anchor="start" fill="#1e1e1e" stroke="#1e1e1e" stroke-width="0.3">Days post tumor inoculation</text>
<path d="M31.50,355.80 L95.93,355.80 L95.93,369.55 L99.72,369.55 L99.72,383.30 L111.09,383.30 L111.09,397.05 L114.88,397.05 L114.88,410.80 L118.67,410.80 L118.67,438.30 L122.46,438.30 L122.46,465.80 L126.25,465.80 L126.25,479.55 L130.04,479.55 L130.04,493.30" stroke="#222" stroke-width="1.3" fill="none"/>
<circle cx="95.93" cy="369.55" r="1.50" fill="#bbb" stroke="#777" stroke-width="0.6"/>
<circle cx="99.72" cy="383.30" r="1.50" fill="#bbb" stroke="#777" stroke-width="0.6"/>
<circle cx="111.09" cy="397.05" r="1.50" fill="#bbb" stroke="#777" stroke-width="0.6"/>
<circle cx="114.88" cy="410.80" r="1.50" fill="#bbb" stroke="#777" stroke-width="0.6"/>
<circle cx="118.67" cy="438.30" r="1.50" fill="#bbb" stroke="#777" stroke-width="0.6"/>
<circle cx="122.46" cy="465.80" r="1.50" fill="#bbb" stroke="#777" stroke-width="0.6"/>
<circle cx="126.25" cy="479.55" r="1.50" fill="#bbb" stroke="#777" stroke-width="0.6"/>
<circle cx="130.04" cy="493.30" r="1.50" fill="#bbb" stroke="#777" stroke-width="0.6"/>
<path d="M31.50,355.80 L84.56,355.80 L84.56,369.55 L88.35,369.55 L88.35,383.30 L92.14,383.30 L92.14,397.05 L95.93,397.05 L95.93,424.55 L99.72,424.55 L99.72,452.05 L118.67,452.05 L118.67,465.80 L122.46,465.80 L122.46,479.55 L133.83,479.55 L133.83,493.30" stroke="#222" stroke-width="1.3" fill="none"/>
<circle cx="84.56" cy="369.55" r="1.35" fill="#111"/>
<circle cx="88.35" cy="383.30" r="1.35" fill="#111"/>
<circle cx="92.14" cy="397.05" r="1.35" fill="#111"/>
<circle cx="95.93" cy="424.55" r="1.35" fill="#111"/>
<circle cx="99.72" cy="452.05" r="1.35" fill="#111"/>
<circle cx="118.67" cy="465.80" r="1.35" fill="#111"/>
<circle cx="122.46" cy="479.55" r="1.35" fill="#111"/>
<circle cx="133.83" cy="493.30" r="1.35" fill="#111"/>
<path d="M31.50,355.80 L137.62,355.80 L137.62,369.55 L141.41,369.55 L141.41,383.30 L160.36,383.30 L160.36,397.05 L164.15,397.05 L164.15,410.80 L167.94,410.80 L167.94,424.55 L171.73,424.55 L171.73,438.30 L221.00,438.30" stroke="#222" stroke-width="1.3" fill="none"/>
<rect x="136.02" y="367.95" width="3.20" height="3.20" fill="#111"/>
<rect x="139.81" y="381.70" width="3.20" height="3.20" fill="#111"/>
<rect x="158.76" y="395.45" width="3.20" height="3.20" fill="#111"/>
<rect x="162.55" y="409.20" width="3.20" height="3.20" fill="#111"/>
<rect x="166.34" y="422.95" width="3.20" height="3.20" fill="#111"/>
<rect x="170.13" y="436.70" width="3.20" height="3.20" fill="#111"/>
<rect x="219.40" y="436.70" width="3.20" height="3.20" fill="#111"/>
<path d="M31.50,355.80 L118.67,355.80 L118.67,369.55 L130.04,369.55 L130.04,383.30 L133.83,383.30 L133.83,397.05 L148.99,397.05 L148.99,410.80 L164.15,410.80 L164.15,424.55 L221.00,424.55" stroke="#222" stroke-width="1.3" fill="none"/>
<path d="M116.87,370.99 L118.67,367.75 L120.47,370.99 Z" fill="#111"/>
<path d="M128.24,384.74 L130.04,381.50 L131.84,384.74 Z" fill="#111"/>
<path d="M132.03,398.49 L133.83,395.25 L135.63,398.49 Z" fill="#111"/>
<path d="M147.19,412.24 L148.99,409.00 L150.79,412.24 Z" fill="#111"/>
<path d="M162.35,425.99 L164.15,422.75 L165.95,425.99 Z" fill="#111"/>
<path d="M219.20,425.99 L221.00,422.75 L222.80,425.99 Z" fill="#111"/>
<line x1="72.20" y1="521.90" x2="82.40" y2="521.90" stroke="#333" stroke-width="1.2"/>
<circle cx="77.30" cy="521.90" r="1.80" fill="#bbb" stroke="#777" stroke-width="0.6"/>
<text x="88.30" y="524.40" font-size="7.0" text-anchor="start" fill="#444" stroke="#444" stroke-width="0.22">IFA Vac CD4</text>
<line x1="72.20" y1="531.70" x2="82.40" y2="531.70" stroke="#111" stroke-width="1.2"/>
<circle cx="77.30" cy="531.70" r="1.62" fill="#111"/>
<text x="88.30" y="534.20" font-size="7.0" text-anchor="start" fill="#1a1a1a" stroke="#1a1a1a" stroke-width="0.22">WT1+IFA Vac WT1-tet<tspan font-size="4.5" dy="-2.6">+</tspan><tspan dy="2.6"> CD8</tspan></text>
<line x1="72.20" y1="541.00" x2="82.40" y2="541.00" stroke="#111" stroke-width="1.2"/>
<rect x="75.38" y="539.08" width="3.84" height="3.84" fill="#111"/>
<text x="88.30" y="543.50" font-size="7.0" text-anchor="start" fill="#1a1a1a" stroke="#1a1a1a" stroke-width="0.22">WT1+IFA Vac WT1-tet<tspan font-size="4.5" dy="-2.6">+</tspan><tspan dy="2.6"> CD8 + IFA Vac CD4</tspan></text>
<line x1="72.20" y1="550.30" x2="82.40" y2="550.30" stroke="#111" stroke-width="1.2"/>
<path d="M75.14,552.03 L77.30,548.14 L79.46,552.03 Z" fill="#111"/>
<text x="88.30" y="552.80" font-size="7.0" text-anchor="start" fill="#1a1a1a" stroke="#1a1a1a" stroke-width="0.22">WT1+IFA Vac WT1-tet<tspan font-size="4.5" dy="-2.6">+</tspan><tspan dy="2.6"> CD8 + WT1+IFA Vac CD4</tspan></text>
<line x1="306.30" y1="108.30" x2="306.30" y2="261.80" stroke="#222" stroke-width="1.1"/>
<line x1="305.80" y1="261.30" x2="495.30" y2="261.30" stroke="#222" stroke-width="1.1"/>
<line x1="303.70" y1="261.30" x2="306.30" y2="261.30" stroke="#222" stroke-width="0.8"/>
<line x1="304.80" y1="248.55" x2="306.30" y2="248.55" stroke="#222" stroke-width="0.7"/>
<text x="302.70" y="263.90" font-size="7.2" font-weight="bold" text-anchor="end" fill="#1e1e1e" stroke="#1e1e1e" stroke-width="0.3">0</text>
<line x1="303.70" y1="235.80" x2="306.30" y2="235.80" stroke="#222" stroke-width="0.8"/>
<line x1="304.80" y1="223.05" x2="306.30" y2="223.05" stroke="#222" stroke-width="0.7"/>
<text x="301.50" y="238.40" font-size="7.2" font-weight="bold" text-anchor="end" fill="#1e1e1e" stroke="#1e1e1e" stroke-width="0.3">5.0×10<tspan font-size="4.4" dy="-3">3</tspan></text>
<line x1="303.70" y1="210.30" x2="306.30" y2="210.30" stroke="#222" stroke-width="0.8"/>
<line x1="304.80" y1="197.55" x2="306.30" y2="197.55" stroke="#222" stroke-width="0.7"/>
<text x="301.50" y="212.90" font-size="7.2" font-weight="bold" text-anchor="end" fill="#1e1e1e" stroke="#1e1e1e" stroke-width="0.3">1.0×10<tspan font-size="4.4" dy="-3">4</tspan></text>
<line x1="303.70" y1="184.80" x2="306.30" y2="184.80" stroke="#222" stroke-width="0.8"/>
<line x1="304.80" y1="172.05" x2="306.30" y2="172.05" stroke="#222" stroke-width="0.7"/>
<text x="301.50" y="187.40" font-size="7.2" font-weight="bold" text-anchor="end" fill="#1e1e1e" stroke="#1e1e1e" stroke-width="0.3">1.5×10<tspan font-size="4.4" dy="-3">4</tspan></text>
<line x1="303.70" y1="159.30" x2="306.30" y2="159.30" stroke="#222" stroke-width="0.8"/>
<line x1="304.80" y1="146.55" x2="306.30" y2="146.55" stroke="#222" stroke-width="0.7"/>
<text x="301.50" y="161.90" font-size="7.2" font-weight="bold" text-anchor="end" fill="#1e1e1e" stroke="#1e1e1e" stroke-width="0.3">2.0×10<tspan font-size="4.4" dy="-3">4</tspan></text>
<line x1="303.70" y1="133.80" x2="306.30" y2="133.80" stroke="#222" stroke-width="0.8"/>
<line x1="304.80" y1="121.05" x2="306.30" y2="121.05" stroke="#222" stroke-width="0.7"/>
<text x="301.50" y="136.40" font-size="7.2" font-weight="bold" text-anchor="end" fill="#1e1e1e" stroke="#1e1e1e" stroke-width="0.3">2.5×10<tspan font-size="4.4" dy="-3">4</tspan></text>
<line x1="303.70" y1="108.30" x2="306.30" y2="108.30" stroke="#222" stroke-width="0.8"/>
<text x="301.50" y="110.90" font-size="7.2" font-weight="bold" text-anchor="end" fill="#1e1e1e" stroke="#1e1e1e" stroke-width="0.3">3.0×10<tspan font-size="4.4" dy="-3">4</tspan></text>
<line x1="306.30" y1="261.30" x2="306.30" y2="263.90" stroke="#222" stroke-width="0.8"/>
<text x="306.30" y="271.90" font-size="7.0" font-weight="bold" text-anchor="middle" fill="#1e1e1e" stroke="#1e1e1e" stroke-width="0.3">0</text>
<line x1="348.30" y1="261.30" x2="348.30" y2="263.90" stroke="#222" stroke-width="0.8"/>
<text x="348.30" y="271.90" font-size="7.0" font-weight="bold" text-anchor="middle" fill="#1e1e1e" stroke="#1e1e1e" stroke-width="0.3">10</text>
<line x1="390.30" y1="261.30" x2="390.30" y2="263.90" stroke="#222" stroke-width="0.8"/>
<text x="390.30" y="271.90" font-size="7.0" font-weight="bold" text-anchor="middle" fill="#1e1e1e" stroke="#1e1e1e" stroke-width="0.3">20</text>
<line x1="432.30" y1="261.30" x2="432.30" y2="263.90" stroke="#222" stroke-width="0.8"/>
<text x="432.30" y="271.90" font-size="7.0" font-weight="bold" text-anchor="middle" fill="#1e1e1e" stroke="#1e1e1e" stroke-width="0.3">30</text>
<line x1="474.30" y1="261.30" x2="474.30" y2="263.90" stroke="#222" stroke-width="0.8"/>
<text x="474.30" y="271.90" font-size="7.0" font-weight="bold" text-anchor="middle" fill="#1e1e1e" stroke="#1e1e1e" stroke-width="0.3">40</text>
<line x1="327.30" y1="261.30" x2="327.30" y2="262.90" stroke="#222" stroke-width="0.8"/>
<line x1="369.30" y1="261.30" x2="369.30" y2="262.90" stroke="#222" stroke-width="0.8"/>
<line x1="411.30" y1="261.30" x2="411.30" y2="262.90" stroke="#222" stroke-width="0.8"/>
<line x1="453.30" y1="261.30" x2="453.30" y2="262.90" stroke="#222" stroke-width="0.8"/>
<line x1="495.30" y1="261.30" x2="495.30" y2="262.90" stroke="#222" stroke-width="0.8"/>
<text x="266.10" y="185.30" font-size="8.3" font-weight="bold" text-anchor="middle" transform="rotate(-90 266.10 185.30)" fill="#1e1e1e" stroke="#1e1e1e" stroke-width="0.3">Avg Radiance (p/s/cm<tspan font-size="5.2" dy="-3">2</tspan><tspan dy="3">/sr)</tspan></text>
<text x="358.60" y="113.40" font-size="9.4" text-anchor="start" fill="#1e1e1e" stroke="#1e1e1e" stroke-width="0.22">LP/J -&gt; C57BL/6</text>
<text x="345.60" y="283.60" font-size="8.15" font-weight="bold" text-anchor="start" fill="#1e1e1e" stroke="#1e1e1e" stroke-width="0.3">Days post tumor inoculation</text>
<path d="M306.30,261.30 L318.90,255.69 L365.10,156.95" stroke="#555" stroke-width="0.7" fill="none"/>
<circle cx="318.90" cy="255.69" r="1.88" fill="#bbb" stroke="#777" stroke-width="0.6"/>
<line x1="365.10" y1="150.83" x2="365.10" y2="164.60" stroke="#333" stroke-width="0.7"/>
<line x1="363.70" y1="150.83" x2="366.50" y2="150.83" stroke="#333" stroke-width="0.7"/>
<line x1="363.70" y1="164.60" x2="366.50" y2="164.60" stroke="#333" stroke-width="0.7"/>
<circle cx="365.10" cy="156.95" r="1.88" fill="#bbb" stroke="#777" stroke-width="0.6"/>
<path d="M306.30,261.30 L318.90,255.44 L365.10,141.55" stroke="#222" stroke-width="0.7" fill="none"/>
<circle cx="318.90" cy="255.44" r="1.69" fill="#111"/>
<line x1="365.10" y1="132.37" x2="365.10" y2="147.67" stroke="#333" stroke-width="0.7"/>
<line x1="363.70" y1="132.37" x2="366.50" y2="132.37" stroke="#333" stroke-width="0.7"/>
<line x1="363.70" y1="147.67" x2="366.50" y2="147.67" stroke="#333" stroke-width="0.7"/>
<circle cx="365.10" cy="141.55" r="1.69" fill="#111"/>
<path d="M306.30,261.30 L318.90,255.44 L365.10,236.56 L423.90,189.85 L482.70,252.38" stroke="#222" stroke-width="0.7" fill="none"/>
<rect x="316.90" y="253.44" width="4.00" height="4.00" fill="#111"/>
<line x1="365.10" y1="233.00" x2="365.10" y2="238.09" stroke="#333" stroke-width="0.7"/>
<line x1="363.70" y1="233.00" x2="366.50" y2="233.00" stroke="#333" stroke-width="0.7"/>
<line x1="363.70" y1="238.09" x2="366.50" y2="238.09" stroke="#333" stroke-width="0.7"/>
<rect x="363.10" y="234.56" width="4.00" height="4.00" fill="#111"/>
<line x1="423.90" y1="177.61" x2="423.90" y2="194.95" stroke="#333" stroke-width="0.7"/>
<line x1="422.50" y1="177.61" x2="425.30" y2="177.61" stroke="#333" stroke-width="0.7"/>
<line x1="422.50" y1="194.95" x2="425.30" y2="194.95" stroke="#333" stroke-width="0.7"/>
<rect x="421.90" y="187.85" width="4.00" height="4.00" fill="#111"/>
<line x1="482.70" y1="250.84" x2="482.70" y2="253.91" stroke="#333" stroke-width="0.7"/>
<line x1="481.30" y1="250.84" x2="484.10" y2="250.84" stroke="#333" stroke-width="0.7"/>
<line x1="481.30" y1="253.91" x2="484.10" y2="253.91" stroke="#333" stroke-width="0.7"/>
<rect x="480.70" y="250.38" width="4.00" height="4.00" fill="#111"/>
<path d="M306.30,261.30 L318.90,255.69 L365.10,238.86 L423.90,208.67 L482.70,253.14" stroke="#222" stroke-width="0.7" fill="none"/>
<path d="M316.65,257.49 L318.90,253.44 L321.15,257.49 Z" fill="#111"/>
<line x1="365.10" y1="237.33" x2="365.10" y2="241.41" stroke="#333" stroke-width="0.7"/>
<line x1="363.70" y1="237.33" x2="366.50" y2="237.33" stroke="#333" stroke-width="0.7"/>
<line x1="363.70" y1="241.41" x2="366.50" y2="241.41" stroke="#333" stroke-width="0.7"/>
<path d="M362.85,240.66 L365.10,236.61 L367.35,240.66 Z" fill="#111"/>
<line x1="423.90" y1="203.57" x2="423.90" y2="221.11" stroke="#333" stroke-width="0.7"/>
<line x1="422.50" y1="203.57" x2="425.30" y2="203.57" stroke="#333" stroke-width="0.7"/>
<line x1="422.50" y1="221.11" x2="425.30" y2="221.11" stroke="#333" stroke-width="0.7"/>
<path d="M421.65,210.47 L423.90,206.42 L426.15,210.47 Z" fill="#111"/>
<line x1="482.70" y1="251.61" x2="482.70" y2="254.67" stroke="#333" stroke-width="0.7"/>
<line x1="481.30" y1="251.61" x2="484.10" y2="251.61" stroke="#333" stroke-width="0.7"/>
<line x1="481.30" y1="254.67" x2="484.10" y2="254.67" stroke="#333" stroke-width="0.7"/>
<path d="M480.45,254.94 L482.70,250.89 L484.95,254.94 Z" fill="#111"/>
<line x1="347.00" y1="288.80" x2="357.50" y2="288.80" stroke="#333" stroke-width="1.2"/>
<circle cx="352.25" cy="288.80" r="1.80" fill="#bbb" stroke="#777" stroke-width="0.6"/>
<text x="363.00" y="291.30" font-size="7.0" text-anchor="start" fill="#444" stroke="#444" stroke-width="0.22">IFA Vac CD4</text>
<line x1="347.00" y1="298.60" x2="357.50" y2="298.60" stroke="#111" stroke-width="1.2"/>
<circle cx="352.25" cy="298.60" r="1.62" fill="#111"/>
<text x="363.00" y="301.10" font-size="7.0" text-anchor="start" fill="#1a1a1a" stroke="#1a1a1a" stroke-width="0.22">WT1+IFA Vac WT1-tet<tspan font-size="4.5" dy="-2.6">+</tspan><tspan dy="2.6"> CD8</tspan></text>
<line x1="347.00" y1="307.90" x2="357.50" y2="307.90" stroke="#111" stroke-width="1.2"/>
<rect x="350.33" y="305.98" width="3.84" height="3.84" fill="#111"/>
<text x="363.00" y="310.40" font-size="7.0" text-anchor="start" fill="#1a1a1a" stroke="#1a1a1a" stroke-width="0.22">WT1+IFA Vac WT1-tet<tspan font-size="4.5" dy="-2.6">+</tspan><tspan dy="2.6"> CD8 + IFA Vac CD4</tspan></text>
<line x1="347.00" y1="317.00" x2="357.50" y2="317.00" stroke="#111" stroke-width="1.2"/>
<path d="M350.09,318.73 L352.25,314.84 L354.41,318.73 Z" fill="#111"/>
<text x="363.00" y="319.50" font-size="7.0" text-anchor="start" fill="#1a1a1a" stroke="#1a1a1a" stroke-width="0.22">WT1+IFA Vac WT1-tet<tspan font-size="4.5" dy="-2.6">+</tspan><tspan dy="2.6"> CD8 + WT1+IFA Vac CD4</tspan></text>
<line x1="307.80" y1="344.00" x2="307.80" y2="497.50" stroke="#222" stroke-width="1.1"/>
<line x1="307.30" y1="497.00" x2="496.80" y2="497.00" stroke="#222" stroke-width="1.1"/>
<line x1="305.20" y1="497.00" x2="307.80" y2="497.00" stroke="#222" stroke-width="0.8"/>
<line x1="306.30" y1="484.25" x2="307.80" y2="484.25" stroke="#222" stroke-width="0.7"/>
<text x="304.20" y="499.60" font-size="7.2" font-weight="bold" text-anchor="end" fill="#1e1e1e" stroke="#1e1e1e" stroke-width="0.3">0</text>
<line x1="305.20" y1="471.50" x2="307.80" y2="471.50" stroke="#222" stroke-width="0.8"/>
<line x1="306.30" y1="458.75" x2="307.80" y2="458.75" stroke="#222" stroke-width="0.7"/>
<text x="303.00" y="474.10" font-size="7.2" font-weight="bold" text-anchor="end" fill="#1e1e1e" stroke="#1e1e1e" stroke-width="0.3">5.0×10<tspan font-size="4.4" dy="-3">3</tspan></text>
<line x1="305.20" y1="446.00" x2="307.80" y2="446.00" stroke="#222" stroke-width="0.8"/>
<line x1="306.30" y1="433.25" x2="307.80" y2="433.25" stroke="#222" stroke-width="0.7"/>
<text x="303.00" y="448.60" font-size="7.2" font-weight="bold" text-anchor="end" fill="#1e1e1e" stroke="#1e1e1e" stroke-width="0.3">1.0×10<tspan font-size="4.4" dy="-3">4</tspan></text>
<line x1="305.20" y1="420.50" x2="307.80" y2="420.50" stroke="#222" stroke-width="0.8"/>
<line x1="306.30" y1="407.75" x2="307.80" y2="407.75" stroke="#222" stroke-width="0.7"/>
<text x="303.00" y="423.10" font-size="7.2" font-weight="bold" text-anchor="end" fill="#1e1e1e" stroke="#1e1e1e" stroke-width="0.3">1.5×10<tspan font-size="4.4" dy="-3">4</tspan></text>
<line x1="305.20" y1="395.00" x2="307.80" y2="395.00" stroke="#222" stroke-width="0.8"/>
<line x1="306.30" y1="382.25" x2="307.80" y2="382.25" stroke="#222" stroke-width="0.7"/>
<text x="303.00" y="397.60" font-size="7.2" font-weight="bold" text-anchor="end" fill="#1e1e1e" stroke="#1e1e1e" stroke-width="0.3">2.0×10<tspan font-size="4.4" dy="-3">4</tspan></text>
<line x1="305.20" y1="369.50" x2="307.80" y2="369.50" stroke="#222" stroke-width="0.8"/>
<line x1="306.30" y1="356.75" x2="307.80" y2="356.75" stroke="#222" stroke-width="0.7"/>
<text x="303.00" y="372.10" font-size="7.2" font-weight="bold" text-anchor="end" fill="#1e1e1e" stroke="#1e1e1e" stroke-width="0.3">2.5×10<tspan font-size="4.4" dy="-3">4</tspan></text>
<line x1="305.20" y1="344.00" x2="307.80" y2="344.00" stroke="#222" stroke-width="0.8"/>
<text x="303.00" y="346.60" font-size="7.2" font-weight="bold" text-anchor="end" fill="#1e1e1e" stroke="#1e1e1e" stroke-width="0.3">3.0×10<tspan font-size="4.4" dy="-3">4</tspan></text>
<line x1="307.80" y1="497.00" x2="307.80" y2="499.60" stroke="#222" stroke-width="0.8"/>
<text x="307.80" y="507.60" font-size="7.0" font-weight="bold" text-anchor="middle" fill="#1e1e1e" stroke="#1e1e1e" stroke-width="0.3">0</text>
<line x1="349.80" y1="497.00" x2="349.80" y2="499.60" stroke="#222" stroke-width="0.8"/>
<text x="349.80" y="507.60" font-size="7.0" font-weight="bold" text-anchor="middle" fill="#1e1e1e" stroke="#1e1e1e" stroke-width="0.3">10</text>
<line x1="391.80" y1="497.00" x2="391.80" y2="499.60" stroke="#222" stroke-width="0.8"/>
<text x="391.80" y="507.60" font-size="7.0" font-weight="bold" text-anchor="middle" fill="#1e1e1e" stroke="#1e1e1e" stroke-width="0.3">20</text>
<line x1="433.80" y1="497.00" x2="433.80" y2="499.60" stroke="#222" stroke-width="0.8"/>
<text x="433.80" y="507.60" font-size="7.0" font-weight="bold" text-anchor="middle" fill="#1e1e1e" stroke="#1e1e1e" stroke-width="0.3">30</text>
<line x1="475.80" y1="497.00" x2="475.80" y2="499.60" stroke="#222" stroke-width="0.8"/>
<text x="475.80" y="507.60" font-size="7.0" font-weight="bold" text-anchor="middle" fill="#1e1e1e" stroke="#1e1e1e" stroke-width="0.3">40</text>
<line x1="328.80" y1="497.00" x2="328.80" y2="498.60" stroke="#222" stroke-width="0.8"/>
<line x1="370.80" y1="497.00" x2="370.80" y2="498.60" stroke="#222" stroke-width="0.8"/>
<line x1="412.80" y1="497.00" x2="412.80" y2="498.60" stroke="#222" stroke-width="0.8"/>
<line x1="454.80" y1="497.00" x2="454.80" y2="498.60" stroke="#222" stroke-width="0.8"/>
<line x1="496.80" y1="497.00" x2="496.80" y2="498.60" stroke="#222" stroke-width="0.8"/>
<text x="267.60" y="421.00" font-size="8.3" font-weight="bold" text-anchor="middle" transform="rotate(-90 267.60 421.00)" fill="#1e1e1e" stroke="#1e1e1e" stroke-width="0.3">Avg Radiance (p/s/cm<tspan font-size="5.2" dy="-3">2</tspan><tspan dy="3">/sr)</tspan></text>
<text x="357.00" y="349.60" font-size="9.4" text-anchor="start" fill="#1e1e1e" stroke="#1e1e1e" stroke-width="0.22">C3H.SW -&gt; C57BL/6</text>
<text x="347.10" y="519.30" font-size="8.15" font-weight="bold" text-anchor="start" fill="#1e1e1e" stroke="#1e1e1e" stroke-width="0.3">Days post tumor inoculation</text>
<path d="M307.80,497.00 L320.40,491.25 L366.60,384.80" stroke="#555" stroke-width="0.7" fill="none"/>
<circle cx="320.40" cy="491.25" r="1.88" fill="#bbb" stroke="#777" stroke-width="0.6"/>
<line x1="366.60" y1="380.72" x2="366.60" y2="396.02" stroke="#333" stroke-width="0.7"/>
<line x1="365.20" y1="380.72" x2="368.00" y2="380.72" stroke="#333" stroke-width="0.7"/>
<line x1="365.20" y1="396.02" x2="368.00" y2="396.02" stroke="#333" stroke-width="0.7"/>
<circle cx="366.60" cy="384.80" r="1.88" fill="#bbb" stroke="#777" stroke-width="0.6"/>
<path d="M307.80,497.00 L320.40,474.51 L366.60,381.79" stroke="#222" stroke-width="0.7" fill="none"/>
<line x1="320.40" y1="457.68" x2="320.40" y2="491.34" stroke="#333" stroke-width="0.7"/>
<line x1="319.00" y1="457.68" x2="321.80" y2="457.68" stroke="#333" stroke-width="0.7"/>
<line x1="319.00" y1="491.34" x2="321.80" y2="491.34" stroke="#333" stroke-width="0.7"/>
<circle cx="320.40" cy="474.51" r="1.69" fill="#111"/>
<line x1="366.60" y1="373.63" x2="366.60" y2="385.87" stroke="#333" stroke-width="0.7"/>
<line x1="365.20" y1="373.63" x2="368.00" y2="373.63" stroke="#333" stroke-width="0.7"/>
<line x1="365.20" y1="385.87" x2="368.00" y2="385.87" stroke="#333" stroke-width="0.7"/>
<circle cx="366.60" cy="381.79" r="1.69" fill="#111"/>
<path d="M307.80,497.00 L320.40,491.25 L366.60,460.00 L425.40,454.42 L484.20,490.37" stroke="#222" stroke-width="0.7" fill="none"/>
<rect x="318.40" y="489.25" width="4.00" height="4.00" fill="#111"/>
<line x1="366.60" y1="454.39" x2="366.60" y2="464.59" stroke="#333" stroke-width="0.7"/>
<line x1="365.20" y1="454.39" x2="368.00" y2="454.39" stroke="#333" stroke-width="0.7"/>
<line x1="365.20" y1="464.59" x2="368.00" y2="464.59" stroke="#333" stroke-width="0.7"/>
<rect x="364.60" y="458.00" width="4.00" height="4.00" fill="#111"/>
<line x1="425.40" y1="433.00" x2="425.40" y2="462.06" stroke="#333" stroke-width="0.7"/>
<line x1="424.00" y1="433.00" x2="426.80" y2="433.00" stroke="#333" stroke-width="0.7"/>
<line x1="424.00" y1="462.06" x2="426.80" y2="462.06" stroke="#333" stroke-width="0.7"/>
<rect x="423.40" y="452.42" width="4.00" height="4.00" fill="#111"/>
<line x1="484.20" y1="489.35" x2="484.20" y2="491.39" stroke="#333" stroke-width="0.7"/>
<line x1="482.80" y1="489.35" x2="485.60" y2="489.35" stroke="#333" stroke-width="0.7"/>
<line x1="482.80" y1="491.39" x2="485.60" y2="491.39" stroke="#333" stroke-width="0.7"/>
<rect x="482.20" y="488.37" width="4.00" height="4.00" fill="#111"/>
<path d="M307.80,497.00 L320.40,491.25 L366.60,472.01 L425.40,451.30 L484.20,490.88" stroke="#222" stroke-width="0.7" fill="none"/>
<path d="M318.15,493.05 L320.40,489.00 L322.65,493.05 Z" fill="#111"/>
<line x1="366.60" y1="468.95" x2="366.60" y2="477.62" stroke="#333" stroke-width="0.7"/>
<line x1="365.20" y1="468.95" x2="368.00" y2="468.95" stroke="#333" stroke-width="0.7"/>
<line x1="365.20" y1="477.62" x2="368.00" y2="477.62" stroke="#333" stroke-width="0.7"/>
<path d="M364.35,473.81 L366.60,469.76 L368.85,473.81 Z" fill="#111"/>
<line x1="425.40" y1="443.65" x2="425.40" y2="470.40" stroke="#333" stroke-width="0.7"/>
<line x1="424.00" y1="443.65" x2="426.80" y2="443.65" stroke="#333" stroke-width="0.7"/>
<line x1="424.00" y1="470.40" x2="426.80" y2="470.40" stroke="#333" stroke-width="0.7"/>
<path d="M423.15,453.10 L425.40,449.05 L427.65,453.10 Z" fill="#111"/>
<line x1="484.20" y1="489.86" x2="484.20" y2="491.90" stroke="#333" stroke-width="0.7"/>
<line x1="482.80" y1="489.86" x2="485.60" y2="489.86" stroke="#333" stroke-width="0.7"/>
<line x1="482.80" y1="491.90" x2="485.60" y2="491.90" stroke="#333" stroke-width="0.7"/>
<path d="M481.95,492.68 L484.20,488.63 L486.45,492.68 Z" fill="#111"/>
<line x1="346.30" y1="524.40" x2="357.00" y2="524.40" stroke="#333" stroke-width="1.2"/>
<circle cx="351.65" cy="524.40" r="1.80" fill="#bbb" stroke="#777" stroke-width="0.6"/>
<text x="362.90" y="526.90" font-size="7.0" text-anchor="start" fill="#444" stroke="#444" stroke-width="0.22">IFA Vac CD4</text>
<line x1="346.30" y1="533.90" x2="357.00" y2="533.90" stroke="#111" stroke-width="1.2"/>
<circle cx="351.65" cy="533.90" r="1.62" fill="#111"/>
<text x="362.90" y="536.40" font-size="7.0" text-anchor="start" fill="#1a1a1a" stroke="#1a1a1a" stroke-width="0.22">WT1+IFA Vac WT1-tet<tspan font-size="4.5" dy="-2.6">+</tspan><tspan dy="2.6"> CD8</tspan></text>
<line x1="346.30" y1="543.10" x2="357.00" y2="543.10" stroke="#111" stroke-width="1.2"/>
<rect x="349.73" y="541.18" width="3.84" height="3.84" fill="#111"/>
<text x="362.90" y="545.60" font-size="7.0" text-anchor="start" fill="#1a1a1a" stroke="#1a1a1a" stroke-width="0.22">WT1+IFA Vac WT1-tet<tspan font-size="4.5" dy="-2.6">+</tspan><tspan dy="2.6"> CD8 + IFA Vac CD4</tspan></text>
<line x1="346.30" y1="552.40" x2="357.00" y2="552.40" stroke="#111" stroke-width="1.2"/>
<path d="M349.49,554.13 L351.65,550.24 L353.81,554.13 Z" fill="#111"/>
<text x="362.90" y="554.90" font-size="7.0" text-anchor="start" fill="#1a1a1a" stroke="#1a1a1a" stroke-width="0.22">WT1+IFA Vac WT1-tet<tspan font-size="4.5" dy="-2.6">+</tspan><tspan dy="2.6"> CD8 + WT1+IFA Vac CD4</tspan></text>
<line x1="189.20" y1="586.50" x2="189.20" y2="727.00" stroke="#222" stroke-width="1.1"/>
<line x1="188.70" y1="726.50" x2="244.50" y2="726.50" stroke="#222" stroke-width="1.1"/>
<line x1="186.20" y1="726.50" x2="189.20" y2="726.50" stroke="#222" stroke-width="0.9"/>
<text x="184.90" y="729.20" font-size="7.3" font-weight="bold" text-anchor="end" fill="#1e1e1e" stroke="#1e1e1e" stroke-width="0.3">0</text>
<line x1="187.40" y1="709.00" x2="189.20" y2="709.00" stroke="#222" stroke-width="0.8"/>
<line x1="186.20" y1="691.50" x2="189.20" y2="691.50" stroke="#222" stroke-width="0.9"/>
<text x="184.90" y="694.20" font-size="7.3" font-weight="bold" text-anchor="end" fill="#1e1e1e" stroke="#1e1e1e" stroke-width="0.3">5</text>
<line x1="187.40" y1="674.00" x2="189.20" y2="674.00" stroke="#222" stroke-width="0.8"/>
<line x1="186.20" y1="656.50" x2="189.20" y2="656.50" stroke="#222" stroke-width="0.9"/>
<text x="184.90" y="659.20" font-size="7.3" font-weight="bold" text-anchor="end" fill="#1e1e1e" stroke="#1e1e1e" stroke-width="0.3">10</text>
<line x1="187.40" y1="639.00" x2="189.20" y2="639.00" stroke="#222" stroke-width="0.8"/>
<line x1="186.20" y1="621.50" x2="189.20" y2="621.50" stroke="#222" stroke-width="0.9"/>
<text x="184.90" y="624.20" font-size="7.3" font-weight="bold" text-anchor="end" fill="#1e1e1e" stroke="#1e1e1e" stroke-width="0.3">15</text>
<line x1="187.40" y1="604.00" x2="189.20" y2="604.00" stroke="#222" stroke-width="0.8"/>
<line x1="186.20" y1="586.50" x2="189.20" y2="586.50" stroke="#222" stroke-width="0.9"/>
<text x="184.90" y="589.20" font-size="7.3" font-weight="bold" text-anchor="end" fill="#1e1e1e" stroke="#1e1e1e" stroke-width="0.3">20</text>
<line x1="207.10" y1="726.50" x2="207.10" y2="729.30" stroke="#222" stroke-width="0.9"/>
<line x1="243.10" y1="726.50" x2="243.10" y2="729.30" stroke="#222" stroke-width="0.9"/>
<text x="209.50" y="739.60" font-size="7.6" text-anchor="middle" fill="#1e1e1e" stroke="#1e1e1e" stroke-width="0.22">H11</text>
<text x="246.00" y="739.60" font-size="7.6" text-anchor="middle" fill="#1e1e1e" stroke="#1e1e1e" stroke-width="0.22">FBL3</text>
<text x="170.60" y="648.60" font-size="7.75" text-anchor="middle" transform="rotate(-90 170.60 648.60)" fill="#1e1e1e" stroke="#1e1e1e" stroke-width="0.22">% CD8 T cells IFN-γ<tspan font-size="4.5" dy="-2.5">+</tspan></text>
<path d="M207.8,670.4 L207.8,589.2 L243.1,589.2 L243.1,594" stroke="#333" stroke-width="1.1" fill="none"/>
<circle cx="226.9" cy="585.0" r="0.85" fill="#222"/>
<path d="M198.98,685.68 L203.02,685.68 L201.00,689.32 Z" fill="#111"/>
<path d="M205.68,679.88 L209.72,679.88 L207.70,683.52 Z" fill="#111"/>
<path d="M211.78,681.88 L215.82,681.88 L213.80,685.52 Z" fill="#111"/>
<path d="M205.68,687.58 L209.72,687.58 L207.70,691.22 Z" fill="#111"/>
<path d="M205.68,700.08 L209.72,700.08 L207.70,703.72 Z" fill="#111"/>
<line x1="195.60" y1="688.70" x2="219.20" y2="688.70" stroke="#111" stroke-width="1.1"/>
<rect x="235.03" y="596.43" width="3.74" height="3.74" fill="#111"/>
<rect x="241.23" y="600.23" width="3.74" height="3.74" fill="#111"/>
<rect x="241.23" y="630.43" width="3.74" height="3.74" fill="#111"/>
<rect x="241.23" y="639.63" width="3.74" height="3.74" fill="#111"/>
<rect x="241.23" y="650.83" width="3.74" height="3.74" fill="#111"/>
<line x1="231.25" y1="625.50" x2="255.00" y2="625.50" stroke="#111" stroke-width="1.1"/>
<line x1="329.40" y1="586.10" x2="329.40" y2="725.10" stroke="#222" stroke-width="1.1"/>
<line x1="328.90" y1="724.60" x2="455.00" y2="724.60" stroke="#222" stroke-width="1.1"/>
<line x1="326.40" y1="724.60" x2="329.40" y2="724.60" stroke="#222" stroke-width="0.9"/>
<text x="325.40" y="727.30" font-size="7.5" text-anchor="end" fill="#333" stroke="#333" stroke-width="0.22">0</text>
<line x1="327.60" y1="710.75" x2="329.40" y2="710.75" stroke="#222" stroke-width="0.8"/>
<line x1="326.40" y1="696.90" x2="329.40" y2="696.90" stroke="#222" stroke-width="0.9"/>
<text x="325.40" y="699.60" font-size="7.5" text-anchor="end" fill="#333" stroke="#333" stroke-width="0.22">1</text>
<line x1="327.60" y1="683.05" x2="329.40" y2="683.05" stroke="#222" stroke-width="0.8"/>
<line x1="326.40" y1="669.20" x2="329.40" y2="669.20" stroke="#222" stroke-width="0.9"/>
<text x="325.40" y="671.90" font-size="7.5" text-anchor="end" fill="#333" stroke="#333" stroke-width="0.22">2</text>
<line x1="327.60" y1="655.35" x2="329.40" y2="655.35" stroke="#222" stroke-width="0.8"/>
<line x1="326.40" y1="641.50" x2="329.40" y2="641.50" stroke="#222" stroke-width="0.9"/>
<text x="325.40" y="644.20" font-size="7.5" text-anchor="end" fill="#333" stroke="#333" stroke-width="0.22">3</text>
<line x1="327.60" y1="627.65" x2="329.40" y2="627.65" stroke="#222" stroke-width="0.8"/>
<line x1="326.40" y1="613.80" x2="329.40" y2="613.80" stroke="#222" stroke-width="0.9"/>
<text x="325.40" y="616.50" font-size="7.5" text-anchor="end" fill="#333" stroke="#333" stroke-width="0.22">4</text>
<line x1="327.60" y1="599.95" x2="329.40" y2="599.95" stroke="#222" stroke-width="0.8"/>
<line x1="326.40" y1="586.10" x2="329.40" y2="586.10" stroke="#222" stroke-width="0.9"/>
<text x="325.40" y="588.80" font-size="7.5" text-anchor="end" fill="#333" stroke="#333" stroke-width="0.22">5</text>
<line x1="352.10" y1="724.60" x2="352.10" y2="727.40" stroke="#222" stroke-width="0.9"/>
<text x="347.30" y="738.50" font-size="7.6" text-anchor="middle" fill="#1e1e1e" stroke="#1e1e1e" stroke-width="0.22">Day 50</text>
<line x1="397.90" y1="724.60" x2="397.90" y2="727.40" stroke="#222" stroke-width="0.9"/>
<text x="394.00" y="738.50" font-size="7.6" text-anchor="middle" fill="#1e1e1e" stroke="#1e1e1e" stroke-width="0.22">Day 75</text>
<line x1="444.30" y1="724.60" x2="444.30" y2="727.40" stroke="#222" stroke-width="0.9"/>
<text x="436.60" y="738.50" font-size="7.6" text-anchor="middle" fill="#1e1e1e" stroke="#1e1e1e" stroke-width="0.22">Day 100</text>
<text x="315.20" y="657.60" font-size="7.75" text-anchor="middle" transform="rotate(-90 315.20 657.60)" fill="#1e1e1e" stroke="#1e1e1e" stroke-width="0.22">% CD8 T cells  WT1-tetramer<tspan font-size="4.5" dy="-2.5">+</tspan></text>
<path d="M352.1,600.23 L397.9,666.15 L444.3,707.98" stroke="#222" stroke-width="1.05" fill="none"/>
<path d="M352.1,611.31 L397.9,689.14 L444.3,709.37" stroke="#222" stroke-width="1.05" fill="none"/>
<path d="M352.1,624.88 L397.9,672.80 L444.3,709.37" stroke="#222" stroke-width="1.05" fill="none"/>
<path d="M352.1,641.78 L397.9,692.47 L444.3,710.75" stroke="#222" stroke-width="1.05" fill="none"/>
<path d="M352.1,661.44 L397.9,694.13 L444.3,707.98" stroke="#222" stroke-width="1.05" fill="none"/>
<path d="M352.10,598.03 L354.30,600.23 L352.10,602.43 L349.90,600.23 Z" fill="#111"/>
<path d="M397.90,663.95 L400.10,666.15 L397.90,668.35 L395.70,666.15 Z" fill="#111"/>
<path d="M444.30,705.78 L446.50,707.98 L444.30,710.18 L442.10,707.98 Z" fill="#111"/>
<path d="M352.10,609.11 L354.30,611.31 L352.10,613.51 L349.90,611.31 Z" fill="#111"/>
<path d="M397.90,686.94 L400.10,689.14 L397.90,691.34 L395.70,689.14 Z" fill="#111"/>
<path d="M444.30,707.16 L446.50,709.37 L444.30,711.57 L442.10,709.37 Z" fill="#111"/>
<path d="M352.10,622.68 L354.30,624.88 L352.10,627.08 L349.90,624.88 Z" fill="#111"/>
<path d="M397.90,670.60 L400.10,672.80 L397.90,675.00 L395.70,672.80 Z" fill="#111"/>
<path d="M444.30,707.16 L446.50,709.37 L444.30,711.57 L442.10,709.37 Z" fill="#111"/>
<path d="M352.10,639.58 L354.30,641.78 L352.10,643.98 L349.90,641.78 Z" fill="#111"/>
<path d="M397.90,690.27 L400.10,692.47 L397.90,694.67 L395.70,692.47 Z" fill="#111"/>
<path d="M444.30,708.55 L446.50,710.75 L444.30,712.95 L442.10,710.75 Z" fill="#111"/>
<path d="M352.10,659.24 L354.30,661.44 L352.10,663.64 L349.90,661.44 Z" fill="#111"/>
<path d="M397.90,691.93 L400.10,694.13 L397.90,696.33 L395.70,694.13 Z" fill="#111"/>
<path d="M444.30,705.78 L446.50,707.98 L444.30,710.18 L442.10,707.98 Z" fill="#111"/>
<line x1="342.30" y1="627.65" x2="361.30" y2="627.65" stroke="#111" stroke-width="1.5"/>
<line x1="388.00" y1="683.05" x2="407.00" y2="683.05" stroke="#111" stroke-width="1.5"/>
<line x1="433.80" y1="709.37" x2="454.00" y2="709.37" stroke="#111" stroke-width="1.5"/>
</svg></body></html>
